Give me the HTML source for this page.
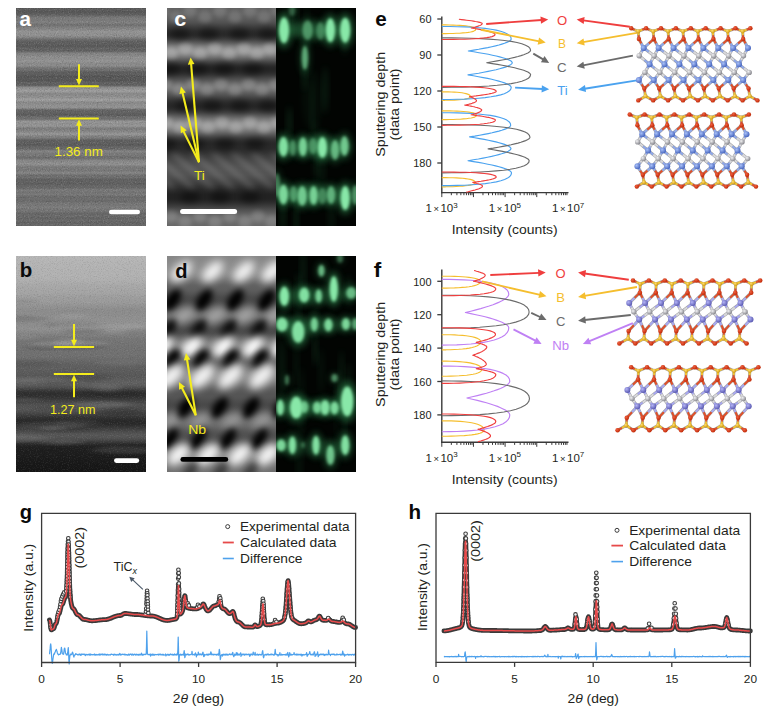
<!DOCTYPE html><html><head><meta charset="utf-8"><style>html,body{margin:0;padding:0;background:#fff;width:774px;height:714px;overflow:hidden}svg{display:block}text{font-family:"Liberation Sans",sans-serif}</style></head><body>
<svg width="774" height="714" viewBox="0 0 774 714">
<defs>
<filter id="noise" x="0" y="0" width="100%" height="100%"><feTurbulence type="fractalNoise" baseFrequency="0.85" numOctaves="2" seed="7" result="t"/><feColorMatrix in="t" type="matrix" values="0 0 0 0 0  0 0 0 0 0  0 0 0 0 0  0 0 0 -1.1 0.55"/></filter>
<filter id="noise2" x="0" y="0" width="100%" height="100%"><feTurbulence type="fractalNoise" baseFrequency="0.85" numOctaves="2" seed="11" result="t"/><feColorMatrix in="t" type="matrix" values="0 0 0 0 1  0 0 0 0 1  0 0 0 0 1  0 0 0 1.1 -0.55"/></filter>
<filter id="hblur" x="-10%" y="-10%" width="120%" height="120%"><feGaussianBlur stdDeviation="6 1.2"/></filter>
<filter id="blur2" x="-50%" y="-50%" width="200%" height="200%"><feGaussianBlur stdDeviation="2.2"/></filter>
<filter id="blur3" x="-50%" y="-50%" width="200%" height="200%"><feGaussianBlur stdDeviation="3.2"/></filter><filter id="blur4" x="-60%" y="-60%" width="220%" height="220%"><feGaussianBlur stdDeviation="4"/></filter><filter id="sblur" filterUnits="userSpaceOnUse" x="150" y="140" width="150" height="60"><feGaussianBlur stdDeviation="3"/></filter>
<filter id="gblur" x="-50%" y="-50%" width="200%" height="200%"><feGaussianBlur stdDeviation="1.6"/></filter>
<filter id="gglow" x="-50%" y="-50%" width="200%" height="200%"><feGaussianBlur stdDeviation="3"/></filter>
<clipPath id="ca"><rect x="16" y="8" width="130" height="218"/></clipPath>
<clipPath id="cb"><rect x="16" y="256" width="130" height="216"/></clipPath>
<clipPath id="cc"><rect x="167" y="8" width="109" height="218"/></clipPath>
<clipPath id="cd"><rect x="167" y="256" width="109" height="216"/></clipPath>
<clipPath id="cgc"><rect x="276" y="8" width="80" height="218"/></clipPath>
<clipPath id="cgd"><rect x="276" y="256" width="80" height="216"/></clipPath>
</defs>
<g clip-path="url(#ca)">
<linearGradient id="rg1" x1="0" y1="0" x2="0" y2="1"><stop offset="0.0000" stop-color="#555555"/><stop offset="0.0046" stop-color="#5a5a5a"/><stop offset="0.0092" stop-color="#5c5c5c"/><stop offset="0.0138" stop-color="#585858"/><stop offset="0.0183" stop-color="#565656"/><stop offset="0.0229" stop-color="#5a5a5a"/><stop offset="0.0275" stop-color="#5e5e5e"/><stop offset="0.0321" stop-color="#616161"/><stop offset="0.0367" stop-color="#6a6a6a"/><stop offset="0.0413" stop-color="#737373"/><stop offset="0.0459" stop-color="#797979"/><stop offset="0.0505" stop-color="#7b7b7b"/><stop offset="0.0550" stop-color="#797979"/><stop offset="0.0596" stop-color="#7b7b7b"/><stop offset="0.0642" stop-color="#808080"/><stop offset="0.0688" stop-color="#7e7e7e"/><stop offset="0.0734" stop-color="#757575"/><stop offset="0.0780" stop-color="#717171"/><stop offset="0.0826" stop-color="#757575"/><stop offset="0.0872" stop-color="#7d7d7d"/><stop offset="0.0917" stop-color="#838383"/><stop offset="0.0963" stop-color="#848484"/><stop offset="0.1009" stop-color="#898989"/><stop offset="0.1055" stop-color="#929292"/><stop offset="0.1101" stop-color="#949494"/><stop offset="0.1147" stop-color="#909090"/><stop offset="0.1193" stop-color="#909090"/><stop offset="0.1239" stop-color="#919191"/><stop offset="0.1284" stop-color="#8d8d8d"/><stop offset="0.1330" stop-color="#868686"/><stop offset="0.1376" stop-color="#7c7c7c"/><stop offset="0.1422" stop-color="#6f6f6f"/><stop offset="0.1468" stop-color="#686868"/><stop offset="0.1514" stop-color="#626262"/><stop offset="0.1560" stop-color="#5d5d5d"/><stop offset="0.1606" stop-color="#5d5d5d"/><stop offset="0.1651" stop-color="#5f5f5f"/><stop offset="0.1697" stop-color="#5b5b5b"/><stop offset="0.1743" stop-color="#575757"/><stop offset="0.1789" stop-color="#5b5b5b"/><stop offset="0.1835" stop-color="#626262"/><stop offset="0.1881" stop-color="#646464"/><stop offset="0.1927" stop-color="#606060"/><stop offset="0.1972" stop-color="#616161"/><stop offset="0.2018" stop-color="#6e6e6e"/><stop offset="0.2064" stop-color="#808080"/><stop offset="0.2110" stop-color="#848484"/><stop offset="0.2156" stop-color="#838383"/><stop offset="0.2202" stop-color="#8b8b8b"/><stop offset="0.2248" stop-color="#909090"/><stop offset="0.2294" stop-color="#8e8e8e"/><stop offset="0.2339" stop-color="#8d8d8d"/><stop offset="0.2385" stop-color="#919191"/><stop offset="0.2431" stop-color="#959595"/><stop offset="0.2477" stop-color="#919191"/><stop offset="0.2523" stop-color="#8a8a8a"/><stop offset="0.2569" stop-color="#888888"/><stop offset="0.2615" stop-color="#8d8d8d"/><stop offset="0.2661" stop-color="#8a8a8a"/><stop offset="0.2706" stop-color="#7e7e7e"/><stop offset="0.2752" stop-color="#737373"/><stop offset="0.2798" stop-color="#707070"/><stop offset="0.2844" stop-color="#707070"/><stop offset="0.2890" stop-color="#686868"/><stop offset="0.2936" stop-color="#5d5d5d"/><stop offset="0.2982" stop-color="#5c5c5c"/><stop offset="0.3028" stop-color="#606060"/><stop offset="0.3073" stop-color="#5c5c5c"/><stop offset="0.3119" stop-color="#555555"/><stop offset="0.3165" stop-color="#545454"/><stop offset="0.3211" stop-color="#595959"/><stop offset="0.3257" stop-color="#595959"/><stop offset="0.3303" stop-color="#555555"/><stop offset="0.3349" stop-color="#565656"/><stop offset="0.3394" stop-color="#5e5e5e"/><stop offset="0.3440" stop-color="#626262"/><stop offset="0.3486" stop-color="#5f5f5f"/><stop offset="0.3532" stop-color="#5c5c5c"/><stop offset="0.3578" stop-color="#6c6c6c"/><stop offset="0.3624" stop-color="#878787"/><stop offset="0.3670" stop-color="#909090"/><stop offset="0.3716" stop-color="#929292"/><stop offset="0.3761" stop-color="#9a9a9a"/><stop offset="0.3807" stop-color="#9e9e9e"/><stop offset="0.3853" stop-color="#989898"/><stop offset="0.3899" stop-color="#8c8c8c"/><stop offset="0.3945" stop-color="#878787"/><stop offset="0.3991" stop-color="#8a8a8a"/><stop offset="0.4037" stop-color="#8e8e8e"/><stop offset="0.4083" stop-color="#8f8f8f"/><stop offset="0.4128" stop-color="#939393"/><stop offset="0.4174" stop-color="#9c9c9c"/><stop offset="0.4220" stop-color="#9f9f9f"/><stop offset="0.4266" stop-color="#979797"/><stop offset="0.4312" stop-color="#8b8b8b"/><stop offset="0.4358" stop-color="#888888"/><stop offset="0.4404" stop-color="#8c8c8c"/><stop offset="0.4450" stop-color="#8f8f8f"/><stop offset="0.4495" stop-color="#909090"/><stop offset="0.4541" stop-color="#939393"/><stop offset="0.4587" stop-color="#8d8d8d"/><stop offset="0.4633" stop-color="#767676"/><stop offset="0.4679" stop-color="#656565"/><stop offset="0.4725" stop-color="#626262"/><stop offset="0.4771" stop-color="#636363"/><stop offset="0.4817" stop-color="#626262"/><stop offset="0.4862" stop-color="#5c5c5c"/><stop offset="0.4908" stop-color="#5a5a5a"/><stop offset="0.4954" stop-color="#636363"/><stop offset="0.5000" stop-color="#6e6e6e"/><stop offset="0.5046" stop-color="#6d6d6d"/><stop offset="0.5092" stop-color="#6e6e6e"/><stop offset="0.5138" stop-color="#7e7e7e"/><stop offset="0.5183" stop-color="#919191"/><stop offset="0.5229" stop-color="#979797"/><stop offset="0.5275" stop-color="#919191"/><stop offset="0.5321" stop-color="#909090"/><stop offset="0.5367" stop-color="#949494"/><stop offset="0.5413" stop-color="#969696"/><stop offset="0.5459" stop-color="#8b8b8b"/><stop offset="0.5505" stop-color="#7d7d7d"/><stop offset="0.5550" stop-color="#7b7b7b"/><stop offset="0.5596" stop-color="#818181"/><stop offset="0.5642" stop-color="#858585"/><stop offset="0.5688" stop-color="#888888"/><stop offset="0.5734" stop-color="#909090"/><stop offset="0.5780" stop-color="#979797"/><stop offset="0.5826" stop-color="#919191"/><stop offset="0.5872" stop-color="#828282"/><stop offset="0.5917" stop-color="#7d7d7d"/><stop offset="0.5963" stop-color="#7b7b7b"/><stop offset="0.6009" stop-color="#6d6d6d"/><stop offset="0.6055" stop-color="#616161"/><stop offset="0.6101" stop-color="#5d5d5d"/><stop offset="0.6147" stop-color="#606060"/><stop offset="0.6193" stop-color="#616161"/><stop offset="0.6239" stop-color="#5c5c5c"/><stop offset="0.6284" stop-color="#595959"/><stop offset="0.6330" stop-color="#5f5f5f"/><stop offset="0.6376" stop-color="#676767"/><stop offset="0.6422" stop-color="#666666"/><stop offset="0.6468" stop-color="#686868"/><stop offset="0.6514" stop-color="#767676"/><stop offset="0.6560" stop-color="#838383"/><stop offset="0.6606" stop-color="#828282"/><stop offset="0.6651" stop-color="#7a7a7a"/><stop offset="0.6697" stop-color="#777777"/><stop offset="0.6743" stop-color="#797979"/><stop offset="0.6789" stop-color="#757575"/><stop offset="0.6835" stop-color="#6e6e6e"/><stop offset="0.6881" stop-color="#6c6c6c"/><stop offset="0.6927" stop-color="#767676"/><stop offset="0.6972" stop-color="#828282"/><stop offset="0.7018" stop-color="#888888"/><stop offset="0.7064" stop-color="#898989"/><stop offset="0.7110" stop-color="#8d8d8d"/><stop offset="0.7156" stop-color="#909090"/><stop offset="0.7202" stop-color="#8c8c8c"/><stop offset="0.7248" stop-color="#808080"/><stop offset="0.7294" stop-color="#797979"/><stop offset="0.7339" stop-color="#797979"/><stop offset="0.7385" stop-color="#7a7a7a"/><stop offset="0.7431" stop-color="#777777"/><stop offset="0.7477" stop-color="#787878"/><stop offset="0.7523" stop-color="#808080"/><stop offset="0.7569" stop-color="#858585"/><stop offset="0.7615" stop-color="#7d7d7d"/><stop offset="0.7661" stop-color="#6f6f6f"/><stop offset="0.7706" stop-color="#6d6d6d"/><stop offset="0.7752" stop-color="#707070"/><stop offset="0.7798" stop-color="#6c6c6c"/><stop offset="0.7844" stop-color="#626262"/><stop offset="0.7890" stop-color="#5e5e5e"/><stop offset="0.7936" stop-color="#626262"/><stop offset="0.7982" stop-color="#636363"/><stop offset="0.8028" stop-color="#5f5f5f"/><stop offset="0.8073" stop-color="#5e5e5e"/><stop offset="0.8119" stop-color="#636363"/><stop offset="0.8165" stop-color="#666666"/><stop offset="0.8211" stop-color="#666666"/><stop offset="0.8257" stop-color="#686868"/><stop offset="0.8303" stop-color="#727272"/><stop offset="0.8349" stop-color="#7a7a7a"/><stop offset="0.8394" stop-color="#787878"/><stop offset="0.8440" stop-color="#737373"/><stop offset="0.8486" stop-color="#737373"/><stop offset="0.8532" stop-color="#797979"/><stop offset="0.8578" stop-color="#787878"/><stop offset="0.8624" stop-color="#6e6e6e"/><stop offset="0.8670" stop-color="#696969"/><stop offset="0.8716" stop-color="#6c6c6c"/><stop offset="0.8761" stop-color="#6f6f6f"/><stop offset="0.8807" stop-color="#6c6c6c"/><stop offset="0.8853" stop-color="#696969"/><stop offset="0.8899" stop-color="#6e6e6e"/><stop offset="0.8945" stop-color="#757575"/><stop offset="0.8991" stop-color="#777777"/><stop offset="0.9037" stop-color="#757575"/><stop offset="0.9083" stop-color="#787878"/><stop offset="0.9128" stop-color="#7d7d7d"/><stop offset="0.9174" stop-color="#7c7c7c"/><stop offset="0.9220" stop-color="#757575"/><stop offset="0.9266" stop-color="#747474"/><stop offset="0.9312" stop-color="#757575"/><stop offset="0.9358" stop-color="#707070"/><stop offset="0.9404" stop-color="#686868"/><stop offset="0.9450" stop-color="#646464"/><stop offset="0.9495" stop-color="#686868"/><stop offset="0.9541" stop-color="#6c6c6c"/><stop offset="0.9587" stop-color="#686868"/><stop offset="0.9633" stop-color="#636363"/><stop offset="0.9679" stop-color="#656565"/><stop offset="0.9725" stop-color="#6a6a6a"/><stop offset="0.9771" stop-color="#696969"/><stop offset="0.9817" stop-color="#636363"/><stop offset="0.9862" stop-color="#626262"/><stop offset="0.9908" stop-color="#676767"/><stop offset="0.9954" stop-color="#686868"/><stop offset="1.0000" stop-color="#636363"/></linearGradient>
<rect x="16" y="8" width="130" height="218" fill="url(#rg1)"/>
<rect x="16" y="8" width="130" height="218" filter="url(#noise)" opacity="0.38"/>
<rect x="16" y="8" width="130" height="218" filter="url(#noise2)" opacity="0.38"/>
</g>
<g clip-path="url(#cb)">
<linearGradient id="rg2" x1="0" y1="0" x2="0" y2="1"><stop offset="0.0000" stop-color="#b6b6b6"/><stop offset="0.0093" stop-color="#b6b6b6"/><stop offset="0.0185" stop-color="#b6b6b6"/><stop offset="0.0278" stop-color="#b5b5b5"/><stop offset="0.0370" stop-color="#b4b4b4"/><stop offset="0.0463" stop-color="#b4b4b4"/><stop offset="0.0556" stop-color="#b3b3b3"/><stop offset="0.0648" stop-color="#b3b3b3"/><stop offset="0.0741" stop-color="#b2b2b2"/><stop offset="0.0833" stop-color="#b2b2b2"/><stop offset="0.0926" stop-color="#b2b2b2"/><stop offset="0.1019" stop-color="#b1b1b1"/><stop offset="0.1111" stop-color="#afafaf"/><stop offset="0.1204" stop-color="#adadad"/><stop offset="0.1296" stop-color="#aaaaaa"/><stop offset="0.1389" stop-color="#a8a8a8"/><stop offset="0.1481" stop-color="#a7a7a7"/><stop offset="0.1574" stop-color="#a6a6a6"/><stop offset="0.1667" stop-color="#a5a5a5"/><stop offset="0.1759" stop-color="#a3a3a3"/><stop offset="0.1852" stop-color="#9f9f9f"/><stop offset="0.1944" stop-color="#9d9d9d"/><stop offset="0.2037" stop-color="#9c9c9c"/><stop offset="0.2130" stop-color="#9b9b9b"/><stop offset="0.2222" stop-color="#979797"/><stop offset="0.2315" stop-color="#939393"/><stop offset="0.2407" stop-color="#8f8f8f"/><stop offset="0.2500" stop-color="#8c8c8c"/><stop offset="0.2593" stop-color="#8c8c8c"/><stop offset="0.2685" stop-color="#8d8d8d"/><stop offset="0.2778" stop-color="#8e8e8e"/><stop offset="0.2870" stop-color="#8f8f8f"/><stop offset="0.2963" stop-color="#909090"/><stop offset="0.3056" stop-color="#919191"/><stop offset="0.3148" stop-color="#929292"/><stop offset="0.3241" stop-color="#929292"/><stop offset="0.3333" stop-color="#919191"/><stop offset="0.3426" stop-color="#8e8e8e"/><stop offset="0.3519" stop-color="#898989"/><stop offset="0.3611" stop-color="#838383"/><stop offset="0.3704" stop-color="#7d7d7d"/><stop offset="0.3796" stop-color="#787878"/><stop offset="0.3889" stop-color="#757575"/><stop offset="0.3981" stop-color="#747474"/><stop offset="0.4074" stop-color="#747474"/><stop offset="0.4167" stop-color="#737373"/><stop offset="0.4259" stop-color="#727272"/><stop offset="0.4352" stop-color="#717171"/><stop offset="0.4444" stop-color="#717171"/><stop offset="0.4537" stop-color="#707070"/><stop offset="0.4630" stop-color="#707070"/><stop offset="0.4722" stop-color="#6d6d6d"/><stop offset="0.4815" stop-color="#696969"/><stop offset="0.4907" stop-color="#656565"/><stop offset="0.5000" stop-color="#616161"/><stop offset="0.5093" stop-color="#606060"/><stop offset="0.5185" stop-color="#5f5f5f"/><stop offset="0.5278" stop-color="#5d5d5d"/><stop offset="0.5370" stop-color="#5b5b5b"/><stop offset="0.5463" stop-color="#595959"/><stop offset="0.5556" stop-color="#585858"/><stop offset="0.5648" stop-color="#5a5a5a"/><stop offset="0.5741" stop-color="#5d5d5d"/><stop offset="0.5833" stop-color="#606060"/><stop offset="0.5926" stop-color="#5f5f5f"/><stop offset="0.6019" stop-color="#575757"/><stop offset="0.6111" stop-color="#4b4b4b"/><stop offset="0.6204" stop-color="#3d3d3d"/><stop offset="0.6296" stop-color="#323232"/><stop offset="0.6389" stop-color="#2e2e2e"/><stop offset="0.6481" stop-color="#303030"/><stop offset="0.6574" stop-color="#353535"/><stop offset="0.6667" stop-color="#3d3d3d"/><stop offset="0.6759" stop-color="#454545"/><stop offset="0.6852" stop-color="#4d4d4d"/><stop offset="0.6944" stop-color="#525252"/><stop offset="0.7037" stop-color="#545454"/><stop offset="0.7130" stop-color="#525252"/><stop offset="0.7222" stop-color="#4c4c4c"/><stop offset="0.7315" stop-color="#434343"/><stop offset="0.7407" stop-color="#393939"/><stop offset="0.7500" stop-color="#303030"/><stop offset="0.7593" stop-color="#2a2a2a"/><stop offset="0.7685" stop-color="#282828"/><stop offset="0.7778" stop-color="#2a2a2a"/><stop offset="0.7870" stop-color="#313131"/><stop offset="0.7963" stop-color="#3a3a3a"/><stop offset="0.8056" stop-color="#444444"/><stop offset="0.8148" stop-color="#4d4d4d"/><stop offset="0.8241" stop-color="#545454"/><stop offset="0.8333" stop-color="#565656"/><stop offset="0.8426" stop-color="#525252"/><stop offset="0.8519" stop-color="#484848"/><stop offset="0.8611" stop-color="#3a3a3a"/><stop offset="0.8704" stop-color="#2c2c2c"/><stop offset="0.8796" stop-color="#222222"/><stop offset="0.8889" stop-color="#1e1e1e"/><stop offset="0.8981" stop-color="#1e1e1e"/><stop offset="0.9074" stop-color="#1d1d1d"/><stop offset="0.9167" stop-color="#1d1d1d"/><stop offset="0.9259" stop-color="#1c1c1c"/><stop offset="0.9352" stop-color="#1b1b1b"/><stop offset="0.9444" stop-color="#1a1a1a"/><stop offset="0.9537" stop-color="#191919"/><stop offset="0.9630" stop-color="#181818"/><stop offset="0.9722" stop-color="#171717"/><stop offset="0.9815" stop-color="#171717"/><stop offset="0.9907" stop-color="#161616"/><stop offset="1.0000" stop-color="#161616"/></linearGradient>
<rect x="16" y="256" width="130" height="216" fill="url(#rg2)"/>
<ellipse cx="112.4" cy="393.4" rx="29.9" ry="3.7" fill="#000000" opacity="0.10" filter="url(#hblur)"/>
<ellipse cx="22.7" cy="337.4" rx="13.9" ry="2.9" fill="#ffffff" opacity="0.07" filter="url(#hblur)"/>
<ellipse cx="90.6" cy="381.6" rx="10.3" ry="2.8" fill="#000000" opacity="0.06" filter="url(#hblur)"/>
<ellipse cx="66.6" cy="430.1" rx="29.0" ry="2.3" fill="#000000" opacity="0.09" filter="url(#hblur)"/>
<ellipse cx="16.2" cy="319.0" rx="31.8" ry="3.5" fill="#000000" opacity="0.12" filter="url(#hblur)"/>
<ellipse cx="37.6" cy="324.9" rx="17.8" ry="3.1" fill="#000000" opacity="0.10" filter="url(#hblur)"/>
<ellipse cx="138.3" cy="330.7" rx="27.3" ry="2.6" fill="#ffffff" opacity="0.08" filter="url(#hblur)"/>
<ellipse cx="34.9" cy="324.9" rx="11.6" ry="3.6" fill="#ffffff" opacity="0.09" filter="url(#hblur)"/>
<ellipse cx="108.0" cy="389.4" rx="11.7" ry="3.6" fill="#ffffff" opacity="0.08" filter="url(#hblur)"/>
<ellipse cx="78.6" cy="347.4" rx="27.6" ry="2.5" fill="#000000" opacity="0.12" filter="url(#hblur)"/>
<ellipse cx="62.5" cy="442.4" rx="20.1" ry="2.7" fill="#ffffff" opacity="0.09" filter="url(#hblur)"/>
<ellipse cx="22.1" cy="301.4" rx="14.5" ry="2.2" fill="#000000" opacity="0.07" filter="url(#hblur)"/>
<ellipse cx="76.1" cy="422.9" rx="22.8" ry="3.6" fill="#ffffff" opacity="0.06" filter="url(#hblur)"/>
<ellipse cx="119.6" cy="412.3" rx="31.5" ry="2.9" fill="#000000" opacity="0.12" filter="url(#hblur)"/>
<ellipse cx="82.7" cy="331.3" rx="19.1" ry="2.7" fill="#000000" opacity="0.11" filter="url(#hblur)"/>
<ellipse cx="56.6" cy="381.8" rx="17.9" ry="3.6" fill="#000000" opacity="0.09" filter="url(#hblur)"/>
<ellipse cx="56.2" cy="408.2" rx="22.1" ry="2.2" fill="#000000" opacity="0.09" filter="url(#hblur)"/>
<ellipse cx="20.1" cy="438.5" rx="28.5" ry="3.7" fill="#ffffff" opacity="0.08" filter="url(#hblur)"/>
<ellipse cx="23.2" cy="363.3" rx="32.9" ry="3.6" fill="#000000" opacity="0.07" filter="url(#hblur)"/>
<ellipse cx="143.6" cy="331.1" rx="24.1" ry="3.3" fill="#000000" opacity="0.11" filter="url(#hblur)"/>
<ellipse cx="72.5" cy="316.0" rx="13.7" ry="2.6" fill="#ffffff" opacity="0.08" filter="url(#hblur)"/>
<ellipse cx="126.8" cy="449.9" rx="34.4" ry="3.9" fill="#ffffff" opacity="0.10" filter="url(#hblur)"/>
<ellipse cx="51.6" cy="347.7" rx="21.8" ry="2.2" fill="#000000" opacity="0.11" filter="url(#hblur)"/>
<ellipse cx="39.3" cy="379.8" rx="33.4" ry="2.4" fill="#ffffff" opacity="0.08" filter="url(#hblur)"/>
<ellipse cx="87.3" cy="377.3" rx="22.6" ry="3.6" fill="#000000" opacity="0.10" filter="url(#hblur)"/>
<ellipse cx="102.3" cy="404.2" rx="29.0" ry="3.1" fill="#ffffff" opacity="0.10" filter="url(#hblur)"/>
<ellipse cx="50.4" cy="425.3" rx="34.5" ry="3.9" fill="#ffffff" opacity="0.07" filter="url(#hblur)"/>
<ellipse cx="126.7" cy="326.8" rx="21.9" ry="2.7" fill="#ffffff" opacity="0.07" filter="url(#hblur)"/>
<ellipse cx="81.0" cy="343.3" rx="26.8" ry="2.7" fill="#ffffff" opacity="0.10" filter="url(#hblur)"/>
<ellipse cx="123.7" cy="410.7" rx="18.8" ry="3.7" fill="#000000" opacity="0.10" filter="url(#hblur)"/>
<ellipse cx="140.3" cy="446.4" rx="23.0" ry="2.4" fill="#000000" opacity="0.08" filter="url(#hblur)"/>
<ellipse cx="52.8" cy="428.1" rx="12.0" ry="2.3" fill="#ffffff" opacity="0.10" filter="url(#hblur)"/>
<ellipse cx="102.5" cy="387.1" rx="20.5" ry="3.4" fill="#ffffff" opacity="0.05" filter="url(#hblur)"/>
<ellipse cx="73.3" cy="324.0" rx="26.3" ry="3.5" fill="#000000" opacity="0.06" filter="url(#hblur)"/>
<ellipse cx="144.2" cy="407.8" rx="34.5" ry="2.1" fill="#000000" opacity="0.06" filter="url(#hblur)"/>
<ellipse cx="39.6" cy="347.6" rx="14.8" ry="2.8" fill="#000000" opacity="0.07" filter="url(#hblur)"/>
<ellipse cx="25.4" cy="399.4" rx="15.1" ry="2.0" fill="#ffffff" opacity="0.08" filter="url(#hblur)"/>
<ellipse cx="69.3" cy="341.8" rx="12.9" ry="3.9" fill="#ffffff" opacity="0.09" filter="url(#hblur)"/>
<ellipse cx="54.4" cy="345.2" rx="22.8" ry="3.9" fill="#ffffff" opacity="0.11" filter="url(#hblur)"/>
<ellipse cx="121.7" cy="362.9" rx="26.1" ry="2.9" fill="#ffffff" opacity="0.06" filter="url(#hblur)"/>
<rect x="16" y="256" width="130" height="216" filter="url(#noise)" opacity="0.25"/>
<rect x="16" y="256" width="130" height="216" filter="url(#noise2)" opacity="0.25"/>
</g>
<g clip-path="url(#cc)">
<linearGradient id="rg3" x1="0" y1="0" x2="0" y2="1"><stop offset="0.0000" stop-color="#5f5f5f"/><stop offset="0.0092" stop-color="#5f5f5f"/><stop offset="0.0183" stop-color="#5d5d5d"/><stop offset="0.0275" stop-color="#5c5c5c"/><stop offset="0.0367" stop-color="#5a5a5a"/><stop offset="0.0459" stop-color="#5a5a5a"/><stop offset="0.0550" stop-color="#585858"/><stop offset="0.0642" stop-color="#535353"/><stop offset="0.0734" stop-color="#4b4b4b"/><stop offset="0.0826" stop-color="#424242"/><stop offset="0.0917" stop-color="#393939"/><stop offset="0.1009" stop-color="#313131"/><stop offset="0.1101" stop-color="#2c2c2c"/><stop offset="0.1193" stop-color="#2a2a2a"/><stop offset="0.1284" stop-color="#2d2d2d"/><stop offset="0.1376" stop-color="#373737"/><stop offset="0.1468" stop-color="#454545"/><stop offset="0.1560" stop-color="#565656"/><stop offset="0.1651" stop-color="#686868"/><stop offset="0.1743" stop-color="#797979"/><stop offset="0.1835" stop-color="#858585"/><stop offset="0.1927" stop-color="#8b8b8b"/><stop offset="0.2018" stop-color="#8b8b8b"/><stop offset="0.2110" stop-color="#858585"/><stop offset="0.2202" stop-color="#797979"/><stop offset="0.2294" stop-color="#6a6a6a"/><stop offset="0.2385" stop-color="#585858"/><stop offset="0.2477" stop-color="#464646"/><stop offset="0.2569" stop-color="#373737"/><stop offset="0.2661" stop-color="#2b2b2b"/><stop offset="0.2752" stop-color="#252525"/><stop offset="0.2844" stop-color="#252525"/><stop offset="0.2936" stop-color="#292929"/><stop offset="0.3028" stop-color="#313131"/><stop offset="0.3119" stop-color="#3c3c3c"/><stop offset="0.3211" stop-color="#484848"/><stop offset="0.3303" stop-color="#545454"/><stop offset="0.3394" stop-color="#5f5f5f"/><stop offset="0.3486" stop-color="#676767"/><stop offset="0.3578" stop-color="#6b6b6b"/><stop offset="0.3670" stop-color="#6c6c6c"/><stop offset="0.3761" stop-color="#686868"/><stop offset="0.3853" stop-color="#616161"/><stop offset="0.3945" stop-color="#585858"/><stop offset="0.4037" stop-color="#4d4d4d"/><stop offset="0.4128" stop-color="#424242"/><stop offset="0.4220" stop-color="#373737"/><stop offset="0.4312" stop-color="#2f2f2f"/><stop offset="0.4404" stop-color="#2a2a2a"/><stop offset="0.4495" stop-color="#282828"/><stop offset="0.4587" stop-color="#2b2b2b"/><stop offset="0.4679" stop-color="#323232"/><stop offset="0.4771" stop-color="#3e3e3e"/><stop offset="0.4862" stop-color="#4d4d4d"/><stop offset="0.4954" stop-color="#5d5d5d"/><stop offset="0.5046" stop-color="#6d6d6d"/><stop offset="0.5138" stop-color="#7a7a7a"/><stop offset="0.5229" stop-color="#848484"/><stop offset="0.5321" stop-color="#898989"/><stop offset="0.5413" stop-color="#898989"/><stop offset="0.5505" stop-color="#848484"/><stop offset="0.5596" stop-color="#7a7a7a"/><stop offset="0.5688" stop-color="#6d6d6d"/><stop offset="0.5780" stop-color="#5d5d5d"/><stop offset="0.5872" stop-color="#4d4d4d"/><stop offset="0.5963" stop-color="#3e3e3e"/><stop offset="0.6055" stop-color="#323232"/><stop offset="0.6147" stop-color="#2b2b2b"/><stop offset="0.6239" stop-color="#282828"/><stop offset="0.6330" stop-color="#292929"/><stop offset="0.6422" stop-color="#2a2a2a"/><stop offset="0.6514" stop-color="#2d2d2d"/><stop offset="0.6606" stop-color="#313131"/><stop offset="0.6697" stop-color="#353535"/><stop offset="0.6789" stop-color="#3a3a3a"/><stop offset="0.6881" stop-color="#3e3e3e"/><stop offset="0.6972" stop-color="#434343"/><stop offset="0.7064" stop-color="#474747"/><stop offset="0.7156" stop-color="#4b4b4b"/><stop offset="0.7248" stop-color="#4e4e4e"/><stop offset="0.7339" stop-color="#4f4f4f"/><stop offset="0.7431" stop-color="#505050"/><stop offset="0.7523" stop-color="#4f4f4f"/><stop offset="0.7615" stop-color="#4e4e4e"/><stop offset="0.7706" stop-color="#4b4b4b"/><stop offset="0.7798" stop-color="#474747"/><stop offset="0.7890" stop-color="#424242"/><stop offset="0.7982" stop-color="#3d3d3d"/><stop offset="0.8073" stop-color="#383838"/><stop offset="0.8165" stop-color="#323232"/><stop offset="0.8257" stop-color="#2e2e2e"/><stop offset="0.8349" stop-color="#292929"/><stop offset="0.8440" stop-color="#262626"/><stop offset="0.8532" stop-color="#232323"/><stop offset="0.8624" stop-color="#222222"/><stop offset="0.8716" stop-color="#222222"/><stop offset="0.8807" stop-color="#252525"/><stop offset="0.8899" stop-color="#2b2b2b"/><stop offset="0.8991" stop-color="#333333"/><stop offset="0.9083" stop-color="#3c3c3c"/><stop offset="0.9174" stop-color="#464646"/><stop offset="0.9266" stop-color="#505050"/><stop offset="0.9358" stop-color="#595959"/><stop offset="0.9450" stop-color="#616161"/><stop offset="0.9541" stop-color="#676767"/><stop offset="0.9633" stop-color="#6a6a6a"/><stop offset="0.9725" stop-color="#6a6a6a"/><stop offset="0.9817" stop-color="#696969"/><stop offset="0.9908" stop-color="#686868"/><stop offset="1.0000" stop-color="#686868"/></linearGradient>
<rect x="167" y="8" width="109" height="218" fill="url(#rg3)"/>
<ellipse cx="157.0" cy="48.5" rx="7" ry="6" fill="#fff" opacity="0.22" filter="url(#blur2)"/>
<ellipse cx="171.0" cy="53.5" rx="7" ry="6" fill="#fff" opacity="0.22" filter="url(#blur2)"/>
<ellipse cx="185.5" cy="48.5" rx="7" ry="6" fill="#fff" opacity="0.22" filter="url(#blur2)"/>
<ellipse cx="200.0" cy="53.5" rx="7" ry="6" fill="#fff" opacity="0.22" filter="url(#blur2)"/>
<ellipse cx="214.8" cy="48.5" rx="7" ry="6" fill="#fff" opacity="0.22" filter="url(#blur2)"/>
<ellipse cx="229.0" cy="53.5" rx="7" ry="6" fill="#fff" opacity="0.22" filter="url(#blur2)"/>
<ellipse cx="244.0" cy="48.5" rx="7" ry="6" fill="#fff" opacity="0.22" filter="url(#blur2)"/>
<ellipse cx="257.0" cy="53.5" rx="7" ry="6" fill="#fff" opacity="0.22" filter="url(#blur2)"/>
<ellipse cx="270.0" cy="48.5" rx="7" ry="6" fill="#fff" opacity="0.22" filter="url(#blur2)"/>
<ellipse cx="165.0" cy="84.5" rx="7" ry="6" fill="#fff" opacity="0.18" filter="url(#blur2)"/>
<ellipse cx="179.0" cy="89.5" rx="7" ry="6" fill="#fff" opacity="0.18" filter="url(#blur2)"/>
<ellipse cx="193.0" cy="84.5" rx="7" ry="6" fill="#fff" opacity="0.18" filter="url(#blur2)"/>
<ellipse cx="207.0" cy="89.5" rx="7" ry="6" fill="#fff" opacity="0.18" filter="url(#blur2)"/>
<ellipse cx="221.0" cy="84.5" rx="7" ry="6" fill="#fff" opacity="0.18" filter="url(#blur2)"/>
<ellipse cx="235.0" cy="89.5" rx="7" ry="6" fill="#fff" opacity="0.18" filter="url(#blur2)"/>
<ellipse cx="248.7" cy="84.5" rx="7" ry="6" fill="#fff" opacity="0.18" filter="url(#blur2)"/>
<ellipse cx="262.0" cy="89.5" rx="7" ry="6" fill="#fff" opacity="0.18" filter="url(#blur2)"/>
<ellipse cx="276.0" cy="84.5" rx="7" ry="6" fill="#fff" opacity="0.18" filter="url(#blur2)"/>
<ellipse cx="166.0" cy="122.5" rx="7" ry="6" fill="#fff" opacity="0.22" filter="url(#blur2)"/>
<ellipse cx="180.0" cy="127.5" rx="7" ry="6" fill="#fff" opacity="0.22" filter="url(#blur2)"/>
<ellipse cx="194.0" cy="122.5" rx="7" ry="6" fill="#fff" opacity="0.22" filter="url(#blur2)"/>
<ellipse cx="208.0" cy="127.5" rx="7" ry="6" fill="#fff" opacity="0.22" filter="url(#blur2)"/>
<ellipse cx="222.0" cy="122.5" rx="7" ry="6" fill="#fff" opacity="0.22" filter="url(#blur2)"/>
<ellipse cx="236.0" cy="127.5" rx="7" ry="6" fill="#fff" opacity="0.22" filter="url(#blur2)"/>
<ellipse cx="250.0" cy="122.5" rx="7" ry="6" fill="#fff" opacity="0.22" filter="url(#blur2)"/>
<ellipse cx="264.0" cy="127.5" rx="7" ry="6" fill="#fff" opacity="0.22" filter="url(#blur2)"/>
<ellipse cx="278.0" cy="122.5" rx="7" ry="6" fill="#fff" opacity="0.22" filter="url(#blur2)"/>
<ellipse cx="162.0" cy="11.5" rx="7" ry="6" fill="#fff" opacity="0.15" filter="url(#blur2)"/>
<ellipse cx="176.0" cy="16.5" rx="7" ry="6" fill="#fff" opacity="0.15" filter="url(#blur2)"/>
<ellipse cx="190.0" cy="11.5" rx="7" ry="6" fill="#fff" opacity="0.15" filter="url(#blur2)"/>
<ellipse cx="205.0" cy="16.5" rx="7" ry="6" fill="#fff" opacity="0.15" filter="url(#blur2)"/>
<ellipse cx="220.0" cy="11.5" rx="7" ry="6" fill="#fff" opacity="0.15" filter="url(#blur2)"/>
<ellipse cx="235.0" cy="16.5" rx="7" ry="6" fill="#fff" opacity="0.15" filter="url(#blur2)"/>
<ellipse cx="250.0" cy="11.5" rx="7" ry="6" fill="#fff" opacity="0.15" filter="url(#blur2)"/>
<ellipse cx="264.0" cy="16.5" rx="7" ry="6" fill="#fff" opacity="0.15" filter="url(#blur2)"/>
<ellipse cx="278.0" cy="11.5" rx="7" ry="6" fill="#fff" opacity="0.15" filter="url(#blur2)"/>
<ellipse cx="171.0" cy="216.5" rx="7" ry="6" fill="#fff" opacity="0.15" filter="url(#blur2)"/>
<ellipse cx="185.0" cy="221.5" rx="7" ry="6" fill="#fff" opacity="0.15" filter="url(#blur2)"/>
<ellipse cx="200.0" cy="216.5" rx="7" ry="6" fill="#fff" opacity="0.15" filter="url(#blur2)"/>
<ellipse cx="215.0" cy="221.5" rx="7" ry="6" fill="#fff" opacity="0.15" filter="url(#blur2)"/>
<ellipse cx="230.0" cy="216.5" rx="7" ry="6" fill="#fff" opacity="0.15" filter="url(#blur2)"/>
<ellipse cx="245.0" cy="221.5" rx="7" ry="6" fill="#fff" opacity="0.15" filter="url(#blur2)"/>
<ellipse cx="258.0" cy="216.5" rx="7" ry="6" fill="#fff" opacity="0.15" filter="url(#blur2)"/>
<ellipse cx="272.0" cy="221.5" rx="7" ry="6" fill="#fff" opacity="0.15" filter="url(#blur2)"/>
<ellipse cx="180.0" cy="34.0" rx="10" ry="6" fill="#000" opacity="0.4" filter="url(#blur3)"/>
<ellipse cx="208.6" cy="34.0" rx="10" ry="6" fill="#000" opacity="0.4" filter="url(#blur3)"/>
<ellipse cx="239.4" cy="34.0" rx="10" ry="6" fill="#000" opacity="0.4" filter="url(#blur3)"/>
<ellipse cx="268.0" cy="34.0" rx="10" ry="6" fill="#000" opacity="0.4" filter="url(#blur3)"/>
<ellipse cx="170.0" cy="69.0" rx="10" ry="6" fill="#000" opacity="0.4" filter="url(#blur3)"/>
<ellipse cx="197.8" cy="69.0" rx="10" ry="6" fill="#000" opacity="0.4" filter="url(#blur3)"/>
<ellipse cx="224.0" cy="69.0" rx="10" ry="6" fill="#000" opacity="0.4" filter="url(#blur3)"/>
<ellipse cx="253.0" cy="69.0" rx="10" ry="6" fill="#000" opacity="0.4" filter="url(#blur3)"/>
<ellipse cx="185.0" cy="106.0" rx="10" ry="6" fill="#000" opacity="0.4" filter="url(#blur3)"/>
<ellipse cx="212.0" cy="106.0" rx="10" ry="6" fill="#000" opacity="0.4" filter="url(#blur3)"/>
<ellipse cx="240.0" cy="106.0" rx="10" ry="6" fill="#000" opacity="0.4" filter="url(#blur3)"/>
<ellipse cx="268.0" cy="106.0" rx="10" ry="6" fill="#000" opacity="0.4" filter="url(#blur3)"/>
<ellipse cx="167.0" cy="144.0" rx="10" ry="6" fill="#000" opacity="0.4" filter="url(#blur3)"/>
<ellipse cx="195.0" cy="144.0" rx="10" ry="6" fill="#000" opacity="0.4" filter="url(#blur3)"/>
<ellipse cx="225.0" cy="144.0" rx="10" ry="6" fill="#000" opacity="0.4" filter="url(#blur3)"/>
<ellipse cx="255.0" cy="144.0" rx="10" ry="6" fill="#000" opacity="0.4" filter="url(#blur3)"/>
<ellipse cx="190.0" cy="197.0" rx="10" ry="6" fill="#000" opacity="0.4" filter="url(#blur3)"/>
<ellipse cx="220.0" cy="197.0" rx="10" ry="6" fill="#000" opacity="0.4" filter="url(#blur3)"/>
<ellipse cx="250.0" cy="197.0" rx="10" ry="6" fill="#000" opacity="0.4" filter="url(#blur3)"/>
<g filter="url(#sblur)" opacity="0.22">
<path d="M130.0,154 L136.0,154 L176.0,188 L170.0,188 Z" fill="#fff"/>
<path d="M150.0,154 L156.0,154 L196.0,188 L190.0,188 Z" fill="#fff"/>
<path d="M170.0,154 L176.0,154 L216.0,188 L210.0,188 Z" fill="#fff"/>
<path d="M190.0,154 L196.0,154 L236.0,188 L230.0,188 Z" fill="#fff"/>
<path d="M210.0,154 L216.0,154 L256.0,188 L250.0,188 Z" fill="#fff"/>
<path d="M230.0,154 L236.0,154 L276.0,188 L270.0,188 Z" fill="#fff"/>
<path d="M250.0,154 L256.0,154 L296.0,188 L290.0,188 Z" fill="#fff"/>
<path d="M270.0,154 L276.0,154 L316.0,188 L310.0,188 Z" fill="#fff"/>
</g>
</g>
<g clip-path="url(#cd)">
<linearGradient id="rg4" x1="0" y1="0" x2="0" y2="1"><stop offset="0.0000" stop-color="#878787"/><stop offset="0.0093" stop-color="#878787"/><stop offset="0.0185" stop-color="#888888"/><stop offset="0.0278" stop-color="#898989"/><stop offset="0.0370" stop-color="#8a8a8a"/><stop offset="0.0463" stop-color="#8a8a8a"/><stop offset="0.0556" stop-color="#8b8b8b"/><stop offset="0.0648" stop-color="#8c8c8c"/><stop offset="0.0741" stop-color="#8c8c8c"/><stop offset="0.0833" stop-color="#8a8a8a"/><stop offset="0.0926" stop-color="#858585"/><stop offset="0.1019" stop-color="#7e7e7e"/><stop offset="0.1111" stop-color="#767676"/><stop offset="0.1204" stop-color="#6d6d6d"/><stop offset="0.1296" stop-color="#666666"/><stop offset="0.1389" stop-color="#616161"/><stop offset="0.1481" stop-color="#5f5f5f"/><stop offset="0.1574" stop-color="#5d5d5d"/><stop offset="0.1667" stop-color="#595959"/><stop offset="0.1759" stop-color="#545454"/><stop offset="0.1852" stop-color="#4e4e4e"/><stop offset="0.1944" stop-color="#4a4a4a"/><stop offset="0.2037" stop-color="#484848"/><stop offset="0.2130" stop-color="#4a4a4a"/><stop offset="0.2222" stop-color="#505050"/><stop offset="0.2315" stop-color="#585858"/><stop offset="0.2407" stop-color="#616161"/><stop offset="0.2500" stop-color="#6a6a6a"/><stop offset="0.2593" stop-color="#727272"/><stop offset="0.2685" stop-color="#757575"/><stop offset="0.2778" stop-color="#757575"/><stop offset="0.2870" stop-color="#727272"/><stop offset="0.2963" stop-color="#6a6a6a"/><stop offset="0.3056" stop-color="#616161"/><stop offset="0.3148" stop-color="#585858"/><stop offset="0.3241" stop-color="#505050"/><stop offset="0.3333" stop-color="#4a4a4a"/><stop offset="0.3426" stop-color="#484848"/><stop offset="0.3519" stop-color="#4a4a4a"/><stop offset="0.3611" stop-color="#505050"/><stop offset="0.3704" stop-color="#5a5a5a"/><stop offset="0.3796" stop-color="#656565"/><stop offset="0.3889" stop-color="#707070"/><stop offset="0.3981" stop-color="#7a7a7a"/><stop offset="0.4074" stop-color="#808080"/><stop offset="0.4167" stop-color="#828282"/><stop offset="0.4259" stop-color="#7f7f7f"/><stop offset="0.4352" stop-color="#777777"/><stop offset="0.4444" stop-color="#6c6c6c"/><stop offset="0.4537" stop-color="#606060"/><stop offset="0.4630" stop-color="#585858"/><stop offset="0.4722" stop-color="#555555"/><stop offset="0.4815" stop-color="#575757"/><stop offset="0.4907" stop-color="#5b5b5b"/><stop offset="0.5000" stop-color="#626262"/><stop offset="0.5093" stop-color="#6a6a6a"/><stop offset="0.5185" stop-color="#727272"/><stop offset="0.5278" stop-color="#7a7a7a"/><stop offset="0.5370" stop-color="#818181"/><stop offset="0.5463" stop-color="#858585"/><stop offset="0.5556" stop-color="#878787"/><stop offset="0.5648" stop-color="#868686"/><stop offset="0.5741" stop-color="#828282"/><stop offset="0.5833" stop-color="#7c7c7c"/><stop offset="0.5926" stop-color="#747474"/><stop offset="0.6019" stop-color="#6c6c6c"/><stop offset="0.6111" stop-color="#646464"/><stop offset="0.6204" stop-color="#5d5d5d"/><stop offset="0.6296" stop-color="#585858"/><stop offset="0.6389" stop-color="#555555"/><stop offset="0.6481" stop-color="#555555"/><stop offset="0.6574" stop-color="#535353"/><stop offset="0.6667" stop-color="#4f4f4f"/><stop offset="0.6759" stop-color="#4c4c4c"/><stop offset="0.6852" stop-color="#494949"/><stop offset="0.6944" stop-color="#484848"/><stop offset="0.7037" stop-color="#4a4a4a"/><stop offset="0.7130" stop-color="#505050"/><stop offset="0.7222" stop-color="#595959"/><stop offset="0.7315" stop-color="#626262"/><stop offset="0.7407" stop-color="#6b6b6b"/><stop offset="0.7500" stop-color="#717171"/><stop offset="0.7593" stop-color="#737373"/><stop offset="0.7685" stop-color="#727272"/><stop offset="0.7778" stop-color="#6e6e6e"/><stop offset="0.7870" stop-color="#696969"/><stop offset="0.7963" stop-color="#626262"/><stop offset="0.8056" stop-color="#5b5b5b"/><stop offset="0.8148" stop-color="#555555"/><stop offset="0.8241" stop-color="#515151"/><stop offset="0.8333" stop-color="#4e4e4e"/><stop offset="0.8426" stop-color="#4f4f4f"/><stop offset="0.8519" stop-color="#535353"/><stop offset="0.8611" stop-color="#5a5a5a"/><stop offset="0.8704" stop-color="#656565"/><stop offset="0.8796" stop-color="#707070"/><stop offset="0.8889" stop-color="#7b7b7b"/><stop offset="0.8981" stop-color="#848484"/><stop offset="0.9074" stop-color="#8a8a8a"/><stop offset="0.9167" stop-color="#8c8c8c"/><stop offset="0.9259" stop-color="#8b8b8b"/><stop offset="0.9352" stop-color="#888888"/><stop offset="0.9444" stop-color="#848484"/><stop offset="0.9537" stop-color="#808080"/><stop offset="0.9630" stop-color="#7a7a7a"/><stop offset="0.9722" stop-color="#767676"/><stop offset="0.9815" stop-color="#727272"/><stop offset="0.9907" stop-color="#6f6f6f"/><stop offset="1.0000" stop-color="#6e6e6e"/></linearGradient>
<rect x="167" y="256" width="109" height="216" fill="url(#rg4)"/>
<ellipse cx="150.0" cy="271.6" rx="13.2" ry="6.9" fill="#fff" opacity="0.90" filter="url(#blur4)" transform="rotate(-45 150.0 271.6)"/>
<ellipse cx="181.2" cy="271.6" rx="13.2" ry="6.9" fill="#fff" opacity="0.90" filter="url(#blur4)" transform="rotate(-45 181.2 271.6)"/>
<ellipse cx="212.5" cy="271.6" rx="13.2" ry="6.9" fill="#fff" opacity="0.90" filter="url(#blur4)" transform="rotate(-45 212.5 271.6)"/>
<ellipse cx="243.7" cy="271.6" rx="13.2" ry="6.9" fill="#fff" opacity="0.90" filter="url(#blur4)" transform="rotate(-45 243.7 271.6)"/>
<ellipse cx="272.0" cy="271.6" rx="13.2" ry="6.9" fill="#fff" opacity="0.90" filter="url(#blur4)" transform="rotate(-45 272.0 271.6)"/>
<ellipse cx="172.7" cy="300.0" rx="12.1" ry="6.2" fill="#000" opacity="1.00" filter="url(#blur3)" transform="rotate(-56 172.7 300.0)"/>
<ellipse cx="204.0" cy="300.0" rx="12.1" ry="6.2" fill="#000" opacity="1.00" filter="url(#blur3)" transform="rotate(-56 204.0 300.0)"/>
<ellipse cx="235.2" cy="300.0" rx="12.1" ry="6.2" fill="#000" opacity="1.00" filter="url(#blur3)" transform="rotate(-56 235.2 300.0)"/>
<ellipse cx="266.5" cy="300.0" rx="12.1" ry="6.2" fill="#000" opacity="1.00" filter="url(#blur3)" transform="rotate(-56 266.5 300.0)"/>
<ellipse cx="297.0" cy="300.0" rx="12.1" ry="6.2" fill="#000" opacity="1.00" filter="url(#blur3)" transform="rotate(-56 297.0 300.0)"/>
<ellipse cx="184.0" cy="315.7" rx="12.0" ry="5.8" fill="#fff" opacity="0.35" filter="url(#blur4)" transform="rotate(-45 184.0 315.7)"/>
<ellipse cx="215.3" cy="315.7" rx="12.0" ry="5.8" fill="#fff" opacity="0.35" filter="url(#blur4)" transform="rotate(-45 215.3 315.7)"/>
<ellipse cx="245.0" cy="315.7" rx="12.0" ry="5.8" fill="#fff" opacity="0.35" filter="url(#blur4)" transform="rotate(-45 245.0 315.7)"/>
<ellipse cx="275.0" cy="315.7" rx="12.0" ry="5.8" fill="#fff" opacity="0.35" filter="url(#blur4)" transform="rotate(-45 275.0 315.7)"/>
<ellipse cx="168.0" cy="330.0" rx="12.1" ry="5.7" fill="#000" opacity="0.86" filter="url(#blur3)" transform="rotate(-56 168.0 330.0)"/>
<ellipse cx="198.0" cy="330.0" rx="12.1" ry="5.7" fill="#000" opacity="0.86" filter="url(#blur3)" transform="rotate(-56 198.0 330.0)"/>
<ellipse cx="228.0" cy="330.0" rx="12.1" ry="5.7" fill="#000" opacity="0.86" filter="url(#blur3)" transform="rotate(-56 228.0 330.0)"/>
<ellipse cx="258.0" cy="330.0" rx="12.1" ry="5.7" fill="#000" opacity="0.86" filter="url(#blur3)" transform="rotate(-56 258.0 330.0)"/>
<ellipse cx="288.0" cy="330.0" rx="12.1" ry="5.7" fill="#000" opacity="0.86" filter="url(#blur3)" transform="rotate(-56 288.0 330.0)"/>
<ellipse cx="162.0" cy="346.7" rx="13.2" ry="6.9" fill="#fff" opacity="1.00" filter="url(#blur4)" transform="rotate(-45 162.0 346.7)"/>
<ellipse cx="191.7" cy="346.7" rx="13.2" ry="6.9" fill="#fff" opacity="1.00" filter="url(#blur4)" transform="rotate(-45 191.7 346.7)"/>
<ellipse cx="223.0" cy="346.7" rx="13.2" ry="6.9" fill="#fff" opacity="1.00" filter="url(#blur4)" transform="rotate(-45 223.0 346.7)"/>
<ellipse cx="252.7" cy="346.7" rx="13.2" ry="6.9" fill="#fff" opacity="1.00" filter="url(#blur4)" transform="rotate(-45 252.7 346.7)"/>
<ellipse cx="282.0" cy="346.7" rx="13.2" ry="6.9" fill="#fff" opacity="1.00" filter="url(#blur4)" transform="rotate(-45 282.0 346.7)"/>
<ellipse cx="172.4" cy="358.6" rx="11.0" ry="5.2" fill="#000" opacity="1.00" filter="url(#blur3)" transform="rotate(-56 172.4 358.6)"/>
<ellipse cx="200.7" cy="358.6" rx="11.0" ry="5.2" fill="#000" opacity="1.00" filter="url(#blur3)" transform="rotate(-56 200.7 358.6)"/>
<ellipse cx="230.4" cy="358.6" rx="11.0" ry="5.2" fill="#000" opacity="1.00" filter="url(#blur3)" transform="rotate(-56 230.4 358.6)"/>
<ellipse cx="260.0" cy="358.6" rx="11.0" ry="5.2" fill="#000" opacity="1.00" filter="url(#blur3)" transform="rotate(-56 260.0 358.6)"/>
<ellipse cx="171.0" cy="376.5" rx="15.6" ry="7.5" fill="#fff" opacity="0.90" filter="url(#blur4)" transform="rotate(-45 171.0 376.5)"/>
<ellipse cx="202.0" cy="376.5" rx="15.6" ry="7.5" fill="#fff" opacity="0.90" filter="url(#blur4)" transform="rotate(-45 202.0 376.5)"/>
<ellipse cx="230.4" cy="376.5" rx="15.6" ry="7.5" fill="#fff" opacity="0.90" filter="url(#blur4)" transform="rotate(-45 230.4 376.5)"/>
<ellipse cx="261.6" cy="376.5" rx="15.6" ry="7.5" fill="#fff" opacity="0.90" filter="url(#blur4)" transform="rotate(-45 261.6 376.5)"/>
<ellipse cx="155.0" cy="407.8" rx="12.1" ry="6.2" fill="#000" opacity="1.00" filter="url(#blur3)" transform="rotate(-56 155.0 407.8)"/>
<ellipse cx="185.5" cy="407.8" rx="12.1" ry="6.2" fill="#000" opacity="1.00" filter="url(#blur3)" transform="rotate(-56 185.5 407.8)"/>
<ellipse cx="219.6" cy="407.8" rx="12.1" ry="6.2" fill="#000" opacity="1.00" filter="url(#blur3)" transform="rotate(-56 219.6 407.8)"/>
<ellipse cx="250.9" cy="407.8" rx="12.1" ry="6.2" fill="#000" opacity="1.00" filter="url(#blur3)" transform="rotate(-56 250.9 407.8)"/>
<ellipse cx="281.0" cy="407.8" rx="12.1" ry="6.2" fill="#000" opacity="1.00" filter="url(#blur3)" transform="rotate(-56 281.0 407.8)"/>
<ellipse cx="170.0" cy="420.6" rx="12.0" ry="5.8" fill="#fff" opacity="0.25" filter="url(#blur4)" transform="rotate(-45 170.0 420.6)"/>
<ellipse cx="200.0" cy="420.6" rx="12.0" ry="5.8" fill="#fff" opacity="0.25" filter="url(#blur4)" transform="rotate(-45 200.0 420.6)"/>
<ellipse cx="232.0" cy="420.6" rx="12.0" ry="5.8" fill="#fff" opacity="0.25" filter="url(#blur4)" transform="rotate(-45 232.0 420.6)"/>
<ellipse cx="262.0" cy="420.6" rx="12.0" ry="5.8" fill="#fff" opacity="0.25" filter="url(#blur4)" transform="rotate(-45 262.0 420.6)"/>
<ellipse cx="170.0" cy="439.0" rx="12.1" ry="5.7" fill="#000" opacity="0.98" filter="url(#blur3)" transform="rotate(-56 170.0 439.0)"/>
<ellipse cx="198.3" cy="439.0" rx="12.1" ry="5.7" fill="#000" opacity="0.98" filter="url(#blur3)" transform="rotate(-56 198.3 439.0)"/>
<ellipse cx="228.0" cy="439.0" rx="12.1" ry="5.7" fill="#000" opacity="0.98" filter="url(#blur3)" transform="rotate(-56 228.0 439.0)"/>
<ellipse cx="259.4" cy="439.0" rx="12.1" ry="5.7" fill="#000" opacity="0.98" filter="url(#blur3)" transform="rotate(-56 259.4 439.0)"/>
<ellipse cx="178.4" cy="454.7" rx="13.2" ry="6.9" fill="#fff" opacity="0.95" filter="url(#blur4)" transform="rotate(-45 178.4 454.7)"/>
<ellipse cx="208.2" cy="454.7" rx="13.2" ry="6.9" fill="#fff" opacity="0.95" filter="url(#blur4)" transform="rotate(-45 208.2 454.7)"/>
<ellipse cx="239.5" cy="454.7" rx="13.2" ry="6.9" fill="#fff" opacity="0.95" filter="url(#blur4)" transform="rotate(-45 239.5 454.7)"/>
<ellipse cx="268.0" cy="454.7" rx="13.2" ry="6.9" fill="#fff" opacity="0.95" filter="url(#blur4)" transform="rotate(-45 268.0 454.7)"/>
<ellipse cx="190.0" cy="472.0" rx="11.0" ry="4.8" fill="#000" opacity="0.46" filter="url(#blur3)" transform="rotate(-56 190.0 472.0)"/>
<ellipse cx="220.0" cy="472.0" rx="11.0" ry="4.8" fill="#000" opacity="0.46" filter="url(#blur3)" transform="rotate(-56 220.0 472.0)"/>
<ellipse cx="250.0" cy="472.0" rx="11.0" ry="4.8" fill="#000" opacity="0.46" filter="url(#blur3)" transform="rotate(-56 250.0 472.0)"/>
</g>
<g clip-path="url(#cgc)">
<rect x="276" y="8" width="80" height="218" fill="#020402"/>
<ellipse cx="295.2" cy="217.8" rx="1.7" ry="32.6" fill="#2a7a48" opacity="0.14" filter="url(#gglow)"/>
<ellipse cx="296.8" cy="225.8" rx="1.8" ry="31.0" fill="#2a7a48" opacity="0.20" filter="url(#gglow)"/>
<ellipse cx="312.4" cy="115.9" rx="1.8" ry="35.8" fill="#2a7a48" opacity="0.14" filter="url(#gglow)"/>
<ellipse cx="295.8" cy="12.4" rx="1.9" ry="25.2" fill="#2a7a48" opacity="0.28" filter="url(#gglow)"/>
<ellipse cx="306.8" cy="32.8" rx="1.9" ry="39.8" fill="#2a7a48" opacity="0.13" filter="url(#gglow)"/>
<ellipse cx="325.1" cy="90.2" rx="2.5" ry="23.5" fill="#2a7a48" opacity="0.24" filter="url(#gglow)"/>
<ellipse cx="315.8" cy="149.6" rx="2.9" ry="29.5" fill="#2a7a48" opacity="0.15" filter="url(#gglow)"/>
<ellipse cx="282.9" cy="214.2" rx="2.2" ry="19.8" fill="#2a7a48" opacity="0.29" filter="url(#gglow)"/>
<ellipse cx="322.0" cy="166.9" rx="2.8" ry="22.1" fill="#2a7a48" opacity="0.18" filter="url(#gglow)"/>
<ellipse cx="344.7" cy="37.4" rx="2.6" ry="17.4" fill="#2a7a48" opacity="0.24" filter="url(#gglow)"/>
<ellipse cx="331.4" cy="215.1" rx="2.8" ry="27.6" fill="#2a7a48" opacity="0.16" filter="url(#gglow)"/>
<ellipse cx="289.4" cy="123.3" rx="2.3" ry="16.8" fill="#2a7a48" opacity="0.28" filter="url(#gglow)"/>
<ellipse cx="316.6" cy="160.9" rx="1.8" ry="21.1" fill="#2a7a48" opacity="0.12" filter="url(#gglow)"/>
<ellipse cx="304.1" cy="66.2" rx="2.1" ry="24.4" fill="#2a7a48" opacity="0.27" filter="url(#gglow)"/>
<ellipse cx="312.0" cy="30.0" rx="30.0" ry="8.0" fill="#3a9a5c" opacity="0.35" filter="url(#gglow)"/>
<ellipse cx="315.0" cy="147.0" rx="36.0" ry="10.0" fill="#3a9a5c" opacity="0.30" filter="url(#gglow)"/>
<ellipse cx="315.0" cy="195.0" rx="36.0" ry="10.0" fill="#3a9a5c" opacity="0.30" filter="url(#gglow)"/>
<ellipse cx="312.0" cy="100.0" rx="10.0" ry="30.0" fill="#3a9a5c" opacity="0.06" filter="url(#gglow)"/>
<ellipse cx="284.0" cy="30.2" rx="9.0" ry="18.2" fill="#2f8a50" opacity="0.52" filter="url(#gglow)"/>
<ellipse cx="307.6" cy="30.2" rx="9.0" ry="14.0" fill="#2f8a50" opacity="0.25" filter="url(#gglow)"/>
<ellipse cx="320.4" cy="31.0" rx="7.2" ry="12.6" fill="#2f8a50" opacity="0.19" filter="url(#gglow)"/>
<ellipse cx="330.4" cy="30.2" rx="8.1" ry="16.8" fill="#2f8a50" opacity="0.52" filter="url(#gglow)"/>
<ellipse cx="345.2" cy="30.2" rx="9.0" ry="17.5" fill="#2f8a50" opacity="0.52" filter="url(#gglow)"/>
<ellipse cx="304.9" cy="57.7" rx="5.4" ry="16.8" fill="#2f8a50" opacity="0.33" filter="url(#gglow)"/>
<ellipse cx="292.0" cy="10.0" rx="5.4" ry="8.4" fill="#2f8a50" opacity="0.17" filter="url(#gglow)"/>
<ellipse cx="283.4" cy="146.8" rx="8.1" ry="14.0" fill="#2f8a50" opacity="0.50" filter="url(#gglow)"/>
<ellipse cx="292.8" cy="148.0" rx="5.4" ry="11.2" fill="#2f8a50" opacity="0.22" filter="url(#gglow)"/>
<ellipse cx="302.9" cy="146.8" rx="7.2" ry="13.3" fill="#2f8a50" opacity="0.44" filter="url(#gglow)"/>
<ellipse cx="313.0" cy="146.0" rx="7.2" ry="11.2" fill="#2f8a50" opacity="0.22" filter="url(#gglow)"/>
<ellipse cx="322.4" cy="147.5" rx="8.1" ry="14.7" fill="#2f8a50" opacity="0.52" filter="url(#gglow)"/>
<ellipse cx="335.0" cy="150.0" rx="7.2" ry="14.0" fill="#2f8a50" opacity="0.36" filter="url(#gglow)"/>
<ellipse cx="344.5" cy="146.0" rx="7.2" ry="14.0" fill="#2f8a50" opacity="0.41" filter="url(#gglow)"/>
<ellipse cx="283.4" cy="194.5" rx="8.1" ry="14.0" fill="#2f8a50" opacity="0.47" filter="url(#gglow)"/>
<ellipse cx="293.5" cy="194.0" rx="6.3" ry="11.2" fill="#2f8a50" opacity="0.25" filter="url(#gglow)"/>
<ellipse cx="302.2" cy="196.0" rx="8.1" ry="14.0" fill="#2f8a50" opacity="0.41" filter="url(#gglow)"/>
<ellipse cx="313.6" cy="195.5" rx="7.2" ry="13.3" fill="#2f8a50" opacity="0.44" filter="url(#gglow)"/>
<ellipse cx="322.4" cy="196.0" rx="7.2" ry="11.2" fill="#2f8a50" opacity="0.19" filter="url(#gglow)"/>
<ellipse cx="331.1" cy="195.0" rx="7.2" ry="12.6" fill="#2f8a50" opacity="0.33" filter="url(#gglow)"/>
<ellipse cx="345.2" cy="198.0" rx="8.1" ry="16.8" fill="#2f8a50" opacity="0.52" filter="url(#gglow)"/>
<ellipse cx="355.3" cy="195.0" rx="5.4" ry="14.0" fill="#2f8a50" opacity="0.28" filter="url(#gglow)"/>
<ellipse cx="277.0" cy="185.0" rx="5.4" ry="16.8" fill="#2f8a50" opacity="0.22" filter="url(#gglow)"/>
<ellipse cx="284.0" cy="30.2" rx="5.2" ry="13.0" fill="#88e8a8" opacity="1.00" filter="url(#gblur)"/>
<ellipse cx="307.6" cy="30.2" rx="5.2" ry="10.0" fill="#88e8a8" opacity="0.47" filter="url(#gblur)"/>
<ellipse cx="320.4" cy="31.0" rx="4.2" ry="9.0" fill="#88e8a8" opacity="0.37" filter="url(#gblur)"/>
<ellipse cx="330.4" cy="30.2" rx="4.7" ry="12.0" fill="#88e8a8" opacity="1.00" filter="url(#gblur)"/>
<ellipse cx="345.2" cy="30.2" rx="5.2" ry="12.5" fill="#88e8a8" opacity="1.00" filter="url(#gblur)"/>
<ellipse cx="304.9" cy="57.7" rx="3.2" ry="12.0" fill="#88e8a8" opacity="0.63" filter="url(#gblur)"/>
<ellipse cx="292.0" cy="10.0" rx="3.2" ry="6.0" fill="#88e8a8" opacity="0.32" filter="url(#gblur)"/>
<ellipse cx="283.4" cy="146.8" rx="4.7" ry="10.0" fill="#88e8a8" opacity="0.95" filter="url(#gblur)"/>
<ellipse cx="292.8" cy="148.0" rx="3.2" ry="8.0" fill="#88e8a8" opacity="0.42" filter="url(#gblur)"/>
<ellipse cx="302.9" cy="146.8" rx="4.2" ry="9.5" fill="#88e8a8" opacity="0.84" filter="url(#gblur)"/>
<ellipse cx="313.0" cy="146.0" rx="4.2" ry="8.0" fill="#88e8a8" opacity="0.42" filter="url(#gblur)"/>
<ellipse cx="322.4" cy="147.5" rx="4.7" ry="10.5" fill="#88e8a8" opacity="1.00" filter="url(#gblur)"/>
<ellipse cx="335.0" cy="150.0" rx="4.2" ry="10.0" fill="#88e8a8" opacity="0.68" filter="url(#gblur)"/>
<ellipse cx="344.5" cy="146.0" rx="4.2" ry="10.0" fill="#88e8a8" opacity="0.79" filter="url(#gblur)"/>
<ellipse cx="283.4" cy="194.5" rx="4.7" ry="10.0" fill="#88e8a8" opacity="0.89" filter="url(#gblur)"/>
<ellipse cx="293.5" cy="194.0" rx="3.7" ry="8.0" fill="#88e8a8" opacity="0.47" filter="url(#gblur)"/>
<ellipse cx="302.2" cy="196.0" rx="4.7" ry="10.0" fill="#88e8a8" opacity="0.79" filter="url(#gblur)"/>
<ellipse cx="313.6" cy="195.5" rx="4.2" ry="9.5" fill="#88e8a8" opacity="0.84" filter="url(#gblur)"/>
<ellipse cx="322.4" cy="196.0" rx="4.2" ry="8.0" fill="#88e8a8" opacity="0.37" filter="url(#gblur)"/>
<ellipse cx="331.1" cy="195.0" rx="4.2" ry="9.0" fill="#88e8a8" opacity="0.63" filter="url(#gblur)"/>
<ellipse cx="345.2" cy="198.0" rx="4.7" ry="12.0" fill="#88e8a8" opacity="1.00" filter="url(#gblur)"/>
<ellipse cx="355.3" cy="195.0" rx="3.2" ry="10.0" fill="#88e8a8" opacity="0.53" filter="url(#gblur)"/>
<ellipse cx="277.0" cy="185.0" rx="3.2" ry="12.0" fill="#88e8a8" opacity="0.42" filter="url(#gblur)"/>
</g>
<g clip-path="url(#cgd)">
<rect x="276" y="256" width="80" height="216" fill="#020402"/>
<ellipse cx="315.2" cy="349.4" rx="2.1" ry="16.0" fill="#2a7a48" opacity="0.26" filter="url(#gglow)"/>
<ellipse cx="296.4" cy="366.5" rx="1.9" ry="23.0" fill="#2a7a48" opacity="0.18" filter="url(#gglow)"/>
<ellipse cx="303.0" cy="273.5" rx="2.3" ry="28.9" fill="#2a7a48" opacity="0.25" filter="url(#gglow)"/>
<ellipse cx="281.8" cy="371.8" rx="3.0" ry="33.6" fill="#2a7a48" opacity="0.19" filter="url(#gglow)"/>
<ellipse cx="336.4" cy="408.8" rx="1.7" ry="34.8" fill="#2a7a48" opacity="0.12" filter="url(#gglow)"/>
<ellipse cx="297.9" cy="297.2" rx="2.1" ry="24.1" fill="#2a7a48" opacity="0.29" filter="url(#gglow)"/>
<ellipse cx="299.4" cy="461.4" rx="2.7" ry="36.9" fill="#2a7a48" opacity="0.15" filter="url(#gglow)"/>
<ellipse cx="301.7" cy="403.1" rx="2.3" ry="36.0" fill="#2a7a48" opacity="0.14" filter="url(#gglow)"/>
<ellipse cx="348.9" cy="378.9" rx="2.1" ry="15.4" fill="#2a7a48" opacity="0.18" filter="url(#gglow)"/>
<ellipse cx="348.6" cy="291.6" rx="2.5" ry="15.0" fill="#2a7a48" opacity="0.29" filter="url(#gglow)"/>
<ellipse cx="344.4" cy="425.8" rx="1.8" ry="21.2" fill="#2a7a48" opacity="0.20" filter="url(#gglow)"/>
<ellipse cx="321.1" cy="371.2" rx="2.5" ry="23.0" fill="#2a7a48" opacity="0.13" filter="url(#gglow)"/>
<ellipse cx="314.6" cy="319.8" rx="3.0" ry="15.6" fill="#2a7a48" opacity="0.20" filter="url(#gglow)"/>
<ellipse cx="341.5" cy="385.2" rx="2.2" ry="35.1" fill="#2a7a48" opacity="0.23" filter="url(#gglow)"/>
<ellipse cx="315.0" cy="296.0" rx="36.0" ry="8.0" fill="#3a9a5c" opacity="0.20" filter="url(#gglow)"/>
<ellipse cx="315.0" cy="325.0" rx="36.0" ry="8.0" fill="#3a9a5c" opacity="0.20" filter="url(#gglow)"/>
<ellipse cx="315.0" cy="408.0" rx="36.0" ry="8.0" fill="#3a9a5c" opacity="0.25" filter="url(#gglow)"/>
<ellipse cx="315.0" cy="447.0" rx="36.0" ry="8.0" fill="#3a9a5c" opacity="0.20" filter="url(#gglow)"/>
<ellipse cx="284.3" cy="296.3" rx="8.3" ry="13.6" fill="#2f8a50" opacity="0.52" filter="url(#gglow)"/>
<ellipse cx="304.2" cy="295.0" rx="9.0" ry="10.5" fill="#2f8a50" opacity="0.50" filter="url(#gglow)"/>
<ellipse cx="318.7" cy="296.0" rx="5.8" ry="9.4" fill="#2f8a50" opacity="0.44" filter="url(#gglow)"/>
<ellipse cx="333.8" cy="289.0" rx="7.2" ry="17.9" fill="#2f8a50" opacity="0.52" filter="url(#gglow)"/>
<ellipse cx="351.3" cy="293.0" rx="9.0" ry="8.4" fill="#2f8a50" opacity="0.39" filter="url(#gglow)"/>
<ellipse cx="321.4" cy="270.8" rx="5.4" ry="8.4" fill="#2f8a50" opacity="0.39" filter="url(#gglow)"/>
<ellipse cx="340.0" cy="258.0" rx="5.4" ry="7.0" fill="#2f8a50" opacity="0.19" filter="url(#gglow)"/>
<ellipse cx="282.0" cy="324.5" rx="9.9" ry="9.8" fill="#2f8a50" opacity="0.50" filter="url(#gglow)"/>
<ellipse cx="298.2" cy="332.0" rx="10.8" ry="15.4" fill="#2f8a50" opacity="0.50" filter="url(#gglow)"/>
<ellipse cx="314.3" cy="324.5" rx="6.3" ry="9.8" fill="#2f8a50" opacity="0.44" filter="url(#gglow)"/>
<ellipse cx="328.4" cy="325.0" rx="7.2" ry="9.1" fill="#2f8a50" opacity="0.47" filter="url(#gglow)"/>
<ellipse cx="345.9" cy="324.0" rx="7.2" ry="8.4" fill="#2f8a50" opacity="0.47" filter="url(#gglow)"/>
<ellipse cx="355.3" cy="324.0" rx="5.4" ry="8.4" fill="#2f8a50" opacity="0.33" filter="url(#gglow)"/>
<ellipse cx="280.3" cy="407.6" rx="6.3" ry="11.2" fill="#2f8a50" opacity="0.50" filter="url(#gglow)"/>
<ellipse cx="296.2" cy="407.6" rx="10.8" ry="15.4" fill="#2f8a50" opacity="0.52" filter="url(#gglow)"/>
<ellipse cx="304.2" cy="407.0" rx="7.2" ry="8.4" fill="#2f8a50" opacity="0.39" filter="url(#gglow)"/>
<ellipse cx="317.0" cy="407.6" rx="7.2" ry="8.4" fill="#2f8a50" opacity="0.44" filter="url(#gglow)"/>
<ellipse cx="325.0" cy="407.6" rx="8.1" ry="10.5" fill="#2f8a50" opacity="0.50" filter="url(#gglow)"/>
<ellipse cx="334.5" cy="408.0" rx="7.2" ry="9.1" fill="#2f8a50" opacity="0.47" filter="url(#gglow)"/>
<ellipse cx="347.2" cy="401.5" rx="10.8" ry="21.0" fill="#2f8a50" opacity="0.52" filter="url(#gglow)"/>
<ellipse cx="287.0" cy="380.0" rx="3.6" ry="7.0" fill="#2f8a50" opacity="0.22" filter="url(#gglow)"/>
<ellipse cx="334.5" cy="378.0" rx="5.4" ry="5.6" fill="#2f8a50" opacity="0.28" filter="url(#gglow)"/>
<ellipse cx="281.1" cy="445.2" rx="8.1" ry="8.4" fill="#2f8a50" opacity="0.47" filter="url(#gglow)"/>
<ellipse cx="292.4" cy="445.2" rx="6.3" ry="12.6" fill="#2f8a50" opacity="0.50" filter="url(#gglow)"/>
<ellipse cx="316.0" cy="445.2" rx="6.3" ry="13.3" fill="#2f8a50" opacity="0.50" filter="url(#gglow)"/>
<ellipse cx="330.4" cy="455.3" rx="7.2" ry="14.0" fill="#2f8a50" opacity="0.41" filter="url(#gglow)"/>
<ellipse cx="345.2" cy="445.2" rx="7.2" ry="14.0" fill="#2f8a50" opacity="0.50" filter="url(#gglow)"/>
<ellipse cx="303.0" cy="445.0" rx="3.6" ry="4.2" fill="#2f8a50" opacity="0.17" filter="url(#gglow)"/>
<ellipse cx="284.3" cy="296.3" rx="4.8" ry="9.7" fill="#88e8a8" opacity="1.00" filter="url(#gblur)"/>
<ellipse cx="304.2" cy="295.0" rx="5.2" ry="7.5" fill="#88e8a8" opacity="0.95" filter="url(#gblur)"/>
<ellipse cx="318.7" cy="296.0" rx="3.4" ry="6.7" fill="#88e8a8" opacity="0.84" filter="url(#gblur)"/>
<ellipse cx="333.8" cy="289.0" rx="4.2" ry="12.8" fill="#88e8a8" opacity="1.00" filter="url(#gblur)"/>
<ellipse cx="351.3" cy="293.0" rx="5.2" ry="6.0" fill="#88e8a8" opacity="0.73" filter="url(#gblur)"/>
<ellipse cx="321.4" cy="270.8" rx="3.2" ry="6.0" fill="#88e8a8" opacity="0.73" filter="url(#gblur)"/>
<ellipse cx="340.0" cy="258.0" rx="3.2" ry="5.0" fill="#88e8a8" opacity="0.37" filter="url(#gblur)"/>
<ellipse cx="282.0" cy="324.5" rx="5.8" ry="7.0" fill="#88e8a8" opacity="0.95" filter="url(#gblur)"/>
<ellipse cx="298.2" cy="332.0" rx="6.3" ry="11.0" fill="#88e8a8" opacity="0.95" filter="url(#gblur)"/>
<ellipse cx="314.3" cy="324.5" rx="3.7" ry="7.0" fill="#88e8a8" opacity="0.84" filter="url(#gblur)"/>
<ellipse cx="328.4" cy="325.0" rx="4.2" ry="6.5" fill="#88e8a8" opacity="0.89" filter="url(#gblur)"/>
<ellipse cx="345.9" cy="324.0" rx="4.2" ry="6.0" fill="#88e8a8" opacity="0.89" filter="url(#gblur)"/>
<ellipse cx="355.3" cy="324.0" rx="3.2" ry="6.0" fill="#88e8a8" opacity="0.63" filter="url(#gblur)"/>
<ellipse cx="280.3" cy="407.6" rx="3.7" ry="8.0" fill="#88e8a8" opacity="0.95" filter="url(#gblur)"/>
<ellipse cx="296.2" cy="407.6" rx="6.3" ry="11.0" fill="#88e8a8" opacity="1.00" filter="url(#gblur)"/>
<ellipse cx="304.2" cy="407.0" rx="4.2" ry="6.0" fill="#88e8a8" opacity="0.73" filter="url(#gblur)"/>
<ellipse cx="317.0" cy="407.6" rx="4.2" ry="6.0" fill="#88e8a8" opacity="0.84" filter="url(#gblur)"/>
<ellipse cx="325.0" cy="407.6" rx="4.7" ry="7.5" fill="#88e8a8" opacity="0.95" filter="url(#gblur)"/>
<ellipse cx="334.5" cy="408.0" rx="4.2" ry="6.5" fill="#88e8a8" opacity="0.89" filter="url(#gblur)"/>
<ellipse cx="347.2" cy="401.5" rx="6.3" ry="15.0" fill="#88e8a8" opacity="1.00" filter="url(#gblur)"/>
<ellipse cx="287.0" cy="380.0" rx="2.1" ry="5.0" fill="#88e8a8" opacity="0.42" filter="url(#gblur)"/>
<ellipse cx="334.5" cy="378.0" rx="3.2" ry="4.0" fill="#88e8a8" opacity="0.53" filter="url(#gblur)"/>
<ellipse cx="281.1" cy="445.2" rx="4.7" ry="6.0" fill="#88e8a8" opacity="0.89" filter="url(#gblur)"/>
<ellipse cx="292.4" cy="445.2" rx="3.7" ry="9.0" fill="#88e8a8" opacity="0.95" filter="url(#gblur)"/>
<ellipse cx="316.0" cy="445.2" rx="3.7" ry="9.5" fill="#88e8a8" opacity="0.95" filter="url(#gblur)"/>
<ellipse cx="330.4" cy="455.3" rx="4.2" ry="10.0" fill="#88e8a8" opacity="0.79" filter="url(#gblur)"/>
<ellipse cx="345.2" cy="445.2" rx="4.2" ry="10.0" fill="#88e8a8" opacity="0.95" filter="url(#gblur)"/>
<ellipse cx="303.0" cy="445.0" rx="2.1" ry="3.0" fill="#88e8a8" opacity="0.32" filter="url(#gblur)"/>
</g>
<text x="19.60" y="26.20" font-size="19.50" fill="#fff" text-anchor="start" font-weight="bold"  textLength="11.50" lengthAdjust="spacingAndGlyphs">a</text>
<text x="19.80" y="277.00" font-size="19.50" fill="#0a0a0a" text-anchor="start" font-weight="bold"  textLength="12.50" lengthAdjust="spacingAndGlyphs">b</text>
<text x="174.30" y="26.40" font-size="19.50" fill="#fff" text-anchor="start" font-weight="bold"  textLength="12.00" lengthAdjust="spacingAndGlyphs">c</text>
<text x="175.30" y="278.00" font-size="19.50" fill="#0a0a0a" text-anchor="start" font-weight="bold"  textLength="12.30" lengthAdjust="spacingAndGlyphs">d</text>
<text x="375.20" y="26.20" font-size="19.50" fill="#0a0a0a" text-anchor="start" font-weight="bold"  textLength="11.50" lengthAdjust="spacingAndGlyphs">e</text>
<text x="373.80" y="276.70" font-size="19.50" fill="#0a0a0a" text-anchor="start" font-weight="bold"  textLength="7.50" lengthAdjust="spacingAndGlyphs">f</text>
<text x="19.80" y="518.60" font-size="20.00" fill="#0a0a0a" text-anchor="start" font-weight="bold"  textLength="12.30" lengthAdjust="spacingAndGlyphs">g</text>
<text x="408.60" y="519.00" font-size="19.50" fill="#0a0a0a" text-anchor="start" font-weight="bold"  textLength="12.60" lengthAdjust="spacingAndGlyphs">h</text>
<line x1="58.8" y1="86.2" x2="98.8" y2="86.2" stroke="#f4ec1c" stroke-width="2"/>
<line x1="79.00" y1="64.30" x2="79.00" y2="80.00" stroke="#f4ec1c" stroke-width="2.00"/>
<polygon points="79.00,85.50 76.00,79.00 82.00,79.00" fill="#f4ec1c"/>
<line x1="58.8" y1="118.6" x2="98.8" y2="118.6" stroke="#f4ec1c" stroke-width="2"/>
<line x1="79.00" y1="140.40" x2="79.00" y2="124.80" stroke="#f4ec1c" stroke-width="2.00"/>
<polygon points="79.00,119.30 82.00,125.80 76.00,125.80" fill="#f4ec1c"/>
<text x="78.70" y="156.00" font-size="12.80" fill="#f4ec1c" text-anchor="middle" font-weight="normal"  textLength="48.50" lengthAdjust="spacingAndGlyphs">1.36 nm</text>
<line x1="53.8" y1="347.0" x2="94.1" y2="347.0" stroke="#f4ec1c" stroke-width="2"/>
<line x1="74.00" y1="324.00" x2="74.00" y2="340.80" stroke="#f4ec1c" stroke-width="2.00"/>
<polygon points="74.00,346.30 71.00,339.80 77.00,339.80" fill="#f4ec1c"/>
<line x1="53.8" y1="374.1" x2="94.1" y2="374.1" stroke="#f4ec1c" stroke-width="2"/>
<line x1="74.00" y1="397.30" x2="74.00" y2="380.30" stroke="#f4ec1c" stroke-width="2.00"/>
<polygon points="74.00,374.80 77.00,381.30 71.00,381.30" fill="#f4ec1c"/>
<text x="72.70" y="414.00" font-size="12.80" fill="#f4ec1c" text-anchor="middle" font-weight="normal"  textLength="45.50" lengthAdjust="spacingAndGlyphs">1.27 nm</text>
<rect x="109" y="209.7" width="31" height="4.6" rx="2.3" fill="#fff"/>
<rect x="114" y="458.2" width="25.2" height="4.8" rx="2.4" fill="#fff"/>
<rect x="180.1" y="208.9" width="57" height="5" rx="2.5" fill="#fff"/>
<rect x="180.4" y="457" width="47.8" height="4.8" rx="2.4" fill="#000"/>
<line x1="199.00" y1="162.20" x2="191.08" y2="63.38" stroke="#f4ec1c" stroke-width="2.10"/>
<polygon points="190.60,57.40 194.45,64.11 187.87,64.64" fill="#f4ec1c"/>
<line x1="199.00" y1="162.20" x2="182.39" y2="92.34" stroke="#f4ec1c" stroke-width="2.10"/>
<polygon points="181.00,86.50 185.83,92.55 179.41,94.07" fill="#f4ec1c"/>
<line x1="199.00" y1="162.20" x2="183.29" y2="130.86" stroke="#f4ec1c" stroke-width="2.10"/>
<polygon points="180.60,125.50 186.69,130.28 180.79,133.24" fill="#f4ec1c"/>
<text x="199.40" y="179.50" font-size="12.30" fill="#f4ec1c" text-anchor="middle" font-weight="normal"  textLength="10.80" lengthAdjust="spacingAndGlyphs">Ti</text>
<line x1="195.80" y1="415.30" x2="186.93" y2="358.93" stroke="#f4ec1c" stroke-width="2.10"/>
<polygon points="186.00,353.00 190.35,359.40 183.83,360.43" fill="#f4ec1c"/>
<line x1="195.80" y1="415.30" x2="181.62" y2="387.35" stroke="#f4ec1c" stroke-width="2.10"/>
<polygon points="178.90,382.00 185.01,386.75 179.13,389.74" fill="#f4ec1c"/>
<text x="197.20" y="433.70" font-size="12.30" fill="#f4ec1c" text-anchor="middle" font-weight="normal"  textLength="18.00" lengthAdjust="spacingAndGlyphs">Nb</text>
<defs>
<radialGradient id="gR" cx="35%" cy="35%" r="65%"><stop offset="0" stop-color="#f06040"/><stop offset="1" stop-color="#c02a08"/></radialGradient>
<radialGradient id="gY" cx="35%" cy="35%" r="65%"><stop offset="0" stop-color="#ffe070"/><stop offset="1" stop-color="#d09a10"/></radialGradient>
<radialGradient id="gB" cx="35%" cy="35%" r="65%"><stop offset="0" stop-color="#a8c0f8"/><stop offset="1" stop-color="#4a68c0"/></radialGradient>
<radialGradient id="gG" cx="35%" cy="35%" r="65%"><stop offset="0" stop-color="#f2f2f4"/><stop offset="1" stop-color="#8a8a90"/></radialGradient>
<radialGradient id="gP" cx="35%" cy="35%" r="65%"><stop offset="0" stop-color="#b4b4f6"/><stop offset="1" stop-color="#5c5cb4"/></radialGradient>
</defs>
<line x1="441.80" y1="16.50" x2="441.80" y2="193.30" stroke="#3a3a3a" stroke-width="1.4"/>
<line x1="437.30" y1="19.00" x2="441.80" y2="19.00" stroke="#3a3a3a" stroke-width="1.3"/>
<text x="431.50" y="23.20" font-size="11.60" fill="#231f20" text-anchor="end" font-weight="normal"  textLength="12.20" lengthAdjust="spacingAndGlyphs">60</text>
<line x1="437.30" y1="55.00" x2="441.80" y2="55.00" stroke="#3a3a3a" stroke-width="1.3"/>
<text x="431.50" y="59.20" font-size="11.60" fill="#231f20" text-anchor="end" font-weight="normal"  textLength="12.20" lengthAdjust="spacingAndGlyphs">90</text>
<line x1="437.30" y1="91.00" x2="441.80" y2="91.00" stroke="#3a3a3a" stroke-width="1.3"/>
<text x="431.50" y="95.20" font-size="11.60" fill="#231f20" text-anchor="end" font-weight="normal"  textLength="18.30" lengthAdjust="spacingAndGlyphs">120</text>
<line x1="437.30" y1="127.00" x2="441.80" y2="127.00" stroke="#3a3a3a" stroke-width="1.3"/>
<text x="431.50" y="131.20" font-size="11.60" fill="#231f20" text-anchor="end" font-weight="normal"  textLength="18.30" lengthAdjust="spacingAndGlyphs">150</text>
<line x1="437.30" y1="163.00" x2="441.80" y2="163.00" stroke="#3a3a3a" stroke-width="1.3"/>
<text x="431.50" y="167.20" font-size="11.60" fill="#231f20" text-anchor="end" font-weight="normal"  textLength="18.30" lengthAdjust="spacingAndGlyphs">180</text>
<line x1="441.10" y1="192.60" x2="568.50" y2="192.60" stroke="#3a3a3a" stroke-width="1.4"/>
<line x1="441.80" y1="192.60" x2="441.80" y2="197.10" stroke="#3a3a3a" stroke-width="1"/>
<line x1="451.33" y1="192.60" x2="451.33" y2="195.20" stroke="#3a3a3a" stroke-width="1"/>
<line x1="456.90" y1="192.60" x2="456.90" y2="195.20" stroke="#3a3a3a" stroke-width="1"/>
<line x1="460.86" y1="192.60" x2="460.86" y2="195.20" stroke="#3a3a3a" stroke-width="1"/>
<line x1="463.92" y1="192.60" x2="463.92" y2="195.20" stroke="#3a3a3a" stroke-width="1"/>
<line x1="466.43" y1="192.60" x2="466.43" y2="195.20" stroke="#3a3a3a" stroke-width="1"/>
<line x1="468.55" y1="192.60" x2="468.55" y2="195.20" stroke="#3a3a3a" stroke-width="1"/>
<line x1="470.38" y1="192.60" x2="470.38" y2="195.20" stroke="#3a3a3a" stroke-width="1"/>
<line x1="472.00" y1="192.60" x2="472.00" y2="195.20" stroke="#3a3a3a" stroke-width="1"/>
<line x1="473.45" y1="192.60" x2="473.45" y2="197.10" stroke="#3a3a3a" stroke-width="1"/>
<line x1="482.98" y1="192.60" x2="482.98" y2="195.20" stroke="#3a3a3a" stroke-width="1"/>
<line x1="488.55" y1="192.60" x2="488.55" y2="195.20" stroke="#3a3a3a" stroke-width="1"/>
<line x1="492.51" y1="192.60" x2="492.51" y2="195.20" stroke="#3a3a3a" stroke-width="1"/>
<line x1="495.57" y1="192.60" x2="495.57" y2="195.20" stroke="#3a3a3a" stroke-width="1"/>
<line x1="498.08" y1="192.60" x2="498.08" y2="195.20" stroke="#3a3a3a" stroke-width="1"/>
<line x1="500.20" y1="192.60" x2="500.20" y2="195.20" stroke="#3a3a3a" stroke-width="1"/>
<line x1="502.03" y1="192.60" x2="502.03" y2="195.20" stroke="#3a3a3a" stroke-width="1"/>
<line x1="503.65" y1="192.60" x2="503.65" y2="195.20" stroke="#3a3a3a" stroke-width="1"/>
<line x1="505.10" y1="192.60" x2="505.10" y2="197.10" stroke="#3a3a3a" stroke-width="1"/>
<line x1="514.63" y1="192.60" x2="514.63" y2="195.20" stroke="#3a3a3a" stroke-width="1"/>
<line x1="520.20" y1="192.60" x2="520.20" y2="195.20" stroke="#3a3a3a" stroke-width="1"/>
<line x1="524.16" y1="192.60" x2="524.16" y2="195.20" stroke="#3a3a3a" stroke-width="1"/>
<line x1="527.22" y1="192.60" x2="527.22" y2="195.20" stroke="#3a3a3a" stroke-width="1"/>
<line x1="529.73" y1="192.60" x2="529.73" y2="195.20" stroke="#3a3a3a" stroke-width="1"/>
<line x1="531.85" y1="192.60" x2="531.85" y2="195.20" stroke="#3a3a3a" stroke-width="1"/>
<line x1="533.68" y1="192.60" x2="533.68" y2="195.20" stroke="#3a3a3a" stroke-width="1"/>
<line x1="535.30" y1="192.60" x2="535.30" y2="195.20" stroke="#3a3a3a" stroke-width="1"/>
<line x1="536.75" y1="192.60" x2="536.75" y2="197.10" stroke="#3a3a3a" stroke-width="1"/>
<line x1="546.28" y1="192.60" x2="546.28" y2="195.20" stroke="#3a3a3a" stroke-width="1"/>
<line x1="551.85" y1="192.60" x2="551.85" y2="195.20" stroke="#3a3a3a" stroke-width="1"/>
<line x1="555.81" y1="192.60" x2="555.81" y2="195.20" stroke="#3a3a3a" stroke-width="1"/>
<line x1="558.87" y1="192.60" x2="558.87" y2="195.20" stroke="#3a3a3a" stroke-width="1"/>
<line x1="561.38" y1="192.60" x2="561.38" y2="195.20" stroke="#3a3a3a" stroke-width="1"/>
<line x1="563.50" y1="192.60" x2="563.50" y2="195.20" stroke="#3a3a3a" stroke-width="1"/>
<line x1="565.33" y1="192.60" x2="565.33" y2="195.20" stroke="#3a3a3a" stroke-width="1"/>
<line x1="566.95" y1="192.60" x2="566.95" y2="195.20" stroke="#3a3a3a" stroke-width="1"/>
<text x="441.60" y="212.10" font-size="11.5" fill="#231f20" text-anchor="middle">1<tspan font-size="9.5" dx="1.6">×</tspan><tspan dx="1.4">10</tspan><tspan dy="-4.5" font-size="8">3</tspan></text>
<text x="504.90" y="212.10" font-size="11.5" fill="#231f20" text-anchor="middle">1<tspan font-size="9.5" dx="1.6">×</tspan><tspan dx="1.4">10</tspan><tspan dy="-4.5" font-size="8">5</tspan></text>
<text x="568.20" y="212.10" font-size="11.5" fill="#231f20" text-anchor="middle">1<tspan font-size="9.5" dx="1.6">×</tspan><tspan dx="1.4">10</tspan><tspan dy="-4.5" font-size="8">7</tspan></text>
<path d="M441.8,24.9L445.6,24.9L449.3,25.0L453.0,25.1L456.5,25.2L459.8,25.4L462.9,25.6L465.8,25.9L468.3,26.2L470.5,26.6L472.3,27.0L473.8,27.5L474.9,28.1L475.5,28.7L475.7,29.4L475.5,30.0L474.9,30.6L473.8,31.1L472.3,31.6L470.5,32.0L468.3,32.4L465.8,32.7L462.9,32.9L459.8,33.2L456.5,33.3L453.0,33.5L449.3,33.5L445.6,33.6L441.8,33.6" fill="none" stroke="#f5be2e" stroke-width="1.15" stroke-linejoin="round"/>
<path d="M441.8,91.8L445.0,91.8L448.2,91.9L451.2,92.0L454.2,92.1L457.0,92.3L459.6,92.5L462.0,92.8L464.2,93.2L466.0,93.6L467.6,94.1L468.8,94.6L469.7,95.2L470.2,95.9L470.4,96.6L470.2,97.2L469.7,97.7L468.8,98.1L467.6,98.5L466.0,98.9L464.2,99.2L462.0,99.5L459.6,99.7L457.0,99.9L454.2,100.1L451.2,100.2L448.2,100.2L445.0,100.3L441.8,100.3" fill="none" stroke="#f5be2e" stroke-width="1.15" stroke-linejoin="round"/>
<path d="M441.8,110.8L445.7,110.8L449.5,110.9L453.3,111.0L456.9,111.1L460.3,111.3L463.4,111.5L466.3,111.8L468.9,112.1L471.2,112.5L473.1,112.9L474.6,113.4L475.6,114.0L476.3,114.6L476.5,115.3L476.3,115.9L475.6,116.5L474.6,117.1L473.1,117.5L471.2,118.0L468.9,118.3L466.3,118.7L463.4,118.9L460.3,119.2L456.9,119.3L453.3,119.5L449.5,119.5L445.7,119.6L441.8,119.6" fill="none" stroke="#f5be2e" stroke-width="1.15" stroke-linejoin="round"/>
<path d="M441.8,177.6L445.6,177.6L449.3,177.7L452.9,177.8L456.3,177.9L459.6,178.1L462.7,178.3L465.5,178.6L468.0,179.0L470.2,179.4L472.0,179.9L473.4,180.4L474.5,181.0L475.1,181.7L475.3,182.4L475.1,183.1L474.5,183.7L473.4,184.2L472.0,184.7L470.2,185.1L468.0,185.5L465.5,185.8L462.7,186.1L459.6,186.3L456.3,186.5L452.9,186.7L449.3,186.7L445.6,186.8L441.8,186.8" fill="none" stroke="#f5be2e" stroke-width="1.15" stroke-linejoin="round"/>
<path d="M441.8,26.5L449.6,26.5L457.2,26.7L464.7,26.9L471.9,27.3L478.7,27.8L485.1,28.4L490.9,29.2L496.1,30.1L500.6,31.2L504.3,32.5L507.3,33.9L509.5,35.4L510.8,37.1L511.2,39.0L510.8,39.9L509.9,40.7L508.5,41.6L506.7,42.4L504.5,43.3L501.9,44.1L498.9,45.0L495.5,45.9L491.8,46.7L487.8,47.6L483.4,48.4L478.7,49.3L473.7,50.1L468.3,51.0L473.8,51.8L479.0,52.7L483.8,53.5L488.3,54.3L492.4,55.2L496.2,56.0L499.7,56.9L502.7,57.7L505.4,58.5L507.7,59.4L509.6,60.2L511.0,61.0L511.9,61.9L512.3,62.7L511.9,63.6L511.0,64.4L509.5,65.3L507.7,66.2L505.4,67.1L502.7,67.9L499.6,68.8L496.1,69.7L492.3,70.5L488.1,71.4L483.6,72.3L478.7,73.2L473.5,74.0L468.0,74.9L473.4,75.8L478.5,76.7L483.2,77.6L487.6,78.4L491.7,79.3L495.4,80.2L498.8,81.1L501.8,82.0L504.4,82.9L506.7,83.8L508.5,84.6L509.9,85.5L510.8,86.4L511.2,87.3L510.8,89.1L509.5,90.8L507.3,92.3L504.3,93.7L500.6,94.9L496.1,95.9L490.9,96.8L485.1,97.6L478.7,98.2L471.9,98.7L464.7,99.1L457.2,99.3L449.6,99.5L441.8,99.5" fill="none" stroke="#4aa2ef" stroke-width="1.15" stroke-linejoin="round"/>
<path d="M441.8,112.7L449.5,112.7L457.1,112.9L464.6,113.1L471.7,113.5L478.5,114.0L484.8,114.7L490.5,115.4L495.7,116.4L500.1,117.5L503.9,118.7L506.8,120.1L509.0,121.7L510.3,123.4L510.7,125.3L510.3,126.1L509.5,127.0L508.1,127.8L506.4,128.6L504.3,129.4L501.8,130.3L498.9,131.1L495.7,131.9L492.1,132.8L488.3,133.6L484.1,134.4L479.6,135.2L474.7,136.1L469.6,136.9L474.8,137.7L479.6,138.6L484.2,139.4L488.4,140.2L492.3,141.1L495.9,141.9L499.1,142.8L502.0,143.6L504.5,144.4L506.7,145.3L508.4,146.1L509.8,146.9L510.6,147.8L511.0,148.6L510.6,149.5L509.7,150.3L508.3,151.2L506.5,152.1L504.3,152.9L501.6,153.8L498.7,154.6L495.3,155.5L491.6,156.4L487.5,157.2L483.1,158.1L478.4,159.0L473.4,159.8L468.0,160.7L473.4,161.6L478.5,162.4L483.3,163.3L487.8,164.2L491.9,165.0L495.6,165.9L499.0,166.8L502.0,167.6L504.7,168.5L506.9,169.3L508.8,170.2L510.2,171.1L511.1,171.9L511.5,172.8L511.1,174.7L509.8,176.5L507.6,178.1L504.6,179.5L500.8,180.8L496.3,181.9L491.1,182.8L485.3,183.6L478.9,184.3L472.0,184.8L464.8,185.2L457.3,185.4L449.6,185.6L441.8,185.6" fill="none" stroke="#4aa2ef" stroke-width="1.15" stroke-linejoin="round"/>
<path d="M441.8,37.8L451.7,37.8L461.6,38.0L471.1,38.2L480.3,38.6L489.0,39.1L497.2,39.7L504.6,40.5L511.2,41.4L517.0,42.5L521.8,43.8L525.6,45.2L528.4,46.7L530.0,48.4L530.6,50.3L530.2,51.2L529.3,52.1L527.9,53.0L526.0,53.8L523.7,54.7L521.0,55.6L518.0,56.5L514.6,57.4L510.8,58.3L506.6,59.2L502.2,60.0L497.3,60.9L492.2,61.8L486.7,62.7L492.2,63.6L497.3,64.4L502.2,65.2L506.6,66.1L510.8,67.0L514.6,67.8L518.0,68.7L521.0,69.5L523.7,70.3L526.0,71.2L527.9,72.0L529.3,72.9L530.2,73.8L530.6,74.6L530.0,76.5L528.4,78.3L525.6,79.8L521.8,81.2L517.0,82.5L511.2,83.6L504.6,84.5L497.2,85.3L489.0,86.0L480.3,86.5L471.1,86.9L461.6,87.1L451.7,87.3L441.8,87.3" fill="none" stroke="#6b6b6b" stroke-width="1.15" stroke-linejoin="round"/>
<path d="M441.8,124.5L451.7,124.5L461.4,124.7L470.9,124.9L480.1,125.3L488.7,125.8L496.8,126.5L504.2,127.3L510.8,128.2L516.5,129.3L521.3,130.6L525.1,132.0L527.8,133.6L529.4,135.4L530.0,137.3L529.6,138.1L528.7,139.0L527.4,139.8L525.6,140.6L523.4,141.4L520.9,142.3L518.0,143.1L514.7,143.9L511.1,144.8L507.1,145.6L502.9,146.4L498.3,147.2L493.3,148.1L488.1,148.9L493.2,149.7L498.1,150.6L502.6,151.4L506.8,152.3L510.6,153.1L514.2,154.0L517.4,154.8L520.3,155.6L522.8,156.5L524.9,157.3L526.6,158.2L528.0,159.0L528.8,159.9L529.2,160.7L528.7,162.5L527.0,164.2L524.3,165.7L520.5,167.0L515.8,168.2L510.1,169.3L503.6,170.2L496.3,170.9L488.3,171.5L479.7,172.0L470.7,172.4L461.2,172.6L451.6,172.8L441.8,172.8" fill="none" stroke="#6b6b6b" stroke-width="1.15" stroke-linejoin="round"/>
<path d="M458.9,19.3L461.5,19.6L464.1,19.9L466.6,20.2L469.0,20.5L471.3,20.8L473.4,21.1L475.4,21.5L477.1,21.8L478.6,22.1L479.9,22.4L480.9,22.7L481.6,23.0L482.1,23.3L482.2,23.6L482.1,23.9L481.9,24.2L481.5,24.5L481.0,24.9L480.5,25.2L479.8,25.5L479.0,25.8L478.2,26.1L477.2,26.4L476.2,26.7L475.1,27.1L473.9,27.4L472.6,27.7L471.2,28.0L474.2,28.5L477.0,28.9L479.6,29.4L482.0,29.9L484.3,30.3L486.3,30.8L488.2,31.2L489.8,31.7L491.3,32.2L492.5,32.6L493.5,33.1L494.3,33.6L494.8,34.0L495.0,34.5L494.7,35.3L493.7,35.9L492.0,36.6L489.7,37.1L486.8,37.6L483.4,38.0L479.4,38.4L475.0,38.7L470.1,39.0L464.9,39.2L459.4,39.3L453.6,39.4L447.8,39.5L441.8,39.5" fill="none" stroke="#ef3e3e" stroke-width="1.15" stroke-linejoin="round"/>
<path d="M441.8,86.3L447.9,86.3L453.9,86.4L459.8,86.5L465.4,86.6L470.7,86.8L475.7,87.1L480.3,87.4L484.3,87.8L487.9,88.2L490.8,88.7L493.1,89.3L494.8,89.9L495.9,90.6L496.2,91.4L496.0,91.8L495.4,92.1L494.5,92.5L493.4,92.9L492.0,93.3L490.4,93.6L488.6,94.0L486.5,94.4L484.2,94.7L481.7,95.1L479.0,95.5L476.0,95.9L472.9,96.2L469.6,96.6L470.5,96.9L471.3,97.2L472.0,97.5L472.7,97.8L473.4,98.1L474.0,98.4L474.5,98.7L475.0,99.0L475.4,99.3L475.8,99.6L476.1,99.9L476.3,100.2L476.4,100.5L476.5,100.8L476.4,101.1L476.1,101.4L475.8,101.7L475.3,102.0L474.7,102.3L474.0,102.6L473.1,102.9L472.2,103.3L471.2,103.6L470.1,103.9L468.9,104.2L467.6,104.5L466.3,104.8L464.8,105.1L466.9,105.4L468.9,105.8L470.8,106.1L472.5,106.5L474.1,106.8L475.5,107.2L476.8,107.5L478.0,107.9L479.1,108.2L479.9,108.6L480.6,109.0L481.2,109.3L481.6,109.7L481.7,110.0L481.6,110.3L481.4,110.7L481.0,111.0L480.6,111.4L480.1,111.7L479.4,112.1L478.7,112.4L477.9,112.7L477.0,113.1L476.0,113.4L474.9,113.8L473.7,114.1L472.5,114.5L471.2,114.8L474.2,115.2L477.1,115.6L479.7,115.9L482.2,116.3L484.5,116.7L486.6,117.1L488.5,117.4L490.1,117.8L491.6,118.2L492.9,118.6L493.9,119.0L494.7,119.3L495.2,119.7L495.4,120.1L495.1,120.9L494.1,121.6L492.4,122.2L490.1,122.8L487.2,123.3L483.7,123.8L479.7,124.2L475.2,124.5L470.3,124.8L465.1,125.0L459.5,125.1L453.7,125.2L447.8,125.3L441.8,125.3" fill="none" stroke="#ef3e3e" stroke-width="1.15" stroke-linejoin="round"/>
<path d="M441.8,172.0L447.9,172.0L453.9,172.1L459.8,172.2L465.4,172.3L470.7,172.5L475.7,172.8L480.3,173.1L484.3,173.5L487.9,173.9L490.8,174.4L493.1,175.0L494.8,175.6L495.9,176.3L496.2,177.1L496.0,177.5L495.5,177.9L494.7,178.2L493.7,178.6L492.5,179.0L491.1,179.4L489.5,179.8L487.7,180.1L485.6,180.5L483.4,180.9L481.0,181.3L478.5,181.6L475.7,182.0L472.8,182.4L474.0,182.7L475.2,182.9L476.2,183.2L477.2,183.5L478.1,183.7L479.0,184.0L479.7,184.2L480.4,184.5L481.0,184.8L481.5,185.0L481.9,185.3L482.2,185.6L482.4,185.8L482.5,186.1L482.4,186.5L482.1,187.0L481.6,187.4L480.9,187.8L480.0,188.2L479.0,188.7L477.8,189.1L476.4,189.5L475.0,190.0L473.4,190.4L471.7,190.8L470.0,191.2L468.2,191.7L466.4,192.1" fill="none" stroke="#ef3e3e" stroke-width="1.15" stroke-linejoin="round"/>
<text transform="translate(385.3,104.3) rotate(-90)" font-size="12.8" fill="#231f20" text-anchor="middle" textLength="105" lengthAdjust="spacingAndGlyphs">Sputtering depth</text>
<text transform="translate(399.4,104.5) rotate(-90)" font-size="12.8" fill="#231f20" text-anchor="middle" textLength="72" lengthAdjust="spacingAndGlyphs">(data point)</text>
<text x="504.70" y="234.30" font-size="12.80" fill="#231f20" text-anchor="middle" font-weight="normal"  textLength="106.00" lengthAdjust="spacingAndGlyphs">Intensity (counts)</text>
<text x="562.20" y="24.80" font-size="12.40" fill="#ef3e3e" text-anchor="middle" font-weight="normal"  textLength="10.20" lengthAdjust="spacingAndGlyphs">O</text>
<text x="561.90" y="48.40" font-size="12.40" fill="#f5be2e" text-anchor="middle" font-weight="normal"  textLength="8.00" lengthAdjust="spacingAndGlyphs">B</text>
<text x="561.70" y="71.70" font-size="12.40" fill="#6b6b6b" text-anchor="middle" font-weight="normal"  textLength="9.60" lengthAdjust="spacingAndGlyphs">C</text>
<text x="562.40" y="95.30" font-size="12.40" fill="#4aa2ef" text-anchor="middle" font-weight="normal"  textLength="10.50" lengthAdjust="spacingAndGlyphs">Ti</text>
<line x1="486.20" y1="24.00" x2="541.72" y2="19.97" stroke="#ef3e3e" stroke-width="1.90"/>
<polygon points="548.20,19.50 540.98,23.63 540.46,16.45" fill="#ef3e3e"/>
<line x1="629.80" y1="26.70" x2="583.14" y2="20.37" stroke="#ef3e3e" stroke-width="1.90"/>
<polygon points="576.70,19.50 584.62,16.94 583.65,24.08" fill="#ef3e3e"/>
<line x1="481.00" y1="29.80" x2="539.32" y2="41.34" stroke="#f5be2e" stroke-width="1.90"/>
<polygon points="545.70,42.60 537.64,44.68 539.04,37.61" fill="#f5be2e"/>
<line x1="637.00" y1="32.90" x2="583.11" y2="42.11" stroke="#f5be2e" stroke-width="1.90"/>
<polygon points="576.70,43.20 583.49,38.39 584.70,45.49" fill="#f5be2e"/>
<line x1="533.30" y1="53.60" x2="543.59" y2="59.62" stroke="#6b6b6b" stroke-width="1.90"/>
<polygon points="549.20,62.90 540.91,62.22 544.54,56.01" fill="#6b6b6b"/>
<line x1="632.90" y1="55.60" x2="583.08" y2="65.35" stroke="#6b6b6b" stroke-width="1.90"/>
<polygon points="576.70,66.60 583.37,61.63 584.75,68.69" fill="#6b6b6b"/>
<line x1="515.10" y1="87.60" x2="542.71" y2="88.98" stroke="#4aa2ef" stroke-width="1.90"/>
<polygon points="549.20,89.30 541.53,92.52 541.89,85.33" fill="#4aa2ef"/>
<line x1="637.00" y1="80.40" x2="584.52" y2="88.69" stroke="#4aa2ef" stroke-width="1.90"/>
<polygon points="578.10,89.70 584.95,84.97 586.07,92.09" fill="#4aa2ef"/>
<path d="M631.2,28.3L638.3,31.3M646.1,28.3L638.3,31.3M646.1,28.3L653.2,31.3M661.0,28.3L653.2,31.3M661.0,28.3L668.1,31.3M675.9,28.3L668.1,31.3M675.9,28.3L683.0,31.3M690.8,28.3L683.0,31.3M690.8,28.3L697.9,31.3M705.7,28.3L697.9,31.3M705.7,28.3L712.8,31.3M720.6,28.3L712.8,31.3M720.6,28.3L727.7,31.3M735.5,28.3L727.7,31.3M735.5,28.3L742.6,31.3M750.4,28.3L742.6,31.3M638.3,31.3L638.9,39.0M653.2,31.3L653.8,39.0M668.1,31.3L668.7,39.0M683.0,31.3L683.6,39.0M697.9,31.3L698.5,39.0M712.8,31.3L713.4,39.0M727.7,31.3L728.3,39.0M742.6,31.3L743.2,39.0M638.9,39.0L643.7,48.0M653.8,39.0L643.7,48.0M653.8,39.0L658.6,48.0M668.7,39.0L658.6,48.0M668.7,39.0L673.5,48.0M683.6,39.0L673.5,48.0M683.6,39.0L688.4,48.0M698.5,39.0L688.4,48.0M698.5,39.0L703.3,48.0M713.4,39.0L703.3,48.0M713.4,39.0L718.2,48.0M728.3,39.0L718.2,48.0M728.3,39.0L733.1,48.0M743.2,39.0L733.1,48.0M743.2,39.0L748.0,48.0M643.7,48.0L639.2,55.7M643.7,48.0L654.1,55.7M658.6,48.0L654.1,55.7M658.6,48.0L669.0,55.7M673.5,48.0L669.0,55.7M673.5,48.0L683.9,55.7M688.4,48.0L683.9,55.7M688.4,48.0L698.8,55.7M703.3,48.0L698.8,55.7M703.3,48.0L713.7,55.7M718.2,48.0L713.7,55.7M718.2,48.0L728.6,55.7M733.1,48.0L728.6,55.7M733.1,48.0L743.5,55.7M748.0,48.0L743.5,55.7M639.2,55.7L649.6,64.3M654.1,55.7L649.6,64.3M654.1,55.7L664.5,64.3M669.0,55.7L664.5,64.3M669.0,55.7L679.4,64.3M683.9,55.7L679.4,64.3M683.9,55.7L694.3,64.3M698.8,55.7L694.3,64.3M698.8,55.7L709.2,64.3M713.7,55.7L709.2,64.3M713.7,55.7L724.1,64.3M728.6,55.7L724.1,64.3M728.6,55.7L739.0,64.3M743.5,55.7L739.0,64.3M649.6,64.3L644.9,72.4M649.6,64.3L659.8,72.4M664.5,64.3L659.8,72.4M664.5,64.3L674.7,72.4M679.4,64.3L674.7,72.4M679.4,64.3L689.6,72.4M694.3,64.3L689.6,72.4M694.3,64.3L704.5,72.4M709.2,64.3L704.5,72.4M709.2,64.3L719.4,72.4M724.1,64.3L719.4,72.4M724.1,64.3L734.3,72.4M739.0,64.3L734.3,72.4M739.0,64.3L749.2,72.4M644.9,72.4L638.9,80.1M644.9,72.4L653.8,80.1M659.8,72.4L653.8,80.1M659.8,72.4L668.7,80.1M674.7,72.4L668.7,80.1M674.7,72.4L683.6,80.1M689.6,72.4L683.6,80.1M689.6,72.4L698.5,80.1M704.5,72.4L698.5,80.1M704.5,72.4L713.4,80.1M719.4,72.4L713.4,80.1M719.4,72.4L728.3,80.1M734.3,72.4L728.3,80.1M734.3,72.4L743.2,80.1M749.2,72.4L743.2,80.1M638.9,80.1L644.3,88.5M653.8,80.1L644.3,88.5M653.8,80.1L659.2,88.5M668.7,80.1L659.2,88.5M668.7,80.1L674.1,88.5M683.6,80.1L674.1,88.5M683.6,80.1L689.0,88.5M698.5,80.1L689.0,88.5M698.5,80.1L703.9,88.5M713.4,80.1L703.9,88.5M713.4,80.1L718.8,88.5M728.3,80.1L718.8,88.5M728.3,80.1L733.7,88.5M743.2,80.1L733.7,88.5M743.2,80.1L748.6,88.5M644.3,88.5L645.5,96.2M659.2,88.5L660.4,96.2M674.1,88.5L675.3,96.2M689.0,88.5L690.2,96.2M703.9,88.5L705.1,96.2M718.8,88.5L720.0,96.2M733.7,88.5L734.9,96.2M748.6,88.5L749.8,96.2M645.5,96.2L638.3,100.4M645.5,96.2L653.2,100.4M660.4,96.2L653.2,100.4M660.4,96.2L668.1,100.4M675.3,96.2L668.1,100.4M675.3,96.2L683.0,100.4M690.2,96.2L683.0,100.4M690.2,96.2L697.9,100.4M705.1,96.2L697.9,100.4M705.1,96.2L712.8,100.4M720.0,96.2L712.8,100.4M720.0,96.2L727.7,100.4M734.9,96.2L727.7,100.4M734.9,96.2L742.6,100.4M749.8,96.2L742.6,100.4M749.8,96.2L757.5,100.4" stroke="#555" stroke-width="3" stroke-linecap="round" opacity="0.55" fill="none"/>
<path d="M631.2,28.3L634.8,29.8M646.1,28.3L642.2,29.8M646.1,28.3L649.6,29.8M661.0,28.3L657.1,29.8M661.0,28.3L664.5,29.8M675.9,28.3L672.0,29.8M675.9,28.3L679.5,29.8M690.8,28.3L686.9,29.8M690.8,28.3L694.4,29.8M705.7,28.3L701.8,29.8M705.7,28.3L709.2,29.8M720.6,28.3L716.7,29.8M720.6,28.3L724.1,29.8M735.5,28.3L731.6,29.8M735.5,28.3L739.0,29.8M750.4,28.3L746.5,29.8M638.6,35.1L638.9,39.0M653.5,35.1L653.8,39.0M668.4,35.1L668.7,39.0M683.3,35.1L683.6,39.0M698.2,35.1L698.5,39.0M713.1,35.1L713.4,39.0M728.0,35.1L728.3,39.0M742.9,35.1L743.2,39.0M638.9,39.0L641.3,43.5M653.8,39.0L648.8,43.5M653.8,39.0L656.2,43.5M668.7,39.0L663.6,43.5M668.7,39.0L671.1,43.5M683.6,39.0L678.5,43.5M683.6,39.0L686.0,43.5M698.5,39.0L693.5,43.5M698.5,39.0L700.9,43.5M713.4,39.0L708.4,43.5M713.4,39.0L715.8,43.5M728.3,39.0L723.2,43.5M728.3,39.0L730.7,43.5M743.2,39.0L738.1,43.5M743.2,39.0L745.6,43.5M641.6,84.3L644.3,88.5M649.0,84.3L644.3,88.5M656.5,84.3L659.2,88.5M663.9,84.3L659.2,88.5M671.4,84.3L674.1,88.5M678.8,84.3L674.1,88.5M686.3,84.3L689.0,88.5M693.8,84.3L689.0,88.5M701.2,84.3L703.9,88.5M708.6,84.3L703.9,88.5M716.1,84.3L718.8,88.5M723.5,84.3L718.8,88.5M731.0,84.3L733.7,88.5M738.4,84.3L733.7,88.5M745.9,84.3L748.6,88.5M644.3,88.5L644.9,92.3M659.2,88.5L659.8,92.3M674.1,88.5L674.7,92.3M689.0,88.5L689.6,92.3M703.9,88.5L704.5,92.3M718.8,88.5L719.4,92.3M733.7,88.5L734.3,92.3M748.6,88.5L749.2,92.3M641.9,98.3L638.3,100.4M649.3,98.3L653.2,100.4M656.8,98.3L653.2,100.4M664.2,98.3L668.1,100.4M671.7,98.3L668.1,100.4M679.1,98.3L683.0,100.4M686.6,98.3L683.0,100.4M694.0,98.3L697.9,100.4M701.5,98.3L697.9,100.4M709.0,98.3L712.8,100.4M716.4,98.3L712.8,100.4M723.8,98.3L727.7,100.4M731.3,98.3L727.7,100.4M738.8,98.3L742.6,100.4M746.2,98.3L742.6,100.4M753.6,98.3L757.5,100.4" stroke="#e0502a" stroke-width="2" fill="none"/>
<path d="M634.8,29.8L638.3,31.3M642.2,29.8L638.3,31.3M649.6,29.8L653.2,31.3M657.1,29.8L653.2,31.3M664.5,29.8L668.1,31.3M672.0,29.8L668.1,31.3M679.5,29.8L683.0,31.3M686.9,29.8L683.0,31.3M694.4,29.8L697.9,31.3M701.8,29.8L697.9,31.3M709.2,29.8L712.8,31.3M716.7,29.8L712.8,31.3M724.1,29.8L727.7,31.3M731.6,29.8L727.7,31.3M739.0,29.8L742.6,31.3M746.5,29.8L742.6,31.3M638.3,31.3L638.6,35.1M653.2,31.3L653.5,35.1M668.1,31.3L668.4,35.1M683.0,31.3L683.3,35.1M697.9,31.3L698.2,35.1M712.8,31.3L713.1,35.1M727.7,31.3L728.0,35.1M742.6,31.3L742.9,35.1M644.9,92.3L645.5,96.2M659.8,92.3L660.4,96.2M674.7,92.3L675.3,96.2M689.6,92.3L690.2,96.2M704.5,92.3L705.1,96.2M719.4,92.3L720.0,96.2M734.3,92.3L734.9,96.2M749.2,92.3L749.8,96.2M645.5,96.2L641.9,98.3M645.5,96.2L649.3,98.3M660.4,96.2L656.8,98.3M660.4,96.2L664.2,98.3M675.3,96.2L671.7,98.3M675.3,96.2L679.1,98.3M690.2,96.2L686.6,98.3M690.2,96.2L694.0,98.3M705.1,96.2L701.5,98.3M705.1,96.2L709.0,98.3M720.0,96.2L716.4,98.3M720.0,96.2L723.8,98.3M734.9,96.2L731.3,98.3M734.9,96.2L738.8,98.3M749.8,96.2L746.2,98.3M749.8,96.2L753.6,98.3" stroke="#f2c230" stroke-width="2" fill="none"/>
<path d="M641.3,43.5L643.7,48.0M648.8,43.5L643.7,48.0M656.2,43.5L658.6,48.0M663.6,43.5L658.6,48.0M671.1,43.5L673.5,48.0M678.5,43.5L673.5,48.0M686.0,43.5L688.4,48.0M693.5,43.5L688.4,48.0M700.9,43.5L703.3,48.0M708.4,43.5L703.3,48.0M715.8,43.5L718.2,48.0M723.2,43.5L718.2,48.0M730.7,43.5L733.1,48.0M738.1,43.5L733.1,48.0M745.6,43.5L748.0,48.0M643.7,48.0L641.5,51.9M643.7,48.0L648.9,51.9M658.6,48.0L656.4,51.9M658.6,48.0L663.8,51.9M673.5,48.0L671.2,51.9M673.5,48.0L678.7,51.9M688.4,48.0L686.2,51.9M688.4,48.0L693.6,51.9M703.3,48.0L701.1,51.9M703.3,48.0L708.5,51.9M718.2,48.0L716.0,51.9M718.2,48.0L723.4,51.9M733.1,48.0L730.9,51.9M733.1,48.0L738.3,51.9M748.0,48.0L745.8,51.9M644.4,60.0L649.6,64.3M651.9,60.0L649.6,64.3M659.3,60.0L664.5,64.3M666.8,60.0L664.5,64.3M674.2,60.0L679.4,64.3M681.7,60.0L679.4,64.3M689.1,60.0L694.3,64.3M696.6,60.0L694.3,64.3M704.0,60.0L709.2,64.3M711.5,60.0L709.2,64.3M718.9,60.0L724.1,64.3M726.4,60.0L724.1,64.3M733.8,60.0L739.0,64.3M741.2,60.0L739.0,64.3M649.6,64.3L647.2,68.3M649.6,64.3L654.7,68.3M664.5,64.3L662.1,68.3M664.5,64.3L669.6,68.3M679.4,64.3L677.0,68.3M679.4,64.3L684.5,68.3M694.3,64.3L692.0,68.3M694.3,64.3L699.4,68.3M709.2,64.3L706.9,68.3M709.2,64.3L714.3,68.3M724.1,64.3L721.8,68.3M724.1,64.3L729.2,68.3M739.0,64.3L736.6,68.3M739.0,64.3L744.1,68.3M641.9,76.2L638.9,80.1M649.3,76.2L653.8,80.1M656.8,76.2L653.8,80.1M664.2,76.2L668.7,80.1M671.7,76.2L668.7,80.1M679.1,76.2L683.6,80.1M686.6,76.2L683.6,80.1M694.0,76.2L698.5,80.1M701.5,76.2L698.5,80.1M709.0,76.2L713.4,80.1M716.4,76.2L713.4,80.1M723.8,76.2L728.3,80.1M731.3,76.2L728.3,80.1M738.8,76.2L743.2,80.1M746.2,76.2L743.2,80.1M638.9,80.1L641.6,84.3M653.8,80.1L649.0,84.3M653.8,80.1L656.5,84.3M668.7,80.1L663.9,84.3M668.7,80.1L671.4,84.3M683.6,80.1L678.8,84.3M683.6,80.1L686.3,84.3M698.5,80.1L693.8,84.3M698.5,80.1L701.2,84.3M713.4,80.1L708.6,84.3M713.4,80.1L716.1,84.3M728.3,80.1L723.5,84.3M728.3,80.1L731.0,84.3M743.2,80.1L738.4,84.3M743.2,80.1L745.9,84.3" stroke="#8fa8ea" stroke-width="2" fill="none"/>
<path d="M641.5,51.9L639.2,55.7M648.9,51.9L654.1,55.7M656.4,51.9L654.1,55.7M663.8,51.9L669.0,55.7M671.2,51.9L669.0,55.7M678.7,51.9L683.9,55.7M686.2,51.9L683.9,55.7M693.6,51.9L698.8,55.7M701.1,51.9L698.8,55.7M708.5,51.9L713.7,55.7M716.0,51.9L713.7,55.7M723.4,51.9L728.6,55.7M730.9,51.9L728.6,55.7M738.3,51.9L743.5,55.7M745.8,51.9L743.5,55.7M639.2,55.7L644.4,60.0M654.1,55.7L651.9,60.0M654.1,55.7L659.3,60.0M669.0,55.7L666.8,60.0M669.0,55.7L674.2,60.0M683.9,55.7L681.7,60.0M683.9,55.7L689.1,60.0M698.8,55.7L696.6,60.0M698.8,55.7L704.0,60.0M713.7,55.7L711.5,60.0M713.7,55.7L718.9,60.0M728.6,55.7L726.4,60.0M728.6,55.7L733.8,60.0M743.5,55.7L741.2,60.0M647.2,68.3L644.9,72.4M654.7,68.3L659.8,72.4M662.1,68.3L659.8,72.4M669.6,68.3L674.7,72.4M677.0,68.3L674.7,72.4M684.5,68.3L689.6,72.4M692.0,68.3L689.6,72.4M699.4,68.3L704.5,72.4M706.9,68.3L704.5,72.4M714.3,68.3L719.4,72.4M721.8,68.3L719.4,72.4M729.2,68.3L734.3,72.4M736.6,68.3L734.3,72.4M744.1,68.3L749.2,72.4M644.9,72.4L641.9,76.2M644.9,72.4L649.3,76.2M659.8,72.4L656.8,76.2M659.8,72.4L664.2,76.2M674.7,72.4L671.7,76.2M674.7,72.4L679.1,76.2M689.6,72.4L686.6,76.2M689.6,72.4L694.0,76.2M704.5,72.4L701.5,76.2M704.5,72.4L709.0,76.2M719.4,72.4L716.4,76.2M719.4,72.4L723.8,76.2M734.3,72.4L731.3,76.2M734.3,72.4L738.8,76.2M749.2,72.4L746.2,76.2" stroke="#d8d8dc" stroke-width="2" fill="none"/>
<circle cx="631.2" cy="28.3" r="2.2" fill="url(#gR)"/>
<circle cx="646.1" cy="28.3" r="2.2" fill="url(#gR)"/>
<circle cx="661.0" cy="28.3" r="2.2" fill="url(#gR)"/>
<circle cx="675.9" cy="28.3" r="2.2" fill="url(#gR)"/>
<circle cx="690.8" cy="28.3" r="2.2" fill="url(#gR)"/>
<circle cx="705.7" cy="28.3" r="2.2" fill="url(#gR)"/>
<circle cx="720.6" cy="28.3" r="2.2" fill="url(#gR)"/>
<circle cx="735.5" cy="28.3" r="2.2" fill="url(#gR)"/>
<circle cx="750.4" cy="28.3" r="2.2" fill="url(#gR)"/>
<circle cx="638.3" cy="31.3" r="2.1" fill="url(#gY)"/>
<circle cx="653.2" cy="31.3" r="2.1" fill="url(#gY)"/>
<circle cx="668.1" cy="31.3" r="2.1" fill="url(#gY)"/>
<circle cx="683.0" cy="31.3" r="2.1" fill="url(#gY)"/>
<circle cx="697.9" cy="31.3" r="2.1" fill="url(#gY)"/>
<circle cx="712.8" cy="31.3" r="2.1" fill="url(#gY)"/>
<circle cx="727.7" cy="31.3" r="2.1" fill="url(#gY)"/>
<circle cx="742.6" cy="31.3" r="2.1" fill="url(#gY)"/>
<circle cx="638.9" cy="39.0" r="2.2" fill="url(#gR)"/>
<circle cx="653.8" cy="39.0" r="2.2" fill="url(#gR)"/>
<circle cx="668.7" cy="39.0" r="2.2" fill="url(#gR)"/>
<circle cx="683.6" cy="39.0" r="2.2" fill="url(#gR)"/>
<circle cx="698.5" cy="39.0" r="2.2" fill="url(#gR)"/>
<circle cx="713.4" cy="39.0" r="2.2" fill="url(#gR)"/>
<circle cx="728.3" cy="39.0" r="2.2" fill="url(#gR)"/>
<circle cx="743.2" cy="39.0" r="2.2" fill="url(#gR)"/>
<circle cx="643.7" cy="48.0" r="3.0" fill="url(#gB)"/>
<circle cx="658.6" cy="48.0" r="3.0" fill="url(#gB)"/>
<circle cx="673.5" cy="48.0" r="3.0" fill="url(#gB)"/>
<circle cx="688.4" cy="48.0" r="3.0" fill="url(#gB)"/>
<circle cx="703.3" cy="48.0" r="3.0" fill="url(#gB)"/>
<circle cx="718.2" cy="48.0" r="3.0" fill="url(#gB)"/>
<circle cx="733.1" cy="48.0" r="3.0" fill="url(#gB)"/>
<circle cx="748.0" cy="48.0" r="3.0" fill="url(#gB)"/>
<circle cx="639.2" cy="55.7" r="2.7" fill="url(#gG)"/>
<circle cx="654.1" cy="55.7" r="2.7" fill="url(#gG)"/>
<circle cx="669.0" cy="55.7" r="2.7" fill="url(#gG)"/>
<circle cx="683.9" cy="55.7" r="2.7" fill="url(#gG)"/>
<circle cx="698.8" cy="55.7" r="2.7" fill="url(#gG)"/>
<circle cx="713.7" cy="55.7" r="2.7" fill="url(#gG)"/>
<circle cx="728.6" cy="55.7" r="2.7" fill="url(#gG)"/>
<circle cx="743.5" cy="55.7" r="2.7" fill="url(#gG)"/>
<circle cx="649.6" cy="64.3" r="3.0" fill="url(#gB)"/>
<circle cx="664.5" cy="64.3" r="3.0" fill="url(#gB)"/>
<circle cx="679.4" cy="64.3" r="3.0" fill="url(#gB)"/>
<circle cx="694.3" cy="64.3" r="3.0" fill="url(#gB)"/>
<circle cx="709.2" cy="64.3" r="3.0" fill="url(#gB)"/>
<circle cx="724.1" cy="64.3" r="3.0" fill="url(#gB)"/>
<circle cx="739.0" cy="64.3" r="3.0" fill="url(#gB)"/>
<circle cx="644.9" cy="72.4" r="2.7" fill="url(#gG)"/>
<circle cx="659.8" cy="72.4" r="2.7" fill="url(#gG)"/>
<circle cx="674.7" cy="72.4" r="2.7" fill="url(#gG)"/>
<circle cx="689.6" cy="72.4" r="2.7" fill="url(#gG)"/>
<circle cx="704.5" cy="72.4" r="2.7" fill="url(#gG)"/>
<circle cx="719.4" cy="72.4" r="2.7" fill="url(#gG)"/>
<circle cx="734.3" cy="72.4" r="2.7" fill="url(#gG)"/>
<circle cx="749.2" cy="72.4" r="2.7" fill="url(#gG)"/>
<circle cx="638.9" cy="80.1" r="3.0" fill="url(#gB)"/>
<circle cx="653.8" cy="80.1" r="3.0" fill="url(#gB)"/>
<circle cx="668.7" cy="80.1" r="3.0" fill="url(#gB)"/>
<circle cx="683.6" cy="80.1" r="3.0" fill="url(#gB)"/>
<circle cx="698.5" cy="80.1" r="3.0" fill="url(#gB)"/>
<circle cx="713.4" cy="80.1" r="3.0" fill="url(#gB)"/>
<circle cx="728.3" cy="80.1" r="3.0" fill="url(#gB)"/>
<circle cx="743.2" cy="80.1" r="3.0" fill="url(#gB)"/>
<circle cx="644.3" cy="88.5" r="2.2" fill="url(#gR)"/>
<circle cx="659.2" cy="88.5" r="2.2" fill="url(#gR)"/>
<circle cx="674.1" cy="88.5" r="2.2" fill="url(#gR)"/>
<circle cx="689.0" cy="88.5" r="2.2" fill="url(#gR)"/>
<circle cx="703.9" cy="88.5" r="2.2" fill="url(#gR)"/>
<circle cx="718.8" cy="88.5" r="2.2" fill="url(#gR)"/>
<circle cx="733.7" cy="88.5" r="2.2" fill="url(#gR)"/>
<circle cx="748.6" cy="88.5" r="2.2" fill="url(#gR)"/>
<circle cx="645.5" cy="96.2" r="2.1" fill="url(#gY)"/>
<circle cx="660.4" cy="96.2" r="2.1" fill="url(#gY)"/>
<circle cx="675.3" cy="96.2" r="2.1" fill="url(#gY)"/>
<circle cx="690.2" cy="96.2" r="2.1" fill="url(#gY)"/>
<circle cx="705.1" cy="96.2" r="2.1" fill="url(#gY)"/>
<circle cx="720.0" cy="96.2" r="2.1" fill="url(#gY)"/>
<circle cx="734.9" cy="96.2" r="2.1" fill="url(#gY)"/>
<circle cx="749.8" cy="96.2" r="2.1" fill="url(#gY)"/>
<circle cx="638.3" cy="100.4" r="2.2" fill="url(#gR)"/>
<circle cx="653.2" cy="100.4" r="2.2" fill="url(#gR)"/>
<circle cx="668.1" cy="100.4" r="2.2" fill="url(#gR)"/>
<circle cx="683.0" cy="100.4" r="2.2" fill="url(#gR)"/>
<circle cx="697.9" cy="100.4" r="2.2" fill="url(#gR)"/>
<circle cx="712.8" cy="100.4" r="2.2" fill="url(#gR)"/>
<circle cx="727.7" cy="100.4" r="2.2" fill="url(#gR)"/>
<circle cx="742.6" cy="100.4" r="2.2" fill="url(#gR)"/>
<circle cx="757.5" cy="100.4" r="2.2" fill="url(#gR)"/>
<path d="M629.7,114.5L636.8,117.5M644.6,114.5L636.8,117.5M644.6,114.5L651.7,117.5M659.5,114.5L651.7,117.5M659.5,114.5L666.6,117.5M674.4,114.5L666.6,117.5M674.4,114.5L681.5,117.5M689.3,114.5L681.5,117.5M689.3,114.5L696.4,117.5M704.2,114.5L696.4,117.5M704.2,114.5L711.3,117.5M719.1,114.5L711.3,117.5M719.1,114.5L726.2,117.5M734.0,114.5L726.2,117.5M734.0,114.5L741.1,117.5M748.9,114.5L741.1,117.5M636.8,117.5L637.4,125.2M651.7,117.5L652.3,125.2M666.6,117.5L667.2,125.2M681.5,117.5L682.1,125.2M696.4,117.5L697.0,125.2M711.3,117.5L711.9,125.2M726.2,117.5L726.8,125.2M741.1,117.5L741.7,125.2M637.4,125.2L642.2,134.2M652.3,125.2L642.2,134.2M652.3,125.2L657.1,134.2M667.2,125.2L657.1,134.2M667.2,125.2L672.0,134.2M682.1,125.2L672.0,134.2M682.1,125.2L686.9,134.2M697.0,125.2L686.9,134.2M697.0,125.2L701.8,134.2M711.9,125.2L701.8,134.2M711.9,125.2L716.7,134.2M726.8,125.2L716.7,134.2M726.8,125.2L731.6,134.2M741.7,125.2L731.6,134.2M741.7,125.2L746.5,134.2M642.2,134.2L637.7,141.9M642.2,134.2L652.6,141.9M657.1,134.2L652.6,141.9M657.1,134.2L667.5,141.9M672.0,134.2L667.5,141.9M672.0,134.2L682.4,141.9M686.9,134.2L682.4,141.9M686.9,134.2L697.3,141.9M701.8,134.2L697.3,141.9M701.8,134.2L712.2,141.9M716.7,134.2L712.2,141.9M716.7,134.2L727.1,141.9M731.6,134.2L727.1,141.9M731.6,134.2L742.0,141.9M746.5,134.2L742.0,141.9M637.7,141.9L648.1,150.5M652.6,141.9L648.1,150.5M652.6,141.9L663.0,150.5M667.5,141.9L663.0,150.5M667.5,141.9L677.9,150.5M682.4,141.9L677.9,150.5M682.4,141.9L692.8,150.5M697.3,141.9L692.8,150.5M697.3,141.9L707.7,150.5M712.2,141.9L707.7,150.5M712.2,141.9L722.6,150.5M727.1,141.9L722.6,150.5M727.1,141.9L737.5,150.5M742.0,141.9L737.5,150.5M648.1,150.5L643.4,158.6M648.1,150.5L658.3,158.6M663.0,150.5L658.3,158.6M663.0,150.5L673.2,158.6M677.9,150.5L673.2,158.6M677.9,150.5L688.1,158.6M692.8,150.5L688.1,158.6M692.8,150.5L703.0,158.6M707.7,150.5L703.0,158.6M707.7,150.5L717.9,158.6M722.6,150.5L717.9,158.6M722.6,150.5L732.8,158.6M737.5,150.5L732.8,158.6M737.5,150.5L747.7,158.6M643.4,158.6L637.4,166.3M643.4,158.6L652.3,166.3M658.3,158.6L652.3,166.3M658.3,158.6L667.2,166.3M673.2,158.6L667.2,166.3M673.2,158.6L682.1,166.3M688.1,158.6L682.1,166.3M688.1,158.6L697.0,166.3M703.0,158.6L697.0,166.3M703.0,158.6L711.9,166.3M717.9,158.6L711.9,166.3M717.9,158.6L726.8,166.3M732.8,158.6L726.8,166.3M732.8,158.6L741.7,166.3M747.7,158.6L741.7,166.3M637.4,166.3L642.8,174.7M652.3,166.3L642.8,174.7M652.3,166.3L657.7,174.7M667.2,166.3L657.7,174.7M667.2,166.3L672.6,174.7M682.1,166.3L672.6,174.7M682.1,166.3L687.5,174.7M697.0,166.3L687.5,174.7M697.0,166.3L702.4,174.7M711.9,166.3L702.4,174.7M711.9,166.3L717.3,174.7M726.8,166.3L717.3,174.7M726.8,166.3L732.2,174.7M741.7,166.3L732.2,174.7M741.7,166.3L747.1,174.7M642.8,174.7L644.0,182.4M657.7,174.7L658.9,182.4M672.6,174.7L673.8,182.4M687.5,174.7L688.7,182.4M702.4,174.7L703.6,182.4M717.3,174.7L718.5,182.4M732.2,174.7L733.4,182.4M747.1,174.7L748.3,182.4M644.0,182.4L636.8,186.6M644.0,182.4L651.7,186.6M658.9,182.4L651.7,186.6M658.9,182.4L666.6,186.6M673.8,182.4L666.6,186.6M673.8,182.4L681.5,186.6M688.7,182.4L681.5,186.6M688.7,182.4L696.4,186.6M703.6,182.4L696.4,186.6M703.6,182.4L711.3,186.6M718.5,182.4L711.3,186.6M718.5,182.4L726.2,186.6M733.4,182.4L726.2,186.6M733.4,182.4L741.1,186.6M748.3,182.4L741.1,186.6M748.3,182.4L756.0,186.6" stroke="#555" stroke-width="3" stroke-linecap="round" opacity="0.55" fill="none"/>
<path d="M629.7,114.5L633.2,116.0M644.6,114.5L640.7,116.0M644.6,114.5L648.1,116.0M659.5,114.5L655.6,116.0M659.5,114.5L663.0,116.0M674.4,114.5L670.5,116.0M674.4,114.5L678.0,116.0M689.3,114.5L685.4,116.0M689.3,114.5L692.9,116.0M704.2,114.5L700.3,116.0M704.2,114.5L707.8,116.0M719.1,114.5L715.2,116.0M719.1,114.5L722.6,116.0M734.0,114.5L730.1,116.0M734.0,114.5L737.5,116.0M748.9,114.5L745.0,116.0M637.1,121.3L637.4,125.2M652.0,121.3L652.3,125.2M666.9,121.3L667.2,125.2M681.8,121.3L682.1,125.2M696.7,121.3L697.0,125.2M711.6,121.3L711.9,125.2M726.5,121.3L726.8,125.2M741.4,121.3L741.7,125.2M637.4,125.2L639.8,129.7M652.3,125.2L647.2,129.7M652.3,125.2L654.7,129.7M667.2,125.2L662.1,129.7M667.2,125.2L669.6,129.7M682.1,125.2L677.0,129.7M682.1,125.2L684.5,129.7M697.0,125.2L692.0,129.7M697.0,125.2L699.4,129.7M711.9,125.2L706.9,129.7M711.9,125.2L714.3,129.7M726.8,125.2L721.8,129.7M726.8,125.2L729.2,129.7M741.7,125.2L736.6,129.7M741.7,125.2L744.1,129.7M640.1,170.5L642.8,174.7M647.5,170.5L642.8,174.7M655.0,170.5L657.7,174.7M662.4,170.5L657.7,174.7M669.9,170.5L672.6,174.7M677.3,170.5L672.6,174.7M684.8,170.5L687.5,174.7M692.2,170.5L687.5,174.7M699.7,170.5L702.4,174.7M707.1,170.5L702.4,174.7M714.6,170.5L717.3,174.7M722.0,170.5L717.3,174.7M729.5,170.5L732.2,174.7M736.9,170.5L732.2,174.7M744.4,170.5L747.1,174.7M642.8,174.7L643.4,178.6M657.7,174.7L658.3,178.6M672.6,174.7L673.2,178.6M687.5,174.7L688.1,178.6M702.4,174.7L703.0,178.6M717.3,174.7L717.9,178.6M732.2,174.7L732.8,178.6M747.1,174.7L747.7,178.6M640.4,184.5L636.8,186.6M647.8,184.5L651.7,186.6M655.3,184.5L651.7,186.6M662.8,184.5L666.6,186.6M670.2,184.5L666.6,186.6M677.6,184.5L681.5,186.6M685.1,184.5L681.5,186.6M692.5,184.5L696.4,186.6M700.0,184.5L696.4,186.6M707.5,184.5L711.3,186.6M714.9,184.5L711.3,186.6M722.3,184.5L726.2,186.6M729.8,184.5L726.2,186.6M737.2,184.5L741.1,186.6M744.7,184.5L741.1,186.6M752.1,184.5L756.0,186.6" stroke="#e0502a" stroke-width="2" fill="none"/>
<path d="M633.2,116.0L636.8,117.5M640.7,116.0L636.8,117.5M648.1,116.0L651.7,117.5M655.6,116.0L651.7,117.5M663.0,116.0L666.6,117.5M670.5,116.0L666.6,117.5M678.0,116.0L681.5,117.5M685.4,116.0L681.5,117.5M692.9,116.0L696.4,117.5M700.3,116.0L696.4,117.5M707.8,116.0L711.3,117.5M715.2,116.0L711.3,117.5M722.6,116.0L726.2,117.5M730.1,116.0L726.2,117.5M737.5,116.0L741.1,117.5M745.0,116.0L741.1,117.5M636.8,117.5L637.1,121.3M651.7,117.5L652.0,121.3M666.6,117.5L666.9,121.3M681.5,117.5L681.8,121.3M696.4,117.5L696.7,121.3M711.3,117.5L711.6,121.3M726.2,117.5L726.5,121.3M741.1,117.5L741.4,121.3M643.4,178.6L644.0,182.4M658.3,178.6L658.9,182.4M673.2,178.6L673.8,182.4M688.1,178.6L688.7,182.4M703.0,178.6L703.6,182.4M717.9,178.6L718.5,182.4M732.8,178.6L733.4,182.4M747.7,178.6L748.3,182.4M644.0,182.4L640.4,184.5M644.0,182.4L647.8,184.5M658.9,182.4L655.3,184.5M658.9,182.4L662.8,184.5M673.8,182.4L670.2,184.5M673.8,182.4L677.6,184.5M688.7,182.4L685.1,184.5M688.7,182.4L692.5,184.5M703.6,182.4L700.0,184.5M703.6,182.4L707.5,184.5M718.5,182.4L714.9,184.5M718.5,182.4L722.3,184.5M733.4,182.4L729.8,184.5M733.4,182.4L737.2,184.5M748.3,182.4L744.7,184.5M748.3,182.4L752.1,184.5" stroke="#f2c230" stroke-width="2" fill="none"/>
<path d="M639.8,129.7L642.2,134.2M647.2,129.7L642.2,134.2M654.7,129.7L657.1,134.2M662.1,129.7L657.1,134.2M669.6,129.7L672.0,134.2M677.0,129.7L672.0,134.2M684.5,129.7L686.9,134.2M692.0,129.7L686.9,134.2M699.4,129.7L701.8,134.2M706.9,129.7L701.8,134.2M714.3,129.7L716.7,134.2M721.8,129.7L716.7,134.2M729.2,129.7L731.6,134.2M736.6,129.7L731.6,134.2M744.1,129.7L746.5,134.2M642.2,134.2L640.0,138.1M642.2,134.2L647.4,138.1M657.1,134.2L654.9,138.1M657.1,134.2L662.3,138.1M672.0,134.2L669.8,138.1M672.0,134.2L677.2,138.1M686.9,134.2L684.7,138.1M686.9,134.2L692.1,138.1M701.8,134.2L699.6,138.1M701.8,134.2L707.0,138.1M716.7,134.2L714.5,138.1M716.7,134.2L721.9,138.1M731.6,134.2L729.4,138.1M731.6,134.2L736.8,138.1M746.5,134.2L744.2,138.1M642.9,146.2L648.1,150.5M650.4,146.2L648.1,150.5M657.8,146.2L663.0,150.5M665.2,146.2L663.0,150.5M672.7,146.2L677.9,150.5M680.2,146.2L677.9,150.5M687.6,146.2L692.8,150.5M695.1,146.2L692.8,150.5M702.5,146.2L707.7,150.5M710.0,146.2L707.7,150.5M717.4,146.2L722.6,150.5M724.9,146.2L722.6,150.5M732.3,146.2L737.5,150.5M739.8,146.2L737.5,150.5M648.1,150.5L645.8,154.6M648.1,150.5L653.2,154.6M663.0,150.5L660.6,154.6M663.0,150.5L668.1,154.6M677.9,150.5L675.5,154.6M677.9,150.5L683.0,154.6M692.8,150.5L690.5,154.6M692.8,150.5L697.9,154.6M707.7,150.5L705.4,154.6M707.7,150.5L712.8,154.6M722.6,150.5L720.2,154.6M722.6,150.5L727.7,154.6M737.5,150.5L735.1,154.6M737.5,150.5L742.6,154.6M640.4,162.5L637.4,166.3M647.8,162.5L652.3,166.3M655.3,162.5L652.3,166.3M662.8,162.5L667.2,166.3M670.2,162.5L667.2,166.3M677.6,162.5L682.1,166.3M685.1,162.5L682.1,166.3M692.5,162.5L697.0,166.3M700.0,162.5L697.0,166.3M707.5,162.5L711.9,166.3M714.9,162.5L711.9,166.3M722.3,162.5L726.8,166.3M729.8,162.5L726.8,166.3M737.2,162.5L741.7,166.3M744.7,162.5L741.7,166.3M637.4,166.3L640.1,170.5M652.3,166.3L647.5,170.5M652.3,166.3L655.0,170.5M667.2,166.3L662.4,170.5M667.2,166.3L669.9,170.5M682.1,166.3L677.3,170.5M682.1,166.3L684.8,170.5M697.0,166.3L692.2,170.5M697.0,166.3L699.7,170.5M711.9,166.3L707.1,170.5M711.9,166.3L714.6,170.5M726.8,166.3L722.0,170.5M726.8,166.3L729.5,170.5M741.7,166.3L736.9,170.5M741.7,166.3L744.4,170.5" stroke="#8fa8ea" stroke-width="2" fill="none"/>
<path d="M640.0,138.1L637.7,141.9M647.4,138.1L652.6,141.9M654.9,138.1L652.6,141.9M662.3,138.1L667.5,141.9M669.8,138.1L667.5,141.9M677.2,138.1L682.4,141.9M684.7,138.1L682.4,141.9M692.1,138.1L697.3,141.9M699.6,138.1L697.3,141.9M707.0,138.1L712.2,141.9M714.5,138.1L712.2,141.9M721.9,138.1L727.1,141.9M729.4,138.1L727.1,141.9M736.8,138.1L742.0,141.9M744.2,138.1L742.0,141.9M637.7,141.9L642.9,146.2M652.6,141.9L650.4,146.2M652.6,141.9L657.8,146.2M667.5,141.9L665.2,146.2M667.5,141.9L672.7,146.2M682.4,141.9L680.2,146.2M682.4,141.9L687.6,146.2M697.3,141.9L695.1,146.2M697.3,141.9L702.5,146.2M712.2,141.9L710.0,146.2M712.2,141.9L717.4,146.2M727.1,141.9L724.9,146.2M727.1,141.9L732.3,146.2M742.0,141.9L739.8,146.2M645.8,154.6L643.4,158.6M653.2,154.6L658.3,158.6M660.6,154.6L658.3,158.6M668.1,154.6L673.2,158.6M675.5,154.6L673.2,158.6M683.0,154.6L688.1,158.6M690.5,154.6L688.1,158.6M697.9,154.6L703.0,158.6M705.4,154.6L703.0,158.6M712.8,154.6L717.9,158.6M720.2,154.6L717.9,158.6M727.7,154.6L732.8,158.6M735.1,154.6L732.8,158.6M742.6,154.6L747.7,158.6M643.4,158.6L640.4,162.5M643.4,158.6L647.8,162.5M658.3,158.6L655.3,162.5M658.3,158.6L662.8,162.5M673.2,158.6L670.2,162.5M673.2,158.6L677.6,162.5M688.1,158.6L685.1,162.5M688.1,158.6L692.5,162.5M703.0,158.6L700.0,162.5M703.0,158.6L707.5,162.5M717.9,158.6L714.9,162.5M717.9,158.6L722.3,162.5M732.8,158.6L729.8,162.5M732.8,158.6L737.2,162.5M747.7,158.6L744.7,162.5" stroke="#d8d8dc" stroke-width="2" fill="none"/>
<circle cx="629.7" cy="114.5" r="2.2" fill="url(#gR)"/>
<circle cx="644.6" cy="114.5" r="2.2" fill="url(#gR)"/>
<circle cx="659.5" cy="114.5" r="2.2" fill="url(#gR)"/>
<circle cx="674.4" cy="114.5" r="2.2" fill="url(#gR)"/>
<circle cx="689.3" cy="114.5" r="2.2" fill="url(#gR)"/>
<circle cx="704.2" cy="114.5" r="2.2" fill="url(#gR)"/>
<circle cx="719.1" cy="114.5" r="2.2" fill="url(#gR)"/>
<circle cx="734.0" cy="114.5" r="2.2" fill="url(#gR)"/>
<circle cx="748.9" cy="114.5" r="2.2" fill="url(#gR)"/>
<circle cx="636.8" cy="117.5" r="2.1" fill="url(#gY)"/>
<circle cx="651.7" cy="117.5" r="2.1" fill="url(#gY)"/>
<circle cx="666.6" cy="117.5" r="2.1" fill="url(#gY)"/>
<circle cx="681.5" cy="117.5" r="2.1" fill="url(#gY)"/>
<circle cx="696.4" cy="117.5" r="2.1" fill="url(#gY)"/>
<circle cx="711.3" cy="117.5" r="2.1" fill="url(#gY)"/>
<circle cx="726.2" cy="117.5" r="2.1" fill="url(#gY)"/>
<circle cx="741.1" cy="117.5" r="2.1" fill="url(#gY)"/>
<circle cx="637.4" cy="125.2" r="2.2" fill="url(#gR)"/>
<circle cx="652.3" cy="125.2" r="2.2" fill="url(#gR)"/>
<circle cx="667.2" cy="125.2" r="2.2" fill="url(#gR)"/>
<circle cx="682.1" cy="125.2" r="2.2" fill="url(#gR)"/>
<circle cx="697.0" cy="125.2" r="2.2" fill="url(#gR)"/>
<circle cx="711.9" cy="125.2" r="2.2" fill="url(#gR)"/>
<circle cx="726.8" cy="125.2" r="2.2" fill="url(#gR)"/>
<circle cx="741.7" cy="125.2" r="2.2" fill="url(#gR)"/>
<circle cx="642.2" cy="134.2" r="3.0" fill="url(#gB)"/>
<circle cx="657.1" cy="134.2" r="3.0" fill="url(#gB)"/>
<circle cx="672.0" cy="134.2" r="3.0" fill="url(#gB)"/>
<circle cx="686.9" cy="134.2" r="3.0" fill="url(#gB)"/>
<circle cx="701.8" cy="134.2" r="3.0" fill="url(#gB)"/>
<circle cx="716.7" cy="134.2" r="3.0" fill="url(#gB)"/>
<circle cx="731.6" cy="134.2" r="3.0" fill="url(#gB)"/>
<circle cx="746.5" cy="134.2" r="3.0" fill="url(#gB)"/>
<circle cx="637.7" cy="141.9" r="2.7" fill="url(#gG)"/>
<circle cx="652.6" cy="141.9" r="2.7" fill="url(#gG)"/>
<circle cx="667.5" cy="141.9" r="2.7" fill="url(#gG)"/>
<circle cx="682.4" cy="141.9" r="2.7" fill="url(#gG)"/>
<circle cx="697.3" cy="141.9" r="2.7" fill="url(#gG)"/>
<circle cx="712.2" cy="141.9" r="2.7" fill="url(#gG)"/>
<circle cx="727.1" cy="141.9" r="2.7" fill="url(#gG)"/>
<circle cx="742.0" cy="141.9" r="2.7" fill="url(#gG)"/>
<circle cx="648.1" cy="150.5" r="3.0" fill="url(#gB)"/>
<circle cx="663.0" cy="150.5" r="3.0" fill="url(#gB)"/>
<circle cx="677.9" cy="150.5" r="3.0" fill="url(#gB)"/>
<circle cx="692.8" cy="150.5" r="3.0" fill="url(#gB)"/>
<circle cx="707.7" cy="150.5" r="3.0" fill="url(#gB)"/>
<circle cx="722.6" cy="150.5" r="3.0" fill="url(#gB)"/>
<circle cx="737.5" cy="150.5" r="3.0" fill="url(#gB)"/>
<circle cx="643.4" cy="158.6" r="2.7" fill="url(#gG)"/>
<circle cx="658.3" cy="158.6" r="2.7" fill="url(#gG)"/>
<circle cx="673.2" cy="158.6" r="2.7" fill="url(#gG)"/>
<circle cx="688.1" cy="158.6" r="2.7" fill="url(#gG)"/>
<circle cx="703.0" cy="158.6" r="2.7" fill="url(#gG)"/>
<circle cx="717.9" cy="158.6" r="2.7" fill="url(#gG)"/>
<circle cx="732.8" cy="158.6" r="2.7" fill="url(#gG)"/>
<circle cx="747.7" cy="158.6" r="2.7" fill="url(#gG)"/>
<circle cx="637.4" cy="166.3" r="3.0" fill="url(#gB)"/>
<circle cx="652.3" cy="166.3" r="3.0" fill="url(#gB)"/>
<circle cx="667.2" cy="166.3" r="3.0" fill="url(#gB)"/>
<circle cx="682.1" cy="166.3" r="3.0" fill="url(#gB)"/>
<circle cx="697.0" cy="166.3" r="3.0" fill="url(#gB)"/>
<circle cx="711.9" cy="166.3" r="3.0" fill="url(#gB)"/>
<circle cx="726.8" cy="166.3" r="3.0" fill="url(#gB)"/>
<circle cx="741.7" cy="166.3" r="3.0" fill="url(#gB)"/>
<circle cx="642.8" cy="174.7" r="2.2" fill="url(#gR)"/>
<circle cx="657.7" cy="174.7" r="2.2" fill="url(#gR)"/>
<circle cx="672.6" cy="174.7" r="2.2" fill="url(#gR)"/>
<circle cx="687.5" cy="174.7" r="2.2" fill="url(#gR)"/>
<circle cx="702.4" cy="174.7" r="2.2" fill="url(#gR)"/>
<circle cx="717.3" cy="174.7" r="2.2" fill="url(#gR)"/>
<circle cx="732.2" cy="174.7" r="2.2" fill="url(#gR)"/>
<circle cx="747.1" cy="174.7" r="2.2" fill="url(#gR)"/>
<circle cx="644.0" cy="182.4" r="2.1" fill="url(#gY)"/>
<circle cx="658.9" cy="182.4" r="2.1" fill="url(#gY)"/>
<circle cx="673.8" cy="182.4" r="2.1" fill="url(#gY)"/>
<circle cx="688.7" cy="182.4" r="2.1" fill="url(#gY)"/>
<circle cx="703.6" cy="182.4" r="2.1" fill="url(#gY)"/>
<circle cx="718.5" cy="182.4" r="2.1" fill="url(#gY)"/>
<circle cx="733.4" cy="182.4" r="2.1" fill="url(#gY)"/>
<circle cx="748.3" cy="182.4" r="2.1" fill="url(#gY)"/>
<circle cx="636.8" cy="186.6" r="2.2" fill="url(#gR)"/>
<circle cx="651.7" cy="186.6" r="2.2" fill="url(#gR)"/>
<circle cx="666.6" cy="186.6" r="2.2" fill="url(#gR)"/>
<circle cx="681.5" cy="186.6" r="2.2" fill="url(#gR)"/>
<circle cx="696.4" cy="186.6" r="2.2" fill="url(#gR)"/>
<circle cx="711.3" cy="186.6" r="2.2" fill="url(#gR)"/>
<circle cx="726.2" cy="186.6" r="2.2" fill="url(#gR)"/>
<circle cx="741.1" cy="186.6" r="2.2" fill="url(#gR)"/>
<circle cx="756.0" cy="186.6" r="2.2" fill="url(#gR)"/>
<line x1="441.80" y1="269.50" x2="441.80" y2="443.00" stroke="#3a3a3a" stroke-width="1.4"/>
<line x1="437.30" y1="281.30" x2="441.80" y2="281.30" stroke="#3a3a3a" stroke-width="1.3"/>
<text x="431.50" y="285.50" font-size="11.60" fill="#231f20" text-anchor="end" font-weight="normal"  textLength="18.30" lengthAdjust="spacingAndGlyphs">100</text>
<line x1="437.30" y1="314.70" x2="441.80" y2="314.70" stroke="#3a3a3a" stroke-width="1.3"/>
<text x="431.50" y="318.90" font-size="11.60" fill="#231f20" text-anchor="end" font-weight="normal"  textLength="18.30" lengthAdjust="spacingAndGlyphs">120</text>
<line x1="437.30" y1="348.10" x2="441.80" y2="348.10" stroke="#3a3a3a" stroke-width="1.3"/>
<text x="431.50" y="352.30" font-size="11.60" fill="#231f20" text-anchor="end" font-weight="normal"  textLength="18.30" lengthAdjust="spacingAndGlyphs">140</text>
<line x1="437.30" y1="381.50" x2="441.80" y2="381.50" stroke="#3a3a3a" stroke-width="1.3"/>
<text x="431.50" y="385.70" font-size="11.60" fill="#231f20" text-anchor="end" font-weight="normal"  textLength="18.30" lengthAdjust="spacingAndGlyphs">160</text>
<line x1="437.30" y1="414.90" x2="441.80" y2="414.90" stroke="#3a3a3a" stroke-width="1.3"/>
<text x="431.50" y="419.10" font-size="11.60" fill="#231f20" text-anchor="end" font-weight="normal"  textLength="18.30" lengthAdjust="spacingAndGlyphs">180</text>
<line x1="441.10" y1="442.30" x2="568.50" y2="442.30" stroke="#3a3a3a" stroke-width="1.4"/>
<line x1="441.80" y1="442.30" x2="441.80" y2="446.80" stroke="#3a3a3a" stroke-width="1"/>
<line x1="451.33" y1="442.30" x2="451.33" y2="444.90" stroke="#3a3a3a" stroke-width="1"/>
<line x1="456.90" y1="442.30" x2="456.90" y2="444.90" stroke="#3a3a3a" stroke-width="1"/>
<line x1="460.86" y1="442.30" x2="460.86" y2="444.90" stroke="#3a3a3a" stroke-width="1"/>
<line x1="463.92" y1="442.30" x2="463.92" y2="444.90" stroke="#3a3a3a" stroke-width="1"/>
<line x1="466.43" y1="442.30" x2="466.43" y2="444.90" stroke="#3a3a3a" stroke-width="1"/>
<line x1="468.55" y1="442.30" x2="468.55" y2="444.90" stroke="#3a3a3a" stroke-width="1"/>
<line x1="470.38" y1="442.30" x2="470.38" y2="444.90" stroke="#3a3a3a" stroke-width="1"/>
<line x1="472.00" y1="442.30" x2="472.00" y2="444.90" stroke="#3a3a3a" stroke-width="1"/>
<line x1="473.45" y1="442.30" x2="473.45" y2="446.80" stroke="#3a3a3a" stroke-width="1"/>
<line x1="482.98" y1="442.30" x2="482.98" y2="444.90" stroke="#3a3a3a" stroke-width="1"/>
<line x1="488.55" y1="442.30" x2="488.55" y2="444.90" stroke="#3a3a3a" stroke-width="1"/>
<line x1="492.51" y1="442.30" x2="492.51" y2="444.90" stroke="#3a3a3a" stroke-width="1"/>
<line x1="495.57" y1="442.30" x2="495.57" y2="444.90" stroke="#3a3a3a" stroke-width="1"/>
<line x1="498.08" y1="442.30" x2="498.08" y2="444.90" stroke="#3a3a3a" stroke-width="1"/>
<line x1="500.20" y1="442.30" x2="500.20" y2="444.90" stroke="#3a3a3a" stroke-width="1"/>
<line x1="502.03" y1="442.30" x2="502.03" y2="444.90" stroke="#3a3a3a" stroke-width="1"/>
<line x1="503.65" y1="442.30" x2="503.65" y2="444.90" stroke="#3a3a3a" stroke-width="1"/>
<line x1="505.10" y1="442.30" x2="505.10" y2="446.80" stroke="#3a3a3a" stroke-width="1"/>
<line x1="514.63" y1="442.30" x2="514.63" y2="444.90" stroke="#3a3a3a" stroke-width="1"/>
<line x1="520.20" y1="442.30" x2="520.20" y2="444.90" stroke="#3a3a3a" stroke-width="1"/>
<line x1="524.16" y1="442.30" x2="524.16" y2="444.90" stroke="#3a3a3a" stroke-width="1"/>
<line x1="527.22" y1="442.30" x2="527.22" y2="444.90" stroke="#3a3a3a" stroke-width="1"/>
<line x1="529.73" y1="442.30" x2="529.73" y2="444.90" stroke="#3a3a3a" stroke-width="1"/>
<line x1="531.85" y1="442.30" x2="531.85" y2="444.90" stroke="#3a3a3a" stroke-width="1"/>
<line x1="533.68" y1="442.30" x2="533.68" y2="444.90" stroke="#3a3a3a" stroke-width="1"/>
<line x1="535.30" y1="442.30" x2="535.30" y2="444.90" stroke="#3a3a3a" stroke-width="1"/>
<line x1="536.75" y1="442.30" x2="536.75" y2="446.80" stroke="#3a3a3a" stroke-width="1"/>
<line x1="546.28" y1="442.30" x2="546.28" y2="444.90" stroke="#3a3a3a" stroke-width="1"/>
<line x1="551.85" y1="442.30" x2="551.85" y2="444.90" stroke="#3a3a3a" stroke-width="1"/>
<line x1="555.81" y1="442.30" x2="555.81" y2="444.90" stroke="#3a3a3a" stroke-width="1"/>
<line x1="558.87" y1="442.30" x2="558.87" y2="444.90" stroke="#3a3a3a" stroke-width="1"/>
<line x1="561.38" y1="442.30" x2="561.38" y2="444.90" stroke="#3a3a3a" stroke-width="1"/>
<line x1="563.50" y1="442.30" x2="563.50" y2="444.90" stroke="#3a3a3a" stroke-width="1"/>
<line x1="565.33" y1="442.30" x2="565.33" y2="444.90" stroke="#3a3a3a" stroke-width="1"/>
<line x1="566.95" y1="442.30" x2="566.95" y2="444.90" stroke="#3a3a3a" stroke-width="1"/>
<text x="441.60" y="461.80" font-size="11.5" fill="#231f20" text-anchor="middle">1<tspan font-size="9.5" dx="1.6">×</tspan><tspan dx="1.4">10</tspan><tspan dy="-4.5" font-size="8">3</tspan></text>
<text x="504.90" y="461.80" font-size="11.5" fill="#231f20" text-anchor="middle">1<tspan font-size="9.5" dx="1.6">×</tspan><tspan dx="1.4">10</tspan><tspan dy="-4.5" font-size="8">5</tspan></text>
<text x="568.20" y="461.80" font-size="11.5" fill="#231f20" text-anchor="middle">1<tspan font-size="9.5" dx="1.6">×</tspan><tspan dx="1.4">10</tspan><tspan dy="-4.5" font-size="8">7</tspan></text>
<path d="M441.8,276.2L446.1,276.2L450.4,276.3L454.5,276.4L458.5,276.5L462.3,276.8L465.8,277.0L469.0,277.4L471.9,277.8L474.4,278.2L476.5,278.8L478.1,279.4L479.3,280.0L480.1,280.8L480.3,281.6L480.1,282.6L479.3,283.5L478.1,284.3L476.5,285.0L474.4,285.6L471.9,286.2L469.0,286.7L465.8,287.1L462.3,287.4L458.5,287.7L454.5,287.9L450.4,288.0L446.1,288.1L441.8,288.1" fill="none" stroke="#f5be2e" stroke-width="1.15" stroke-linejoin="round"/>
<path d="M441.8,334.7L446.2,334.7L450.5,334.8L454.6,334.9L458.7,335.2L462.5,335.4L466.1,335.8L469.3,336.2L472.2,336.8L474.7,337.4L476.8,338.1L478.5,338.9L479.7,339.8L480.5,340.7L480.7,341.8L480.5,343.0L479.7,344.1L478.5,345.1L476.8,346.0L474.7,346.8L472.2,347.5L469.3,348.1L466.1,348.6L462.5,349.0L458.7,349.3L454.6,349.5L450.5,349.7L446.2,349.8L441.8,349.8" fill="none" stroke="#f5be2e" stroke-width="1.15" stroke-linejoin="round"/>
<path d="M441.8,361.1L446.3,361.1L450.7,361.2L455.0,361.4L459.1,361.6L463.0,362.0L466.7,362.4L470.0,362.9L473.0,363.6L475.6,364.3L477.7,365.1L479.5,366.0L480.7,367.1L481.4,368.2L481.7,369.5L481.4,370.5L480.7,371.4L479.5,372.3L477.7,373.0L475.6,373.7L473.0,374.2L470.0,374.7L466.7,375.2L463.0,375.5L459.1,375.8L455.0,376.0L450.7,376.1L446.3,376.2L441.8,376.2" fill="none" stroke="#f5be2e" stroke-width="1.15" stroke-linejoin="round"/>
<path d="M441.8,420.8L446.5,420.8L451.2,420.9L455.8,421.1L460.2,421.4L464.3,421.8L468.2,422.2L471.7,422.8L474.9,423.5L477.6,424.3L479.9,425.2L481.7,426.2L483.0,427.4L483.8,428.6L484.1,430.0L483.8,430.9L483.0,431.8L481.7,432.6L479.9,433.2L477.6,433.9L474.9,434.4L471.7,434.9L468.2,435.2L464.3,435.6L460.2,435.8L455.8,436.0L451.2,436.1L446.5,436.2L441.8,436.2" fill="none" stroke="#f5be2e" stroke-width="1.15" stroke-linejoin="round"/>
<path d="M441.8,279.4L449.3,279.4L456.7,279.6L463.9,279.9L470.9,280.3L477.4,280.9L483.6,281.7L489.2,282.6L494.2,283.8L498.5,285.0L502.2,286.5L505.0,288.2L507.1,290.0L508.4,292.1L508.8,294.3L508.4,295.6L507.5,296.9L506.1,298.2L504.2,299.5L502.0,300.8L499.4,302.1L496.3,303.4L493.0,304.7L489.2,306.0L485.1,307.3L480.7,308.6L475.9,309.9L470.8,311.2L465.4,312.5L470.8,313.6L475.9,314.7L480.7,315.8L485.1,316.8L489.2,317.9L493.0,319.0L496.3,320.1L499.4,321.2L502.0,322.3L504.2,323.4L506.1,324.4L507.5,325.5L508.4,326.6L508.8,327.7L508.4,330.3L507.1,332.7L505.0,334.9L502.2,336.8L498.5,338.5L494.2,340.0L489.2,341.3L483.6,342.4L477.4,343.3L470.9,344.0L463.9,344.5L456.7,344.9L449.3,345.0L441.8,345.1" fill="none" stroke="#bf80f4" stroke-width="1.15" stroke-linejoin="round"/>
<path d="M441.8,366.1L449.4,366.1L456.9,366.3L464.3,366.6L471.3,367.1L478.0,367.7L484.2,368.5L489.9,369.4L495.0,370.5L499.4,371.9L503.1,373.4L506.0,375.0L508.1,376.9L509.4,379.0L509.8,381.3L509.4,382.5L508.5,383.7L507.1,384.9L505.3,386.1L503.1,387.3L500.5,388.5L497.5,389.6L494.1,390.8L490.4,392.0L486.4,393.2L482.0,394.4L477.3,395.6L472.3,396.8L466.9,398.0L472.3,399.2L477.3,400.4L482.0,401.6L486.4,402.8L490.4,404.0L494.1,405.2L497.5,406.4L500.5,407.7L503.1,408.9L505.3,410.1L507.1,411.3L508.5,412.5L509.4,413.7L509.8,414.9L509.4,417.4L508.1,419.7L506.0,421.8L503.1,423.7L499.4,425.3L495.0,426.8L489.9,428.0L484.2,429.1L478.0,430.0L471.3,430.6L464.3,431.1L456.9,431.5L449.4,431.6L441.8,431.7" fill="none" stroke="#bf80f4" stroke-width="1.15" stroke-linejoin="round"/>
<path d="M441.8,295.2L451.6,295.3L461.2,295.4L470.6,295.8L479.7,296.3L488.2,296.9L496.2,297.8L503.5,298.9L510.1,300.1L515.7,301.6L520.5,303.2L524.2,305.1L526.9,307.2L528.6,309.5L529.1,312.0L528.6,314.4L526.9,316.7L524.2,318.7L520.5,320.5L515.7,322.1L510.1,323.5L503.5,324.7L496.2,325.7L488.2,326.5L479.7,327.2L470.6,327.7L461.2,328.0L451.6,328.2L441.8,328.2" fill="none" stroke="#6b6b6b" stroke-width="1.15" stroke-linejoin="round"/>
<path d="M441.8,380.9L451.6,381.0L461.3,381.1L470.8,381.5L479.9,382.0L488.5,382.7L496.5,383.6L503.8,384.8L510.4,386.1L516.1,387.6L520.8,389.3L524.6,391.3L527.3,393.5L528.9,395.9L529.5,398.6L528.9,401.2L527.3,403.5L524.6,405.6L520.8,407.5L516.1,409.2L510.4,410.7L503.8,412.0L496.5,413.0L488.5,413.9L479.9,414.6L470.8,415.1L461.3,415.5L451.6,415.6L441.8,415.7" fill="none" stroke="#6b6b6b" stroke-width="1.15" stroke-linejoin="round"/>
<path d="M474.0,270.5L475.3,270.8L476.5,271.2L477.7,271.5L478.9,271.9L480.0,272.2L481.0,272.6L481.9,272.9L482.8,273.2L483.5,273.6L484.1,273.9L484.6,274.3L484.9,274.6L485.1,275.0L485.2,275.3L485.1,275.7L484.8,276.2L484.5,276.6L484.0,277.0L483.4,277.4L482.7,277.9L481.8,278.3L480.9,278.7L479.9,279.2L478.8,279.6L477.6,280.0L476.3,280.4L475.0,280.9L473.5,281.3L476.3,281.8L478.9,282.4L481.4,282.9L483.6,283.5L485.7,284.0L487.7,284.6L489.4,285.1L490.9,285.6L492.3,286.2L493.5,286.7L494.4,287.3L495.1,287.8L495.6,288.4L495.8,288.9L495.5,289.9L494.4,290.9L492.8,291.7L490.5,292.5L487.5,293.1L484.0,293.7L480.0,294.2L475.5,294.6L470.5,295.0L465.2,295.3L459.6,295.5L453.8,295.6L447.8,295.7L441.8,295.7" fill="none" stroke="#ef3e3e" stroke-width="1.15" stroke-linejoin="round"/>
<path d="M441.8,327.7L447.8,327.7L453.7,327.8L459.5,327.9L465.1,328.1L470.4,328.4L475.3,328.8L479.8,329.2L483.8,329.7L487.3,330.3L490.2,330.9L492.5,331.7L494.2,332.5L495.2,333.5L495.5,334.5L495.3,335.1L494.9,335.6L494.3,336.2L493.5,336.8L492.5,337.3L491.3,337.9L490.0,338.4L488.5,339.0L486.8,339.6L485.0,340.1L483.0,340.7L480.9,341.3L478.6,341.8L476.2,342.4L477.5,342.7L478.8,343.1L479.9,343.4L481.0,343.7L482.0,344.0L482.9,344.4L483.8,344.7L484.5,345.0L485.1,345.4L485.7,345.7L486.1,346.0L486.5,346.3L486.7,346.7L486.8,347.0L486.7,347.6L486.4,348.2L485.9,348.8L485.3,349.3L484.6,349.9L483.8,350.5L482.8,351.1L481.7,351.7L480.5,352.3L479.2,352.9L477.7,353.4L476.2,354.0L474.5,354.6L472.8,355.2L474.5,355.8L476.1,356.5L477.6,357.1L478.9,357.8L480.2,358.4L481.4,359.1L482.4,359.8L483.4,360.4L484.2,361.1L484.9,361.7L485.5,362.4L485.9,363.0L486.2,363.7L486.3,364.3L486.2,364.6L486.0,364.9L485.7,365.2L485.2,365.6L484.7,365.9L484.1,366.2L483.4,366.5L482.6,366.8L481.7,367.1L480.8,367.4L479.8,367.8L478.6,368.1L477.5,368.4L476.2,368.7L478.6,369.1L480.9,369.5L483.1,369.9L485.1,370.4L487.0,370.8L488.6,371.2L490.2,371.6L491.5,372.0L492.7,372.4L493.7,372.8L494.6,373.3L495.2,373.7L495.6,374.1L495.8,374.5L495.5,375.8L494.4,377.1L492.8,378.2L490.5,379.2L487.5,380.0L484.0,380.8L480.0,381.5L475.5,382.0L470.5,382.5L465.2,382.8L459.6,383.1L453.8,383.3L447.8,383.4L441.8,383.4" fill="none" stroke="#ef3e3e" stroke-width="1.15" stroke-linejoin="round"/>
<path d="M441.8,414.0L447.8,414.0L453.8,414.1L459.6,414.3L465.2,414.5L470.5,414.8L475.5,415.2L480.0,415.7L484.0,416.2L487.5,416.9L490.5,417.6L492.8,418.5L494.4,419.4L495.5,420.5L495.8,421.6L495.6,422.1L495.3,422.7L494.7,423.2L493.9,423.8L493.0,424.3L491.9,424.9L490.7,425.4L489.3,425.9L487.7,426.5L486.0,427.0L484.2,427.6L482.2,428.1L480.1,428.7L477.9,429.2L479.5,429.7L481.0,430.2L482.3,430.6L483.6,431.1L484.8,431.6L485.9,432.1L486.9,432.5L487.8,433.0L488.5,433.5L489.2,434.0L489.7,434.5L490.1,434.9L490.4,435.4L490.5,435.9L490.4,436.3L490.2,436.7L489.8,437.2L489.3,437.6L488.6,438.0L487.8,438.4L486.8,438.9L485.8,439.3L484.6,439.7L483.4,440.1L482.1,440.5L480.7,441.0L479.3,441.4L477.9,441.8" fill="none" stroke="#ef3e3e" stroke-width="1.15" stroke-linejoin="round"/>
<text transform="translate(385.3,354.4) rotate(-90)" font-size="12.8" fill="#231f20" text-anchor="middle" textLength="105" lengthAdjust="spacingAndGlyphs">Sputtering depth</text>
<text transform="translate(399.4,354.4) rotate(-90)" font-size="12.8" fill="#231f20" text-anchor="middle" textLength="72" lengthAdjust="spacingAndGlyphs">(data point)</text>
<text x="504.70" y="484.30" font-size="12.80" fill="#231f20" text-anchor="middle" font-weight="normal"  textLength="106.00" lengthAdjust="spacingAndGlyphs">Intensity (counts)</text>
<text x="560.60" y="278.30" font-size="13.00" fill="#ef3e3e" text-anchor="middle" font-weight="normal" >O</text>
<text x="560.60" y="302.10" font-size="13.00" fill="#f5be2e" text-anchor="middle" font-weight="normal" >B</text>
<text x="560.60" y="325.80" font-size="13.00" fill="#6b6b6b" text-anchor="middle" font-weight="normal" >C</text>
<text x="560.60" y="350.20" font-size="13.00" fill="#bf80f4" text-anchor="middle" font-weight="normal"  textLength="16.80" lengthAdjust="spacingAndGlyphs">Nb</text>
<line x1="490.30" y1="275.00" x2="539.21" y2="272.88" stroke="#ef3e3e" stroke-width="1.90"/>
<polygon points="545.70,272.60 538.36,276.52 538.05,269.33" fill="#ef3e3e"/>
<line x1="628.80" y1="279.80" x2="584.54" y2="273.51" stroke="#ef3e3e" stroke-width="1.90"/>
<polygon points="578.10,272.60 586.03,270.09 585.02,277.22" fill="#ef3e3e"/>
<line x1="482.00" y1="281.40" x2="540.17" y2="294.84" stroke="#f5be2e" stroke-width="1.90"/>
<polygon points="546.50,296.30 538.38,298.12 540.00,291.10" fill="#f5be2e"/>
<line x1="637.00" y1="287.00" x2="584.51" y2="295.91" stroke="#f5be2e" stroke-width="1.90"/>
<polygon points="578.10,297.00 584.89,292.20 586.10,299.29" fill="#f5be2e"/>
<line x1="531.20" y1="312.90" x2="540.60" y2="317.26" stroke="#6b6b6b" stroke-width="1.90"/>
<polygon points="546.50,320.00 538.18,320.11 541.21,313.58" fill="#6b6b6b"/>
<line x1="630.80" y1="315.00" x2="584.56" y2="320.00" stroke="#6b6b6b" stroke-width="1.90"/>
<polygon points="578.10,320.70 585.17,316.31 585.94,323.47" fill="#6b6b6b"/>
<line x1="513.50" y1="329.40" x2="535.82" y2="340.92" stroke="#bf80f4" stroke-width="1.90"/>
<polygon points="541.60,343.90 533.28,343.66 536.59,337.26" fill="#bf80f4"/>
<line x1="632.90" y1="323.20" x2="588.91" y2="341.41" stroke="#bf80f4" stroke-width="1.90"/>
<polygon points="582.90,343.90 588.45,337.70 591.21,344.36" fill="#bf80f4"/>
<path d="M633.0,280.5L640.3,284.0M648.9,280.5L640.3,284.0M648.9,280.5L656.2,284.0M664.8,280.5L656.2,284.0M664.8,280.5L672.1,284.0M680.7,280.5L672.1,284.0M680.7,280.5L688.0,284.0M696.6,280.5L688.0,284.0M696.6,280.5L703.9,284.0M712.5,280.5L703.9,284.0M712.5,280.5L719.8,284.0M728.4,280.5L719.8,284.0M728.4,280.5L735.7,284.0M744.3,280.5L735.7,284.0M744.3,280.5L751.6,284.0M760.2,280.5L751.6,284.0M640.3,284.0L639.9,292.7M656.2,284.0L655.8,292.7M672.1,284.0L671.7,292.7M688.0,284.0L687.6,292.7M703.9,284.0L703.5,292.7M719.8,284.0L719.4,292.7M735.7,284.0L735.3,292.7M751.6,284.0L751.2,292.7M639.9,292.7L629.2,303.1M639.9,292.7L645.1,303.1M655.8,292.7L645.1,303.1M655.8,292.7L661.0,303.1M671.7,292.7L661.0,303.1M671.7,292.7L676.9,303.1M687.6,292.7L676.9,303.1M687.6,292.7L692.8,303.1M703.5,292.7L692.8,303.1M703.5,292.7L708.7,303.1M719.4,292.7L708.7,303.1M719.4,292.7L724.6,303.1M735.3,292.7L724.6,303.1M735.3,292.7L740.5,303.1M751.2,292.7L740.5,303.1M629.2,303.1L633.8,311.8M645.1,303.1L633.8,311.8M645.1,303.1L649.7,311.8M661.0,303.1L649.7,311.8M661.0,303.1L665.6,311.8M676.9,303.1L665.6,311.8M676.9,303.1L681.5,311.8M692.8,303.1L681.5,311.8M692.8,303.1L697.4,311.8M708.7,303.1L697.4,311.8M708.7,303.1L713.3,311.8M724.6,303.1L713.3,311.8M724.6,303.1L729.2,311.8M740.5,303.1L729.2,311.8M740.5,303.1L745.1,311.8M633.8,311.8L639.2,319.5M649.7,311.8L639.2,319.5M649.7,311.8L655.1,319.5M665.6,311.8L655.1,319.5M665.6,311.8L671.0,319.5M681.5,311.8L671.0,319.5M681.5,311.8L686.9,319.5M697.4,311.8L686.9,319.5M697.4,311.8L702.8,319.5M713.3,311.8L702.8,319.5M713.3,311.8L718.7,319.5M729.2,311.8L718.7,319.5M729.2,311.8L734.6,319.5M745.1,311.8L734.6,319.5M745.1,311.8L750.5,319.5M639.2,319.5L628.6,331.0M639.2,319.5L644.5,331.0M655.1,319.5L644.5,331.0M655.1,319.5L660.4,331.0M671.0,319.5L660.4,331.0M671.0,319.5L676.3,331.0M686.9,319.5L676.3,331.0M686.9,319.5L692.2,331.0M702.8,319.5L692.2,331.0M702.8,319.5L708.1,331.0M718.7,319.5L708.1,331.0M718.7,319.5L724.0,331.0M734.6,319.5L724.0,331.0M734.6,319.5L739.9,331.0M750.5,319.5L739.9,331.0M628.6,331.0L628.1,338.6M644.5,331.0L644.0,338.6M660.4,331.0L659.9,338.6M676.3,331.0L675.8,338.6M692.2,331.0L691.7,338.6M708.1,331.0L707.6,338.6M724.0,331.0L723.5,338.6M739.9,331.0L739.4,338.6M628.1,338.6L619.4,343.5M628.1,338.6L635.3,343.5M644.0,338.6L635.3,343.5M644.0,338.6L651.2,343.5M659.9,338.6L651.2,343.5M659.9,338.6L667.1,343.5M675.8,338.6L667.1,343.5M675.8,338.6L683.0,343.5M691.7,338.6L683.0,343.5M691.7,338.6L698.9,343.5M707.6,338.6L698.9,343.5M707.6,338.6L714.8,343.5M723.5,338.6L714.8,343.5M723.5,338.6L730.7,343.5M739.4,338.6L730.7,343.5M739.4,338.6L746.6,343.5" stroke="#555" stroke-width="3" stroke-linecap="round" opacity="0.55" fill="none"/>
<path d="M633.0,280.5L636.6,282.2M648.9,280.5L644.6,282.2M648.9,280.5L652.5,282.2M664.8,280.5L660.5,282.2M664.8,280.5L668.4,282.2M680.7,280.5L676.4,282.2M680.7,280.5L684.4,282.2M696.6,280.5L692.3,282.2M696.6,280.5L700.2,282.2M712.5,280.5L708.2,282.2M712.5,280.5L716.1,282.2M728.4,280.5L724.1,282.2M728.4,280.5L732.0,282.2M744.3,280.5L740.0,282.2M744.3,280.5L747.9,282.2M760.2,280.5L755.9,282.2M640.1,288.4L639.9,292.7M656.0,288.4L655.8,292.7M671.9,288.4L671.7,292.7M687.8,288.4L687.6,292.7M703.7,288.4L703.5,292.7M719.6,288.4L719.4,292.7M735.5,288.4L735.3,292.7M751.4,288.4L751.2,292.7M639.9,292.7L634.5,297.9M639.9,292.7L642.5,297.9M655.8,292.7L650.5,297.9M655.8,292.7L658.4,297.9M671.7,292.7L666.3,297.9M671.7,292.7L674.3,297.9M687.6,292.7L682.2,297.9M687.6,292.7L690.2,297.9M703.5,292.7L698.2,297.9M703.5,292.7L706.1,297.9M719.4,292.7L714.0,297.9M719.4,292.7L722.0,297.9M735.3,292.7L730.0,297.9M735.3,292.7L737.9,297.9M751.2,292.7L745.8,297.9M633.9,325.2L628.6,331.0M641.9,325.2L644.5,331.0M649.8,325.2L644.5,331.0M657.8,325.2L660.4,331.0M665.7,325.2L660.4,331.0M673.7,325.2L676.3,331.0M681.6,325.2L676.3,331.0M689.6,325.2L692.2,331.0M697.5,325.2L692.2,331.0M705.5,325.2L708.1,331.0M713.4,325.2L708.1,331.0M721.4,325.2L724.0,331.0M729.3,325.2L724.0,331.0M737.2,325.2L739.9,331.0M745.2,325.2L739.9,331.0M628.6,331.0L628.4,334.8M644.5,331.0L644.2,334.8M660.4,331.0L660.1,334.8M676.3,331.0L676.1,334.8M692.2,331.0L692.0,334.8M708.1,331.0L707.9,334.8M724.0,331.0L723.8,334.8M739.9,331.0L739.6,334.8M623.8,341.1L619.4,343.5M631.7,341.1L635.3,343.5M639.6,341.1L635.3,343.5M647.6,341.1L651.2,343.5M655.5,341.1L651.2,343.5M663.5,341.1L667.1,343.5M671.5,341.1L667.1,343.5M679.4,341.1L683.0,343.5M687.4,341.1L683.0,343.5M695.3,341.1L698.9,343.5M703.2,341.1L698.9,343.5M711.2,341.1L714.8,343.5M719.1,341.1L714.8,343.5M727.1,341.1L730.7,343.5M735.0,341.1L730.7,343.5M743.0,341.1L746.6,343.5" stroke="#e0502a" stroke-width="2" fill="none"/>
<path d="M636.6,282.2L640.3,284.0M644.6,282.2L640.3,284.0M652.5,282.2L656.2,284.0M660.5,282.2L656.2,284.0M668.4,282.2L672.1,284.0M676.4,282.2L672.1,284.0M684.4,282.2L688.0,284.0M692.3,282.2L688.0,284.0M700.2,282.2L703.9,284.0M708.2,282.2L703.9,284.0M716.1,282.2L719.8,284.0M724.1,282.2L719.8,284.0M732.0,282.2L735.7,284.0M740.0,282.2L735.7,284.0M747.9,282.2L751.6,284.0M755.9,282.2L751.6,284.0M640.3,284.0L640.1,288.4M656.2,284.0L656.0,288.4M672.1,284.0L671.9,288.4M688.0,284.0L687.8,288.4M703.9,284.0L703.7,288.4M719.8,284.0L719.6,288.4M735.7,284.0L735.5,288.4M751.6,284.0L751.4,288.4M628.4,334.8L628.1,338.6M644.2,334.8L644.0,338.6M660.1,334.8L659.9,338.6M676.1,334.8L675.8,338.6M692.0,334.8L691.7,338.6M707.9,334.8L707.6,338.6M723.8,334.8L723.5,338.6M739.6,334.8L739.4,338.6M628.1,338.6L623.8,341.1M628.1,338.6L631.7,341.1M644.0,338.6L639.6,341.1M644.0,338.6L647.6,341.1M659.9,338.6L655.5,341.1M659.9,338.6L663.5,341.1M675.8,338.6L671.5,341.1M675.8,338.6L679.4,341.1M691.7,338.6L687.4,341.1M691.7,338.6L695.3,341.1M707.6,338.6L703.2,341.1M707.6,338.6L711.2,341.1M723.5,338.6L719.1,341.1M723.5,338.6L727.1,341.1M739.4,338.6L735.0,341.1M739.4,338.6L743.0,341.1" stroke="#f2c230" stroke-width="2" fill="none"/>
<path d="M634.5,297.9L629.2,303.1M642.5,297.9L645.1,303.1M650.5,297.9L645.1,303.1M658.4,297.9L661.0,303.1M666.3,297.9L661.0,303.1M674.3,297.9L676.9,303.1M682.2,297.9L676.9,303.1M690.2,297.9L692.8,303.1M698.2,297.9L692.8,303.1M706.1,297.9L708.7,303.1M714.0,297.9L708.7,303.1M722.0,297.9L724.6,303.1M730.0,297.9L724.6,303.1M737.9,297.9L740.5,303.1M745.8,297.9L740.5,303.1M629.2,303.1L631.5,307.5M645.1,303.1L639.5,307.5M645.1,303.1L647.4,307.5M661.0,303.1L655.3,307.5M661.0,303.1L663.3,307.5M676.9,303.1L671.2,307.5M676.9,303.1L679.2,307.5M692.8,303.1L687.2,307.5M692.8,303.1L695.1,307.5M708.7,303.1L703.0,307.5M708.7,303.1L711.0,307.5M724.6,303.1L719.0,307.5M724.6,303.1L726.9,307.5M740.5,303.1L734.8,307.5M740.5,303.1L742.8,307.5M636.5,315.6L639.2,319.5M644.5,315.6L639.2,319.5M652.4,315.6L655.1,319.5M660.3,315.6L655.1,319.5M668.3,315.6L671.0,319.5M676.2,315.6L671.0,319.5M684.2,315.6L686.9,319.5M692.2,315.6L686.9,319.5M700.1,315.6L702.8,319.5M708.0,315.6L702.8,319.5M716.0,315.6L718.7,319.5M724.0,315.6L718.7,319.5M731.9,315.6L734.6,319.5M739.8,315.6L734.6,319.5M747.8,315.6L750.5,319.5M639.2,319.5L633.9,325.2M639.2,319.5L641.9,325.2M655.1,319.5L649.8,325.2M655.1,319.5L657.8,325.2M671.0,319.5L665.7,325.2M671.0,319.5L673.7,325.2M686.9,319.5L681.6,325.2M686.9,319.5L689.6,325.2M702.8,319.5L697.5,325.2M702.8,319.5L705.5,325.2M718.7,319.5L713.4,325.2M718.7,319.5L721.4,325.2M734.6,319.5L729.3,325.2M734.6,319.5L737.2,325.2M750.5,319.5L745.2,325.2" stroke="#a8a8f0" stroke-width="2" fill="none"/>
<path d="M631.5,307.5L633.8,311.8M639.5,307.5L633.8,311.8M647.4,307.5L649.7,311.8M655.3,307.5L649.7,311.8M663.3,307.5L665.6,311.8M671.2,307.5L665.6,311.8M679.2,307.5L681.5,311.8M687.2,307.5L681.5,311.8M695.1,307.5L697.4,311.8M703.0,307.5L697.4,311.8M711.0,307.5L713.3,311.8M719.0,307.5L713.3,311.8M726.9,307.5L729.2,311.8M734.8,307.5L729.2,311.8M742.8,307.5L745.1,311.8M633.8,311.8L636.5,315.6M649.7,311.8L644.5,315.6M649.7,311.8L652.4,315.6M665.6,311.8L660.3,315.6M665.6,311.8L668.3,315.6M681.5,311.8L676.2,315.6M681.5,311.8L684.2,315.6M697.4,311.8L692.2,315.6M697.4,311.8L700.1,315.6M713.3,311.8L708.0,315.6M713.3,311.8L716.0,315.6M729.2,311.8L724.0,315.6M729.2,311.8L731.9,315.6M745.1,311.8L739.8,315.6M745.1,311.8L747.8,315.6" stroke="#d8d8dc" stroke-width="2" fill="none"/>
<circle cx="633.0" cy="280.5" r="2.3" fill="url(#gR)"/>
<circle cx="648.9" cy="280.5" r="2.3" fill="url(#gR)"/>
<circle cx="664.8" cy="280.5" r="2.3" fill="url(#gR)"/>
<circle cx="680.7" cy="280.5" r="2.3" fill="url(#gR)"/>
<circle cx="696.6" cy="280.5" r="2.3" fill="url(#gR)"/>
<circle cx="712.5" cy="280.5" r="2.3" fill="url(#gR)"/>
<circle cx="728.4" cy="280.5" r="2.3" fill="url(#gR)"/>
<circle cx="744.3" cy="280.5" r="2.3" fill="url(#gR)"/>
<circle cx="760.2" cy="280.5" r="2.3" fill="url(#gR)"/>
<circle cx="640.3" cy="284.0" r="2.1" fill="url(#gY)"/>
<circle cx="656.2" cy="284.0" r="2.1" fill="url(#gY)"/>
<circle cx="672.1" cy="284.0" r="2.1" fill="url(#gY)"/>
<circle cx="688.0" cy="284.0" r="2.1" fill="url(#gY)"/>
<circle cx="703.9" cy="284.0" r="2.1" fill="url(#gY)"/>
<circle cx="719.8" cy="284.0" r="2.1" fill="url(#gY)"/>
<circle cx="735.7" cy="284.0" r="2.1" fill="url(#gY)"/>
<circle cx="751.6" cy="284.0" r="2.1" fill="url(#gY)"/>
<circle cx="639.9" cy="292.7" r="2.3" fill="url(#gR)"/>
<circle cx="655.8" cy="292.7" r="2.3" fill="url(#gR)"/>
<circle cx="671.7" cy="292.7" r="2.3" fill="url(#gR)"/>
<circle cx="687.6" cy="292.7" r="2.3" fill="url(#gR)"/>
<circle cx="703.5" cy="292.7" r="2.3" fill="url(#gR)"/>
<circle cx="719.4" cy="292.7" r="2.3" fill="url(#gR)"/>
<circle cx="735.3" cy="292.7" r="2.3" fill="url(#gR)"/>
<circle cx="751.2" cy="292.7" r="2.3" fill="url(#gR)"/>
<circle cx="629.2" cy="303.1" r="3.0" fill="url(#gP)"/>
<circle cx="645.1" cy="303.1" r="3.0" fill="url(#gP)"/>
<circle cx="661.0" cy="303.1" r="3.0" fill="url(#gP)"/>
<circle cx="676.9" cy="303.1" r="3.0" fill="url(#gP)"/>
<circle cx="692.8" cy="303.1" r="3.0" fill="url(#gP)"/>
<circle cx="708.7" cy="303.1" r="3.0" fill="url(#gP)"/>
<circle cx="724.6" cy="303.1" r="3.0" fill="url(#gP)"/>
<circle cx="740.5" cy="303.1" r="3.0" fill="url(#gP)"/>
<circle cx="633.8" cy="311.8" r="2.7" fill="url(#gG)"/>
<circle cx="649.7" cy="311.8" r="2.7" fill="url(#gG)"/>
<circle cx="665.6" cy="311.8" r="2.7" fill="url(#gG)"/>
<circle cx="681.5" cy="311.8" r="2.7" fill="url(#gG)"/>
<circle cx="697.4" cy="311.8" r="2.7" fill="url(#gG)"/>
<circle cx="713.3" cy="311.8" r="2.7" fill="url(#gG)"/>
<circle cx="729.2" cy="311.8" r="2.7" fill="url(#gG)"/>
<circle cx="745.1" cy="311.8" r="2.7" fill="url(#gG)"/>
<circle cx="639.2" cy="319.5" r="3.0" fill="url(#gP)"/>
<circle cx="655.1" cy="319.5" r="3.0" fill="url(#gP)"/>
<circle cx="671.0" cy="319.5" r="3.0" fill="url(#gP)"/>
<circle cx="686.9" cy="319.5" r="3.0" fill="url(#gP)"/>
<circle cx="702.8" cy="319.5" r="3.0" fill="url(#gP)"/>
<circle cx="718.7" cy="319.5" r="3.0" fill="url(#gP)"/>
<circle cx="734.6" cy="319.5" r="3.0" fill="url(#gP)"/>
<circle cx="750.5" cy="319.5" r="3.0" fill="url(#gP)"/>
<circle cx="628.6" cy="331.0" r="2.3" fill="url(#gR)"/>
<circle cx="644.5" cy="331.0" r="2.3" fill="url(#gR)"/>
<circle cx="660.4" cy="331.0" r="2.3" fill="url(#gR)"/>
<circle cx="676.3" cy="331.0" r="2.3" fill="url(#gR)"/>
<circle cx="692.2" cy="331.0" r="2.3" fill="url(#gR)"/>
<circle cx="708.1" cy="331.0" r="2.3" fill="url(#gR)"/>
<circle cx="724.0" cy="331.0" r="2.3" fill="url(#gR)"/>
<circle cx="739.9" cy="331.0" r="2.3" fill="url(#gR)"/>
<circle cx="628.1" cy="338.6" r="2.1" fill="url(#gY)"/>
<circle cx="644.0" cy="338.6" r="2.1" fill="url(#gY)"/>
<circle cx="659.9" cy="338.6" r="2.1" fill="url(#gY)"/>
<circle cx="675.8" cy="338.6" r="2.1" fill="url(#gY)"/>
<circle cx="691.7" cy="338.6" r="2.1" fill="url(#gY)"/>
<circle cx="707.6" cy="338.6" r="2.1" fill="url(#gY)"/>
<circle cx="723.5" cy="338.6" r="2.1" fill="url(#gY)"/>
<circle cx="739.4" cy="338.6" r="2.1" fill="url(#gY)"/>
<circle cx="619.4" cy="343.5" r="2.3" fill="url(#gR)"/>
<circle cx="635.3" cy="343.5" r="2.3" fill="url(#gR)"/>
<circle cx="651.2" cy="343.5" r="2.3" fill="url(#gR)"/>
<circle cx="667.1" cy="343.5" r="2.3" fill="url(#gR)"/>
<circle cx="683.0" cy="343.5" r="2.3" fill="url(#gR)"/>
<circle cx="698.9" cy="343.5" r="2.3" fill="url(#gR)"/>
<circle cx="714.8" cy="343.5" r="2.3" fill="url(#gR)"/>
<circle cx="730.7" cy="343.5" r="2.3" fill="url(#gR)"/>
<circle cx="746.6" cy="343.5" r="2.3" fill="url(#gR)"/>
<path d="M631.2,367.3L638.5,370.8M647.1,367.3L638.5,370.8M647.1,367.3L654.4,370.8M663.0,367.3L654.4,370.8M663.0,367.3L670.3,370.8M678.9,367.3L670.3,370.8M678.9,367.3L686.2,370.8M694.8,367.3L686.2,370.8M694.8,367.3L702.1,370.8M710.7,367.3L702.1,370.8M710.7,367.3L718.0,370.8M726.6,367.3L718.0,370.8M726.6,367.3L733.9,370.8M742.5,367.3L733.9,370.8M742.5,367.3L749.8,370.8M758.4,367.3L749.8,370.8M638.5,370.8L638.1,379.5M654.4,370.8L654.0,379.5M670.3,370.8L669.9,379.5M686.2,370.8L685.8,379.5M702.1,370.8L701.7,379.5M718.0,370.8L717.6,379.5M733.9,370.8L733.5,379.5M749.8,370.8L749.4,379.5M638.1,379.5L627.4,389.9M638.1,379.5L643.3,389.9M654.0,379.5L643.3,389.9M654.0,379.5L659.2,389.9M669.9,379.5L659.2,389.9M669.9,379.5L675.1,389.9M685.8,379.5L675.1,389.9M685.8,379.5L691.0,389.9M701.7,379.5L691.0,389.9M701.7,379.5L706.9,389.9M717.6,379.5L706.9,389.9M717.6,379.5L722.8,389.9M733.5,379.5L722.8,389.9M733.5,379.5L738.7,389.9M749.4,379.5L738.7,389.9M627.4,389.9L632.0,398.6M643.3,389.9L632.0,398.6M643.3,389.9L647.9,398.6M659.2,389.9L647.9,398.6M659.2,389.9L663.8,398.6M675.1,389.9L663.8,398.6M675.1,389.9L679.7,398.6M691.0,389.9L679.7,398.6M691.0,389.9L695.6,398.6M706.9,389.9L695.6,398.6M706.9,389.9L711.5,398.6M722.8,389.9L711.5,398.6M722.8,389.9L727.4,398.6M738.7,389.9L727.4,398.6M738.7,389.9L743.3,398.6M632.0,398.6L637.4,406.3M647.9,398.6L637.4,406.3M647.9,398.6L653.3,406.3M663.8,398.6L653.3,406.3M663.8,398.6L669.2,406.3M679.7,398.6L669.2,406.3M679.7,398.6L685.1,406.3M695.6,398.6L685.1,406.3M695.6,398.6L701.0,406.3M711.5,398.6L701.0,406.3M711.5,398.6L716.9,406.3M727.4,398.6L716.9,406.3M727.4,398.6L732.8,406.3M743.3,398.6L732.8,406.3M743.3,398.6L748.7,406.3M637.4,406.3L626.8,417.8M637.4,406.3L642.7,417.8M653.3,406.3L642.7,417.8M653.3,406.3L658.6,417.8M669.2,406.3L658.6,417.8M669.2,406.3L674.5,417.8M685.1,406.3L674.5,417.8M685.1,406.3L690.4,417.8M701.0,406.3L690.4,417.8M701.0,406.3L706.3,417.8M716.9,406.3L706.3,417.8M716.9,406.3L722.2,417.8M732.8,406.3L722.2,417.8M732.8,406.3L738.1,417.8M748.7,406.3L738.1,417.8M626.8,417.8L626.3,425.4M642.7,417.8L642.2,425.4M658.6,417.8L658.1,425.4M674.5,417.8L674.0,425.4M690.4,417.8L689.9,425.4M706.3,417.8L705.8,425.4M722.2,417.8L721.7,425.4M738.1,417.8L737.6,425.4M626.3,425.4L617.6,430.3M626.3,425.4L633.5,430.3M642.2,425.4L633.5,430.3M642.2,425.4L649.4,430.3M658.1,425.4L649.4,430.3M658.1,425.4L665.3,430.3M674.0,425.4L665.3,430.3M674.0,425.4L681.2,430.3M689.9,425.4L681.2,430.3M689.9,425.4L697.1,430.3M705.8,425.4L697.1,430.3M705.8,425.4L713.0,430.3M721.7,425.4L713.0,430.3M721.7,425.4L728.9,430.3M737.6,425.4L728.9,430.3M737.6,425.4L744.8,430.3" stroke="#555" stroke-width="3" stroke-linecap="round" opacity="0.55" fill="none"/>
<path d="M631.2,367.3L634.9,369.1M647.1,367.3L642.8,369.1M647.1,367.3L650.8,369.1M663.0,367.3L658.7,369.1M663.0,367.3L666.6,369.1M678.9,367.3L674.6,369.1M678.9,367.3L682.6,369.1M694.8,367.3L690.5,369.1M694.8,367.3L698.5,369.1M710.7,367.3L706.4,369.1M710.7,367.3L714.4,369.1M726.6,367.3L722.3,369.1M726.6,367.3L730.2,369.1M742.5,367.3L738.2,369.1M742.5,367.3L746.1,369.1M758.4,367.3L754.1,369.1M638.3,375.1L638.1,379.5M654.2,375.1L654.0,379.5M670.1,375.1L669.9,379.5M686.0,375.1L685.8,379.5M701.9,375.1L701.7,379.5M717.8,375.1L717.6,379.5M733.7,375.1L733.5,379.5M749.6,375.1L749.4,379.5M638.1,379.5L632.8,384.7M638.1,379.5L640.7,384.7M654.0,379.5L648.7,384.7M654.0,379.5L656.6,384.7M669.9,379.5L664.5,384.7M669.9,379.5L672.5,384.7M685.8,379.5L680.5,384.7M685.8,379.5L688.4,384.7M701.7,379.5L696.4,384.7M701.7,379.5L704.3,384.7M717.6,379.5L712.2,384.7M717.6,379.5L720.2,384.7M733.5,379.5L728.2,384.7M733.5,379.5L736.1,384.7M749.4,379.5L744.0,384.7M632.1,412.1L626.8,417.8M640.1,412.1L642.7,417.8M648.0,412.1L642.7,417.8M656.0,412.1L658.6,417.8M663.9,412.1L658.6,417.8M671.9,412.1L674.5,417.8M679.8,412.1L674.5,417.8M687.8,412.1L690.4,417.8M695.7,412.1L690.4,417.8M703.7,412.1L706.3,417.8M711.6,412.1L706.3,417.8M719.6,412.1L722.2,417.8M727.5,412.1L722.2,417.8M735.5,412.1L738.1,417.8M743.4,412.1L738.1,417.8M626.8,417.8L626.6,421.6M642.7,417.8L642.5,421.6M658.6,417.8L658.4,421.6M674.5,417.8L674.3,421.6M690.4,417.8L690.2,421.6M706.3,417.8L706.1,421.6M722.2,417.8L722.0,421.6M738.1,417.8L737.9,421.6M622.0,427.9L617.6,430.3M629.9,427.9L633.5,430.3M637.9,427.9L633.5,430.3M645.8,427.9L649.4,430.3M653.8,427.9L649.4,430.3M661.7,427.9L665.3,430.3M669.7,427.9L665.3,430.3M677.6,427.9L681.2,430.3M685.6,427.9L681.2,430.3M693.5,427.9L697.1,430.3M701.5,427.9L697.1,430.3M709.4,427.9L713.0,430.3M717.4,427.9L713.0,430.3M725.3,427.9L728.9,430.3M733.2,427.9L728.9,430.3M741.2,427.9L744.8,430.3" stroke="#e0502a" stroke-width="2" fill="none"/>
<path d="M634.9,369.1L638.5,370.8M642.8,369.1L638.5,370.8M650.8,369.1L654.4,370.8M658.7,369.1L654.4,370.8M666.6,369.1L670.3,370.8M674.6,369.1L670.3,370.8M682.6,369.1L686.2,370.8M690.5,369.1L686.2,370.8M698.5,369.1L702.1,370.8M706.4,369.1L702.1,370.8M714.4,369.1L718.0,370.8M722.3,369.1L718.0,370.8M730.2,369.1L733.9,370.8M738.2,369.1L733.9,370.8M746.1,369.1L749.8,370.8M754.1,369.1L749.8,370.8M638.5,370.8L638.3,375.1M654.4,370.8L654.2,375.1M670.3,370.8L670.1,375.1M686.2,370.8L686.0,375.1M702.1,370.8L701.9,375.1M718.0,370.8L717.8,375.1M733.9,370.8L733.7,375.1M749.8,370.8L749.6,375.1M626.6,421.6L626.3,425.4M642.5,421.6L642.2,425.4M658.4,421.6L658.1,425.4M674.3,421.6L674.0,425.4M690.2,421.6L689.9,425.4M706.1,421.6L705.8,425.4M722.0,421.6L721.7,425.4M737.9,421.6L737.6,425.4M626.3,425.4L622.0,427.9M626.3,425.4L629.9,427.9M642.2,425.4L637.9,427.9M642.2,425.4L645.8,427.9M658.1,425.4L653.8,427.9M658.1,425.4L661.7,427.9M674.0,425.4L669.7,427.9M674.0,425.4L677.6,427.9M689.9,425.4L685.6,427.9M689.9,425.4L693.5,427.9M705.8,425.4L701.5,427.9M705.8,425.4L709.4,427.9M721.7,425.4L717.4,427.9M721.7,425.4L725.3,427.9M737.6,425.4L733.2,427.9M737.6,425.4L741.2,427.9" stroke="#f2c230" stroke-width="2" fill="none"/>
<path d="M632.8,384.7L627.4,389.9M640.7,384.7L643.3,389.9M648.7,384.7L643.3,389.9M656.6,384.7L659.2,389.9M664.5,384.7L659.2,389.9M672.5,384.7L675.1,389.9M680.5,384.7L675.1,389.9M688.4,384.7L691.0,389.9M696.4,384.7L691.0,389.9M704.3,384.7L706.9,389.9M712.2,384.7L706.9,389.9M720.2,384.7L722.8,389.9M728.2,384.7L722.8,389.9M736.1,384.7L738.7,389.9M744.0,384.7L738.7,389.9M627.4,389.9L629.7,394.2M643.3,389.9L637.7,394.2M643.3,389.9L645.6,394.2M659.2,389.9L653.5,394.2M659.2,389.9L661.5,394.2M675.1,389.9L669.5,394.2M675.1,389.9L677.4,394.2M691.0,389.9L685.4,394.2M691.0,389.9L693.3,394.2M706.9,389.9L701.2,394.2M706.9,389.9L709.2,394.2M722.8,389.9L717.2,394.2M722.8,389.9L725.1,394.2M738.7,389.9L733.0,394.2M738.7,389.9L741.0,394.2M634.7,402.5L637.4,406.3M642.7,402.5L637.4,406.3M650.6,402.5L653.3,406.3M658.5,402.5L653.3,406.3M666.5,402.5L669.2,406.3M674.5,402.5L669.2,406.3M682.4,402.5L685.1,406.3M690.4,402.5L685.1,406.3M698.3,402.5L701.0,406.3M706.2,402.5L701.0,406.3M714.2,402.5L716.9,406.3M722.2,402.5L716.9,406.3M730.1,402.5L732.8,406.3M738.0,402.5L732.8,406.3M746.0,402.5L748.7,406.3M637.4,406.3L632.1,412.1M637.4,406.3L640.1,412.1M653.3,406.3L648.0,412.1M653.3,406.3L656.0,412.1M669.2,406.3L663.9,412.1M669.2,406.3L671.9,412.1M685.1,406.3L679.8,412.1M685.1,406.3L687.8,412.1M701.0,406.3L695.7,412.1M701.0,406.3L703.7,412.1M716.9,406.3L711.6,412.1M716.9,406.3L719.6,412.1M732.8,406.3L727.5,412.1M732.8,406.3L735.5,412.1M748.7,406.3L743.4,412.1" stroke="#a8a8f0" stroke-width="2" fill="none"/>
<path d="M629.7,394.2L632.0,398.6M637.7,394.2L632.0,398.6M645.6,394.2L647.9,398.6M653.5,394.2L647.9,398.6M661.5,394.2L663.8,398.6M669.5,394.2L663.8,398.6M677.4,394.2L679.7,398.6M685.4,394.2L679.7,398.6M693.3,394.2L695.6,398.6M701.2,394.2L695.6,398.6M709.2,394.2L711.5,398.6M717.2,394.2L711.5,398.6M725.1,394.2L727.4,398.6M733.0,394.2L727.4,398.6M741.0,394.2L743.3,398.6M632.0,398.6L634.7,402.5M647.9,398.6L642.7,402.5M647.9,398.6L650.6,402.5M663.8,398.6L658.5,402.5M663.8,398.6L666.5,402.5M679.7,398.6L674.5,402.5M679.7,398.6L682.4,402.5M695.6,398.6L690.4,402.5M695.6,398.6L698.3,402.5M711.5,398.6L706.2,402.5M711.5,398.6L714.2,402.5M727.4,398.6L722.2,402.5M727.4,398.6L730.1,402.5M743.3,398.6L738.0,402.5M743.3,398.6L746.0,402.5" stroke="#d8d8dc" stroke-width="2" fill="none"/>
<circle cx="631.2" cy="367.3" r="2.3" fill="url(#gR)"/>
<circle cx="647.1" cy="367.3" r="2.3" fill="url(#gR)"/>
<circle cx="663.0" cy="367.3" r="2.3" fill="url(#gR)"/>
<circle cx="678.9" cy="367.3" r="2.3" fill="url(#gR)"/>
<circle cx="694.8" cy="367.3" r="2.3" fill="url(#gR)"/>
<circle cx="710.7" cy="367.3" r="2.3" fill="url(#gR)"/>
<circle cx="726.6" cy="367.3" r="2.3" fill="url(#gR)"/>
<circle cx="742.5" cy="367.3" r="2.3" fill="url(#gR)"/>
<circle cx="758.4" cy="367.3" r="2.3" fill="url(#gR)"/>
<circle cx="638.5" cy="370.8" r="2.1" fill="url(#gY)"/>
<circle cx="654.4" cy="370.8" r="2.1" fill="url(#gY)"/>
<circle cx="670.3" cy="370.8" r="2.1" fill="url(#gY)"/>
<circle cx="686.2" cy="370.8" r="2.1" fill="url(#gY)"/>
<circle cx="702.1" cy="370.8" r="2.1" fill="url(#gY)"/>
<circle cx="718.0" cy="370.8" r="2.1" fill="url(#gY)"/>
<circle cx="733.9" cy="370.8" r="2.1" fill="url(#gY)"/>
<circle cx="749.8" cy="370.8" r="2.1" fill="url(#gY)"/>
<circle cx="638.1" cy="379.5" r="2.3" fill="url(#gR)"/>
<circle cx="654.0" cy="379.5" r="2.3" fill="url(#gR)"/>
<circle cx="669.9" cy="379.5" r="2.3" fill="url(#gR)"/>
<circle cx="685.8" cy="379.5" r="2.3" fill="url(#gR)"/>
<circle cx="701.7" cy="379.5" r="2.3" fill="url(#gR)"/>
<circle cx="717.6" cy="379.5" r="2.3" fill="url(#gR)"/>
<circle cx="733.5" cy="379.5" r="2.3" fill="url(#gR)"/>
<circle cx="749.4" cy="379.5" r="2.3" fill="url(#gR)"/>
<circle cx="627.4" cy="389.9" r="3.0" fill="url(#gP)"/>
<circle cx="643.3" cy="389.9" r="3.0" fill="url(#gP)"/>
<circle cx="659.2" cy="389.9" r="3.0" fill="url(#gP)"/>
<circle cx="675.1" cy="389.9" r="3.0" fill="url(#gP)"/>
<circle cx="691.0" cy="389.9" r="3.0" fill="url(#gP)"/>
<circle cx="706.9" cy="389.9" r="3.0" fill="url(#gP)"/>
<circle cx="722.8" cy="389.9" r="3.0" fill="url(#gP)"/>
<circle cx="738.7" cy="389.9" r="3.0" fill="url(#gP)"/>
<circle cx="632.0" cy="398.6" r="2.7" fill="url(#gG)"/>
<circle cx="647.9" cy="398.6" r="2.7" fill="url(#gG)"/>
<circle cx="663.8" cy="398.6" r="2.7" fill="url(#gG)"/>
<circle cx="679.7" cy="398.6" r="2.7" fill="url(#gG)"/>
<circle cx="695.6" cy="398.6" r="2.7" fill="url(#gG)"/>
<circle cx="711.5" cy="398.6" r="2.7" fill="url(#gG)"/>
<circle cx="727.4" cy="398.6" r="2.7" fill="url(#gG)"/>
<circle cx="743.3" cy="398.6" r="2.7" fill="url(#gG)"/>
<circle cx="637.4" cy="406.3" r="3.0" fill="url(#gP)"/>
<circle cx="653.3" cy="406.3" r="3.0" fill="url(#gP)"/>
<circle cx="669.2" cy="406.3" r="3.0" fill="url(#gP)"/>
<circle cx="685.1" cy="406.3" r="3.0" fill="url(#gP)"/>
<circle cx="701.0" cy="406.3" r="3.0" fill="url(#gP)"/>
<circle cx="716.9" cy="406.3" r="3.0" fill="url(#gP)"/>
<circle cx="732.8" cy="406.3" r="3.0" fill="url(#gP)"/>
<circle cx="748.7" cy="406.3" r="3.0" fill="url(#gP)"/>
<circle cx="626.8" cy="417.8" r="2.3" fill="url(#gR)"/>
<circle cx="642.7" cy="417.8" r="2.3" fill="url(#gR)"/>
<circle cx="658.6" cy="417.8" r="2.3" fill="url(#gR)"/>
<circle cx="674.5" cy="417.8" r="2.3" fill="url(#gR)"/>
<circle cx="690.4" cy="417.8" r="2.3" fill="url(#gR)"/>
<circle cx="706.3" cy="417.8" r="2.3" fill="url(#gR)"/>
<circle cx="722.2" cy="417.8" r="2.3" fill="url(#gR)"/>
<circle cx="738.1" cy="417.8" r="2.3" fill="url(#gR)"/>
<circle cx="626.3" cy="425.4" r="2.1" fill="url(#gY)"/>
<circle cx="642.2" cy="425.4" r="2.1" fill="url(#gY)"/>
<circle cx="658.1" cy="425.4" r="2.1" fill="url(#gY)"/>
<circle cx="674.0" cy="425.4" r="2.1" fill="url(#gY)"/>
<circle cx="689.9" cy="425.4" r="2.1" fill="url(#gY)"/>
<circle cx="705.8" cy="425.4" r="2.1" fill="url(#gY)"/>
<circle cx="721.7" cy="425.4" r="2.1" fill="url(#gY)"/>
<circle cx="737.6" cy="425.4" r="2.1" fill="url(#gY)"/>
<circle cx="617.6" cy="430.3" r="2.3" fill="url(#gR)"/>
<circle cx="633.5" cy="430.3" r="2.3" fill="url(#gR)"/>
<circle cx="649.4" cy="430.3" r="2.3" fill="url(#gR)"/>
<circle cx="665.3" cy="430.3" r="2.3" fill="url(#gR)"/>
<circle cx="681.2" cy="430.3" r="2.3" fill="url(#gR)"/>
<circle cx="697.1" cy="430.3" r="2.3" fill="url(#gR)"/>
<circle cx="713.0" cy="430.3" r="2.3" fill="url(#gR)"/>
<circle cx="728.9" cy="430.3" r="2.3" fill="url(#gR)"/>
<circle cx="744.8" cy="430.3" r="2.3" fill="url(#gR)"/>
<path d="M49.5,620.0L49.8,620.6L50.0,621.6L50.1,622.5L50.4,625.0L50.5,625.5L50.7,627.5L51.0,629.0L51.0,629.3L51.3,629.9L51.5,629.9L51.6,629.9L52.0,629.7L52.3,629.5L52.5,629.4L52.6,629.3L52.7,629.2L52.9,629.1L53.0,629.0L53.0,629.0L53.2,628.9L53.4,628.9L53.5,628.9L53.5,628.9L53.8,628.6L53.8,628.5L54.0,628.2L54.2,627.7L54.5,626.7L54.5,626.5L54.8,625.6L54.9,625.3L55.0,625.1L55.1,624.7L55.3,624.3L55.4,624.1L55.5,624.0L55.7,623.9L55.7,623.9L56.0,623.7L56.0,623.7L56.4,622.9L56.4,622.7L56.5,622.5L56.7,621.8L56.8,621.3L57.0,620.4L57.2,619.5L57.3,618.9L57.5,617.9L57.6,617.6L57.6,617.3L57.9,615.9L58.0,615.7L58.2,614.8L58.3,614.6L58.5,614.2L58.6,614.1L58.7,613.9L58.9,613.8L59.0,613.8L59.1,613.7L59.2,613.6L59.4,613.1L59.5,613.0L59.8,611.9L60.0,611.2L60.1,610.7L60.2,610.4L60.4,609.3L60.5,609.0L60.6,608.7L60.8,607.9L60.9,607.1L61.0,606.8L61.1,606.6L61.3,605.7L61.4,605.6L61.5,605.2L61.7,604.9L62.0,604.6L62.1,604.6L62.3,604.4L62.4,604.3L62.5,604.2L62.6,604.0L62.8,603.6L63.0,603.3L63.0,603.1L63.1,602.8L63.2,602.6L63.3,602.4L63.3,602.3L63.5,601.8L63.5,601.6L63.6,601.4L63.6,601.2L63.7,600.8L63.8,600.6L63.9,600.3L64.0,600.1L64.0,600.1L64.0,600.0L64.1,599.9L64.1,599.6L64.2,599.4L64.3,599.1L64.3,599.1L64.4,599.0L64.5,598.7L64.5,598.6L64.7,598.3L64.7,598.3L64.7,598.2L64.8,598.0L65.0,597.8L65.0,597.7L65.0,597.7L65.1,597.6L65.2,597.6L65.2,597.5L65.3,597.4L65.4,597.3L65.5,597.2L65.5,597.1L65.6,596.9L65.7,596.7L65.8,596.5L65.8,596.3L65.9,596.1L65.9,595.9L66.0,595.4L66.0,595.4L66.1,595.1L66.2,594.2L66.2,594.0L66.4,592.6L66.4,592.5L66.5,590.9L66.6,590.4L66.6,590.0L66.7,587.8L66.7,587.5L66.9,584.5L66.9,583.8L67.0,582.2L67.0,580.5L67.1,579.2L67.2,575.9L67.3,573.8L67.3,570.6L67.4,567.7L67.5,564.8L67.5,563.7L67.6,561.3L67.7,559.0L67.7,556.6L67.8,554.9L67.8,553.3L67.9,549.3L68.0,548.4L68.0,546.9L68.1,545.6L68.1,545.3L68.1,545.1L68.3,543.9L68.4,545.2L68.5,545.4L68.5,545.7L68.5,547.0L68.6,548.6L68.6,549.5L68.8,553.5L68.8,555.2L68.9,556.9L68.9,559.2L69.0,561.6L69.0,564.0L69.1,565.2L69.2,568.1L69.2,571.0L69.3,574.3L69.4,576.5L69.5,580.0L69.5,581.4L69.6,583.2L69.7,584.9L69.7,585.7L69.8,589.0L69.9,589.3L70.0,591.8L70.0,592.4L70.0,592.9L70.2,594.9L70.2,595.1L70.3,596.9L70.4,597.2L70.5,598.5L70.5,599.0L70.6,599.1L70.6,599.9L70.7,600.4L70.7,600.6L70.8,601.1L70.9,601.6L71.0,602.1L71.1,602.6L71.1,602.9L71.2,603.5L71.3,603.7L71.4,604.3L71.4,604.5L71.5,604.7L71.6,605.0L71.6,605.1L71.6,605.1L71.7,605.7L71.9,606.2L71.9,606.3L71.9,606.4L72.1,606.8L72.1,606.9L72.2,607.2L72.2,607.3L72.3,607.4L72.4,607.6L72.4,607.7L72.5,607.9L72.6,608.0L72.6,608.0L72.6,608.0L72.7,608.1L72.8,608.2L72.8,608.3L73.0,608.3L73.0,608.4L73.1,608.4L73.1,608.4L73.3,608.5L73.3,608.5L73.4,608.5L73.5,608.6L73.6,608.7L73.6,608.8L73.8,608.9L73.9,609.1L74.1,609.3L74.1,609.4L74.3,609.6L74.5,610.0L74.6,610.1L74.9,610.7L75.1,611.1L75.2,611.4L75.5,612.0L75.6,612.2L75.8,612.7L76.1,613.1L76.1,613.3L76.5,613.8L76.6,614.0L76.8,614.2L77.1,614.6L77.4,614.8L77.7,614.8L78.0,614.9L78.3,615.0L78.7,615.1L79.0,615.3L79.3,615.5L79.6,615.8L79.9,616.1L80.2,616.5L80.5,616.8L80.8,617.2L81.2,617.5L81.5,617.9L81.8,618.2L82.1,618.5L82.4,618.8L82.7,619.0L83.0,619.2L83.4,619.3L83.7,619.4L84.0,619.4L84.3,619.4L84.6,619.5L84.9,619.5L85.2,619.5L85.6,619.6L85.9,619.6L86.2,619.7L86.5,619.8L86.8,619.8L87.1,619.9L87.4,620.0L87.8,620.1L88.1,620.2L88.4,620.2L88.7,620.3L89.0,620.4L89.3,620.5L89.6,620.5L90.0,620.6L90.3,620.6L90.6,620.7L90.9,620.7L91.2,620.7L91.5,620.8L91.8,620.8L92.2,620.8L92.5,620.8L92.8,620.8L93.1,620.7L93.4,620.7L93.7,620.7L94.0,620.7L94.4,620.7L94.7,620.6L95.0,620.6L95.3,620.6L95.6,620.6L95.9,620.5L96.2,620.5L96.5,620.4L96.9,620.4L97.2,620.4L97.5,620.3L97.8,620.3L98.1,620.2L98.4,620.2L98.7,620.1L99.1,620.1L99.4,620.1L99.7,620.0L100.0,620.0L100.3,619.9L100.6,619.9L100.9,619.9L101.3,619.8L101.6,619.8L101.9,619.8L102.2,619.8L102.5,619.7L102.8,619.7L103.1,619.7L103.5,619.7L103.8,619.7L104.1,619.7L104.4,619.7L104.7,619.7L105.0,619.7L105.3,619.6L105.7,619.6L106.0,619.6L106.3,619.5L106.6,619.5L106.9,619.4L107.2,619.4L107.5,619.3L107.9,619.2L108.2,619.1L108.5,619.0L108.8,618.9L109.1,618.8L109.4,618.7L109.7,618.6L110.1,618.5L110.4,618.4L110.7,618.2L111.0,618.1L111.3,618.0L111.6,617.9L111.9,617.7L112.2,617.6L112.6,617.5L112.9,617.3L113.2,617.2L113.5,617.1L113.8,616.9L114.1,616.8L114.4,616.7L114.8,616.6L115.1,616.5L115.4,616.4L115.7,616.3L116.0,616.2L116.3,616.1L116.6,616.0L117.0,615.9L117.3,615.8L117.6,615.7L117.9,615.7L118.2,615.6L118.5,615.6L118.8,615.6L119.2,615.5L119.5,615.5L119.8,615.5L120.1,615.5L120.4,615.5L120.7,615.4L121.0,615.3L121.4,615.2L121.7,615.0L122.0,614.8L122.3,614.6L122.6,614.4L122.9,614.2L123.2,614.0L123.6,613.8L123.9,613.7L124.2,613.6L124.5,613.5L124.8,613.5L125.1,613.5L125.4,613.5L125.8,613.5L126.1,613.5L126.4,613.5L126.7,613.6L127.0,613.6L127.3,613.6L127.6,613.6L127.9,613.7L128.3,613.7L128.6,613.8L128.9,613.8L129.2,613.8L129.5,613.9L129.8,613.9L130.1,614.0L130.5,614.0L130.8,614.1L131.1,614.1L131.4,614.1L131.7,614.2L132.0,614.2L132.3,614.3L132.7,614.3L133.0,614.3L133.3,614.4L133.6,614.4L133.9,614.4L134.2,614.4L134.5,614.5L134.9,614.5L135.2,614.5L135.5,614.5L135.8,614.5L136.1,614.5L136.4,614.5L136.7,614.5L137.1,614.5L137.4,614.5L137.7,614.5L138.0,614.6L138.3,614.6L138.6,614.6L138.9,614.6L139.3,614.7L139.6,614.7L139.9,614.7L140.2,614.8L140.5,614.8L140.8,614.8L141.1,614.9L141.5,614.9L141.8,615.0L142.1,615.0L142.4,615.1L142.7,615.1L143.0,615.1L143.3,615.2L143.7,615.2L143.8,615.3L143.9,615.3L144.0,615.3L144.0,615.3L144.1,615.3L144.2,615.3L144.3,615.3L144.4,615.3L144.5,615.4L144.6,615.4L144.6,615.4L144.7,615.4L144.8,615.4L144.9,615.4L145.0,615.4L145.1,615.5L145.2,615.5L145.2,615.5L145.3,615.5L145.5,615.5L145.5,615.5L145.6,615.5L145.7,615.5L145.8,615.5L145.8,615.6L145.9,615.6L146.0,615.6L146.1,615.6L146.2,615.6L146.2,615.6L146.3,615.6L146.4,615.6L146.5,615.6L146.6,615.6L146.7,615.7L146.8,615.7L146.8,615.7L146.9,615.7L147.0,615.7L147.1,615.7L147.2,615.7L147.3,615.7L147.4,615.8L147.4,615.8L147.5,615.8L147.7,615.8L147.7,615.8L147.8,615.8L147.9,615.8L148.0,615.8L148.0,615.8L148.1,615.8L148.2,615.8L148.3,615.8L148.4,615.8L148.4,615.8L148.5,615.9L148.6,615.9L148.7,615.9L148.8,615.9L148.9,615.9L149.0,615.9L149.0,615.9L149.1,615.9L149.2,615.9L149.3,615.9L149.4,615.9L149.5,615.9L149.6,615.9L149.6,615.9L149.7,615.9L149.9,615.9L149.9,615.9L150.0,616.0L150.1,616.0L150.2,616.0L150.2,616.0L150.3,616.0L150.4,616.0L150.6,616.0L150.9,616.0L151.2,616.0L151.5,616.0L151.8,616.0L152.1,616.0L152.4,616.0L152.8,616.1L153.1,616.1L153.4,616.1L153.7,616.2L154.0,616.3L154.3,616.3L154.6,616.4L155.0,616.5L155.3,616.6L155.6,616.7L155.9,616.8L156.2,616.9L156.5,617.0L156.8,617.1L157.2,617.3L157.5,617.4L157.8,617.5L158.1,617.7L158.4,617.8L158.7,617.9L159.0,618.1L159.3,618.2L159.7,618.4L160.0,618.5L160.3,618.6L160.6,618.8L160.9,618.9L161.2,619.1L161.5,619.2L161.9,619.3L162.2,619.4L162.5,619.5L162.8,619.7L163.1,619.8L163.4,619.9L163.7,620.0L164.1,620.0L164.4,620.1L164.7,620.2L165.0,620.2L165.3,620.3L165.6,620.4L165.9,620.4L166.3,620.4L166.6,620.4L166.9,620.4L167.2,620.5L167.5,620.4L167.8,620.4L168.1,620.4L168.5,620.4L168.8,620.3L169.1,620.3L169.4,620.3L169.7,620.2L170.0,620.1L170.3,620.1L170.7,620.0L171.0,619.9L171.3,619.9L171.6,619.8L171.9,619.7L172.2,619.7L172.5,619.6L172.9,619.5L173.2,619.5L173.5,619.4L173.8,619.4L174.1,619.3L174.4,619.3L174.7,619.2L175.0,619.2L175.2,619.1L175.3,619.1L175.4,619.1L175.4,619.1L175.5,619.0L175.6,619.0L175.7,619.0L175.8,618.9L175.9,618.9L176.0,618.8L176.0,618.8L176.1,618.7L176.2,618.6L176.3,618.5L176.4,618.4L176.5,618.2L176.6,618.1L176.6,618.0L176.7,617.8L176.9,617.5L176.9,617.2L177.0,617.1L177.1,616.6L177.2,615.8L177.2,615.3L177.3,614.8L177.4,613.4L177.5,611.6L177.6,610.7L177.6,609.4L177.7,606.6L177.8,603.4L177.9,602.4L178.0,599.8L178.1,596.0L178.2,592.2L178.2,591.7L178.3,588.8L178.4,586.4L178.5,585.5L178.6,586.2L178.7,588.4L178.8,591.0L178.8,591.5L178.9,595.0L179.1,598.6L179.1,601.0L179.2,602.0L179.3,605.0L179.3,606.1L179.4,607.5L179.4,608.7L179.5,609.5L179.5,609.8L179.6,611.1L179.7,612.1L179.7,612.2L179.8,612.6L179.8,613.0L179.9,613.3L179.9,613.5L180.0,613.9L180.1,613.9L180.2,614.0L180.3,614.1L180.4,614.1L180.4,614.1L180.5,614.1L180.5,614.1L180.6,614.0L180.6,614.0L180.7,613.9L180.8,613.8L180.8,613.8L180.9,613.7L181.0,613.6L181.0,613.6L181.1,613.5L181.2,613.4L181.3,613.3L181.3,613.2L181.4,613.2L181.4,613.1L181.5,613.0L181.6,612.9L181.6,612.8L181.7,612.7L181.8,612.6L181.8,612.5L182.0,612.3L182.1,611.9L182.3,611.6L182.3,611.5L182.5,610.9L182.6,610.7L182.7,610.3L182.9,609.5L183.1,608.5L183.2,607.8L183.3,607.4L183.4,606.7L183.5,606.0L183.5,605.5L183.7,604.4L183.7,604.1L183.8,602.7L184.0,601.1L184.0,600.8L184.2,599.6L184.2,599.0L184.3,598.2L184.4,597.4L184.5,597.0L184.6,596.3L184.6,596.1L184.8,595.7L184.9,595.8L185.0,595.9L185.1,596.4L185.2,596.8L185.3,597.4L185.3,598.1L185.4,598.5L185.5,599.5L185.6,599.8L185.7,601.1L185.9,602.2L185.9,602.5L186.0,603.3L186.1,603.7L186.2,604.3L186.3,604.8L186.4,605.1L186.5,605.7L186.5,605.8L186.7,606.4L186.8,606.8L186.9,606.9L187.0,607.1L187.0,607.3L187.1,607.4L187.2,607.5L187.3,607.6L187.4,607.7L187.5,607.7L187.6,607.9L187.8,607.9L187.8,608.0L187.9,608.0L188.0,608.0L188.1,608.1L188.2,608.1L188.2,608.1L188.4,608.1L188.4,608.1L188.6,608.2L188.7,608.2L188.7,608.2L188.9,608.2L188.9,608.2L189.0,608.3L189.1,608.3L189.2,608.3L189.3,608.3L189.3,608.3L189.5,608.3L189.7,608.4L189.7,608.4L189.8,608.4L189.9,608.4L190.0,608.4L190.1,608.4L190.1,608.4L190.2,608.4L190.3,608.4L190.4,608.5L190.6,608.5L190.8,608.5L190.9,608.5L191.1,608.6L191.2,608.6L191.4,608.6L191.5,608.6L191.7,608.6L191.8,608.7L192.0,608.7L192.2,608.7L192.3,608.7L192.5,608.7L192.6,608.7L192.8,608.8L192.9,608.8L193.3,608.8L193.6,608.8L193.7,608.8L193.9,608.9L194.0,608.9L194.2,608.9L194.4,608.9L194.5,608.9L194.7,608.9L194.8,608.9L195.0,608.9L195.1,608.9L195.3,608.9L195.5,608.9L195.6,608.9L195.8,608.9L195.9,608.9L196.0,608.9L196.1,608.9L196.2,608.9L196.3,608.9L196.4,608.8L196.5,608.8L196.6,608.8L196.7,608.8L196.8,608.8L196.9,608.8L197.0,608.7L197.2,608.7L197.3,608.7L197.3,608.6L197.5,608.6L197.5,608.6L197.7,608.5L197.8,608.5L197.8,608.5L198.0,608.4L198.0,608.4L198.1,608.4L198.3,608.3L198.4,608.3L198.5,608.2L198.6,608.2L198.8,608.1L198.8,608.1L198.9,608.1L199.0,608.0L199.1,608.0L199.2,607.9L199.3,607.9L199.4,607.8L199.5,607.8L199.7,607.7L199.8,607.6L199.9,607.6L200.0,607.5L200.0,607.5L200.2,607.4L200.3,607.3L200.3,607.3L200.5,607.2L200.5,607.2L200.6,607.1L200.8,607.0L201.0,606.8L201.0,606.7L201.1,606.6L201.3,606.5L201.3,606.4L201.4,606.3L201.6,606.1L201.6,606.1L201.7,605.9L201.8,605.8L201.9,605.6L202.1,605.4L202.2,605.1L202.3,605.0L202.4,604.9L202.5,604.7L202.6,604.6L202.7,604.4L202.8,604.3L202.8,604.2L203.0,604.1L203.1,604.0L203.3,604.0L203.6,604.1L203.6,604.1L203.8,604.4L203.9,604.6L204.1,604.8L204.3,605.2L204.3,605.3L204.6,605.9L204.8,606.5L204.9,606.7L205.1,607.1L205.2,607.4L205.3,607.7L205.5,608.1L205.6,608.2L205.8,608.7L206.1,609.2L206.1,609.3L206.3,609.6L206.4,609.7L206.6,609.9L206.8,610.1L206.8,610.2L207.1,610.5L207.3,610.7L207.4,610.7L207.6,610.8L207.7,610.8L207.8,610.9L208.0,610.9L208.1,610.9L208.3,610.9L208.6,610.8L208.6,610.8L208.8,610.7L209.0,610.6L209.1,610.6L209.3,610.4L209.3,610.4L209.6,610.2L209.8,610.0L209.9,609.9L210.1,609.7L210.2,609.6L210.3,609.4L210.5,609.2L210.6,609.1L210.8,608.8L211.2,608.4L211.5,608.0L211.8,607.7L212.1,607.3L212.4,607.0L212.7,606.7L213.0,606.4L213.4,606.2L213.7,606.0L214.0,606.0L214.3,605.9L214.6,605.9L214.9,605.8L215.1,605.8L215.2,605.7L215.4,605.6L215.6,605.5L215.7,605.5L215.9,605.4L216.0,605.3L216.2,605.2L216.2,605.2L216.3,605.2L216.3,605.1L216.4,605.1L216.5,605.1L216.5,605.0L216.7,605.0L216.8,604.9L216.8,604.9L216.9,604.9L217.0,604.9L217.0,604.8L217.1,604.8L217.2,604.8L217.3,604.8L217.4,604.7L217.4,604.7L217.5,604.7L217.6,604.7L217.7,604.6L217.8,604.6L217.8,604.6L217.9,604.5L218.0,604.4L218.1,604.4L218.2,604.2L218.2,604.2L218.3,604.1L218.4,603.9L218.4,603.9L218.5,603.6L218.7,603.3L218.7,603.2L218.8,602.9L218.9,602.7L218.9,602.5L219.0,602.1L219.0,602.0L219.2,601.6L219.3,601.1L219.3,601.0L219.4,600.7L219.5,600.5L219.5,600.4L219.6,600.2L219.7,600.2L219.8,600.2L219.9,600.4L220.0,600.5L220.0,600.8L220.1,601.1L220.2,601.4L220.3,601.8L220.3,602.0L220.4,602.7L220.5,603.4L220.6,603.5L220.7,604.0L220.7,604.4L220.8,604.7L220.9,605.1L220.9,605.2L221.1,605.8L221.2,606.2L221.2,606.3L221.3,606.6L221.4,606.8L221.4,606.9L221.5,607.2L221.6,607.2L221.7,607.5L221.8,607.7L221.8,607.7L221.9,607.9L222.0,607.9L222.1,608.0L222.1,608.1L222.2,608.1L222.3,608.3L222.4,608.4L222.5,608.4L222.6,608.5L222.6,608.5L222.7,608.5L222.8,608.6L222.8,608.6L222.9,608.7L223.1,608.7L223.1,608.7L223.2,608.8L223.2,608.8L223.3,608.8L223.4,608.8L223.4,608.8L223.6,608.9L223.7,608.9L223.9,608.9L224.0,608.9L224.2,608.9L224.3,609.0L224.5,609.1L224.7,609.2L225.0,609.4L225.3,609.6L225.6,609.9L225.9,610.2L225.9,610.3L226.1,610.5L226.2,610.6L226.4,610.8L226.5,611.0L226.6,611.1L226.9,611.4L227.1,611.7L227.2,611.8L227.4,612.0L227.5,612.1L227.6,612.3L227.8,612.5L227.9,612.6L228.1,612.8L228.4,613.1L228.4,613.1L228.6,613.3L228.7,613.3L228.9,613.4L229.1,613.5L229.1,613.5L229.4,613.6L229.6,613.7L229.7,613.7L229.9,613.6L230.0,613.6L230.1,613.5L230.3,613.4L230.4,613.4L230.6,613.3L230.9,613.2L230.9,613.1L231.1,613.0L231.3,612.9L231.4,612.8L231.6,612.6L231.6,612.5L231.9,612.2L232.1,611.9L232.2,611.8L232.4,611.7L232.5,611.6L232.6,611.5L232.8,611.5L232.9,611.5L233.1,611.7L233.4,612.3L233.5,612.4L233.6,613.0L233.8,613.4L233.9,613.9L234.1,614.6L234.1,614.9L234.4,615.9L234.6,616.8L234.7,617.0L234.9,617.7L235.0,618.1L235.1,618.5L235.3,619.0L235.4,619.1L235.7,619.7L235.9,620.2L236.0,620.3L236.2,620.6L236.3,620.8L236.4,621.0L236.6,621.2L236.7,621.3L236.9,621.5L237.2,621.6L237.2,621.7L237.4,621.8L237.5,621.8L237.7,621.8L237.8,621.8L237.9,621.9L238.2,621.9L238.4,621.9L238.5,622.0L238.7,622.0L238.8,622.1L238.9,622.1L239.1,622.2L239.2,622.2L239.4,622.4L239.7,622.5L239.7,622.6L239.9,622.7L240.0,622.8L240.2,622.9L240.4,623.1L240.4,623.1L240.7,623.3L241.0,623.6L241.3,624.0L241.6,624.3L241.9,624.6L242.2,624.9L242.6,625.2L242.9,625.5L243.2,625.8L243.5,626.0L243.8,626.3L244.1,626.5L244.4,626.6L244.8,626.8L245.1,626.9L245.4,626.9L245.7,626.9L246.0,626.9L246.3,626.9L246.6,626.9L247.0,626.9L247.3,627.0L247.6,627.0L247.9,627.0L248.2,627.0L248.5,627.0L248.8,627.0L249.2,627.1L249.5,627.1L249.7,627.1L249.8,627.1L249.8,627.1L250.0,627.1L250.1,627.1L250.2,627.1L250.4,627.1L250.6,627.2L250.7,627.2L250.8,627.2L251.0,627.2L251.0,627.2L251.2,627.2L251.4,627.2L251.5,627.2L251.7,627.2L251.7,627.2L251.9,627.2L252.0,627.2L252.1,627.2L252.3,627.2L252.5,627.2L252.6,627.2L252.7,627.2L252.9,627.1L252.9,627.1L253.0,627.0L253.2,627.0L253.4,626.8L253.5,626.7L253.6,626.7L253.8,626.5L253.9,626.4L254.0,626.2L254.2,625.9L254.4,625.7L254.5,625.5L254.6,625.4L254.7,625.1L254.8,625.0L254.9,624.9L255.1,624.9L255.3,624.9L255.4,625.0L255.5,625.1L255.7,625.3L255.7,625.4L255.9,625.6L256.1,625.8L256.3,626.1L256.4,626.2L256.4,626.3L256.6,626.4L256.7,626.5L256.8,626.5L257.0,626.6L257.2,626.6L257.3,626.6L257.4,626.6L257.6,626.6L257.6,626.6L257.8,626.6L257.8,626.5L257.9,626.5L258.0,626.5L258.1,626.4L258.3,626.4L258.3,626.4L258.3,626.3L258.5,626.3L258.5,626.3L258.6,626.2L258.7,626.2L258.7,626.2L258.8,626.1L258.9,626.1L259.0,626.0L259.1,626.0L259.2,625.9L259.2,625.9L259.3,625.9L259.3,625.9L259.3,625.9L259.5,625.8L259.5,625.8L259.6,625.7L259.6,625.7L259.7,625.7L259.7,625.7L259.8,625.6L259.9,625.6L260.0,625.5L260.0,625.4L260.0,625.4L260.1,625.4L260.1,625.3L260.2,625.3L260.3,625.1L260.4,625.1L260.4,625.1L260.5,625.0L260.6,624.8L260.6,624.8L260.7,624.5L260.7,624.5L260.8,624.4L260.8,624.2L260.9,624.0L261.0,623.8L261.1,623.3L261.1,623.3L261.2,622.6L261.2,622.4L261.3,621.8L261.4,621.4L261.4,621.3L261.5,620.9L261.6,619.8L261.7,618.5L261.8,618.0L261.8,617.0L261.9,615.8L262.0,615.4L262.0,614.5L262.1,613.6L262.1,613.4L262.2,611.8L262.3,610.8L262.3,609.9L262.5,608.3L262.5,608.1L262.6,606.4L262.6,606.0L262.7,605.7L262.7,605.0L262.8,604.4L262.8,604.2L263.0,603.8L263.1,604.1L263.1,604.4L263.2,605.0L263.3,605.6L263.3,605.9L263.3,606.3L263.5,607.9L263.5,608.2L263.6,609.7L263.7,610.7L263.7,611.6L263.8,613.2L263.8,613.4L263.9,614.3L264.0,615.1L264.0,615.6L264.1,616.7L264.2,617.7L264.2,618.2L264.4,619.5L264.5,620.6L264.5,620.9L264.5,621.0L264.6,621.5L264.7,622.1L264.7,622.2L264.9,622.9L264.9,622.9L265.0,623.3L265.0,623.5L265.1,623.7L265.2,623.9L265.2,624.0L265.2,624.0L265.4,624.2L265.4,624.3L265.5,624.4L265.6,624.4L265.6,624.5L265.7,624.6L265.8,624.6L265.9,624.6L265.9,624.6L266.0,624.7L266.1,624.7L266.1,624.7L266.2,624.7L266.3,624.7L266.4,624.7L266.4,624.7L266.5,624.7L266.6,624.8L266.6,624.8L266.7,624.8L266.8,624.8L266.9,624.8L267.1,624.8L267.1,624.8L267.3,624.8L267.4,624.8L267.5,624.8L267.6,624.8L267.7,624.7L267.8,624.7L268.0,624.7L268.0,624.7L268.2,624.7L268.3,624.7L268.6,624.7L268.9,624.7L269.2,624.7L269.6,624.8L269.9,624.7L270.2,624.7L270.5,624.7L270.8,624.6L271.1,624.6L271.4,624.5L271.8,624.4L272.1,624.4L272.2,624.3L272.3,624.3L272.4,624.3L272.5,624.2L272.6,624.2L272.7,624.2L272.7,624.2L272.8,624.1L272.9,624.1L273.0,624.1L273.0,624.1L273.1,624.0L273.2,624.0L273.3,624.0L273.4,623.9L273.6,623.9L273.6,623.9L273.7,623.9L273.8,623.8L273.9,623.8L274.0,623.8L274.0,623.8L274.1,623.7L274.2,623.7L274.3,623.7L274.3,623.7L274.4,623.6L274.5,623.6L274.6,623.6L274.7,623.6L274.8,623.6L274.9,623.5L274.9,623.5L275.0,623.5L275.1,623.5L275.2,623.5L275.2,623.4L275.3,623.4L275.4,623.4L275.5,623.4L275.6,623.4L275.7,623.3L275.8,623.3L275.9,623.3L276.0,623.3L276.1,623.3L276.2,623.3L276.2,623.3L276.3,623.2L276.4,623.2L276.5,623.2L276.5,623.2L276.6,623.2L276.7,623.2L276.8,623.2L276.8,623.2L277.0,623.2L277.1,623.2L277.1,623.2L277.2,623.2L277.3,623.2L277.4,623.2L277.4,623.2L277.5,623.1L277.6,623.1L277.7,623.1L277.8,623.1L277.9,623.1L278.0,623.1L278.1,623.1L278.2,623.0L278.3,623.0L278.4,623.0L278.4,623.0L278.5,623.0L278.6,623.0L278.7,622.9L278.7,622.9L278.8,622.9L279.0,622.9L279.3,622.8L279.6,622.6L279.9,622.5L280.2,622.4L280.6,622.3L280.9,622.1L281.2,622.0L281.5,621.8L281.8,621.6L282.1,621.5L282.4,621.3L282.8,621.0L283.1,620.7L283.4,620.4L283.7,619.9L284.0,619.3L284.3,618.4L284.6,617.2L284.9,615.5L285.3,613.3L285.6,610.5L285.9,607.1L286.2,603.1L286.5,598.5L286.8,593.7L287.1,589.0L287.5,584.8L287.8,581.8L288.1,580.6L288.4,581.7L288.7,584.5L289.0,588.6L289.3,593.3L289.7,598.0L290.0,602.4L290.3,606.4L290.6,609.7L290.9,612.5L291.2,614.6L291.5,616.2L291.9,617.4L292.2,618.2L292.5,618.8L292.8,619.3L293.1,619.6L293.4,619.8L293.7,620.0L294.1,620.2L294.4,620.4L294.7,620.6L295.0,620.8L295.3,621.0L295.6,621.2L295.9,621.5L296.3,621.7L296.6,621.9L296.9,622.1L297.2,622.3L297.5,622.6L297.8,622.8L298.1,622.9L298.5,623.1L298.8,623.3L299.1,623.4L299.4,623.5L299.7,623.6L300.0,623.7L300.3,623.7L300.7,623.7L301.0,623.8L301.2,623.7L301.3,623.7L301.5,623.7L301.6,623.7L301.7,623.7L301.9,623.7L302.0,623.7L302.2,623.7L302.5,623.7L302.5,623.7L302.7,623.6L302.8,623.6L303.0,623.6L303.2,623.6L303.2,623.6L303.5,623.5L303.7,623.5L303.8,623.4L304.0,623.4L304.1,623.4L304.2,623.4L304.4,623.3L304.5,623.3L304.7,623.2L305.0,623.2L305.0,623.2L305.2,623.1L305.4,623.1L305.5,623.0L305.7,622.9L305.7,622.9L306.0,622.8L306.2,622.6L306.3,622.6L306.5,622.5L306.6,622.4L306.7,622.3L306.9,622.1L307.0,622.0L307.2,621.8L307.5,621.6L307.6,621.5L307.7,621.3L307.9,621.2L308.0,621.1L308.2,621.0L308.2,620.9L308.5,620.9L308.8,620.9L308.8,621.0L309.0,621.1L309.1,621.1L309.3,621.2L309.4,621.4L309.5,621.4L309.8,621.6L310.0,621.7L310.1,621.7L310.3,621.8L310.4,621.9L310.5,621.9L310.7,621.9L310.8,621.9L311.0,621.9L311.3,621.8L311.3,621.8L311.5,621.8L311.6,621.7L311.8,621.6L312.0,621.6L312.0,621.5L312.2,621.4L312.3,621.4L312.5,621.3L312.5,621.3L312.6,621.2L312.7,621.2L312.8,621.1L312.9,621.0L313.0,621.0L313.0,621.0L313.2,620.9L313.3,620.8L313.5,620.7L313.5,620.7L313.7,620.6L313.8,620.6L313.8,620.5L314.0,620.5L314.0,620.4L314.2,620.4L314.2,620.3L314.3,620.3L314.5,620.2L314.5,620.2L314.7,620.1L314.8,620.1L315.0,620.0L315.0,620.0L315.1,620.0L315.2,619.9L315.3,619.9L315.4,619.9L315.5,619.9L315.5,619.9L315.7,619.8L315.8,619.8L316.0,619.7L316.0,619.7L316.2,619.7L316.4,619.6L316.5,619.6L316.7,619.5L316.7,619.5L317.0,619.3L317.2,619.1L317.3,619.0L317.5,618.8L317.6,618.7L317.7,618.5L317.9,618.2L318.0,618.1L318.2,617.7L318.5,617.3L318.5,617.2L318.7,616.8L318.9,616.6L319.0,616.5L319.2,616.2L319.2,616.2L319.5,616.1L319.7,616.2L319.8,616.3L320.0,616.6L320.1,616.8L320.2,617.0L320.4,617.3L320.5,617.5L320.7,618.0L321.0,618.4L321.1,618.5L321.2,618.8L321.4,619.0L321.5,619.2L321.6,619.3L321.7,619.4L321.8,619.5L321.9,619.6L322.0,619.7L322.1,619.8L322.3,619.9L322.3,619.9L322.4,620.0L322.5,620.0L322.6,620.1L322.8,620.1L322.9,620.2L322.9,620.2L323.0,620.2L323.1,620.2L323.3,620.2L323.4,620.3L323.5,620.3L323.6,620.3L323.6,620.3L323.8,620.3L323.9,620.3L324.0,620.3L324.1,620.3L324.2,620.3L324.3,620.3L324.4,620.3L324.5,620.3L324.6,620.3L324.8,620.3L324.8,620.3L324.9,620.3L325.0,620.3L325.1,620.3L325.3,620.4L325.4,620.4L325.5,620.4L325.5,620.4L325.6,620.4L325.8,620.4L325.9,620.3L326.0,620.3L326.1,620.3L326.1,620.3L326.3,620.3L326.4,620.3L326.5,620.3L326.6,620.2L326.7,620.2L326.8,620.2L326.9,620.1L327.0,620.1L327.2,620.0L327.3,619.9L327.3,619.9L327.4,619.9L327.5,619.8L327.7,619.7L327.8,619.6L327.9,619.5L328.0,619.5L328.0,619.4L328.2,619.3L328.3,619.3L328.4,619.2L328.5,619.1L328.6,619.1L328.7,619.1L328.8,619.1L328.9,619.1L329.0,619.1L329.2,619.2L329.2,619.2L329.3,619.3L329.4,619.4L329.5,619.5L329.7,619.6L329.8,619.8L329.9,619.8L329.9,619.9L330.0,620.0L330.2,620.2L330.3,620.3L330.4,620.4L330.5,620.5L330.5,620.5L330.7,620.7L330.8,620.8L330.9,620.8L331.0,620.9L331.1,621.0L331.2,621.0L331.3,621.1L331.4,621.1L331.5,621.2L331.7,621.2L331.7,621.2L331.8,621.2L331.9,621.3L332.1,621.3L332.2,621.3L332.3,621.3L332.4,621.3L332.4,621.4L332.6,621.4L332.7,621.4L332.9,621.4L333.0,621.4L333.2,621.4L333.3,621.5L333.4,621.5L333.6,621.5L333.7,621.5L333.9,621.5L334.2,621.6L334.2,621.6L334.4,621.6L334.6,621.7L334.7,621.7L334.9,621.7L334.9,621.7L335.2,621.8L335.4,621.8L335.5,621.8L335.7,621.9L335.8,621.9L335.8,621.9L335.9,621.9L336.0,621.9L336.1,622.0L336.2,622.0L336.3,622.0L336.4,622.0L336.5,622.0L336.8,622.1L337.0,622.1L337.1,622.1L337.3,622.2L337.4,622.2L337.5,622.2L337.7,622.2L337.8,622.3L338.0,622.3L338.3,622.3L338.3,622.3L338.5,622.3L338.6,622.3L338.8,622.4L339.0,622.4L339.0,622.4L339.3,622.4L339.4,622.4L339.5,622.4L339.6,622.4L339.6,622.3L339.8,622.3L339.9,622.3L340.0,622.3L340.2,622.3L340.2,622.3L340.3,622.2L340.4,622.2L340.5,622.2L340.7,622.1L340.8,622.1L340.8,622.1L340.9,622.0L341.0,622.0L341.2,621.9L341.3,621.9L341.4,621.8L341.5,621.7L341.5,621.7L341.7,621.6L341.8,621.5L341.9,621.4L342.0,621.4L342.1,621.3L342.2,621.3L342.3,621.2L342.4,621.1L342.5,621.1L342.7,621.0L342.7,621.0L342.8,621.0L342.9,621.0L343.0,621.0L343.2,621.0L343.3,621.1L343.4,621.2L343.4,621.2L343.5,621.3L343.7,621.5L343.8,621.6L343.9,621.8L344.0,621.8L344.0,621.9L344.2,622.1L344.3,622.2L344.4,622.4L344.5,622.5L344.6,622.6L344.7,622.7L344.8,622.8L344.9,622.9L345.0,623.0L345.2,623.1L345.2,623.2L345.3,623.2L345.4,623.3L345.6,623.4L345.7,623.5L345.8,623.5L345.9,623.6L345.9,623.6L346.1,623.6L346.2,623.7L346.3,623.7L346.4,623.8L346.5,623.8L346.6,623.8L346.7,623.8L346.8,623.8L347.1,623.9L347.1,623.9L347.3,623.9L347.4,623.9L347.6,623.9L347.8,623.9L347.8,623.9L348.1,624.0L348.3,624.0L348.4,624.0L348.6,624.0L348.7,624.1L348.8,624.1L349.0,624.2L349.1,624.2L349.3,624.3L349.6,624.4L349.6,624.4L349.8,624.5L349.9,624.6L350.1,624.7L350.3,624.8L350.3,624.8L350.6,625.0L350.9,625.2L351.2,625.4L351.5,625.6L351.8,625.8L352.1,626.0L352.5,626.3L352.8,626.5L353.1,626.7L353.4,626.8L353.7,627.0L354.0,627.1L354.3,627.3L354.7,627.4L355.0,627.4L355.3,627.5L355.6,627.5" fill="none" stroke="#3a3a3a" stroke-width="4.8" stroke-linejoin="round" stroke-linecap="round"/>
<circle cx="50.4" cy="625.0" r="1.75" fill="#e8e8e8" stroke="#3a3a3a" stroke-width="1.2"/>
<circle cx="50.7" cy="627.5" r="1.75" fill="#e8e8e8" stroke="#3a3a3a" stroke-width="1.2"/>
<circle cx="57.5" cy="616.7" r="1.8" fill="#f4f4f4" stroke="#3a3a3a" stroke-width="1.05"/>
<circle cx="57.9" cy="614.4" r="1.8" fill="#f4f4f4" stroke="#3a3a3a" stroke-width="1.05"/>
<circle cx="58.5" cy="612.1" r="1.8" fill="#f4f4f4" stroke="#3a3a3a" stroke-width="1.05"/>
<circle cx="59.4" cy="609.9" r="1.8" fill="#f4f4f4" stroke="#3a3a3a" stroke-width="1.05"/>
<circle cx="60.0" cy="607.0" r="1.8" fill="#f4f4f4" stroke="#3a3a3a" stroke-width="1.05"/>
<circle cx="60.4" cy="604.3" r="1.8" fill="#f4f4f4" stroke="#3a3a3a" stroke-width="1.05"/>
<circle cx="60.9" cy="601.1" r="1.8" fill="#f4f4f4" stroke="#3a3a3a" stroke-width="1.05"/>
<circle cx="61.4" cy="598.8" r="1.8" fill="#f4f4f4" stroke="#3a3a3a" stroke-width="1.05"/>
<circle cx="62.3" cy="596.4" r="1.8" fill="#f4f4f4" stroke="#3a3a3a" stroke-width="1.05"/>
<circle cx="63.2" cy="594.3" r="1.8" fill="#f4f4f4" stroke="#3a3a3a" stroke-width="1.05"/>
<circle cx="64.2" cy="592.4" r="1.8" fill="#f4f4f4" stroke="#3a3a3a" stroke-width="1.05"/>
<circle cx="66.2" cy="591.2" r="1.8" fill="#f4f4f4" stroke="#3a3a3a" stroke-width="1.05"/>
<circle cx="66.5" cy="588.1" r="1.8" fill="#f4f4f4" stroke="#3a3a3a" stroke-width="1.05"/>
<circle cx="66.7" cy="585.1" r="1.8" fill="#f4f4f4" stroke="#3a3a3a" stroke-width="1.05"/>
<circle cx="66.9" cy="581.7" r="1.8" fill="#f4f4f4" stroke="#3a3a3a" stroke-width="1.05"/>
<circle cx="67.0" cy="579.3" r="1.8" fill="#f4f4f4" stroke="#3a3a3a" stroke-width="1.05"/>
<circle cx="67.1" cy="576.1" r="1.8" fill="#f4f4f4" stroke="#3a3a3a" stroke-width="1.05"/>
<circle cx="67.2" cy="572.6" r="1.8" fill="#f4f4f4" stroke="#3a3a3a" stroke-width="1.05"/>
<circle cx="67.3" cy="570.4" r="1.8" fill="#f4f4f4" stroke="#3a3a3a" stroke-width="1.05"/>
<circle cx="67.3" cy="567.0" r="1.8" fill="#f4f4f4" stroke="#3a3a3a" stroke-width="1.05"/>
<circle cx="67.4" cy="564.0" r="1.8" fill="#f4f4f4" stroke="#3a3a3a" stroke-width="1.05"/>
<circle cx="67.5" cy="560.8" r="1.8" fill="#f4f4f4" stroke="#3a3a3a" stroke-width="1.05"/>
<circle cx="67.6" cy="557.0" r="1.8" fill="#f4f4f4" stroke="#3a3a3a" stroke-width="1.05"/>
<circle cx="67.7" cy="554.5" r="1.8" fill="#f4f4f4" stroke="#3a3a3a" stroke-width="1.05"/>
<circle cx="67.7" cy="552.0" r="1.8" fill="#f4f4f4" stroke="#3a3a3a" stroke-width="1.05"/>
<circle cx="67.8" cy="548.4" r="1.8" fill="#f4f4f4" stroke="#3a3a3a" stroke-width="1.05"/>
<circle cx="67.9" cy="544.0" r="1.8" fill="#f4f4f4" stroke="#3a3a3a" stroke-width="1.05"/>
<circle cx="68.0" cy="541.4" r="1.8" fill="#f4f4f4" stroke="#3a3a3a" stroke-width="1.05"/>
<circle cx="68.3" cy="538.2" r="1.8" fill="#f4f4f4" stroke="#3a3a3a" stroke-width="1.05"/>
<circle cx="68.5" cy="541.7" r="1.8" fill="#f4f4f4" stroke="#3a3a3a" stroke-width="1.05"/>
<circle cx="68.6" cy="544.5" r="1.8" fill="#f4f4f4" stroke="#3a3a3a" stroke-width="1.05"/>
<circle cx="68.8" cy="549.0" r="1.8" fill="#f4f4f4" stroke="#3a3a3a" stroke-width="1.05"/>
<circle cx="68.9" cy="552.7" r="1.8" fill="#f4f4f4" stroke="#3a3a3a" stroke-width="1.05"/>
<circle cx="68.9" cy="555.3" r="1.8" fill="#f4f4f4" stroke="#3a3a3a" stroke-width="1.05"/>
<circle cx="69.0" cy="558.0" r="1.8" fill="#f4f4f4" stroke="#3a3a3a" stroke-width="1.05"/>
<circle cx="69.0" cy="560.6" r="1.8" fill="#f4f4f4" stroke="#3a3a3a" stroke-width="1.05"/>
<circle cx="69.2" cy="565.1" r="1.8" fill="#f4f4f4" stroke="#3a3a3a" stroke-width="1.05"/>
<circle cx="69.2" cy="568.3" r="1.8" fill="#f4f4f4" stroke="#3a3a3a" stroke-width="1.05"/>
<circle cx="69.3" cy="571.9" r="1.8" fill="#f4f4f4" stroke="#3a3a3a" stroke-width="1.05"/>
<circle cx="69.4" cy="574.3" r="1.8" fill="#f4f4f4" stroke="#3a3a3a" stroke-width="1.05"/>
<circle cx="69.5" cy="578.1" r="1.8" fill="#f4f4f4" stroke="#3a3a3a" stroke-width="1.05"/>
<circle cx="69.6" cy="581.6" r="1.8" fill="#f4f4f4" stroke="#3a3a3a" stroke-width="1.05"/>
<circle cx="69.7" cy="584.3" r="1.8" fill="#f4f4f4" stroke="#3a3a3a" stroke-width="1.05"/>
<circle cx="69.8" cy="589.0" r="1.75" fill="#e8e8e8" stroke="#3a3a3a" stroke-width="1.2"/>
<circle cx="70.0" cy="591.8" r="1.75" fill="#e8e8e8" stroke="#3a3a3a" stroke-width="1.2"/>
<circle cx="70.2" cy="594.9" r="1.75" fill="#e8e8e8" stroke="#3a3a3a" stroke-width="1.2"/>
<circle cx="70.3" cy="596.9" r="1.75" fill="#e8e8e8" stroke="#3a3a3a" stroke-width="1.2"/>
<circle cx="145.5" cy="614.3" r="1.8" fill="#f4f4f4" stroke="#3a3a3a" stroke-width="1.05"/>
<circle cx="146.0" cy="611.6" r="1.8" fill="#f4f4f4" stroke="#3a3a3a" stroke-width="1.05"/>
<circle cx="146.2" cy="608.6" r="1.8" fill="#f4f4f4" stroke="#3a3a3a" stroke-width="1.05"/>
<circle cx="146.4" cy="604.1" r="1.8" fill="#f4f4f4" stroke="#3a3a3a" stroke-width="1.05"/>
<circle cx="146.6" cy="601.4" r="1.8" fill="#f4f4f4" stroke="#3a3a3a" stroke-width="1.05"/>
<circle cx="146.7" cy="598.5" r="1.8" fill="#f4f4f4" stroke="#3a3a3a" stroke-width="1.05"/>
<circle cx="146.8" cy="595.7" r="1.8" fill="#f4f4f4" stroke="#3a3a3a" stroke-width="1.05"/>
<circle cx="146.9" cy="593.1" r="1.8" fill="#f4f4f4" stroke="#3a3a3a" stroke-width="1.05"/>
<circle cx="147.1" cy="590.7" r="1.8" fill="#f4f4f4" stroke="#3a3a3a" stroke-width="1.05"/>
<circle cx="147.3" cy="593.2" r="1.8" fill="#f4f4f4" stroke="#3a3a3a" stroke-width="1.05"/>
<circle cx="147.4" cy="595.3" r="1.8" fill="#f4f4f4" stroke="#3a3a3a" stroke-width="1.05"/>
<circle cx="147.5" cy="598.6" r="1.8" fill="#f4f4f4" stroke="#3a3a3a" stroke-width="1.05"/>
<circle cx="147.7" cy="601.5" r="1.8" fill="#f4f4f4" stroke="#3a3a3a" stroke-width="1.05"/>
<circle cx="147.8" cy="604.3" r="1.8" fill="#f4f4f4" stroke="#3a3a3a" stroke-width="1.05"/>
<circle cx="147.9" cy="606.7" r="1.8" fill="#f4f4f4" stroke="#3a3a3a" stroke-width="1.05"/>
<circle cx="148.0" cy="609.8" r="1.8" fill="#f4f4f4" stroke="#3a3a3a" stroke-width="1.05"/>
<circle cx="148.3" cy="612.9" r="1.8" fill="#f4f4f4" stroke="#3a3a3a" stroke-width="1.05"/>
<circle cx="177.2" cy="614.3" r="1.8" fill="#f4f4f4" stroke="#3a3a3a" stroke-width="1.05"/>
<circle cx="177.4" cy="610.7" r="1.8" fill="#f4f4f4" stroke="#3a3a3a" stroke-width="1.05"/>
<circle cx="177.5" cy="608.0" r="1.8" fill="#f4f4f4" stroke="#3a3a3a" stroke-width="1.05"/>
<circle cx="177.6" cy="604.6" r="1.8" fill="#f4f4f4" stroke="#3a3a3a" stroke-width="1.05"/>
<circle cx="177.7" cy="600.4" r="1.8" fill="#f4f4f4" stroke="#3a3a3a" stroke-width="1.05"/>
<circle cx="177.8" cy="595.6" r="1.8" fill="#f4f4f4" stroke="#3a3a3a" stroke-width="1.05"/>
<circle cx="178.0" cy="590.1" r="1.8" fill="#f4f4f4" stroke="#3a3a3a" stroke-width="1.05"/>
<circle cx="178.1" cy="584.3" r="1.8" fill="#f4f4f4" stroke="#3a3a3a" stroke-width="1.05"/>
<circle cx="178.2" cy="578.6" r="1.8" fill="#f4f4f4" stroke="#3a3a3a" stroke-width="1.05"/>
<circle cx="178.3" cy="573.5" r="1.8" fill="#f4f4f4" stroke="#3a3a3a" stroke-width="1.05"/>
<circle cx="178.4" cy="569.8" r="1.8" fill="#f4f4f4" stroke="#3a3a3a" stroke-width="1.05"/>
<circle cx="178.7" cy="573.0" r="1.8" fill="#f4f4f4" stroke="#3a3a3a" stroke-width="1.05"/>
<circle cx="178.8" cy="577.1" r="1.8" fill="#f4f4f4" stroke="#3a3a3a" stroke-width="1.05"/>
<circle cx="178.9" cy="583.4" r="1.8" fill="#f4f4f4" stroke="#3a3a3a" stroke-width="1.05"/>
<circle cx="179.1" cy="588.9" r="1.8" fill="#f4f4f4" stroke="#3a3a3a" stroke-width="1.05"/>
<circle cx="179.1" cy="592.7" r="1.8" fill="#f4f4f4" stroke="#3a3a3a" stroke-width="1.05"/>
<circle cx="179.3" cy="598.8" r="1.8" fill="#f4f4f4" stroke="#3a3a3a" stroke-width="1.05"/>
<circle cx="179.4" cy="602.7" r="1.8" fill="#f4f4f4" stroke="#3a3a3a" stroke-width="1.05"/>
<circle cx="179.5" cy="605.9" r="1.8" fill="#f4f4f4" stroke="#3a3a3a" stroke-width="1.05"/>
<circle cx="179.6" cy="608.4" r="1.8" fill="#f4f4f4" stroke="#3a3a3a" stroke-width="1.05"/>
<circle cx="179.8" cy="610.8" r="1.8" fill="#f4f4f4" stroke="#3a3a3a" stroke-width="1.05"/>
<circle cx="183.7" cy="604.4" r="1.75" fill="#e8e8e8" stroke="#3a3a3a" stroke-width="1.2"/>
<circle cx="183.8" cy="602.7" r="1.75" fill="#e8e8e8" stroke="#3a3a3a" stroke-width="1.2"/>
<circle cx="184.2" cy="599.6" r="1.75" fill="#e8e8e8" stroke="#3a3a3a" stroke-width="1.2"/>
<circle cx="185.7" cy="601.1" r="1.75" fill="#e8e8e8" stroke="#3a3a3a" stroke-width="1.2"/>
<circle cx="186.8" cy="605.4" r="1.8" fill="#f4f4f4" stroke="#3a3a3a" stroke-width="1.05"/>
<circle cx="187.8" cy="603.4" r="1.8" fill="#f4f4f4" stroke="#3a3a3a" stroke-width="1.05"/>
<circle cx="188.9" cy="605.4" r="1.8" fill="#f4f4f4" stroke="#3a3a3a" stroke-width="1.05"/>
<circle cx="197.2" cy="607.2" r="1.8" fill="#f4f4f4" stroke="#3a3a3a" stroke-width="1.05"/>
<circle cx="198.0" cy="604.8" r="1.8" fill="#f4f4f4" stroke="#3a3a3a" stroke-width="1.05"/>
<circle cx="199.4" cy="606.4" r="1.8" fill="#f4f4f4" stroke="#3a3a3a" stroke-width="1.05"/>
<circle cx="218.8" cy="601.5" r="1.8" fill="#f4f4f4" stroke="#3a3a3a" stroke-width="1.05"/>
<circle cx="219.2" cy="598.7" r="1.8" fill="#f4f4f4" stroke="#3a3a3a" stroke-width="1.05"/>
<circle cx="219.5" cy="596.2" r="1.8" fill="#f4f4f4" stroke="#3a3a3a" stroke-width="1.05"/>
<circle cx="220.3" cy="598.3" r="1.8" fill="#f4f4f4" stroke="#3a3a3a" stroke-width="1.05"/>
<circle cx="220.5" cy="601.1" r="1.8" fill="#f4f4f4" stroke="#3a3a3a" stroke-width="1.05"/>
<circle cx="220.8" cy="603.3" r="1.8" fill="#f4f4f4" stroke="#3a3a3a" stroke-width="1.05"/>
<circle cx="261.6" cy="619.8" r="1.75" fill="#e8e8e8" stroke="#3a3a3a" stroke-width="1.2"/>
<circle cx="261.8" cy="615.7" r="1.8" fill="#f4f4f4" stroke="#3a3a3a" stroke-width="1.05"/>
<circle cx="262.0" cy="612.6" r="1.8" fill="#f4f4f4" stroke="#3a3a3a" stroke-width="1.05"/>
<circle cx="262.2" cy="609.0" r="1.8" fill="#f4f4f4" stroke="#3a3a3a" stroke-width="1.05"/>
<circle cx="262.3" cy="606.5" r="1.8" fill="#f4f4f4" stroke="#3a3a3a" stroke-width="1.05"/>
<circle cx="262.5" cy="604.2" r="1.8" fill="#f4f4f4" stroke="#3a3a3a" stroke-width="1.05"/>
<circle cx="262.6" cy="601.6" r="1.8" fill="#f4f4f4" stroke="#3a3a3a" stroke-width="1.05"/>
<circle cx="262.8" cy="598.7" r="1.8" fill="#f4f4f4" stroke="#3a3a3a" stroke-width="1.05"/>
<circle cx="263.3" cy="601.0" r="1.8" fill="#f4f4f4" stroke="#3a3a3a" stroke-width="1.05"/>
<circle cx="263.5" cy="603.8" r="1.8" fill="#f4f4f4" stroke="#3a3a3a" stroke-width="1.05"/>
<circle cx="263.6" cy="606.3" r="1.8" fill="#f4f4f4" stroke="#3a3a3a" stroke-width="1.05"/>
<circle cx="263.7" cy="608.8" r="1.8" fill="#f4f4f4" stroke="#3a3a3a" stroke-width="1.05"/>
<circle cx="263.8" cy="610.9" r="1.8" fill="#f4f4f4" stroke="#3a3a3a" stroke-width="1.05"/>
<circle cx="264.0" cy="613.5" r="1.8" fill="#f4f4f4" stroke="#3a3a3a" stroke-width="1.05"/>
<circle cx="264.4" cy="619.5" r="1.75" fill="#e8e8e8" stroke="#3a3a3a" stroke-width="1.2"/>
<circle cx="274.7" cy="622.2" r="1.8" fill="#f4f4f4" stroke="#3a3a3a" stroke-width="1.05"/>
<circle cx="275.1" cy="620.0" r="1.8" fill="#f4f4f4" stroke="#3a3a3a" stroke-width="1.05"/>
<circle cx="276.4" cy="621.8" r="1.8" fill="#f4f4f4" stroke="#3a3a3a" stroke-width="1.05"/>
<circle cx="284.6" cy="617.2" r="1.75" fill="#e8e8e8" stroke="#3a3a3a" stroke-width="1.2"/>
<circle cx="285.3" cy="613.3" r="1.75" fill="#e8e8e8" stroke="#3a3a3a" stroke-width="1.2"/>
<circle cx="285.6" cy="610.5" r="1.75" fill="#e8e8e8" stroke="#3a3a3a" stroke-width="1.2"/>
<circle cx="285.9" cy="607.1" r="1.75" fill="#e8e8e8" stroke="#3a3a3a" stroke-width="1.2"/>
<circle cx="286.2" cy="603.1" r="1.75" fill="#e8e8e8" stroke="#3a3a3a" stroke-width="1.2"/>
<circle cx="286.5" cy="598.5" r="1.75" fill="#e8e8e8" stroke="#3a3a3a" stroke-width="1.2"/>
<circle cx="286.8" cy="593.7" r="1.75" fill="#e8e8e8" stroke="#3a3a3a" stroke-width="1.2"/>
<circle cx="287.1" cy="589.0" r="1.75" fill="#e8e8e8" stroke="#3a3a3a" stroke-width="1.2"/>
<circle cx="287.5" cy="584.8" r="1.75" fill="#e8e8e8" stroke="#3a3a3a" stroke-width="1.2"/>
<circle cx="287.8" cy="581.8" r="1.75" fill="#e8e8e8" stroke="#3a3a3a" stroke-width="1.2"/>
<circle cx="288.7" cy="584.5" r="1.75" fill="#e8e8e8" stroke="#3a3a3a" stroke-width="1.2"/>
<circle cx="289.0" cy="588.6" r="1.75" fill="#e8e8e8" stroke="#3a3a3a" stroke-width="1.2"/>
<circle cx="289.3" cy="593.3" r="1.75" fill="#e8e8e8" stroke="#3a3a3a" stroke-width="1.2"/>
<circle cx="289.7" cy="598.0" r="1.75" fill="#e8e8e8" stroke="#3a3a3a" stroke-width="1.2"/>
<circle cx="290.0" cy="602.4" r="1.75" fill="#e8e8e8" stroke="#3a3a3a" stroke-width="1.2"/>
<circle cx="290.3" cy="606.4" r="1.75" fill="#e8e8e8" stroke="#3a3a3a" stroke-width="1.2"/>
<circle cx="290.6" cy="609.7" r="1.75" fill="#e8e8e8" stroke="#3a3a3a" stroke-width="1.2"/>
<circle cx="290.9" cy="612.5" r="1.75" fill="#e8e8e8" stroke="#3a3a3a" stroke-width="1.2"/>
<circle cx="291.2" cy="614.6" r="1.75" fill="#e8e8e8" stroke="#3a3a3a" stroke-width="1.2"/>
<circle cx="291.9" cy="617.4" r="1.75" fill="#e8e8e8" stroke="#3a3a3a" stroke-width="1.2"/>
<circle cx="328.2" cy="618.0" r="1.8" fill="#f4f4f4" stroke="#3a3a3a" stroke-width="1.05"/>
<circle cx="342.1" cy="620.0" r="1.8" fill="#f4f4f4" stroke="#3a3a3a" stroke-width="1.05"/>
<circle cx="342.7" cy="617.8" r="1.8" fill="#f4f4f4" stroke="#3a3a3a" stroke-width="1.05"/>
<circle cx="343.8" cy="619.8" r="1.8" fill="#f4f4f4" stroke="#3a3a3a" stroke-width="1.05"/>
<path d="M49.5,620.0L49.8,620.6L50.0,621.6L50.1,622.5L50.4,625.0L50.5,625.5L50.7,627.5L51.0,629.0L51.0,629.3L51.3,629.9L51.5,629.9L51.6,629.9L52.0,629.7L52.3,629.5L52.5,629.4L52.6,629.3L52.7,629.2L52.9,629.1L53.0,629.0L53.0,629.0L53.2,628.9L53.4,628.9L53.5,628.9L53.5,628.9L53.8,628.6L53.8,628.5L54.0,628.2L54.2,627.7L54.5,626.7L54.5,626.5L54.8,625.6L54.9,625.3L55.0,625.1L55.1,624.7L55.3,624.3L55.4,624.1L55.5,624.0L55.7,623.9L55.7,623.9L56.0,623.7L56.0,623.7L56.4,622.9L56.4,622.7L56.5,622.5L56.7,621.8L56.8,621.3L57.0,620.4L57.2,619.5L57.3,618.9L57.5,617.9L57.6,617.6L57.6,617.3L57.9,615.9L58.0,615.7L58.2,614.8L58.3,614.6L58.5,614.2L58.6,614.1L58.7,613.9L58.9,613.8L59.0,613.8L59.1,613.7L59.2,613.6L59.4,613.1L59.5,613.0L59.8,611.9L60.0,611.2L60.1,610.7L60.2,610.4L60.4,609.3L60.5,609.0L60.6,608.7L60.8,607.9L60.9,607.1L61.0,606.8L61.1,606.6L61.3,605.7L61.4,605.6L61.5,605.2L61.7,604.9L62.0,604.6L62.1,604.6L62.3,604.4L62.4,604.3L62.5,604.2L62.6,604.0L62.8,603.6L63.0,603.3L63.0,603.1L63.1,602.8L63.2,602.6L63.3,602.4L63.3,602.3L63.5,601.8L63.5,601.6L63.6,601.4L63.6,601.2L63.7,600.8L63.8,600.6L63.9,600.3L64.0,600.1L64.0,600.1L64.0,600.0L64.1,599.9L64.1,599.6L64.2,599.4L64.3,599.1L64.3,599.1L64.4,599.0L64.5,598.7L64.5,598.6L64.7,598.3L64.7,598.3L64.7,598.2L64.8,598.0L65.0,597.8L65.0,597.7L65.0,597.7L65.1,597.6L65.2,597.6L65.2,597.5L65.3,597.4L65.4,597.3L65.5,597.2L65.5,597.1L65.6,596.9L65.7,596.7L65.8,596.5L65.8,596.3L65.9,596.1L65.9,595.9L66.0,595.4L66.0,595.4L66.1,595.1L66.2,594.2L66.2,594.0L66.4,592.6L66.4,592.5L66.5,590.9L66.6,590.4L66.6,590.0L66.7,587.8L66.7,587.5L66.9,584.5L66.9,583.8L67.0,582.2L67.0,580.5L67.1,579.2L67.2,575.9L67.3,573.8L67.3,570.6L67.4,567.7L67.5,564.8L67.5,563.7L67.6,561.3L67.7,559.0L67.7,556.6L67.8,554.9L67.8,553.3L67.9,549.3L68.0,548.4L68.0,546.9L68.1,545.6L68.1,545.3L68.1,545.1L68.3,543.9L68.4,545.2L68.5,545.4L68.5,545.7L68.5,547.0L68.6,548.6L68.6,549.5L68.8,553.5L68.8,555.2L68.9,556.9L68.9,559.2L69.0,561.6L69.0,564.0L69.1,565.2L69.2,568.1L69.2,571.0L69.3,574.3L69.4,576.5L69.5,580.0L69.5,581.4L69.6,583.2L69.7,584.9L69.7,585.7L69.8,589.0L69.9,589.3L70.0,591.8L70.0,592.4L70.0,592.9L70.2,594.9L70.2,595.1L70.3,596.9L70.4,597.2L70.5,598.5L70.5,599.0L70.6,599.1L70.6,599.9L70.7,600.4L70.7,600.6L70.8,601.1L70.9,601.6L71.0,602.1L71.1,602.6L71.1,602.9L71.2,603.5L71.3,603.7L71.4,604.3L71.4,604.5L71.5,604.7L71.6,605.0L71.6,605.1L71.6,605.1L71.7,605.7L71.9,606.2L71.9,606.3L71.9,606.4L72.1,606.8L72.1,606.9L72.2,607.2L72.2,607.3L72.3,607.4L72.4,607.6L72.4,607.7L72.5,607.9L72.6,608.0L72.6,608.0L72.6,608.0L72.7,608.1L72.8,608.2L72.8,608.3L73.0,608.3L73.0,608.4L73.1,608.4L73.1,608.4L73.3,608.5L73.3,608.5L73.4,608.5L73.5,608.6L73.6,608.7L73.6,608.8L73.8,608.9L73.9,609.1L74.1,609.3L74.1,609.4L74.3,609.6L74.5,610.0L74.6,610.1L74.9,610.7L75.1,611.1L75.2,611.4L75.5,612.0L75.6,612.2L75.8,612.7L76.1,613.1L76.1,613.3L76.5,613.8L76.6,614.0L76.8,614.2L77.1,614.6L77.4,614.8L77.7,614.8L78.0,614.9L78.3,615.0L78.7,615.1L79.0,615.3L79.3,615.5L79.6,615.8L79.9,616.1L80.2,616.5L80.5,616.8L80.8,617.2L81.2,617.5L81.5,617.9L81.8,618.2L82.1,618.5L82.4,618.8L82.7,619.0L83.0,619.2L83.4,619.3L83.7,619.4L84.0,619.4L84.3,619.4L84.6,619.5L84.9,619.5L85.2,619.5L85.6,619.6L85.9,619.6L86.2,619.7L86.5,619.8L86.8,619.8L87.1,619.9L87.4,620.0L87.8,620.1L88.1,620.2L88.4,620.2L88.7,620.3L89.0,620.4L89.3,620.5L89.6,620.5L90.0,620.6L90.3,620.6L90.6,620.7L90.9,620.7L91.2,620.7L91.5,620.8L91.8,620.8L92.2,620.8L92.5,620.8L92.8,620.8L93.1,620.7L93.4,620.7L93.7,620.7L94.0,620.7L94.4,620.7L94.7,620.6L95.0,620.6L95.3,620.6L95.6,620.6L95.9,620.5L96.2,620.5L96.5,620.4L96.9,620.4L97.2,620.4L97.5,620.3L97.8,620.3L98.1,620.2L98.4,620.2L98.7,620.1L99.1,620.1L99.4,620.1L99.7,620.0L100.0,620.0L100.3,619.9L100.6,619.9L100.9,619.9L101.3,619.8L101.6,619.8L101.9,619.8L102.2,619.8L102.5,619.7L102.8,619.7L103.1,619.7L103.5,619.7L103.8,619.7L104.1,619.7L104.4,619.7L104.7,619.7L105.0,619.7L105.3,619.6L105.7,619.6L106.0,619.6L106.3,619.5L106.6,619.5L106.9,619.4L107.2,619.4L107.5,619.3L107.9,619.2L108.2,619.1L108.5,619.0L108.8,618.9L109.1,618.8L109.4,618.7L109.7,618.6L110.1,618.5L110.4,618.4L110.7,618.2L111.0,618.1L111.3,618.0L111.6,617.9L111.9,617.7L112.2,617.6L112.6,617.5L112.9,617.3L113.2,617.2L113.5,617.1L113.8,616.9L114.1,616.8L114.4,616.7L114.8,616.6L115.1,616.5L115.4,616.4L115.7,616.3L116.0,616.2L116.3,616.1L116.6,616.0L117.0,615.9L117.3,615.8L117.6,615.7L117.9,615.7L118.2,615.6L118.5,615.6L118.8,615.6L119.2,615.5L119.5,615.5L119.8,615.5L120.1,615.5L120.4,615.5L120.7,615.4L121.0,615.3L121.4,615.2L121.7,615.0L122.0,614.8L122.3,614.6L122.6,614.4L122.9,614.2L123.2,614.0L123.6,613.8L123.9,613.7L124.2,613.6L124.5,613.5L124.8,613.5L125.1,613.5L125.4,613.5L125.8,613.5L126.1,613.5L126.4,613.5L126.7,613.6L127.0,613.6L127.3,613.6L127.6,613.6L127.9,613.7L128.3,613.7L128.6,613.8L128.9,613.8L129.2,613.8L129.5,613.9L129.8,613.9L130.1,614.0L130.5,614.0L130.8,614.1L131.1,614.1L131.4,614.1L131.7,614.2L132.0,614.2L132.3,614.3L132.7,614.3L133.0,614.3L133.3,614.4L133.6,614.4L133.9,614.4L134.2,614.4L134.5,614.5L134.9,614.5L135.2,614.5L135.5,614.5L135.8,614.5L136.1,614.5L136.4,614.5L136.7,614.5L137.1,614.5L137.4,614.5L137.7,614.5L138.0,614.6L138.3,614.6L138.6,614.6L138.9,614.6L139.3,614.7L139.6,614.7L139.9,614.7L140.2,614.8L140.5,614.8L140.8,614.8L141.1,614.9L141.5,614.9L141.8,615.0L142.1,615.0L142.4,615.1L142.7,615.1L143.0,615.1L143.3,615.2L143.7,615.2L143.8,615.3L143.9,615.3L144.0,615.3L144.0,615.3L144.1,615.3L144.2,615.3L144.3,615.3L144.4,615.3L144.5,615.4L144.6,615.4L144.6,615.4L144.7,615.4L144.8,615.4L144.9,615.4L145.0,615.4L145.1,615.5L145.2,615.5L145.2,615.5L145.3,615.5L145.5,615.5L145.5,615.5L145.6,615.5L145.7,615.5L145.8,615.5L145.8,615.6L145.9,615.6L146.0,615.6L146.1,615.6L146.2,615.6L146.2,615.6L146.3,615.6L146.4,615.6L146.5,615.6L146.6,615.6L146.7,615.7L146.8,615.7L146.8,615.7L146.9,615.7L147.0,615.7L147.1,615.7L147.2,615.7L147.3,615.7L147.4,615.8L147.4,615.8L147.5,615.8L147.7,615.8L147.7,615.8L147.8,615.8L147.9,615.8L148.0,615.8L148.0,615.8L148.1,615.8L148.2,615.8L148.3,615.8L148.4,615.8L148.4,615.8L148.5,615.9L148.6,615.9L148.7,615.9L148.8,615.9L148.9,615.9L149.0,615.9L149.0,615.9L149.1,615.9L149.2,615.9L149.3,615.9L149.4,615.9L149.5,615.9L149.6,615.9L149.6,615.9L149.7,615.9L149.9,615.9L149.9,615.9L150.0,616.0L150.1,616.0L150.2,616.0L150.2,616.0L150.3,616.0L150.4,616.0L150.6,616.0L150.9,616.0L151.2,616.0L151.5,616.0L151.8,616.0L152.1,616.0L152.4,616.0L152.8,616.1L153.1,616.1L153.4,616.1L153.7,616.2L154.0,616.3L154.3,616.3L154.6,616.4L155.0,616.5L155.3,616.6L155.6,616.7L155.9,616.8L156.2,616.9L156.5,617.0L156.8,617.1L157.2,617.3L157.5,617.4L157.8,617.5L158.1,617.7L158.4,617.8L158.7,617.9L159.0,618.1L159.3,618.2L159.7,618.4L160.0,618.5L160.3,618.6L160.6,618.8L160.9,618.9L161.2,619.1L161.5,619.2L161.9,619.3L162.2,619.4L162.5,619.5L162.8,619.7L163.1,619.8L163.4,619.9L163.7,620.0L164.1,620.0L164.4,620.1L164.7,620.2L165.0,620.2L165.3,620.3L165.6,620.4L165.9,620.4L166.3,620.4L166.6,620.4L166.9,620.4L167.2,620.5L167.5,620.4L167.8,620.4L168.1,620.4L168.5,620.4L168.8,620.3L169.1,620.3L169.4,620.3L169.7,620.2L170.0,620.1L170.3,620.1L170.7,620.0L171.0,619.9L171.3,619.9L171.6,619.8L171.9,619.7L172.2,619.7L172.5,619.6L172.9,619.5L173.2,619.5L173.5,619.4L173.8,619.4L174.1,619.3L174.4,619.3L174.7,619.2L175.0,619.2L175.2,619.1L175.3,619.1L175.4,619.1L175.4,619.1L175.5,619.0L175.6,619.0L175.7,619.0L175.8,618.9L175.9,618.9L176.0,618.8L176.0,618.8L176.1,618.7L176.2,618.6L176.3,618.5L176.4,618.4L176.5,618.2L176.6,618.1L176.6,618.0L176.7,617.8L176.9,617.5L176.9,617.2L177.0,617.1L177.1,616.6L177.2,615.8L177.2,615.3L177.3,614.8L177.4,613.4L177.5,611.6L177.6,610.7L177.6,609.4L177.7,606.6L177.8,603.4L177.9,602.4L178.0,599.8L178.1,596.0L178.2,592.2L178.2,591.7L178.3,588.8L178.4,586.4L178.5,585.5L178.6,586.2L178.7,588.4L178.8,591.0L178.8,591.5L178.9,595.0L179.1,598.6L179.1,601.0L179.2,602.0L179.3,605.0L179.3,606.1L179.4,607.5L179.4,608.7L179.5,609.5L179.5,609.8L179.6,611.1L179.7,612.1L179.7,612.2L179.8,612.6L179.8,613.0L179.9,613.3L179.9,613.5L180.0,613.9L180.1,613.9L180.2,614.0L180.3,614.1L180.4,614.1L180.4,614.1L180.5,614.1L180.5,614.1L180.6,614.0L180.6,614.0L180.7,613.9L180.8,613.8L180.8,613.8L180.9,613.7L181.0,613.6L181.0,613.6L181.1,613.5L181.2,613.4L181.3,613.3L181.3,613.2L181.4,613.2L181.4,613.1L181.5,613.0L181.6,612.9L181.6,612.8L181.7,612.7L181.8,612.6L181.8,612.5L182.0,612.3L182.1,611.9L182.3,611.6L182.3,611.5L182.5,610.9L182.6,610.7L182.7,610.3L182.9,609.5L183.1,608.5L183.2,607.8L183.3,607.4L183.4,606.7L183.5,606.0L183.5,605.5L183.7,604.4L183.7,604.1L183.8,602.7L184.0,601.1L184.0,600.8L184.2,599.6L184.2,599.0L184.3,598.2L184.4,597.4L184.5,597.0L184.6,596.3L184.6,596.1L184.8,595.7L184.9,595.8L185.0,595.9L185.1,596.4L185.2,596.8L185.3,597.4L185.3,598.1L185.4,598.5L185.5,599.5L185.6,599.8L185.7,601.1L185.9,602.2L185.9,602.5L186.0,603.3L186.1,603.7L186.2,604.3L186.3,604.8L186.4,605.1L186.5,605.7L186.5,605.8L186.7,606.4L186.8,606.8L186.9,606.9L187.0,607.1L187.0,607.3L187.1,607.4L187.2,607.5L187.3,607.6L187.4,607.7L187.5,607.7L187.6,607.9L187.8,607.9L187.8,608.0L187.9,608.0L188.0,608.0L188.1,608.1L188.2,608.1L188.2,608.1L188.4,608.1L188.4,608.1L188.6,608.2L188.7,608.2L188.7,608.2L188.9,608.2L188.9,608.2L189.0,608.3L189.1,608.3L189.2,608.3L189.3,608.3L189.3,608.3L189.5,608.3L189.7,608.4L189.7,608.4L189.8,608.4L189.9,608.4L190.0,608.4L190.1,608.4L190.1,608.4L190.2,608.4L190.3,608.4L190.4,608.5L190.6,608.5L190.8,608.5L190.9,608.5L191.1,608.6L191.2,608.6L191.4,608.6L191.5,608.6L191.7,608.6L191.8,608.7L192.0,608.7L192.2,608.7L192.3,608.7L192.5,608.7L192.6,608.7L192.8,608.8L192.9,608.8L193.3,608.8L193.6,608.8L193.7,608.8L193.9,608.9L194.0,608.9L194.2,608.9L194.4,608.9L194.5,608.9L194.7,608.9L194.8,608.9L195.0,608.9L195.1,608.9L195.3,608.9L195.5,608.9L195.6,608.9L195.8,608.9L195.9,608.9L196.0,608.9L196.1,608.9L196.2,608.9L196.3,608.9L196.4,608.8L196.5,608.8L196.6,608.8L196.7,608.8L196.8,608.8L196.9,608.8L197.0,608.7L197.2,608.7L197.3,608.7L197.3,608.6L197.5,608.6L197.5,608.6L197.7,608.5L197.8,608.5L197.8,608.5L198.0,608.4L198.0,608.4L198.1,608.4L198.3,608.3L198.4,608.3L198.5,608.2L198.6,608.2L198.8,608.1L198.8,608.1L198.9,608.1L199.0,608.0L199.1,608.0L199.2,607.9L199.3,607.9L199.4,607.8L199.5,607.8L199.7,607.7L199.8,607.6L199.9,607.6L200.0,607.5L200.0,607.5L200.2,607.4L200.3,607.3L200.3,607.3L200.5,607.2L200.5,607.2L200.6,607.1L200.8,607.0L201.0,606.8L201.0,606.7L201.1,606.6L201.3,606.5L201.3,606.4L201.4,606.3L201.6,606.1L201.6,606.1L201.7,605.9L201.8,605.8L201.9,605.6L202.1,605.4L202.2,605.1L202.3,605.0L202.4,604.9L202.5,604.7L202.6,604.6L202.7,604.4L202.8,604.3L202.8,604.2L203.0,604.1L203.1,604.0L203.3,604.0L203.6,604.1L203.6,604.1L203.8,604.4L203.9,604.6L204.1,604.8L204.3,605.2L204.3,605.3L204.6,605.9L204.8,606.5L204.9,606.7L205.1,607.1L205.2,607.4L205.3,607.7L205.5,608.1L205.6,608.2L205.8,608.7L206.1,609.2L206.1,609.3L206.3,609.6L206.4,609.7L206.6,609.9L206.8,610.1L206.8,610.2L207.1,610.5L207.3,610.7L207.4,610.7L207.6,610.8L207.7,610.8L207.8,610.9L208.0,610.9L208.1,610.9L208.3,610.9L208.6,610.8L208.6,610.8L208.8,610.7L209.0,610.6L209.1,610.6L209.3,610.4L209.3,610.4L209.6,610.2L209.8,610.0L209.9,609.9L210.1,609.7L210.2,609.6L210.3,609.4L210.5,609.2L210.6,609.1L210.8,608.8L211.2,608.4L211.5,608.0L211.8,607.7L212.1,607.3L212.4,607.0L212.7,606.7L213.0,606.4L213.4,606.2L213.7,606.0L214.0,606.0L214.3,605.9L214.6,605.9L214.9,605.8L215.1,605.8L215.2,605.7L215.4,605.6L215.6,605.5L215.7,605.5L215.9,605.4L216.0,605.3L216.2,605.2L216.2,605.2L216.3,605.2L216.3,605.1L216.4,605.1L216.5,605.1L216.5,605.0L216.7,605.0L216.8,604.9L216.8,604.9L216.9,604.9L217.0,604.9L217.0,604.8L217.1,604.8L217.2,604.8L217.3,604.8L217.4,604.7L217.4,604.7L217.5,604.7L217.6,604.7L217.7,604.6L217.8,604.6L217.8,604.6L217.9,604.5L218.0,604.4L218.1,604.4L218.2,604.2L218.2,604.2L218.3,604.1L218.4,603.9L218.4,603.9L218.5,603.6L218.7,603.3L218.7,603.2L218.8,602.9L218.9,602.7L218.9,602.5L219.0,602.1L219.0,602.0L219.2,601.6L219.3,601.1L219.3,601.0L219.4,600.7L219.5,600.5L219.5,600.4L219.6,600.2L219.7,600.2L219.8,600.2L219.9,600.4L220.0,600.5L220.0,600.8L220.1,601.1L220.2,601.4L220.3,601.8L220.3,602.0L220.4,602.7L220.5,603.4L220.6,603.5L220.7,604.0L220.7,604.4L220.8,604.7L220.9,605.1L220.9,605.2L221.1,605.8L221.2,606.2L221.2,606.3L221.3,606.6L221.4,606.8L221.4,606.9L221.5,607.2L221.6,607.2L221.7,607.5L221.8,607.7L221.8,607.7L221.9,607.9L222.0,607.9L222.1,608.0L222.1,608.1L222.2,608.1L222.3,608.3L222.4,608.4L222.5,608.4L222.6,608.5L222.6,608.5L222.7,608.5L222.8,608.6L222.8,608.6L222.9,608.7L223.1,608.7L223.1,608.7L223.2,608.8L223.2,608.8L223.3,608.8L223.4,608.8L223.4,608.8L223.6,608.9L223.7,608.9L223.9,608.9L224.0,608.9L224.2,608.9L224.3,609.0L224.5,609.1L224.7,609.2L225.0,609.4L225.3,609.6L225.6,609.9L225.9,610.2L225.9,610.3L226.1,610.5L226.2,610.6L226.4,610.8L226.5,611.0L226.6,611.1L226.9,611.4L227.1,611.7L227.2,611.8L227.4,612.0L227.5,612.1L227.6,612.3L227.8,612.5L227.9,612.6L228.1,612.8L228.4,613.1L228.4,613.1L228.6,613.3L228.7,613.3L228.9,613.4L229.1,613.5L229.1,613.5L229.4,613.6L229.6,613.7L229.7,613.7L229.9,613.6L230.0,613.6L230.1,613.5L230.3,613.4L230.4,613.4L230.6,613.3L230.9,613.2L230.9,613.1L231.1,613.0L231.3,612.9L231.4,612.8L231.6,612.6L231.6,612.5L231.9,612.2L232.1,611.9L232.2,611.8L232.4,611.7L232.5,611.6L232.6,611.5L232.8,611.5L232.9,611.5L233.1,611.7L233.4,612.3L233.5,612.4L233.6,613.0L233.8,613.4L233.9,613.9L234.1,614.6L234.1,614.9L234.4,615.9L234.6,616.8L234.7,617.0L234.9,617.7L235.0,618.1L235.1,618.5L235.3,619.0L235.4,619.1L235.7,619.7L235.9,620.2L236.0,620.3L236.2,620.6L236.3,620.8L236.4,621.0L236.6,621.2L236.7,621.3L236.9,621.5L237.2,621.6L237.2,621.7L237.4,621.8L237.5,621.8L237.7,621.8L237.8,621.8L237.9,621.9L238.2,621.9L238.4,621.9L238.5,622.0L238.7,622.0L238.8,622.1L238.9,622.1L239.1,622.2L239.2,622.2L239.4,622.4L239.7,622.5L239.7,622.6L239.9,622.7L240.0,622.8L240.2,622.9L240.4,623.1L240.4,623.1L240.7,623.3L241.0,623.6L241.3,624.0L241.6,624.3L241.9,624.6L242.2,624.9L242.6,625.2L242.9,625.5L243.2,625.8L243.5,626.0L243.8,626.3L244.1,626.5L244.4,626.6L244.8,626.8L245.1,626.9L245.4,626.9L245.7,626.9L246.0,626.9L246.3,626.9L246.6,626.9L247.0,626.9L247.3,627.0L247.6,627.0L247.9,627.0L248.2,627.0L248.5,627.0L248.8,627.0L249.2,627.1L249.5,627.1L249.7,627.1L249.8,627.1L249.8,627.1L250.0,627.1L250.1,627.1L250.2,627.1L250.4,627.1L250.6,627.2L250.7,627.2L250.8,627.2L251.0,627.2L251.0,627.2L251.2,627.2L251.4,627.2L251.5,627.2L251.7,627.2L251.7,627.2L251.9,627.2L252.0,627.2L252.1,627.2L252.3,627.2L252.5,627.2L252.6,627.2L252.7,627.2L252.9,627.1L252.9,627.1L253.0,627.0L253.2,627.0L253.4,626.8L253.5,626.7L253.6,626.7L253.8,626.5L253.9,626.4L254.0,626.2L254.2,625.9L254.4,625.7L254.5,625.5L254.6,625.4L254.7,625.1L254.8,625.0L254.9,624.9L255.1,624.9L255.3,624.9L255.4,625.0L255.5,625.1L255.7,625.3L255.7,625.4L255.9,625.6L256.1,625.8L256.3,626.1L256.4,626.2L256.4,626.3L256.6,626.4L256.7,626.5L256.8,626.5L257.0,626.6L257.2,626.6L257.3,626.6L257.4,626.6L257.6,626.6L257.6,626.6L257.8,626.6L257.8,626.5L257.9,626.5L258.0,626.5L258.1,626.4L258.3,626.4L258.3,626.4L258.3,626.3L258.5,626.3L258.5,626.3L258.6,626.2L258.7,626.2L258.7,626.2L258.8,626.1L258.9,626.1L259.0,626.0L259.1,626.0L259.2,625.9L259.2,625.9L259.3,625.9L259.3,625.9L259.3,625.9L259.5,625.8L259.5,625.8L259.6,625.7L259.6,625.7L259.7,625.7L259.7,625.7L259.8,625.6L259.9,625.6L260.0,625.5L260.0,625.4L260.0,625.4L260.1,625.4L260.1,625.3L260.2,625.3L260.3,625.1L260.4,625.1L260.4,625.1L260.5,625.0L260.6,624.8L260.6,624.8L260.7,624.5L260.7,624.5L260.8,624.4L260.8,624.2L260.9,624.0L261.0,623.8L261.1,623.3L261.1,623.3L261.2,622.6L261.2,622.4L261.3,621.8L261.4,621.4L261.4,621.3L261.5,620.9L261.6,619.8L261.7,618.5L261.8,618.0L261.8,617.0L261.9,615.8L262.0,615.4L262.0,614.5L262.1,613.6L262.1,613.4L262.2,611.8L262.3,610.8L262.3,609.9L262.5,608.3L262.5,608.1L262.6,606.4L262.6,606.0L262.7,605.7L262.7,605.0L262.8,604.4L262.8,604.2L263.0,603.8L263.1,604.1L263.1,604.4L263.2,605.0L263.3,605.6L263.3,605.9L263.3,606.3L263.5,607.9L263.5,608.2L263.6,609.7L263.7,610.7L263.7,611.6L263.8,613.2L263.8,613.4L263.9,614.3L264.0,615.1L264.0,615.6L264.1,616.7L264.2,617.7L264.2,618.2L264.4,619.5L264.5,620.6L264.5,620.9L264.5,621.0L264.6,621.5L264.7,622.1L264.7,622.2L264.9,622.9L264.9,622.9L265.0,623.3L265.0,623.5L265.1,623.7L265.2,623.9L265.2,624.0L265.2,624.0L265.4,624.2L265.4,624.3L265.5,624.4L265.6,624.4L265.6,624.5L265.7,624.6L265.8,624.6L265.9,624.6L265.9,624.6L266.0,624.7L266.1,624.7L266.1,624.7L266.2,624.7L266.3,624.7L266.4,624.7L266.4,624.7L266.5,624.7L266.6,624.8L266.6,624.8L266.7,624.8L266.8,624.8L266.9,624.8L267.1,624.8L267.1,624.8L267.3,624.8L267.4,624.8L267.5,624.8L267.6,624.8L267.7,624.7L267.8,624.7L268.0,624.7L268.0,624.7L268.2,624.7L268.3,624.7L268.6,624.7L268.9,624.7L269.2,624.7L269.6,624.8L269.9,624.7L270.2,624.7L270.5,624.7L270.8,624.6L271.1,624.6L271.4,624.5L271.8,624.4L272.1,624.4L272.2,624.3L272.3,624.3L272.4,624.3L272.5,624.2L272.6,624.2L272.7,624.2L272.7,624.2L272.8,624.1L272.9,624.1L273.0,624.1L273.0,624.1L273.1,624.0L273.2,624.0L273.3,624.0L273.4,623.9L273.6,623.9L273.6,623.9L273.7,623.9L273.8,623.8L273.9,623.8L274.0,623.8L274.0,623.8L274.1,623.7L274.2,623.7L274.3,623.7L274.3,623.7L274.4,623.6L274.5,623.6L274.6,623.6L274.7,623.6L274.8,623.6L274.9,623.5L274.9,623.5L275.0,623.5L275.1,623.5L275.2,623.5L275.2,623.4L275.3,623.4L275.4,623.4L275.5,623.4L275.6,623.4L275.7,623.3L275.8,623.3L275.9,623.3L276.0,623.3L276.1,623.3L276.2,623.3L276.2,623.3L276.3,623.2L276.4,623.2L276.5,623.2L276.5,623.2L276.6,623.2L276.7,623.2L276.8,623.2L276.8,623.2L277.0,623.2L277.1,623.2L277.1,623.2L277.2,623.2L277.3,623.2L277.4,623.2L277.4,623.2L277.5,623.1L277.6,623.1L277.7,623.1L277.8,623.1L277.9,623.1L278.0,623.1L278.1,623.1L278.2,623.0L278.3,623.0L278.4,623.0L278.4,623.0L278.5,623.0L278.6,623.0L278.7,622.9L278.7,622.9L278.8,622.9L279.0,622.9L279.3,622.8L279.6,622.6L279.9,622.5L280.2,622.4L280.6,622.3L280.9,622.1L281.2,622.0L281.5,621.8L281.8,621.6L282.1,621.5L282.4,621.3L282.8,621.0L283.1,620.7L283.4,620.4L283.7,619.9L284.0,619.3L284.3,618.4L284.6,617.2L284.9,615.5L285.3,613.3L285.6,610.5L285.9,607.1L286.2,603.1L286.5,598.5L286.8,593.7L287.1,589.0L287.5,584.8L287.8,581.8L288.1,580.6L288.4,581.7L288.7,584.5L289.0,588.6L289.3,593.3L289.7,598.0L290.0,602.4L290.3,606.4L290.6,609.7L290.9,612.5L291.2,614.6L291.5,616.2L291.9,617.4L292.2,618.2L292.5,618.8L292.8,619.3L293.1,619.6L293.4,619.8L293.7,620.0L294.1,620.2L294.4,620.4L294.7,620.6L295.0,620.8L295.3,621.0L295.6,621.2L295.9,621.5L296.3,621.7L296.6,621.9L296.9,622.1L297.2,622.3L297.5,622.6L297.8,622.8L298.1,622.9L298.5,623.1L298.8,623.3L299.1,623.4L299.4,623.5L299.7,623.6L300.0,623.7L300.3,623.7L300.7,623.7L301.0,623.8L301.2,623.7L301.3,623.7L301.5,623.7L301.6,623.7L301.7,623.7L301.9,623.7L302.0,623.7L302.2,623.7L302.5,623.7L302.5,623.7L302.7,623.6L302.8,623.6L303.0,623.6L303.2,623.6L303.2,623.6L303.5,623.5L303.7,623.5L303.8,623.4L304.0,623.4L304.1,623.4L304.2,623.4L304.4,623.3L304.5,623.3L304.7,623.2L305.0,623.2L305.0,623.2L305.2,623.1L305.4,623.1L305.5,623.0L305.7,622.9L305.7,622.9L306.0,622.8L306.2,622.6L306.3,622.6L306.5,622.5L306.6,622.4L306.7,622.3L306.9,622.1L307.0,622.0L307.2,621.8L307.5,621.6L307.6,621.5L307.7,621.3L307.9,621.2L308.0,621.1L308.2,621.0L308.2,620.9L308.5,620.9L308.8,620.9L308.8,621.0L309.0,621.1L309.1,621.1L309.3,621.2L309.4,621.4L309.5,621.4L309.8,621.6L310.0,621.7L310.1,621.7L310.3,621.8L310.4,621.9L310.5,621.9L310.7,621.9L310.8,621.9L311.0,621.9L311.3,621.8L311.3,621.8L311.5,621.8L311.6,621.7L311.8,621.6L312.0,621.6L312.0,621.5L312.2,621.4L312.3,621.4L312.5,621.3L312.5,621.3L312.6,621.2L312.7,621.2L312.8,621.1L312.9,621.0L313.0,621.0L313.0,621.0L313.2,620.9L313.3,620.8L313.5,620.7L313.5,620.7L313.7,620.6L313.8,620.6L313.8,620.5L314.0,620.5L314.0,620.4L314.2,620.4L314.2,620.3L314.3,620.3L314.5,620.2L314.5,620.2L314.7,620.1L314.8,620.1L315.0,620.0L315.0,620.0L315.1,620.0L315.2,619.9L315.3,619.9L315.4,619.9L315.5,619.9L315.5,619.9L315.7,619.8L315.8,619.8L316.0,619.7L316.0,619.7L316.2,619.7L316.4,619.6L316.5,619.6L316.7,619.5L316.7,619.5L317.0,619.3L317.2,619.1L317.3,619.0L317.5,618.8L317.6,618.7L317.7,618.5L317.9,618.2L318.0,618.1L318.2,617.7L318.5,617.3L318.5,617.2L318.7,616.8L318.9,616.6L319.0,616.5L319.2,616.2L319.2,616.2L319.5,616.1L319.7,616.2L319.8,616.3L320.0,616.6L320.1,616.8L320.2,617.0L320.4,617.3L320.5,617.5L320.7,618.0L321.0,618.4L321.1,618.5L321.2,618.8L321.4,619.0L321.5,619.2L321.6,619.3L321.7,619.4L321.8,619.5L321.9,619.6L322.0,619.7L322.1,619.8L322.3,619.9L322.3,619.9L322.4,620.0L322.5,620.0L322.6,620.1L322.8,620.1L322.9,620.2L322.9,620.2L323.0,620.2L323.1,620.2L323.3,620.2L323.4,620.3L323.5,620.3L323.6,620.3L323.6,620.3L323.8,620.3L323.9,620.3L324.0,620.3L324.1,620.3L324.2,620.3L324.3,620.3L324.4,620.3L324.5,620.3L324.6,620.3L324.8,620.3L324.8,620.3L324.9,620.3L325.0,620.3L325.1,620.3L325.3,620.4L325.4,620.4L325.5,620.4L325.5,620.4L325.6,620.4L325.8,620.4L325.9,620.3L326.0,620.3L326.1,620.3L326.1,620.3L326.3,620.3L326.4,620.3L326.5,620.3L326.6,620.2L326.7,620.2L326.8,620.2L326.9,620.1L327.0,620.1L327.2,620.0L327.3,619.9L327.3,619.9L327.4,619.9L327.5,619.8L327.7,619.7L327.8,619.6L327.9,619.5L328.0,619.5L328.0,619.4L328.2,619.3L328.3,619.3L328.4,619.2L328.5,619.1L328.6,619.1L328.7,619.1L328.8,619.1L328.9,619.1L329.0,619.1L329.2,619.2L329.2,619.2L329.3,619.3L329.4,619.4L329.5,619.5L329.7,619.6L329.8,619.8L329.9,619.8L329.9,619.9L330.0,620.0L330.2,620.2L330.3,620.3L330.4,620.4L330.5,620.5L330.5,620.5L330.7,620.7L330.8,620.8L330.9,620.8L331.0,620.9L331.1,621.0L331.2,621.0L331.3,621.1L331.4,621.1L331.5,621.2L331.7,621.2L331.7,621.2L331.8,621.2L331.9,621.3L332.1,621.3L332.2,621.3L332.3,621.3L332.4,621.3L332.4,621.4L332.6,621.4L332.7,621.4L332.9,621.4L333.0,621.4L333.2,621.4L333.3,621.5L333.4,621.5L333.6,621.5L333.7,621.5L333.9,621.5L334.2,621.6L334.2,621.6L334.4,621.6L334.6,621.7L334.7,621.7L334.9,621.7L334.9,621.7L335.2,621.8L335.4,621.8L335.5,621.8L335.7,621.9L335.8,621.9L335.8,621.9L335.9,621.9L336.0,621.9L336.1,622.0L336.2,622.0L336.3,622.0L336.4,622.0L336.5,622.0L336.8,622.1L337.0,622.1L337.1,622.1L337.3,622.2L337.4,622.2L337.5,622.2L337.7,622.2L337.8,622.3L338.0,622.3L338.3,622.3L338.3,622.3L338.5,622.3L338.6,622.3L338.8,622.4L339.0,622.4L339.0,622.4L339.3,622.4L339.4,622.4L339.5,622.4L339.6,622.4L339.6,622.3L339.8,622.3L339.9,622.3L340.0,622.3L340.2,622.3L340.2,622.3L340.3,622.2L340.4,622.2L340.5,622.2L340.7,622.1L340.8,622.1L340.8,622.1L340.9,622.0L341.0,622.0L341.2,621.9L341.3,621.9L341.4,621.8L341.5,621.7L341.5,621.7L341.7,621.6L341.8,621.5L341.9,621.4L342.0,621.4L342.1,621.3L342.2,621.3L342.3,621.2L342.4,621.1L342.5,621.1L342.7,621.0L342.7,621.0L342.8,621.0L342.9,621.0L343.0,621.0L343.2,621.0L343.3,621.1L343.4,621.2L343.4,621.2L343.5,621.3L343.7,621.5L343.8,621.6L343.9,621.8L344.0,621.8L344.0,621.9L344.2,622.1L344.3,622.2L344.4,622.4L344.5,622.5L344.6,622.6L344.7,622.7L344.8,622.8L344.9,622.9L345.0,623.0L345.2,623.1L345.2,623.2L345.3,623.2L345.4,623.3L345.6,623.4L345.7,623.5L345.8,623.5L345.9,623.6L345.9,623.6L346.1,623.6L346.2,623.7L346.3,623.7L346.4,623.8L346.5,623.8L346.6,623.8L346.7,623.8L346.8,623.8L347.1,623.9L347.1,623.9L347.3,623.9L347.4,623.9L347.6,623.9L347.8,623.9L347.8,623.9L348.1,624.0L348.3,624.0L348.4,624.0L348.6,624.0L348.7,624.1L348.8,624.1L349.0,624.2L349.1,624.2L349.3,624.3L349.6,624.4L349.6,624.4L349.8,624.5L349.9,624.6L350.1,624.7L350.3,624.8L350.3,624.8L350.6,625.0L350.9,625.2L351.2,625.4L351.5,625.6L351.8,625.8L352.1,626.0L352.5,626.3L352.8,626.5L353.1,626.7L353.4,626.8L353.7,627.0L354.0,627.1L354.3,627.3L354.7,627.4L355.0,627.4L355.3,627.5L355.6,627.5" fill="none" stroke="#e94b4c" stroke-width="1.5" stroke-linejoin="round"/>
<path d="M49.5,654.2L49.8,651.3L50.1,648.9L50.4,645.2L50.7,643.9L51.0,646.2L51.3,650.9L51.6,656.8L52.0,661.7L52.3,663.3L52.6,661.8L52.9,659.5L53.2,657.4L53.5,655.4L53.8,654.0L54.2,653.7L54.5,654.2L54.8,652.5L55.1,652.3L55.4,651.5L55.7,650.5L56.0,650.2L56.4,649.3L56.7,650.5L57.0,651.2L57.3,652.7L57.6,653.5L57.9,654.2L58.2,654.1L58.6,654.9L58.9,654.5L59.2,654.4L59.5,654.2L59.8,654.3L60.1,654.2L60.4,654.1L60.8,652.2L61.1,649.6L61.4,647.3L61.7,649.0L62.0,650.7L62.3,653.6L62.6,653.9L63.0,654.0L63.3,654.2L63.6,654.3L63.9,652.2L64.2,649.2L64.5,648.1L64.8,648.1L65.2,650.8L65.5,652.9L65.8,653.7L66.1,654.0L66.4,655.0L66.7,654.2L67.0,654.5L67.3,655.0L67.7,652.7L68.0,649.7L68.3,647.5L68.6,652.4L68.9,660.8L69.2,663.9L69.5,659.4L69.9,655.4L70.2,654.8L70.5,654.1L70.8,655.0L71.1,654.7L71.4,654.4L71.7,654.5L72.1,653.3L72.4,652.1L72.7,652.5L73.0,653.5L73.3,654.8L73.6,656.3L73.9,657.1L74.3,655.7L74.6,654.9L74.9,654.9L75.2,654.9L75.5,654.5L75.8,653.5L76.1,654.1L76.5,654.3L76.8,654.2L77.1,654.3L77.4,654.6L77.7,654.8L78.0,655.1L78.3,654.9L78.7,654.6L79.0,654.1L79.3,654.6L79.6,654.1L79.9,654.4L80.2,655.1L80.5,654.3L80.8,655.4L81.2,654.1L81.5,655.0L81.8,654.0L82.1,654.5L82.4,654.2L82.7,654.1L83.0,654.4L83.4,654.1L83.7,654.2L84.0,654.5L84.3,654.9L84.6,654.1L84.9,654.1L85.2,654.8L85.6,655.6L85.9,654.9L86.2,654.6L86.5,654.5L86.8,654.3L87.1,654.6L87.4,655.0L87.8,655.0L88.1,654.3L88.4,654.3L88.7,654.8L89.0,654.7L89.3,654.1L89.6,655.2L90.0,654.5L90.3,654.1L90.6,655.2L90.9,654.2L91.2,654.3L91.5,654.8L91.8,654.6L92.2,654.6L92.5,654.9L92.8,654.6L93.1,654.3L93.4,654.6L93.7,654.5L94.0,654.9L94.4,654.2L94.7,654.0L95.0,655.1L95.3,654.6L95.6,654.5L95.9,655.1L96.2,654.6L96.5,654.4L96.9,654.8L97.2,655.0L97.5,654.7L97.8,654.8L98.1,654.6L98.4,654.9L98.7,654.8L99.1,654.0L99.4,654.9L99.7,655.1L100.0,654.1L100.3,654.9L100.6,654.9L100.9,654.2L101.3,654.2L101.6,654.5L101.9,654.7L102.2,654.2L102.5,654.0L102.8,655.0L103.1,654.9L103.5,654.8L103.8,654.3L104.1,654.0L104.4,654.9L104.7,654.9L105.0,654.5L105.3,654.9L105.7,654.2L106.0,654.5L106.3,654.6L106.6,655.2L106.9,654.6L107.2,654.5L107.5,654.4L107.9,654.6L108.2,655.1L108.5,655.0L108.8,654.8L109.1,654.8L109.4,655.0L109.7,654.8L110.1,654.6L110.4,655.0L110.7,654.4L111.0,654.5L111.3,654.3L111.6,654.1L111.9,654.5L112.2,654.4L112.6,654.5L112.9,654.5L113.2,655.1L113.5,654.5L113.8,655.1L114.1,654.1L114.4,654.2L114.8,654.4L115.1,655.0L115.4,655.0L115.7,654.5L116.0,654.4L116.3,655.1L116.6,654.8L117.0,654.9L117.3,655.0L117.6,654.9L117.9,654.3L118.2,654.8L118.5,654.5L118.8,655.1L119.2,654.6L119.5,654.2L119.8,653.4L120.1,654.4L120.4,655.1L120.7,654.5L121.0,654.3L121.4,654.5L121.7,654.8L122.0,654.4L122.3,654.1L122.6,654.2L122.9,654.5L123.2,654.4L123.6,654.3L123.9,654.4L124.2,654.9L124.5,654.2L124.8,654.5L125.1,654.2L125.4,655.0L125.8,654.9L126.1,654.5L126.4,654.5L126.7,654.7L127.0,655.0L127.3,654.7L127.6,655.2L127.9,655.0L128.3,654.5L128.6,654.1L128.9,655.2L129.2,655.1L129.5,655.1L129.8,654.4L130.1,654.0L130.5,654.4L130.8,654.2L131.1,654.1L131.4,654.8L131.7,655.1L132.0,654.6L132.3,654.2L132.7,654.1L133.0,655.1L133.3,654.6L133.6,655.1L133.9,654.6L134.2,654.1L134.5,654.3L134.9,654.3L135.2,654.7L135.5,655.1L135.8,654.6L136.1,654.2L136.4,655.0L136.7,654.3L137.1,654.4L137.4,654.5L137.7,655.0L138.0,654.7L138.3,654.3L138.6,655.2L138.9,654.8L139.3,655.0L139.6,654.2L139.9,654.7L140.2,654.8L140.5,654.8L140.8,654.1L141.1,655.0L141.5,653.2L141.8,654.1L142.1,654.7L142.4,655.1L142.7,655.1L143.0,654.4L143.3,655.0L143.7,654.3L144.0,654.7L144.3,654.5L144.6,654.5L144.9,654.1L145.2,654.3L145.5,654.3L145.8,654.6L146.2,654.2L146.5,646.1L146.8,631.0L147.1,642.9L147.4,653.4L147.7,654.3L148.0,654.6L148.4,654.6L148.7,654.4L149.0,654.7L149.3,654.3L149.6,654.8L149.9,654.8L150.2,654.2L150.6,656.2L150.9,654.2L151.2,654.4L151.5,654.9L151.8,654.5L152.1,655.4L152.4,654.2L152.8,654.7L153.1,654.1L153.4,655.1L153.7,654.6L154.0,655.1L154.3,654.4L154.6,655.1L155.0,654.8L155.3,654.7L155.6,654.6L155.9,654.3L156.2,654.8L156.5,654.7L156.8,654.5L157.2,654.5L157.5,654.5L157.8,654.3L158.1,655.0L158.4,655.1L158.7,654.1L159.0,654.5L159.3,654.1L159.7,654.6L160.0,654.7L160.3,654.9L160.6,654.0L160.9,654.2L161.2,654.4L161.5,654.7L161.9,655.1L162.2,654.7L162.5,654.8L162.8,654.2L163.1,654.8L163.4,655.1L163.7,654.4L164.1,654.7L164.4,654.9L164.7,655.1L165.0,655.0L165.3,654.6L165.6,654.0L165.9,655.9L166.3,655.2L166.6,655.0L166.9,654.6L167.2,654.5L167.5,654.9L167.8,654.1L168.1,655.2L168.5,654.8L168.8,655.1L169.1,654.3L169.4,655.1L169.7,655.1L170.0,654.7L170.3,654.3L170.7,654.0L171.0,654.6L171.3,654.8L171.6,654.6L171.9,654.5L172.2,654.2L172.5,654.6L172.9,655.2L173.2,654.6L173.5,654.5L173.8,655.0L174.1,654.2L174.4,654.2L174.7,654.0L175.0,655.2L175.4,654.7L175.7,654.5L176.0,654.5L176.3,654.3L176.6,655.1L176.9,653.8L177.2,655.0L177.6,654.3L177.9,648.7L178.2,637.1L178.5,647.8L178.8,661.2L179.1,660.1L179.4,655.9L179.8,654.5L180.1,655.1L180.4,654.8L180.7,654.1L181.0,654.7L181.3,655.2L181.6,654.5L182.0,654.9L182.3,654.4L182.6,654.4L182.9,654.8L183.2,654.5L183.5,655.1L183.8,653.1L184.2,650.7L184.5,653.4L184.8,657.6L185.1,656.9L185.4,654.3L185.7,654.1L186.0,654.4L186.4,654.9L186.7,655.0L187.0,654.1L187.3,654.5L187.6,654.5L187.9,654.0L188.2,654.9L188.6,654.4L188.9,655.1L189.2,655.1L189.5,654.7L189.8,654.7L190.1,654.4L190.4,654.7L190.8,654.6L191.1,654.6L191.4,654.2L191.7,654.2L192.0,651.3L192.3,653.4L192.6,654.6L192.9,655.0L193.3,654.6L193.6,654.5L193.9,654.4L194.2,654.2L194.5,655.1L194.8,654.7L195.1,654.2L195.5,652.8L195.8,654.9L196.1,654.2L196.4,656.9L196.7,654.4L197.0,654.6L197.3,655.1L197.7,654.9L198.0,653.9L198.3,652.1L198.6,653.6L198.9,654.9L199.2,655.0L199.5,654.0L199.9,654.3L200.2,654.2L200.5,654.6L200.8,654.0L201.1,654.9L201.4,654.3L201.7,654.8L202.1,654.7L202.4,653.8L202.7,652.6L203.0,652.2L203.3,654.0L203.6,656.4L203.9,656.7L204.3,656.1L204.6,654.4L204.9,654.7L205.2,654.9L205.5,654.9L205.8,654.9L206.1,654.8L206.4,654.4L206.8,654.8L207.1,654.1L207.4,655.1L207.7,655.0L208.0,654.4L208.3,655.1L208.6,654.1L209.0,654.7L209.3,654.3L209.6,654.1L209.9,654.5L210.2,654.7L210.5,653.4L210.8,651.8L211.2,652.8L211.5,654.7L211.8,654.8L212.1,654.5L212.4,654.3L212.7,654.6L213.0,654.1L213.4,654.9L213.7,654.8L214.0,654.9L214.3,654.4L214.6,654.3L214.9,654.5L215.2,654.3L215.6,654.5L215.9,654.9L216.2,654.7L216.5,654.3L216.8,655.2L217.1,655.0L217.4,654.2L217.8,654.4L218.1,654.0L218.4,654.8L218.7,655.3L219.0,652.3L219.3,649.4L219.6,650.8L220.0,655.2L220.3,659.6L220.6,658.4L220.9,656.2L221.2,655.3L221.5,655.0L221.8,654.7L222.1,654.7L222.5,656.2L222.8,655.1L223.1,654.1L223.4,654.6L223.7,654.8L224.0,654.3L224.3,654.9L224.7,654.5L225.0,655.1L225.3,655.1L225.6,654.1L225.9,654.2L226.2,654.9L226.5,654.3L226.9,654.1L227.2,655.1L227.5,654.4L227.8,654.9L228.1,655.1L228.4,654.7L228.7,654.6L229.1,654.3L229.4,654.0L229.7,654.5L230.0,654.1L230.3,654.2L230.6,654.4L230.9,654.8L231.3,654.2L231.6,654.4L231.9,654.5L232.2,654.7L232.5,652.9L232.8,652.4L233.1,654.2L233.5,656.1L233.8,656.7L234.1,655.9L234.4,655.2L234.7,654.0L235.0,655.2L235.3,654.9L235.7,655.1L236.0,654.7L236.3,652.7L236.6,654.9L236.9,654.9L237.2,652.8L237.5,654.0L237.8,655.1L238.2,654.1L238.5,654.8L238.8,654.5L239.1,655.1L239.4,654.9L239.7,654.0L240.0,654.2L240.4,653.6L240.7,652.8L241.0,656.4L241.3,654.6L241.6,654.3L241.9,655.1L242.2,654.2L242.6,654.3L242.9,654.6L243.2,654.3L243.5,654.1L243.8,654.7L244.1,654.4L244.4,655.2L244.8,654.1L245.1,654.1L245.4,654.8L245.7,654.4L246.0,654.7L246.3,654.5L246.6,654.1L247.0,654.8L247.3,654.7L247.6,654.6L247.9,654.6L248.2,654.2L248.5,654.8L248.8,654.2L249.2,654.4L249.5,654.7L249.8,656.5L250.1,654.1L250.4,654.4L250.7,655.1L251.0,654.2L251.4,654.0L251.7,654.1L252.0,654.7L252.3,655.1L252.6,654.8L252.9,654.1L253.2,652.0L253.5,653.4L253.9,654.5L254.2,654.9L254.5,654.9L254.8,654.9L255.1,652.3L255.4,654.1L255.7,655.2L256.1,654.8L256.4,655.0L256.7,655.0L257.0,654.1L257.3,654.3L257.6,655.0L257.9,654.2L258.3,655.0L258.6,655.2L258.9,654.7L259.2,654.5L259.5,654.3L259.8,654.5L260.1,654.8L260.5,655.0L260.8,654.5L261.1,654.8L261.4,655.0L261.7,654.4L262.0,654.2L262.3,651.9L262.7,650.6L263.0,653.0L263.3,656.9L263.6,657.8L263.9,656.5L264.2,655.1L264.5,654.9L264.9,654.8L265.2,654.5L265.5,654.8L265.8,654.8L266.1,654.2L266.4,655.1L266.7,654.9L267.1,654.6L267.4,654.1L267.7,654.7L268.0,654.1L268.3,654.0L268.6,654.3L268.9,655.1L269.2,654.6L269.6,654.6L269.9,654.7L270.2,654.6L270.5,654.6L270.8,654.1L271.1,655.0L271.4,654.2L271.8,654.2L272.1,654.1L272.4,654.4L272.7,654.7L273.0,654.8L273.3,655.2L273.6,654.8L274.0,654.3L274.3,655.1L274.6,654.0L274.9,652.5L275.2,649.3L275.5,652.5L275.8,654.5L276.2,654.7L276.5,654.4L276.8,654.3L277.1,655.0L277.4,654.9L277.7,654.6L278.0,656.1L278.4,654.9L278.7,655.1L279.0,654.5L279.3,655.0L279.6,654.9L279.9,652.6L280.2,654.8L280.6,655.1L280.9,655.1L281.2,655.1L281.5,654.1L281.8,654.4L282.1,655.0L282.4,654.6L282.8,654.9L283.1,654.7L283.4,654.7L283.7,654.5L284.0,654.5L284.3,654.6L284.6,654.5L284.9,654.8L285.3,654.5L285.6,655.0L285.9,655.1L286.2,654.0L286.5,654.6L286.8,654.7L287.1,655.2L287.5,653.1L287.8,652.5L288.1,653.9L288.4,655.1L288.7,656.9L289.0,656.1L289.3,655.1L289.7,652.6L290.0,655.0L290.3,654.9L290.6,655.1L290.9,654.0L291.2,654.5L291.5,654.4L291.9,655.2L292.2,654.8L292.5,654.5L292.8,654.5L293.1,654.6L293.4,654.4L293.7,654.3L294.1,652.5L294.4,654.1L294.7,654.2L295.0,655.0L295.3,654.5L295.6,654.3L295.9,654.3L296.3,654.8L296.6,654.1L296.9,655.2L297.2,655.0L297.5,654.2L297.8,654.1L298.1,654.6L298.5,654.9L298.8,654.3L299.1,654.6L299.4,654.8L299.7,654.4L300.0,654.2L300.3,654.6L300.7,655.1L301.0,654.6L301.3,654.2L301.6,654.8L301.9,656.2L302.2,654.8L302.5,654.6L302.8,655.2L303.2,654.5L303.5,655.0L303.8,654.9L304.1,654.7L304.4,654.9L304.7,654.9L305.0,654.6L305.4,654.5L305.7,654.4L306.0,654.7L306.3,654.4L306.6,652.7L306.9,654.2L307.2,656.3L307.6,655.4L307.9,654.4L308.2,654.8L308.5,654.4L308.8,654.1L309.1,654.1L309.4,653.2L309.8,651.5L310.1,653.5L310.4,654.1L310.7,654.7L311.0,654.9L311.3,654.8L311.6,654.3L312.0,654.9L312.3,654.7L312.6,654.0L312.9,654.4L313.2,655.0L313.5,654.4L313.8,653.6L314.2,651.8L314.5,651.9L314.8,654.1L315.1,656.3L315.4,656.1L315.7,655.8L316.0,654.2L316.4,654.6L316.7,654.9L317.0,654.0L317.3,653.8L317.6,651.8L317.9,653.8L318.2,656.7L318.5,656.1L318.9,655.1L319.2,654.6L319.5,654.5L319.8,655.1L320.1,654.2L320.4,654.3L320.7,654.1L321.1,654.5L321.4,654.2L321.7,654.5L322.0,654.2L322.3,654.4L322.6,654.1L322.9,654.8L323.3,654.0L323.6,654.1L323.9,654.9L324.2,655.5L324.5,654.3L324.8,655.2L325.1,654.8L325.5,654.6L325.8,654.8L326.1,654.0L326.4,654.3L326.7,654.6L327.0,654.9L327.3,654.5L327.7,654.6L328.0,654.9L328.3,653.4L328.6,650.2L328.9,653.0L329.2,654.4L329.5,654.4L329.9,654.4L330.2,655.0L330.5,655.6L330.8,654.5L331.1,654.1L331.4,654.2L331.7,654.4L332.1,654.4L332.4,654.2L332.7,654.1L333.0,654.7L333.3,654.0L333.6,654.3L333.9,654.0L334.2,654.1L334.6,654.6L334.9,655.1L335.2,654.9L335.5,654.9L335.8,654.9L336.1,655.1L336.4,654.1L336.8,654.4L337.1,654.2L337.4,654.6L337.7,654.8L338.0,654.4L338.3,654.6L338.6,654.7L339.0,654.7L339.3,654.3L339.6,654.4L339.9,654.5L340.2,654.1L340.5,655.0L340.8,655.1L341.2,654.6L341.5,654.3L341.8,654.9L342.1,654.9L342.4,652.9L342.7,651.2L343.0,652.4L343.4,654.9L343.7,654.8L344.0,654.0L344.3,654.0L344.6,656.2L344.9,654.7L345.2,655.2L345.6,654.9L345.9,654.6L346.2,654.9L346.5,655.0L346.8,654.6L347.1,654.3L347.4,654.6L347.8,654.2L348.1,654.3L348.4,655.1L348.7,654.6L349.0,654.6L349.3,655.0L349.6,654.8L349.9,654.3L350.3,654.5L350.6,654.6L350.9,654.9L351.2,654.8L351.5,655.1L351.8,654.5L352.1,654.4L352.5,654.4L352.8,654.7L353.1,654.4L353.4,655.2L353.7,654.9L354.0,654.7L354.3,654.2L354.7,654.8L355.0,654.5L355.3,654.1L355.6,655.2" fill="none" stroke="#4ea1ec" stroke-width="1.2" stroke-linejoin="round"/>
<path d="M41.60,513.40 L355.60,513.40 L355.60,662.50 L41.60,662.50 Z" fill="none" stroke="#3a3a3a" stroke-width="1.3"/>
<line x1="41.60" y1="662.50" x2="41.60" y2="667.00" stroke="#3a3a3a" stroke-width="1.3"/>
<text x="41.60" y="682.80" font-size="11.80" fill="#231f20" text-anchor="middle" font-weight="normal"  textLength="6.60" lengthAdjust="spacingAndGlyphs">0</text>
<line x1="120.10" y1="662.50" x2="120.10" y2="667.00" stroke="#3a3a3a" stroke-width="1.3"/>
<text x="120.10" y="682.80" font-size="11.80" fill="#231f20" text-anchor="middle" font-weight="normal"  textLength="6.60" lengthAdjust="spacingAndGlyphs">5</text>
<line x1="198.60" y1="662.50" x2="198.60" y2="667.00" stroke="#3a3a3a" stroke-width="1.3"/>
<text x="198.60" y="682.80" font-size="11.80" fill="#231f20" text-anchor="middle" font-weight="normal"  textLength="13.20" lengthAdjust="spacingAndGlyphs">10</text>
<line x1="277.10" y1="662.50" x2="277.10" y2="667.00" stroke="#3a3a3a" stroke-width="1.3"/>
<text x="277.10" y="682.80" font-size="11.80" fill="#231f20" text-anchor="middle" font-weight="normal"  textLength="13.20" lengthAdjust="spacingAndGlyphs">15</text>
<line x1="355.60" y1="662.50" x2="355.60" y2="667.00" stroke="#3a3a3a" stroke-width="1.3"/>
<text x="355.60" y="682.80" font-size="11.80" fill="#231f20" text-anchor="middle" font-weight="normal"  textLength="13.20" lengthAdjust="spacingAndGlyphs">20</text>
<text transform="translate(32.6,587.8) rotate(-90)" font-size="12.8" fill="#231f20" text-anchor="middle" textLength="88" lengthAdjust="spacingAndGlyphs">Intensity (a.u.)</text>
<text transform="translate(84.4,547.8) rotate(-90)" font-size="12.5" fill="#231f20" text-anchor="middle" textLength="41.5" lengthAdjust="spacingAndGlyphs">(0002)</text>
<text x="198.5" y="702.8" font-size="12.8" fill="#231f20" text-anchor="middle" textLength="51.5" lengthAdjust="spacingAndGlyphs">2<tspan font-style="italic">θ</tspan> (deg)</text>
<text x="113.5" y="571" font-size="12.5" fill="#231f20">TiC<tspan font-size="9" font-style="italic" dy="3">x</tspan></text>
<line x1="142.90" y1="589.30" x2="132.23" y2="579.42" stroke="#4a5868" stroke-width="1.10"/>
<polygon points="129.30,576.70 134.73,578.19 131.20,582.01" fill="#4a5868"/>
<circle cx="227.7" cy="526.6" r="2" fill="#fff" stroke="#3b3b3b" stroke-width="1"/>
<text x="240.00" y="531.20" font-size="12.80" fill="#231f20" text-anchor="start" font-weight="normal"  textLength="109.50" lengthAdjust="spacingAndGlyphs">Experimental data</text>
<line x1="222.8" y1="542.5" x2="233.8" y2="542.5" stroke="#e64a4a" stroke-width="1.8"/>
<text x="240.00" y="547.10" font-size="12.80" fill="#231f20" text-anchor="start" font-weight="normal"  textLength="96.50" lengthAdjust="spacingAndGlyphs">Calculated data</text>
<line x1="222.8" y1="558.5" x2="233.8" y2="558.5" stroke="#4ea1ec" stroke-width="1.6"/>
<text x="240.00" y="563.10" font-size="12.80" fill="#231f20" text-anchor="start" font-weight="normal"  textLength="62.50" lengthAdjust="spacingAndGlyphs">Difference</text>
<path d="M443.9,630.9L444.2,630.9L444.5,630.9L444.8,630.9L445.1,630.9L445.4,630.8L445.7,630.8L446.1,630.8L446.4,630.7L446.7,630.7L447.0,630.7L447.3,630.6L447.6,630.6L447.9,630.5L448.3,630.4L448.6,630.4L448.9,630.3L449.2,630.2L449.5,630.2L449.8,630.1L450.1,630.0L450.5,629.9L450.8,629.9L451.1,629.8L451.4,629.7L451.7,629.6L452.0,629.5L452.3,629.5L452.7,629.4L453.0,629.3L453.3,629.2L453.6,629.1L453.9,629.0L454.2,629.0L454.5,628.9L454.9,628.8L455.2,628.7L455.5,628.6L455.8,628.6L456.1,628.5L456.4,628.4L456.8,628.3L457.1,628.3L457.4,628.2L457.7,628.1L458.0,628.0L458.3,627.9L458.5,627.9L458.6,627.8L458.7,627.8L459.0,627.8L459.2,627.7L459.3,627.7L459.4,627.6L459.6,627.5L459.7,627.5L459.9,627.4L460.1,627.3L460.2,627.3L460.4,627.2L460.5,627.1L460.6,627.1L460.8,626.9L461.0,626.8L461.1,626.7L461.2,626.6L461.3,626.5L461.5,626.2L461.5,626.1L461.6,626.0L461.8,625.7L461.9,625.3L462.0,625.1L462.1,624.8L462.3,624.2L462.4,623.4L462.5,622.9L462.6,622.4L462.7,621.1L462.9,619.5L463.0,618.5L463.0,617.5L463.2,615.0L463.4,612.0L463.4,610.3L463.5,608.5L463.7,604.4L463.8,599.7L463.9,597.1L464.0,594.4L464.1,588.5L464.3,582.2L464.4,578.9L464.5,575.6L464.6,568.7L464.8,561.9L464.8,558.6L464.9,555.5L465.1,549.7L465.2,545.2L465.3,543.4L465.4,542.2L465.6,541.2L465.7,542.2L465.8,543.5L465.9,545.2L466.0,549.9L466.2,555.6L466.3,558.8L466.3,562.1L466.5,568.9L466.7,575.8L466.7,579.2L466.8,582.5L467.0,588.8L467.1,594.7L467.2,597.5L467.3,600.0L467.4,604.8L467.6,608.9L467.7,610.8L467.8,612.5L467.9,615.5L468.1,618.0L468.1,619.0L468.2,620.0L468.4,621.7L468.5,623.0L468.6,623.5L468.7,624.0L468.9,624.8L469.0,625.5L469.1,625.7L469.2,626.0L469.3,626.4L469.5,626.7L469.6,626.9L469.6,627.0L469.8,627.2L470.0,627.4L470.0,627.5L470.1,627.5L470.3,627.7L470.5,627.8L470.6,627.9L470.7,628.0L470.9,628.1L471.0,628.1L471.2,628.2L471.4,628.3L471.5,628.4L471.7,628.4L471.8,628.5L471.9,628.5L472.2,628.6L472.4,628.7L472.5,628.7L472.6,628.7L472.8,628.8L473.1,628.9L473.4,628.9L473.7,629.0L474.0,629.1L474.4,629.2L474.7,629.2L475.0,629.3L475.3,629.4L475.6,629.4L475.9,629.5L476.2,629.5L476.6,629.6L476.9,629.7L477.2,629.7L477.5,629.8L477.8,629.8L478.1,629.9L478.4,629.9L478.8,630.0L479.1,630.0L479.4,630.1L479.7,630.1L480.0,630.1L480.3,630.2L480.6,630.2L481.0,630.2L481.3,630.3L481.6,630.3L481.9,630.3L482.2,630.3L482.5,630.3L482.8,630.4L483.2,630.4L483.5,630.4L483.8,630.4L484.1,630.4L484.4,630.4L484.7,630.4L485.0,630.4L485.4,630.4L485.7,630.4L486.0,630.4L486.3,630.4L486.6,630.4L486.9,630.4L487.2,630.4L487.6,630.4L487.9,630.4L488.2,630.4L488.5,630.4L488.8,630.4L489.1,630.4L489.4,630.4L489.8,630.4L490.1,630.5L490.4,630.5L490.7,630.5L491.0,630.5L491.3,630.5L491.6,630.5L492.0,630.5L492.3,630.5L492.6,630.5L492.9,630.5L493.2,630.5L493.5,630.5L493.8,630.5L494.2,630.5L494.5,630.5L494.8,630.5L495.1,630.5L495.4,630.5L495.7,630.5L496.1,630.5L496.4,630.5L496.7,630.5L497.0,630.6L497.3,630.6L497.6,630.6L497.9,630.6L498.3,630.6L498.6,630.6L498.9,630.6L499.2,630.6L499.5,630.6L499.8,630.6L500.1,630.6L500.5,630.6L500.8,630.6L501.1,630.6L501.4,630.6L501.7,630.6L502.0,630.6L502.3,630.6L502.7,630.6L503.0,630.7L503.3,630.7L503.6,630.7L503.9,630.7L504.2,630.7L504.5,630.7L504.9,630.7L505.2,630.7L505.5,630.7L505.8,630.7L506.1,630.7L506.4,630.7L506.7,630.7L507.1,630.7L507.4,630.7L507.7,630.7L508.0,630.7L508.3,630.7L508.6,630.8L508.9,630.8L509.3,630.8L509.6,630.8L509.9,630.8L510.2,630.8L510.5,630.8L510.8,630.8L511.1,630.8L511.5,630.8L511.8,630.8L512.1,630.8L512.4,630.8L512.7,630.8L513.0,630.8L513.3,630.8L513.7,630.8L514.0,630.8L514.3,630.8L514.6,630.9L514.9,630.9L515.2,630.9L515.5,630.9L515.9,630.9L516.2,630.9L516.5,630.9L516.8,630.9L517.1,630.9L517.4,630.9L517.7,630.9L518.1,630.9L518.4,630.9L518.7,630.9L519.0,630.9L519.3,630.9L519.6,630.9L519.9,630.9L520.3,630.9L520.6,630.9L520.9,630.9L521.2,630.9L521.5,630.9L521.8,630.9L522.1,630.9L522.5,630.9L522.8,630.9L523.1,630.9L523.4,630.9L523.7,631.0L524.0,631.0L524.3,631.0L524.7,631.0L525.0,631.0L525.3,631.0L525.6,631.0L525.9,631.0L526.2,631.0L526.5,631.0L526.9,631.0L527.2,631.0L527.5,631.0L527.8,631.0L528.1,631.0L528.4,631.0L528.7,631.0L529.1,631.0L529.4,631.0L529.7,631.0L530.0,631.0L530.3,631.0L530.6,631.0L530.9,631.0L531.3,631.0L531.6,631.0L531.9,631.0L532.2,630.9L532.5,630.9L532.8,630.9L533.1,630.9L533.5,630.9L533.8,630.9L534.1,630.9L534.4,630.9L534.7,630.9L535.0,630.8L535.4,630.8L535.7,630.8L535.8,630.8L536.0,630.8L536.1,630.8L536.3,630.8L536.5,630.8L536.6,630.8L536.8,630.8L536.9,630.7L537.1,630.7L537.2,630.7L537.4,630.7L537.6,630.7L537.7,630.7L537.9,630.7L538.0,630.7L538.2,630.7L538.3,630.7L538.5,630.6L538.7,630.6L538.8,630.6L539.0,630.6L539.1,630.6L539.3,630.6L539.4,630.6L539.6,630.6L539.8,630.5L539.9,630.5L540.1,630.5L540.2,630.5L540.4,630.5L540.5,630.5L540.7,630.4L540.9,630.4L541.0,630.4L541.2,630.3L541.3,630.3L541.5,630.2L541.6,630.2L541.8,630.1L542.0,630.0L542.1,629.9L542.3,629.8L542.4,629.7L542.6,629.6L542.7,629.4L542.9,629.3L543.1,629.1L543.2,628.9L543.4,628.7L543.5,628.5L543.7,628.2L543.8,628.0L544.0,627.8L544.2,627.5L544.3,627.3L544.5,627.1L544.6,626.9L544.8,626.7L544.9,626.6L545.1,626.5L545.3,626.5L545.4,626.5L545.6,626.6L545.7,626.7L545.9,626.9L546.0,627.1L546.2,627.3L546.4,627.5L546.5,627.7L546.7,628.0L546.8,628.2L547.0,628.4L547.1,628.6L547.3,628.8L547.5,629.0L547.6,629.2L547.8,629.3L547.9,629.5L548.1,629.6L548.2,629.7L548.4,629.8L548.6,629.9L548.7,630.0L548.9,630.0L549.0,630.1L549.2,630.1L549.3,630.2L549.5,630.2L549.7,630.2L549.8,630.2L550.0,630.2L550.1,630.2L550.3,630.3L550.4,630.3L550.6,630.3L550.8,630.3L550.9,630.3L551.1,630.3L551.2,630.3L551.4,630.3L551.5,630.2L551.7,630.2L551.9,630.2L552.0,630.2L552.2,630.2L552.3,630.2L552.5,630.2L552.6,630.2L552.8,630.2L553.0,630.2L553.1,630.2L553.3,630.2L553.4,630.2L553.6,630.2L553.7,630.2L553.9,630.1L554.1,630.1L554.2,630.1L554.4,630.1L554.5,630.1L554.7,630.1L554.8,630.1L555.2,630.1L555.5,630.1L555.8,630.0L556.1,630.0L556.4,630.0L556.7,630.0L557.0,629.9L557.4,629.9L557.7,629.9L558.0,629.9L558.3,629.9L558.6,629.8L558.9,629.8L559.2,629.8L559.6,629.8L559.9,629.7L560.2,629.7L560.5,629.7L560.8,629.7L560.8,629.7L561.0,629.7L561.1,629.7L561.3,629.7L561.4,629.6L561.5,629.6L561.8,629.6L562.0,629.6L562.1,629.6L562.3,629.6L562.4,629.6L562.5,629.6L562.7,629.6L562.8,629.6L563.0,629.5L563.3,629.5L563.3,629.5L563.5,629.5L563.6,629.5L563.8,629.5L564.0,629.5L564.0,629.5L564.3,629.5L564.5,629.4L564.6,629.4L564.8,629.4L564.9,629.4L565.0,629.4L565.2,629.3L565.3,629.3L565.5,629.2L565.8,629.2L565.8,629.1L566.0,629.0L566.2,629.0L566.3,628.9L566.5,628.8L566.5,628.8L566.8,628.6L567.0,628.4L567.1,628.4L567.3,628.2L567.4,628.2L567.5,628.1L567.7,628.0L567.8,628.0L568.0,627.9L568.3,628.0L568.4,628.0L568.6,628.1L568.7,628.1L568.8,628.2L569.0,628.3L569.1,628.4L569.3,628.6L569.6,628.7L569.6,628.8L569.8,628.9L569.9,628.9L570.1,629.0L570.2,629.1L570.3,629.1L570.6,629.2L570.8,629.2L570.9,629.3L571.1,629.3L571.2,629.3L571.3,629.3L571.3,629.3L571.5,629.3L571.6,629.3L571.7,629.3L571.8,629.3L572.0,629.3L572.1,629.3L572.1,629.3L572.3,629.3L572.3,629.3L572.3,629.3L572.4,629.3L572.4,629.3L572.5,629.3L572.6,629.3L572.6,629.3L572.6,629.3L572.8,629.3L572.8,629.3L572.9,629.3L572.9,629.3L573.0,629.3L573.1,629.3L573.1,629.2L573.2,629.2L573.3,629.2L573.3,629.2L573.4,629.2L573.5,629.1L573.5,629.1L573.6,629.0L573.6,629.0L573.7,628.9L573.8,628.9L573.8,628.8L573.9,628.8L573.9,628.7L574.0,628.5L574.1,628.4L574.1,628.2L574.2,628.1L574.3,627.8L574.3,627.6L574.4,627.4L574.5,626.9L574.5,626.8L574.6,626.4L574.6,626.2L574.7,626.0L574.7,625.4L574.8,625.2L574.8,625.0L574.8,624.7L574.9,624.5L574.9,624.2L575.0,623.7L575.0,623.4L575.0,623.2L575.1,622.6L575.1,622.3L575.2,622.0L575.2,621.1L575.3,620.8L575.3,620.2L575.4,619.9L575.4,619.6L575.4,619.3L575.5,618.7L575.5,618.5L575.6,618.0L575.6,617.8L575.7,617.5L575.8,617.0L575.8,616.9L575.9,616.7L575.9,616.7L576.0,616.8L576.0,616.9L576.1,617.1L576.1,617.4L576.2,617.6L576.2,618.0L576.3,618.2L576.3,618.5L576.4,619.3L576.4,619.6L576.5,620.5L576.5,620.8L576.6,621.7L576.7,622.0L576.7,622.3L576.8,622.9L576.8,623.2L576.9,623.7L576.9,624.0L576.9,624.3L577.0,625.0L577.0,625.2L577.1,625.9L577.2,626.1L577.3,626.6L577.3,626.8L577.3,627.0L577.4,627.3L577.4,627.4L577.5,627.7L577.5,627.8L577.5,627.9L577.6,628.2L577.7,628.3L577.8,628.5L577.8,628.6L577.9,628.7L577.9,628.8L578.0,628.8L578.0,628.9L578.0,629.0L578.1,629.0L578.1,629.1L578.2,629.1L578.3,629.2L578.3,629.2L578.4,629.2L578.4,629.3L578.5,629.3L578.5,629.3L578.6,629.3L578.6,629.3L578.7,629.4L578.7,629.4L578.8,629.4L578.8,629.4L578.9,629.4L578.9,629.4L579.0,629.4L579.1,629.4L579.1,629.4L579.2,629.5L579.2,629.5L579.3,629.5L579.3,629.5L579.4,629.5L579.4,629.5L579.4,629.5L579.5,629.5L579.6,629.5L579.6,629.5L579.7,629.5L579.8,629.5L579.8,629.5L579.9,629.5L580.0,629.5L580.0,629.5L580.2,629.5L580.3,629.5L580.3,629.5L580.4,629.5L580.5,629.6L580.5,629.6L580.6,629.6L580.7,629.6L580.8,629.6L580.9,629.6L580.9,629.6L581.0,629.6L581.2,629.6L581.3,629.6L581.3,629.6L581.4,629.6L581.5,629.6L581.6,629.6L581.7,629.6L581.8,629.6L581.9,629.6L581.9,629.6L582.0,629.6L582.1,629.6L582.2,629.6L582.3,629.6L582.5,629.6L582.5,629.6L582.8,629.5L582.8,629.5L583.0,629.5L583.1,629.5L583.2,629.5L583.4,629.5L583.5,629.5L583.6,629.5L583.8,629.5L583.9,629.5L584.1,629.5L584.3,629.4L584.4,629.4L584.5,629.4L584.7,629.3L584.7,629.3L585.0,629.3L585.0,629.2L585.2,629.2L585.3,629.1L585.4,629.0L585.6,628.9L585.7,628.8L585.8,628.6L586.0,628.4L586.1,628.2L586.3,627.7L586.5,627.0L586.6,626.6L586.7,626.1L586.9,625.2L586.9,625.0L587.2,623.7L587.2,623.4L587.4,622.3L587.5,621.2L587.6,620.8L587.8,619.3L587.9,619.1L588.0,618.0L588.2,617.4L588.3,617.1L588.5,616.7L588.7,617.1L588.8,617.4L588.9,618.0L589.1,619.1L589.1,619.3L589.4,620.8L589.4,621.2L589.6,622.3L589.7,623.3L589.8,623.7L590.0,625.0L590.1,625.1L590.2,626.0L590.4,626.6L590.5,626.9L590.7,627.6L590.9,628.1L591.0,628.3L591.1,628.5L591.3,628.7L591.3,628.7L591.6,628.9L591.6,629.0L591.8,629.0L591.9,629.1L592.0,629.1L592.1,629.1L592.2,629.1L592.2,629.1L592.3,629.1L592.4,629.2L592.4,629.2L592.5,629.2L592.6,629.2L592.7,629.2L592.7,629.2L592.8,629.2L592.8,629.2L592.9,629.1L592.9,629.1L593.1,629.1L593.1,629.1L593.1,629.1L593.2,629.1L593.2,629.1L593.3,629.1L593.4,629.1L593.5,629.0L593.5,629.0L593.5,629.0L593.6,629.0L593.7,629.0L593.7,628.9L593.8,628.9L593.8,628.9L593.8,628.9L593.9,628.8L594.0,628.8L594.0,628.7L594.1,628.6L594.1,628.6L594.2,628.5L594.2,628.4L594.3,628.2L594.4,628.2L594.4,628.0L594.5,627.9L594.5,627.7L594.6,627.4L594.6,627.1L594.7,626.8L594.8,626.4L594.8,626.3L594.8,625.9L594.9,625.7L594.9,625.1L595.0,624.8L595.1,623.6L595.1,623.4L595.2,621.6L595.3,619.5L595.4,619.2L595.4,618.3L595.5,617.1L595.5,616.4L595.6,614.3L595.6,613.2L595.7,611.4L595.8,609.9L595.8,608.4L595.9,606.5L596.0,605.5L596.0,604.2L596.1,603.6L596.1,603.0L596.2,601.5L596.2,601.4L596.3,600.8L596.5,601.4L596.5,601.5L596.6,603.1L596.6,603.6L596.7,604.2L596.7,605.5L596.8,606.6L596.8,608.4L596.9,609.9L597.0,611.4L597.1,613.3L597.1,614.4L597.2,616.4L597.2,617.1L597.3,618.4L597.3,619.3L597.4,619.6L597.5,621.7L597.6,623.5L597.6,623.7L597.7,624.9L597.8,625.2L597.9,626.0L597.9,626.4L597.9,626.5L598.0,626.9L598.0,627.2L598.1,627.5L598.2,627.8L598.2,628.0L598.3,628.3L598.4,628.4L598.5,628.6L598.5,628.6L598.5,628.7L598.6,628.8L598.7,628.9L598.7,628.9L598.9,629.0L598.9,629.1L599.0,629.1L599.0,629.1L599.1,629.2L599.2,629.2L599.2,629.2L599.3,629.3L599.4,629.3L599.5,629.3L599.5,629.3L599.6,629.4L599.6,629.4L599.7,629.4L599.8,629.4L599.9,629.4L599.9,629.4L600.0,629.5L600.0,629.5L600.1,629.5L600.2,629.5L600.3,629.5L600.4,629.5L600.4,629.5L600.7,629.6L601.1,629.6L601.4,629.6L601.7,629.7L602.0,629.7L602.3,629.7L602.6,629.7L602.9,629.7L603.3,629.7L603.6,629.7L603.9,629.8L604.2,629.8L604.5,629.8L604.8,629.8L605.1,629.8L605.5,629.8L605.7,629.8L605.8,629.8L605.9,629.8L606.1,629.8L606.1,629.8L606.3,629.8L606.4,629.8L606.6,629.8L606.7,629.8L606.8,629.8L607.0,629.8L607.0,629.8L607.2,629.8L607.3,629.8L607.4,629.8L607.7,629.8L607.9,629.7L608.0,629.7L608.1,629.7L608.3,629.7L608.3,629.7L608.5,629.7L608.6,629.7L608.8,629.6L608.9,629.6L609.0,629.6L609.2,629.5L609.2,629.5L609.4,629.4L609.5,629.3L609.6,629.2L609.9,629.0L610.1,628.6L610.2,628.5L610.3,628.2L610.5,627.8L610.5,627.7L610.7,627.2L610.8,627.0L611.0,626.5L611.1,626.0L611.2,625.8L611.4,625.1L611.4,625.0L611.6,624.5L611.7,624.2L611.8,624.1L612.1,623.9L612.3,624.1L612.4,624.2L612.5,624.5L612.7,625.0L612.7,625.1L612.9,625.8L613.0,626.0L613.2,626.5L613.3,627.0L613.4,627.2L613.6,627.8L613.6,627.8L613.8,628.3L614.0,628.5L614.0,628.7L614.3,629.0L614.5,629.2L614.6,629.3L614.7,629.4L614.9,629.5L614.9,629.5L615.1,629.6L615.2,629.6L615.4,629.7L615.5,629.7L615.6,629.7L615.8,629.8L615.8,629.8L616.0,629.8L616.2,629.8L616.2,629.8L616.5,629.8L616.7,629.8L616.8,629.8L616.9,629.8L617.1,629.8L617.1,629.8L617.3,629.9L617.4,629.9L617.6,629.9L617.6,629.9L617.7,629.9L617.8,629.9L617.8,629.9L618.0,629.9L618.0,629.9L618.1,629.9L618.2,629.9L618.4,629.9L618.4,629.9L618.6,629.9L618.7,629.9L618.9,629.9L619.0,629.9L619.1,629.9L619.3,629.9L619.4,629.9L619.6,629.9L619.9,629.9L619.9,629.9L620.1,629.9L620.2,629.9L620.4,629.9L620.6,629.9L620.6,629.9L620.9,629.9L621.1,629.8L621.2,629.8L621.4,629.8L621.5,629.8L621.6,629.8L621.8,629.7L621.9,629.7L622.1,629.6L622.4,629.5L622.4,629.5L622.6,629.4L622.8,629.3L622.9,629.2L623.1,629.1L623.1,629.0L623.4,628.8L623.6,628.6L623.7,628.5L623.9,628.4L624.0,628.3L624.1,628.2L624.3,628.0L624.4,628.0L624.6,628.0L624.9,628.0L625.0,628.0L625.1,628.2L625.3,628.3L625.4,628.4L625.6,628.5L625.6,628.6L625.9,628.8L626.1,629.1L626.2,629.1L626.4,629.2L626.5,629.3L626.7,629.4L626.8,629.5L626.9,629.5L627.2,629.7L627.4,629.7L627.5,629.8L627.7,629.8L627.8,629.8L627.9,629.8L628.1,629.9L628.2,629.9L628.4,629.9L628.7,629.9L628.7,629.9L628.9,629.9L629.0,629.9L629.2,629.9L629.4,629.9L629.4,629.9L629.7,629.9L629.9,629.9L630.0,629.9L630.2,629.9L630.3,629.9L630.4,629.9L630.6,629.9L630.7,629.9L630.9,630.0L631.2,630.0L631.2,630.0L631.4,630.0L631.6,630.0L631.7,630.0L631.9,630.0L631.9,630.0L632.2,630.0L632.5,630.0L632.8,630.0L633.1,630.0L633.4,630.0L633.8,630.0L634.1,630.0L634.4,630.0L634.7,630.0L635.0,630.0L635.3,630.0L635.6,630.0L636.0,630.0L636.3,630.0L636.6,630.0L636.9,630.0L637.2,630.0L637.5,630.0L637.8,630.0L638.2,630.0L638.5,630.0L638.8,630.0L639.1,630.0L639.4,630.0L639.7,630.0L640.0,630.0L640.4,630.0L640.7,630.0L641.0,630.0L641.3,630.0L641.6,630.0L641.9,630.0L642.2,630.0L642.6,630.0L642.9,630.0L643.2,630.0L643.4,630.0L643.5,630.0L643.6,630.0L643.8,630.0L643.8,630.0L644.1,630.0L644.1,630.0L644.3,630.0L644.3,630.0L644.4,630.0L644.5,630.0L644.7,630.0L644.7,630.0L644.8,630.0L644.9,630.0L645.0,630.0L645.1,630.0L645.2,630.0L645.3,630.0L645.4,630.0L645.5,629.9L645.6,629.9L645.6,629.9L645.7,629.9L645.8,629.9L646.0,629.9L646.1,629.9L646.2,629.9L646.3,629.9L646.3,629.9L646.4,629.9L646.5,629.9L646.6,629.9L646.6,629.9L646.7,629.9L646.8,629.9L646.9,629.9L647.0,629.9L647.2,629.9L647.3,629.9L647.3,629.8L647.4,629.8L647.5,629.8L647.6,629.8L647.7,629.7L647.8,629.7L647.9,629.7L648.0,629.6L648.1,629.6L648.2,629.5L648.3,629.4L648.3,629.4L648.5,629.3L648.5,629.2L648.7,629.1L648.7,629.0L648.8,628.8L648.9,628.8L649.0,628.6L649.1,628.5L649.2,628.5L649.2,628.4L649.4,628.2L649.4,628.2L649.5,628.1L649.6,628.1L649.6,628.0L649.8,628.0L650.0,628.0L650.0,628.1L650.1,628.1L650.2,628.2L650.2,628.2L650.4,628.4L650.4,628.5L650.5,628.5L650.5,628.6L650.7,628.8L650.7,628.8L650.9,629.0L650.9,629.1L651.0,629.2L651.1,629.3L651.3,629.4L651.3,629.4L651.4,629.5L651.5,629.6L651.6,629.6L651.7,629.7L651.8,629.7L651.9,629.7L652.0,629.8L652.1,629.8L652.2,629.8L652.2,629.8L652.3,629.9L652.4,629.9L652.6,629.9L652.7,629.9L652.8,629.9L652.9,629.9L652.9,629.9L653.0,629.9L653.1,629.9L653.2,629.9L653.3,629.9L653.3,629.9L653.4,629.9L653.5,629.9L653.6,629.9L653.8,629.9L653.9,629.9L653.9,629.9L654.0,629.9L654.1,629.9L654.2,629.9L654.3,629.9L654.4,629.9L654.5,630.0L654.6,630.0L654.7,630.0L654.8,630.0L654.9,630.0L654.9,630.0L655.1,630.0L655.1,630.0L655.3,630.0L655.3,630.0L655.5,630.0L655.5,630.0L655.7,630.0L655.8,630.0L656.0,630.0L656.1,630.0L656.2,630.0L656.4,630.0L656.7,630.0L657.0,630.0L657.3,630.0L657.7,630.0L658.0,630.0L658.3,630.0L658.6,630.0L658.9,630.0L659.2,630.0L659.5,630.0L659.9,630.0L660.2,630.0L660.5,630.0L660.8,630.0L661.1,630.0L661.4,630.0L661.7,630.0L662.1,630.0L662.4,630.0L662.7,630.0L663.0,629.9L663.3,629.9L663.6,629.9L663.9,629.9L664.3,629.9L664.6,629.9L664.9,629.9L665.2,629.9L665.5,629.9L665.8,629.9L666.1,629.9L666.5,629.9L666.8,629.9L667.1,629.9L667.4,629.9L667.7,629.9L668.0,629.9L668.3,629.9L668.6,629.9L668.7,629.8L668.8,629.8L669.0,629.8L669.0,629.8L669.2,629.8L669.3,629.8L669.4,629.8L669.6,629.8L669.7,629.8L669.9,629.8L669.9,629.8L670.1,629.8L670.2,629.7L670.3,629.7L670.5,629.7L670.7,629.7L670.8,629.7L670.8,629.7L670.9,629.7L671.0,629.6L671.1,629.6L671.2,629.6L671.2,629.6L671.3,629.6L671.4,629.5L671.4,629.5L671.5,629.5L671.5,629.4L671.6,629.4L671.7,629.4L671.8,629.3L671.8,629.3L671.9,629.3L672.0,629.2L672.1,629.1L672.1,629.0L672.3,628.8L672.3,628.8L672.4,628.6L672.4,628.5L672.5,628.3L672.5,628.3L672.7,628.0L672.7,627.8L672.8,627.5L673.0,627.0L673.1,626.7L673.1,626.5L673.2,626.1L673.2,625.8L673.4,625.1L673.4,625.0L673.4,624.9L673.5,624.2L673.6,623.6L673.7,623.2L673.7,623.1L673.8,622.3L673.8,622.0L674.0,621.2L674.0,620.9L674.1,620.4L674.1,620.2L674.2,619.1L674.3,618.8L674.3,618.6L674.4,618.1L674.5,617.4L674.5,617.3L674.6,616.7L674.7,616.6L674.7,616.4L674.8,616.1L674.9,616.0L675.1,616.1L675.2,616.4L675.2,616.6L675.3,616.7L675.4,617.3L675.4,617.4L675.5,618.1L675.6,618.6L675.6,618.8L675.7,619.1L675.8,620.2L675.8,620.4L675.9,620.9L675.9,621.2L676.0,622.0L676.1,622.3L676.2,623.1L676.2,623.2L676.3,623.6L676.4,624.2L676.5,624.9L676.5,625.0L676.5,625.1L676.6,625.8L676.7,626.1L676.8,626.5L676.8,626.7L676.9,627.0L677.1,627.5L677.1,627.8L677.2,628.0L677.3,628.3L677.4,628.3L677.5,628.5L677.5,628.6L677.6,628.8L677.6,628.8L677.8,629.0L677.8,629.1L677.9,629.2L678.0,629.3L678.1,629.3L678.1,629.3L678.2,629.4L678.2,629.4L678.3,629.4L678.4,629.5L678.5,629.5L678.5,629.5L678.6,629.6L678.7,629.6L678.7,629.6L678.8,629.6L678.9,629.6L679.0,629.7L679.0,629.7L679.1,629.7L679.3,629.7L679.6,629.7L679.7,629.7L679.8,629.8L680.0,629.8L680.0,629.8L680.2,629.8L680.3,629.8L680.4,629.8L680.6,629.8L680.7,629.8L680.9,629.8L680.9,629.8L681.1,629.8L681.2,629.8L681.3,629.9L681.5,629.9L681.9,629.9L682.2,629.9L682.5,629.9L682.8,629.9L683.1,629.9L683.4,629.9L683.7,629.9L684.1,629.9L684.4,629.9L684.7,629.9L685.0,629.9L685.3,629.9L685.6,629.9L685.9,629.9L686.3,629.9L686.6,629.9L686.9,630.0L687.2,630.0L687.5,630.0L687.8,630.0L688.1,629.9L688.5,629.9L688.8,629.9L689.1,629.9L689.4,629.9L689.7,629.8L690.0,629.8L690.3,629.7L690.7,629.7L691.0,629.6L691.3,629.6L691.6,629.5L691.9,629.4L692.2,629.4L692.6,629.3L692.9,629.2L693.2,629.1L693.5,629.1L693.8,629.0L694.1,628.9L694.4,628.8L694.8,628.7L695.1,628.7L695.4,628.6L695.7,628.5L696.0,628.5L696.3,628.4L696.6,628.3L697.0,628.3L697.3,628.2L697.6,628.2L697.9,628.1L698.2,628.1L698.5,628.1L698.8,628.0L699.2,628.0L699.5,628.0L699.8,628.0L700.1,628.0L700.4,628.0L700.7,628.0L701.0,628.0L701.4,628.0L701.7,627.9L702.0,627.9L702.3,627.9L702.6,627.9L702.9,627.8L703.2,627.8L703.6,627.8L703.9,627.7L704.2,627.7L704.5,627.7L704.8,627.6L705.1,627.6L705.4,627.5L705.8,627.5L706.1,627.4L706.4,627.4L706.7,627.3L707.0,627.3L707.3,627.2L707.6,627.2L708.0,627.1L708.3,627.0L708.6,627.0L708.9,626.9L709.2,626.9L709.5,626.9L709.8,626.8L710.2,626.8L710.5,626.7L710.8,626.7L711.1,626.6L711.4,626.6L711.7,626.6L712.0,626.6L712.4,626.5L712.7,626.5L713.0,626.5L713.3,626.5L713.6,626.5L713.9,626.5L714.2,626.5L714.6,626.5L714.9,626.5L715.2,626.5L715.5,626.6L715.8,626.6L716.1,626.7L716.4,626.7L716.8,626.8L717.1,626.9L717.4,627.0L717.7,627.0L718.0,627.1L718.3,627.2L718.6,627.3L719.0,627.4L719.3,627.5L719.6,627.6L719.9,627.6L720.2,627.7L720.4,627.7L720.5,627.7L720.7,627.8L720.8,627.8L720.9,627.8L721.1,627.8L721.2,627.8L721.3,627.8L721.5,627.8L721.5,627.8L721.8,627.8L721.8,627.8L722.0,627.8L722.1,627.8L722.2,627.8L722.4,627.8L722.6,627.7L722.7,627.7L722.9,627.7L723.0,627.7L723.1,627.7L723.3,627.7L723.4,627.6L723.5,627.6L723.7,627.5L723.7,627.5L724.0,627.4L724.0,627.3L724.2,627.2L724.3,627.0L724.4,626.9L724.6,626.4L724.8,625.9L724.9,625.6L725.1,625.2L725.2,624.4L725.3,624.3L725.5,623.3L725.6,623.0L725.7,622.1L725.9,621.2L725.9,620.9L726.2,619.7L726.2,619.5L726.4,618.6L726.5,618.1L726.6,617.9L726.8,617.6L727.0,618.0L727.1,618.3L727.3,618.8L727.4,619.8L727.5,620.0L727.7,621.3L727.8,621.7L727.9,622.6L728.1,623.5L728.1,623.9L728.4,625.0L728.4,625.2L728.6,626.0L728.7,626.5L728.8,626.8L729.0,627.4L729.2,627.9L729.3,628.1L729.5,628.3L729.6,628.5L729.7,628.6L729.9,628.8L730.0,628.8L730.1,629.0L730.3,629.0L730.3,629.1L730.6,629.2L730.6,629.2L730.8,629.3L730.9,629.3L731.0,629.3L731.2,629.4L731.4,629.5L731.5,629.5L731.7,629.5L731.9,629.6L731.9,629.6L732.1,629.6L732.2,629.6L732.3,629.7L732.5,629.7L732.5,629.7L732.8,629.8L732.8,629.8L733.0,629.8L733.1,629.8L733.2,629.8L733.4,629.8L733.7,629.9L734.1,629.9L734.4,629.9L734.7,629.9L735.0,629.9L735.3,629.9L735.6,629.9L735.9,630.0L736.3,630.0L736.6,630.0L736.9,630.0L737.2,630.0L737.5,630.0L737.8,630.1L738.1,630.1L738.5,630.1L738.8,630.1L739.1,630.1L739.4,630.2L739.7,630.2L740.0,630.2L740.3,630.3L740.7,630.3L741.0,630.3L741.3,630.4L741.6,630.4L741.9,630.4L742.2,630.4L742.5,630.5L742.9,630.5L743.2,630.5L743.5,630.6L743.8,630.6L744.1,630.6L744.4,630.7L744.7,630.7L745.1,630.7L745.4,630.8L745.7,630.8L746.0,630.8L746.3,630.8L746.6,630.9L746.9,630.9L747.3,630.9L747.6,630.9L747.9,630.9L748.2,630.9L748.5,631.0L748.8,631.0L749.1,631.0L749.5,631.0L749.8,631.0L750.1,631.0L750.4,631.0" fill="none" stroke="#3a3a3a" stroke-width="4.8" stroke-linejoin="round" stroke-linecap="round"/>
<circle cx="462.7" cy="621.1" r="1.75" fill="#e8e8e8" stroke="#3a3a3a" stroke-width="1.2"/>
<circle cx="463.0" cy="617.5" r="1.75" fill="#e8e8e8" stroke="#3a3a3a" stroke-width="1.2"/>
<circle cx="463.2" cy="615.0" r="1.75" fill="#e8e8e8" stroke="#3a3a3a" stroke-width="1.2"/>
<circle cx="463.4" cy="612.0" r="1.75" fill="#e8e8e8" stroke="#3a3a3a" stroke-width="1.2"/>
<circle cx="463.5" cy="608.5" r="1.75" fill="#e8e8e8" stroke="#3a3a3a" stroke-width="1.2"/>
<circle cx="463.7" cy="604.4" r="1.75" fill="#e8e8e8" stroke="#3a3a3a" stroke-width="1.2"/>
<circle cx="463.8" cy="599.7" r="1.75" fill="#e8e8e8" stroke="#3a3a3a" stroke-width="1.2"/>
<circle cx="463.9" cy="597.1" r="1.75" fill="#e8e8e8" stroke="#3a3a3a" stroke-width="1.2"/>
<circle cx="464.0" cy="594.4" r="1.75" fill="#e8e8e8" stroke="#3a3a3a" stroke-width="1.2"/>
<circle cx="464.1" cy="586.9" r="1.8" fill="#f4f4f4" stroke="#3a3a3a" stroke-width="1.05"/>
<circle cx="464.3" cy="580.1" r="1.8" fill="#f4f4f4" stroke="#3a3a3a" stroke-width="1.05"/>
<circle cx="464.5" cy="572.8" r="1.8" fill="#f4f4f4" stroke="#3a3a3a" stroke-width="1.05"/>
<circle cx="464.6" cy="565.3" r="1.8" fill="#f4f4f4" stroke="#3a3a3a" stroke-width="1.05"/>
<circle cx="464.8" cy="557.7" r="1.8" fill="#f4f4f4" stroke="#3a3a3a" stroke-width="1.05"/>
<circle cx="464.9" cy="550.3" r="1.8" fill="#f4f4f4" stroke="#3a3a3a" stroke-width="1.05"/>
<circle cx="465.1" cy="543.7" r="1.8" fill="#f4f4f4" stroke="#3a3a3a" stroke-width="1.05"/>
<circle cx="465.2" cy="538.4" r="1.8" fill="#f4f4f4" stroke="#3a3a3a" stroke-width="1.05"/>
<circle cx="465.6" cy="533.7" r="1.8" fill="#f4f4f4" stroke="#3a3a3a" stroke-width="1.05"/>
<circle cx="465.9" cy="538.5" r="1.8" fill="#f4f4f4" stroke="#3a3a3a" stroke-width="1.05"/>
<circle cx="466.0" cy="543.8" r="1.8" fill="#f4f4f4" stroke="#3a3a3a" stroke-width="1.05"/>
<circle cx="466.2" cy="550.5" r="1.8" fill="#f4f4f4" stroke="#3a3a3a" stroke-width="1.05"/>
<circle cx="466.3" cy="557.8" r="1.8" fill="#f4f4f4" stroke="#3a3a3a" stroke-width="1.05"/>
<circle cx="466.5" cy="565.5" r="1.8" fill="#f4f4f4" stroke="#3a3a3a" stroke-width="1.05"/>
<circle cx="466.7" cy="573.1" r="1.8" fill="#f4f4f4" stroke="#3a3a3a" stroke-width="1.05"/>
<circle cx="466.8" cy="580.4" r="1.8" fill="#f4f4f4" stroke="#3a3a3a" stroke-width="1.05"/>
<circle cx="467.0" cy="587.3" r="1.8" fill="#f4f4f4" stroke="#3a3a3a" stroke-width="1.05"/>
<circle cx="467.1" cy="594.7" r="1.75" fill="#e8e8e8" stroke="#3a3a3a" stroke-width="1.2"/>
<circle cx="467.2" cy="597.5" r="1.75" fill="#e8e8e8" stroke="#3a3a3a" stroke-width="1.2"/>
<circle cx="467.3" cy="600.0" r="1.75" fill="#e8e8e8" stroke="#3a3a3a" stroke-width="1.2"/>
<circle cx="467.4" cy="604.8" r="1.75" fill="#e8e8e8" stroke="#3a3a3a" stroke-width="1.2"/>
<circle cx="467.6" cy="608.9" r="1.75" fill="#e8e8e8" stroke="#3a3a3a" stroke-width="1.2"/>
<circle cx="467.7" cy="610.8" r="1.75" fill="#e8e8e8" stroke="#3a3a3a" stroke-width="1.2"/>
<circle cx="467.8" cy="612.5" r="1.75" fill="#e8e8e8" stroke="#3a3a3a" stroke-width="1.2"/>
<circle cx="467.9" cy="615.5" r="1.75" fill="#e8e8e8" stroke="#3a3a3a" stroke-width="1.2"/>
<circle cx="468.1" cy="618.0" r="1.75" fill="#e8e8e8" stroke="#3a3a3a" stroke-width="1.2"/>
<circle cx="468.4" cy="621.7" r="1.75" fill="#e8e8e8" stroke="#3a3a3a" stroke-width="1.2"/>
<circle cx="574.8" cy="624.0" r="1.8" fill="#f4f4f4" stroke="#3a3a3a" stroke-width="1.05"/>
<circle cx="575.2" cy="619.4" r="1.8" fill="#f4f4f4" stroke="#3a3a3a" stroke-width="1.05"/>
<circle cx="575.5" cy="614.4" r="1.8" fill="#f4f4f4" stroke="#3a3a3a" stroke-width="1.05"/>
<circle cx="576.7" cy="619.2" r="1.8" fill="#f4f4f4" stroke="#3a3a3a" stroke-width="1.05"/>
<circle cx="577.1" cy="624.1" r="1.8" fill="#f4f4f4" stroke="#3a3a3a" stroke-width="1.05"/>
<circle cx="587.2" cy="623.7" r="1.75" fill="#e8e8e8" stroke="#3a3a3a" stroke-width="1.2"/>
<circle cx="587.5" cy="621.2" r="1.75" fill="#e8e8e8" stroke="#3a3a3a" stroke-width="1.2"/>
<circle cx="587.8" cy="619.3" r="1.75" fill="#e8e8e8" stroke="#3a3a3a" stroke-width="1.2"/>
<circle cx="589.4" cy="620.8" r="1.75" fill="#e8e8e8" stroke="#3a3a3a" stroke-width="1.2"/>
<circle cx="589.7" cy="623.3" r="1.75" fill="#e8e8e8" stroke="#3a3a3a" stroke-width="1.2"/>
<circle cx="594.5" cy="626.5" r="1.8" fill="#f4f4f4" stroke="#3a3a3a" stroke-width="1.05"/>
<circle cx="595.0" cy="621.5" r="1.8" fill="#f4f4f4" stroke="#3a3a3a" stroke-width="1.05"/>
<circle cx="595.2" cy="615.7" r="1.8" fill="#f4f4f4" stroke="#3a3a3a" stroke-width="1.05"/>
<circle cx="595.4" cy="609.4" r="1.8" fill="#f4f4f4" stroke="#3a3a3a" stroke-width="1.05"/>
<circle cx="595.6" cy="601.4" r="1.8" fill="#f4f4f4" stroke="#3a3a3a" stroke-width="1.05"/>
<circle cx="595.7" cy="595.4" r="1.8" fill="#f4f4f4" stroke="#3a3a3a" stroke-width="1.05"/>
<circle cx="595.8" cy="589.2" r="1.8" fill="#f4f4f4" stroke="#3a3a3a" stroke-width="1.05"/>
<circle cx="596.0" cy="583.1" r="1.8" fill="#f4f4f4" stroke="#3a3a3a" stroke-width="1.05"/>
<circle cx="596.1" cy="577.8" r="1.8" fill="#f4f4f4" stroke="#3a3a3a" stroke-width="1.05"/>
<circle cx="596.3" cy="572.8" r="1.8" fill="#f4f4f4" stroke="#3a3a3a" stroke-width="1.05"/>
<circle cx="596.6" cy="577.8" r="1.8" fill="#f4f4f4" stroke="#3a3a3a" stroke-width="1.05"/>
<circle cx="596.7" cy="583.1" r="1.8" fill="#f4f4f4" stroke="#3a3a3a" stroke-width="1.05"/>
<circle cx="596.8" cy="589.2" r="1.8" fill="#f4f4f4" stroke="#3a3a3a" stroke-width="1.05"/>
<circle cx="597.0" cy="595.5" r="1.8" fill="#f4f4f4" stroke="#3a3a3a" stroke-width="1.05"/>
<circle cx="597.1" cy="601.5" r="1.8" fill="#f4f4f4" stroke="#3a3a3a" stroke-width="1.05"/>
<circle cx="597.2" cy="607.0" r="1.8" fill="#f4f4f4" stroke="#3a3a3a" stroke-width="1.05"/>
<circle cx="597.4" cy="611.7" r="1.8" fill="#f4f4f4" stroke="#3a3a3a" stroke-width="1.05"/>
<circle cx="597.6" cy="619.0" r="1.8" fill="#f4f4f4" stroke="#3a3a3a" stroke-width="1.05"/>
<circle cx="597.9" cy="624.1" r="1.8" fill="#f4f4f4" stroke="#3a3a3a" stroke-width="1.05"/>
<circle cx="647.8" cy="628.4" r="1.8" fill="#f4f4f4" stroke="#3a3a3a" stroke-width="1.05"/>
<circle cx="649.1" cy="623.7" r="1.8" fill="#f4f4f4" stroke="#3a3a3a" stroke-width="1.05"/>
<circle cx="651.5" cy="627.7" r="1.8" fill="#f4f4f4" stroke="#3a3a3a" stroke-width="1.05"/>
<circle cx="673.2" cy="624.5" r="1.8" fill="#f4f4f4" stroke="#3a3a3a" stroke-width="1.05"/>
<circle cx="673.8" cy="618.3" r="1.8" fill="#f4f4f4" stroke="#3a3a3a" stroke-width="1.05"/>
<circle cx="674.1" cy="613.7" r="1.8" fill="#f4f4f4" stroke="#3a3a3a" stroke-width="1.05"/>
<circle cx="674.4" cy="608.5" r="1.8" fill="#f4f4f4" stroke="#3a3a3a" stroke-width="1.05"/>
<circle cx="674.7" cy="603.2" r="1.8" fill="#f4f4f4" stroke="#3a3a3a" stroke-width="1.05"/>
<circle cx="675.5" cy="608.5" r="1.8" fill="#f4f4f4" stroke="#3a3a3a" stroke-width="1.05"/>
<circle cx="675.8" cy="613.7" r="1.8" fill="#f4f4f4" stroke="#3a3a3a" stroke-width="1.05"/>
<circle cx="676.1" cy="618.3" r="1.8" fill="#f4f4f4" stroke="#3a3a3a" stroke-width="1.05"/>
<circle cx="676.5" cy="623.2" r="1.8" fill="#f4f4f4" stroke="#3a3a3a" stroke-width="1.05"/>
<circle cx="725.5" cy="623.3" r="1.75" fill="#e8e8e8" stroke="#3a3a3a" stroke-width="1.2"/>
<circle cx="726.2" cy="619.7" r="1.75" fill="#e8e8e8" stroke="#3a3a3a" stroke-width="1.2"/>
<circle cx="727.7" cy="621.3" r="1.75" fill="#e8e8e8" stroke="#3a3a3a" stroke-width="1.2"/>
<circle cx="728.4" cy="625.0" r="1.75" fill="#e8e8e8" stroke="#3a3a3a" stroke-width="1.2"/>
<path d="M443.9,630.9L444.2,630.9L444.5,630.9L444.8,630.9L445.1,630.9L445.4,630.8L445.7,630.8L446.1,630.8L446.4,630.7L446.7,630.7L447.0,630.7L447.3,630.6L447.6,630.6L447.9,630.5L448.3,630.4L448.6,630.4L448.9,630.3L449.2,630.2L449.5,630.2L449.8,630.1L450.1,630.0L450.5,629.9L450.8,629.9L451.1,629.8L451.4,629.7L451.7,629.6L452.0,629.5L452.3,629.5L452.7,629.4L453.0,629.3L453.3,629.2L453.6,629.1L453.9,629.0L454.2,629.0L454.5,628.9L454.9,628.8L455.2,628.7L455.5,628.6L455.8,628.6L456.1,628.5L456.4,628.4L456.8,628.3L457.1,628.3L457.4,628.2L457.7,628.1L458.0,628.0L458.3,627.9L458.5,627.9L458.6,627.8L458.7,627.8L459.0,627.8L459.2,627.7L459.3,627.7L459.4,627.6L459.6,627.5L459.7,627.5L459.9,627.4L460.1,627.3L460.2,627.3L460.4,627.2L460.5,627.1L460.6,627.1L460.8,626.9L461.0,626.8L461.1,626.7L461.2,626.6L461.3,626.5L461.5,626.2L461.5,626.1L461.6,626.0L461.8,625.7L461.9,625.3L462.0,625.1L462.1,624.8L462.3,624.2L462.4,623.4L462.5,622.9L462.6,622.4L462.7,621.1L462.9,619.5L463.0,618.5L463.0,617.5L463.2,615.0L463.4,612.0L463.4,610.3L463.5,608.5L463.7,604.4L463.8,599.7L463.9,597.1L464.0,594.4L464.1,588.5L464.3,582.2L464.4,578.9L464.5,575.6L464.6,568.7L464.8,561.9L464.8,558.6L464.9,555.5L465.1,549.7L465.2,545.2L465.3,543.4L465.4,542.2L465.6,541.2L465.7,542.2L465.8,543.5L465.9,545.2L466.0,549.9L466.2,555.6L466.3,558.8L466.3,562.1L466.5,568.9L466.7,575.8L466.7,579.2L466.8,582.5L467.0,588.8L467.1,594.7L467.2,597.5L467.3,600.0L467.4,604.8L467.6,608.9L467.7,610.8L467.8,612.5L467.9,615.5L468.1,618.0L468.1,619.0L468.2,620.0L468.4,621.7L468.5,623.0L468.6,623.5L468.7,624.0L468.9,624.8L469.0,625.5L469.1,625.7L469.2,626.0L469.3,626.4L469.5,626.7L469.6,626.9L469.6,627.0L469.8,627.2L470.0,627.4L470.0,627.5L470.1,627.5L470.3,627.7L470.5,627.8L470.6,627.9L470.7,628.0L470.9,628.1L471.0,628.1L471.2,628.2L471.4,628.3L471.5,628.4L471.7,628.4L471.8,628.5L471.9,628.5L472.2,628.6L472.4,628.7L472.5,628.7L472.6,628.7L472.8,628.8L473.1,628.9L473.4,628.9L473.7,629.0L474.0,629.1L474.4,629.2L474.7,629.2L475.0,629.3L475.3,629.4L475.6,629.4L475.9,629.5L476.2,629.5L476.6,629.6L476.9,629.7L477.2,629.7L477.5,629.8L477.8,629.8L478.1,629.9L478.4,629.9L478.8,630.0L479.1,630.0L479.4,630.1L479.7,630.1L480.0,630.1L480.3,630.2L480.6,630.2L481.0,630.2L481.3,630.3L481.6,630.3L481.9,630.3L482.2,630.3L482.5,630.3L482.8,630.4L483.2,630.4L483.5,630.4L483.8,630.4L484.1,630.4L484.4,630.4L484.7,630.4L485.0,630.4L485.4,630.4L485.7,630.4L486.0,630.4L486.3,630.4L486.6,630.4L486.9,630.4L487.2,630.4L487.6,630.4L487.9,630.4L488.2,630.4L488.5,630.4L488.8,630.4L489.1,630.4L489.4,630.4L489.8,630.4L490.1,630.5L490.4,630.5L490.7,630.5L491.0,630.5L491.3,630.5L491.6,630.5L492.0,630.5L492.3,630.5L492.6,630.5L492.9,630.5L493.2,630.5L493.5,630.5L493.8,630.5L494.2,630.5L494.5,630.5L494.8,630.5L495.1,630.5L495.4,630.5L495.7,630.5L496.1,630.5L496.4,630.5L496.7,630.5L497.0,630.6L497.3,630.6L497.6,630.6L497.9,630.6L498.3,630.6L498.6,630.6L498.9,630.6L499.2,630.6L499.5,630.6L499.8,630.6L500.1,630.6L500.5,630.6L500.8,630.6L501.1,630.6L501.4,630.6L501.7,630.6L502.0,630.6L502.3,630.6L502.7,630.6L503.0,630.7L503.3,630.7L503.6,630.7L503.9,630.7L504.2,630.7L504.5,630.7L504.9,630.7L505.2,630.7L505.5,630.7L505.8,630.7L506.1,630.7L506.4,630.7L506.7,630.7L507.1,630.7L507.4,630.7L507.7,630.7L508.0,630.7L508.3,630.7L508.6,630.8L508.9,630.8L509.3,630.8L509.6,630.8L509.9,630.8L510.2,630.8L510.5,630.8L510.8,630.8L511.1,630.8L511.5,630.8L511.8,630.8L512.1,630.8L512.4,630.8L512.7,630.8L513.0,630.8L513.3,630.8L513.7,630.8L514.0,630.8L514.3,630.8L514.6,630.9L514.9,630.9L515.2,630.9L515.5,630.9L515.9,630.9L516.2,630.9L516.5,630.9L516.8,630.9L517.1,630.9L517.4,630.9L517.7,630.9L518.1,630.9L518.4,630.9L518.7,630.9L519.0,630.9L519.3,630.9L519.6,630.9L519.9,630.9L520.3,630.9L520.6,630.9L520.9,630.9L521.2,630.9L521.5,630.9L521.8,630.9L522.1,630.9L522.5,630.9L522.8,630.9L523.1,630.9L523.4,630.9L523.7,631.0L524.0,631.0L524.3,631.0L524.7,631.0L525.0,631.0L525.3,631.0L525.6,631.0L525.9,631.0L526.2,631.0L526.5,631.0L526.9,631.0L527.2,631.0L527.5,631.0L527.8,631.0L528.1,631.0L528.4,631.0L528.7,631.0L529.1,631.0L529.4,631.0L529.7,631.0L530.0,631.0L530.3,631.0L530.6,631.0L530.9,631.0L531.3,631.0L531.6,631.0L531.9,631.0L532.2,630.9L532.5,630.9L532.8,630.9L533.1,630.9L533.5,630.9L533.8,630.9L534.1,630.9L534.4,630.9L534.7,630.9L535.0,630.8L535.4,630.8L535.7,630.8L535.8,630.8L536.0,630.8L536.1,630.8L536.3,630.8L536.5,630.8L536.6,630.8L536.8,630.8L536.9,630.7L537.1,630.7L537.2,630.7L537.4,630.7L537.6,630.7L537.7,630.7L537.9,630.7L538.0,630.7L538.2,630.7L538.3,630.7L538.5,630.6L538.7,630.6L538.8,630.6L539.0,630.6L539.1,630.6L539.3,630.6L539.4,630.6L539.6,630.6L539.8,630.5L539.9,630.5L540.1,630.5L540.2,630.5L540.4,630.5L540.5,630.5L540.7,630.4L540.9,630.4L541.0,630.4L541.2,630.3L541.3,630.3L541.5,630.2L541.6,630.2L541.8,630.1L542.0,630.0L542.1,629.9L542.3,629.8L542.4,629.7L542.6,629.6L542.7,629.4L542.9,629.3L543.1,629.1L543.2,628.9L543.4,628.7L543.5,628.5L543.7,628.2L543.8,628.0L544.0,627.8L544.2,627.5L544.3,627.3L544.5,627.1L544.6,626.9L544.8,626.7L544.9,626.6L545.1,626.5L545.3,626.5L545.4,626.5L545.6,626.6L545.7,626.7L545.9,626.9L546.0,627.1L546.2,627.3L546.4,627.5L546.5,627.7L546.7,628.0L546.8,628.2L547.0,628.4L547.1,628.6L547.3,628.8L547.5,629.0L547.6,629.2L547.8,629.3L547.9,629.5L548.1,629.6L548.2,629.7L548.4,629.8L548.6,629.9L548.7,630.0L548.9,630.0L549.0,630.1L549.2,630.1L549.3,630.2L549.5,630.2L549.7,630.2L549.8,630.2L550.0,630.2L550.1,630.2L550.3,630.3L550.4,630.3L550.6,630.3L550.8,630.3L550.9,630.3L551.1,630.3L551.2,630.3L551.4,630.3L551.5,630.2L551.7,630.2L551.9,630.2L552.0,630.2L552.2,630.2L552.3,630.2L552.5,630.2L552.6,630.2L552.8,630.2L553.0,630.2L553.1,630.2L553.3,630.2L553.4,630.2L553.6,630.2L553.7,630.2L553.9,630.1L554.1,630.1L554.2,630.1L554.4,630.1L554.5,630.1L554.7,630.1L554.8,630.1L555.2,630.1L555.5,630.1L555.8,630.0L556.1,630.0L556.4,630.0L556.7,630.0L557.0,629.9L557.4,629.9L557.7,629.9L558.0,629.9L558.3,629.9L558.6,629.8L558.9,629.8L559.2,629.8L559.6,629.8L559.9,629.7L560.2,629.7L560.5,629.7L560.8,629.7L560.8,629.7L561.0,629.7L561.1,629.7L561.3,629.7L561.4,629.6L561.5,629.6L561.8,629.6L562.0,629.6L562.1,629.6L562.3,629.6L562.4,629.6L562.5,629.6L562.7,629.6L562.8,629.6L563.0,629.5L563.3,629.5L563.3,629.5L563.5,629.5L563.6,629.5L563.8,629.5L564.0,629.5L564.0,629.5L564.3,629.5L564.5,629.4L564.6,629.4L564.8,629.4L564.9,629.4L565.0,629.4L565.2,629.3L565.3,629.3L565.5,629.2L565.8,629.2L565.8,629.1L566.0,629.0L566.2,629.0L566.3,628.9L566.5,628.8L566.5,628.8L566.8,628.6L567.0,628.4L567.1,628.4L567.3,628.2L567.4,628.2L567.5,628.1L567.7,628.0L567.8,628.0L568.0,627.9L568.3,628.0L568.4,628.0L568.6,628.1L568.7,628.1L568.8,628.2L569.0,628.3L569.1,628.4L569.3,628.6L569.6,628.7L569.6,628.8L569.8,628.9L569.9,628.9L570.1,629.0L570.2,629.1L570.3,629.1L570.6,629.2L570.8,629.2L570.9,629.3L571.1,629.3L571.2,629.3L571.3,629.3L571.3,629.3L571.5,629.3L571.6,629.3L571.7,629.3L571.8,629.3L572.0,629.3L572.1,629.3L572.1,629.3L572.3,629.3L572.3,629.3L572.3,629.3L572.4,629.3L572.4,629.3L572.5,629.3L572.6,629.3L572.6,629.3L572.6,629.3L572.8,629.3L572.8,629.3L572.9,629.3L572.9,629.3L573.0,629.3L573.1,629.3L573.1,629.2L573.2,629.2L573.3,629.2L573.3,629.2L573.4,629.2L573.5,629.1L573.5,629.1L573.6,629.0L573.6,629.0L573.7,628.9L573.8,628.9L573.8,628.8L573.9,628.8L573.9,628.7L574.0,628.5L574.1,628.4L574.1,628.2L574.2,628.1L574.3,627.8L574.3,627.6L574.4,627.4L574.5,626.9L574.5,626.8L574.6,626.4L574.6,626.2L574.7,626.0L574.7,625.4L574.8,625.2L574.8,625.0L574.8,624.7L574.9,624.5L574.9,624.2L575.0,623.7L575.0,623.4L575.0,623.2L575.1,622.6L575.1,622.3L575.2,622.0L575.2,621.1L575.3,620.8L575.3,620.2L575.4,619.9L575.4,619.6L575.4,619.3L575.5,618.7L575.5,618.5L575.6,618.0L575.6,617.8L575.7,617.5L575.8,617.0L575.8,616.9L575.9,616.7L575.9,616.7L576.0,616.8L576.0,616.9L576.1,617.1L576.1,617.4L576.2,617.6L576.2,618.0L576.3,618.2L576.3,618.5L576.4,619.3L576.4,619.6L576.5,620.5L576.5,620.8L576.6,621.7L576.7,622.0L576.7,622.3L576.8,622.9L576.8,623.2L576.9,623.7L576.9,624.0L576.9,624.3L577.0,625.0L577.0,625.2L577.1,625.9L577.2,626.1L577.3,626.6L577.3,626.8L577.3,627.0L577.4,627.3L577.4,627.4L577.5,627.7L577.5,627.8L577.5,627.9L577.6,628.2L577.7,628.3L577.8,628.5L577.8,628.6L577.9,628.7L577.9,628.8L578.0,628.8L578.0,628.9L578.0,629.0L578.1,629.0L578.1,629.1L578.2,629.1L578.3,629.2L578.3,629.2L578.4,629.2L578.4,629.3L578.5,629.3L578.5,629.3L578.6,629.3L578.6,629.3L578.7,629.4L578.7,629.4L578.8,629.4L578.8,629.4L578.9,629.4L578.9,629.4L579.0,629.4L579.1,629.4L579.1,629.4L579.2,629.5L579.2,629.5L579.3,629.5L579.3,629.5L579.4,629.5L579.4,629.5L579.4,629.5L579.5,629.5L579.6,629.5L579.6,629.5L579.7,629.5L579.8,629.5L579.8,629.5L579.9,629.5L580.0,629.5L580.0,629.5L580.2,629.5L580.3,629.5L580.3,629.5L580.4,629.5L580.5,629.6L580.5,629.6L580.6,629.6L580.7,629.6L580.8,629.6L580.9,629.6L580.9,629.6L581.0,629.6L581.2,629.6L581.3,629.6L581.3,629.6L581.4,629.6L581.5,629.6L581.6,629.6L581.7,629.6L581.8,629.6L581.9,629.6L581.9,629.6L582.0,629.6L582.1,629.6L582.2,629.6L582.3,629.6L582.5,629.6L582.5,629.6L582.8,629.5L582.8,629.5L583.0,629.5L583.1,629.5L583.2,629.5L583.4,629.5L583.5,629.5L583.6,629.5L583.8,629.5L583.9,629.5L584.1,629.5L584.3,629.4L584.4,629.4L584.5,629.4L584.7,629.3L584.7,629.3L585.0,629.3L585.0,629.2L585.2,629.2L585.3,629.1L585.4,629.0L585.6,628.9L585.7,628.8L585.8,628.6L586.0,628.4L586.1,628.2L586.3,627.7L586.5,627.0L586.6,626.6L586.7,626.1L586.9,625.2L586.9,625.0L587.2,623.7L587.2,623.4L587.4,622.3L587.5,621.2L587.6,620.8L587.8,619.3L587.9,619.1L588.0,618.0L588.2,617.4L588.3,617.1L588.5,616.7L588.7,617.1L588.8,617.4L588.9,618.0L589.1,619.1L589.1,619.3L589.4,620.8L589.4,621.2L589.6,622.3L589.7,623.3L589.8,623.7L590.0,625.0L590.1,625.1L590.2,626.0L590.4,626.6L590.5,626.9L590.7,627.6L590.9,628.1L591.0,628.3L591.1,628.5L591.3,628.7L591.3,628.7L591.6,628.9L591.6,629.0L591.8,629.0L591.9,629.1L592.0,629.1L592.1,629.1L592.2,629.1L592.2,629.1L592.3,629.1L592.4,629.2L592.4,629.2L592.5,629.2L592.6,629.2L592.7,629.2L592.7,629.2L592.8,629.2L592.8,629.2L592.9,629.1L592.9,629.1L593.1,629.1L593.1,629.1L593.1,629.1L593.2,629.1L593.2,629.1L593.3,629.1L593.4,629.1L593.5,629.0L593.5,629.0L593.5,629.0L593.6,629.0L593.7,629.0L593.7,628.9L593.8,628.9L593.8,628.9L593.8,628.9L593.9,628.8L594.0,628.8L594.0,628.7L594.1,628.6L594.1,628.6L594.2,628.5L594.2,628.4L594.3,628.2L594.4,628.2L594.4,628.0L594.5,627.9L594.5,627.7L594.6,627.4L594.6,627.1L594.7,626.8L594.8,626.4L594.8,626.3L594.8,625.9L594.9,625.7L594.9,625.1L595.0,624.8L595.1,623.6L595.1,623.4L595.2,621.6L595.3,619.5L595.4,619.2L595.4,618.3L595.5,617.1L595.5,616.4L595.6,614.3L595.6,613.2L595.7,611.4L595.8,609.9L595.8,608.4L595.9,606.5L596.0,605.5L596.0,604.2L596.1,603.6L596.1,603.0L596.2,601.5L596.2,601.4L596.3,600.8L596.5,601.4L596.5,601.5L596.6,603.1L596.6,603.6L596.7,604.2L596.7,605.5L596.8,606.6L596.8,608.4L596.9,609.9L597.0,611.4L597.1,613.3L597.1,614.4L597.2,616.4L597.2,617.1L597.3,618.4L597.3,619.3L597.4,619.6L597.5,621.7L597.6,623.5L597.6,623.7L597.7,624.9L597.8,625.2L597.9,626.0L597.9,626.4L597.9,626.5L598.0,626.9L598.0,627.2L598.1,627.5L598.2,627.8L598.2,628.0L598.3,628.3L598.4,628.4L598.5,628.6L598.5,628.6L598.5,628.7L598.6,628.8L598.7,628.9L598.7,628.9L598.9,629.0L598.9,629.1L599.0,629.1L599.0,629.1L599.1,629.2L599.2,629.2L599.2,629.2L599.3,629.3L599.4,629.3L599.5,629.3L599.5,629.3L599.6,629.4L599.6,629.4L599.7,629.4L599.8,629.4L599.9,629.4L599.9,629.4L600.0,629.5L600.0,629.5L600.1,629.5L600.2,629.5L600.3,629.5L600.4,629.5L600.4,629.5L600.7,629.6L601.1,629.6L601.4,629.6L601.7,629.7L602.0,629.7L602.3,629.7L602.6,629.7L602.9,629.7L603.3,629.7L603.6,629.7L603.9,629.8L604.2,629.8L604.5,629.8L604.8,629.8L605.1,629.8L605.5,629.8L605.7,629.8L605.8,629.8L605.9,629.8L606.1,629.8L606.1,629.8L606.3,629.8L606.4,629.8L606.6,629.8L606.7,629.8L606.8,629.8L607.0,629.8L607.0,629.8L607.2,629.8L607.3,629.8L607.4,629.8L607.7,629.8L607.9,629.7L608.0,629.7L608.1,629.7L608.3,629.7L608.3,629.7L608.5,629.7L608.6,629.7L608.8,629.6L608.9,629.6L609.0,629.6L609.2,629.5L609.2,629.5L609.4,629.4L609.5,629.3L609.6,629.2L609.9,629.0L610.1,628.6L610.2,628.5L610.3,628.2L610.5,627.8L610.5,627.7L610.7,627.2L610.8,627.0L611.0,626.5L611.1,626.0L611.2,625.8L611.4,625.1L611.4,625.0L611.6,624.5L611.7,624.2L611.8,624.1L612.1,623.9L612.3,624.1L612.4,624.2L612.5,624.5L612.7,625.0L612.7,625.1L612.9,625.8L613.0,626.0L613.2,626.5L613.3,627.0L613.4,627.2L613.6,627.8L613.6,627.8L613.8,628.3L614.0,628.5L614.0,628.7L614.3,629.0L614.5,629.2L614.6,629.3L614.7,629.4L614.9,629.5L614.9,629.5L615.1,629.6L615.2,629.6L615.4,629.7L615.5,629.7L615.6,629.7L615.8,629.8L615.8,629.8L616.0,629.8L616.2,629.8L616.2,629.8L616.5,629.8L616.7,629.8L616.8,629.8L616.9,629.8L617.1,629.8L617.1,629.8L617.3,629.9L617.4,629.9L617.6,629.9L617.6,629.9L617.7,629.9L617.8,629.9L617.8,629.9L618.0,629.9L618.0,629.9L618.1,629.9L618.2,629.9L618.4,629.9L618.4,629.9L618.6,629.9L618.7,629.9L618.9,629.9L619.0,629.9L619.1,629.9L619.3,629.9L619.4,629.9L619.6,629.9L619.9,629.9L619.9,629.9L620.1,629.9L620.2,629.9L620.4,629.9L620.6,629.9L620.6,629.9L620.9,629.9L621.1,629.8L621.2,629.8L621.4,629.8L621.5,629.8L621.6,629.8L621.8,629.7L621.9,629.7L622.1,629.6L622.4,629.5L622.4,629.5L622.6,629.4L622.8,629.3L622.9,629.2L623.1,629.1L623.1,629.0L623.4,628.8L623.6,628.6L623.7,628.5L623.9,628.4L624.0,628.3L624.1,628.2L624.3,628.0L624.4,628.0L624.6,628.0L624.9,628.0L625.0,628.0L625.1,628.2L625.3,628.3L625.4,628.4L625.6,628.5L625.6,628.6L625.9,628.8L626.1,629.1L626.2,629.1L626.4,629.2L626.5,629.3L626.7,629.4L626.8,629.5L626.9,629.5L627.2,629.7L627.4,629.7L627.5,629.8L627.7,629.8L627.8,629.8L627.9,629.8L628.1,629.9L628.2,629.9L628.4,629.9L628.7,629.9L628.7,629.9L628.9,629.9L629.0,629.9L629.2,629.9L629.4,629.9L629.4,629.9L629.7,629.9L629.9,629.9L630.0,629.9L630.2,629.9L630.3,629.9L630.4,629.9L630.6,629.9L630.7,629.9L630.9,630.0L631.2,630.0L631.2,630.0L631.4,630.0L631.6,630.0L631.7,630.0L631.9,630.0L631.9,630.0L632.2,630.0L632.5,630.0L632.8,630.0L633.1,630.0L633.4,630.0L633.8,630.0L634.1,630.0L634.4,630.0L634.7,630.0L635.0,630.0L635.3,630.0L635.6,630.0L636.0,630.0L636.3,630.0L636.6,630.0L636.9,630.0L637.2,630.0L637.5,630.0L637.8,630.0L638.2,630.0L638.5,630.0L638.8,630.0L639.1,630.0L639.4,630.0L639.7,630.0L640.0,630.0L640.4,630.0L640.7,630.0L641.0,630.0L641.3,630.0L641.6,630.0L641.9,630.0L642.2,630.0L642.6,630.0L642.9,630.0L643.2,630.0L643.4,630.0L643.5,630.0L643.6,630.0L643.8,630.0L643.8,630.0L644.1,630.0L644.1,630.0L644.3,630.0L644.3,630.0L644.4,630.0L644.5,630.0L644.7,630.0L644.7,630.0L644.8,630.0L644.9,630.0L645.0,630.0L645.1,630.0L645.2,630.0L645.3,630.0L645.4,630.0L645.5,629.9L645.6,629.9L645.6,629.9L645.7,629.9L645.8,629.9L646.0,629.9L646.1,629.9L646.2,629.9L646.3,629.9L646.3,629.9L646.4,629.9L646.5,629.9L646.6,629.9L646.6,629.9L646.7,629.9L646.8,629.9L646.9,629.9L647.0,629.9L647.2,629.9L647.3,629.9L647.3,629.8L647.4,629.8L647.5,629.8L647.6,629.8L647.7,629.7L647.8,629.7L647.9,629.7L648.0,629.6L648.1,629.6L648.2,629.5L648.3,629.4L648.3,629.4L648.5,629.3L648.5,629.2L648.7,629.1L648.7,629.0L648.8,628.8L648.9,628.8L649.0,628.6L649.1,628.5L649.2,628.5L649.2,628.4L649.4,628.2L649.4,628.2L649.5,628.1L649.6,628.1L649.6,628.0L649.8,628.0L650.0,628.0L650.0,628.1L650.1,628.1L650.2,628.2L650.2,628.2L650.4,628.4L650.4,628.5L650.5,628.5L650.5,628.6L650.7,628.8L650.7,628.8L650.9,629.0L650.9,629.1L651.0,629.2L651.1,629.3L651.3,629.4L651.3,629.4L651.4,629.5L651.5,629.6L651.6,629.6L651.7,629.7L651.8,629.7L651.9,629.7L652.0,629.8L652.1,629.8L652.2,629.8L652.2,629.8L652.3,629.9L652.4,629.9L652.6,629.9L652.7,629.9L652.8,629.9L652.9,629.9L652.9,629.9L653.0,629.9L653.1,629.9L653.2,629.9L653.3,629.9L653.3,629.9L653.4,629.9L653.5,629.9L653.6,629.9L653.8,629.9L653.9,629.9L653.9,629.9L654.0,629.9L654.1,629.9L654.2,629.9L654.3,629.9L654.4,629.9L654.5,630.0L654.6,630.0L654.7,630.0L654.8,630.0L654.9,630.0L654.9,630.0L655.1,630.0L655.1,630.0L655.3,630.0L655.3,630.0L655.5,630.0L655.5,630.0L655.7,630.0L655.8,630.0L656.0,630.0L656.1,630.0L656.2,630.0L656.4,630.0L656.7,630.0L657.0,630.0L657.3,630.0L657.7,630.0L658.0,630.0L658.3,630.0L658.6,630.0L658.9,630.0L659.2,630.0L659.5,630.0L659.9,630.0L660.2,630.0L660.5,630.0L660.8,630.0L661.1,630.0L661.4,630.0L661.7,630.0L662.1,630.0L662.4,630.0L662.7,630.0L663.0,629.9L663.3,629.9L663.6,629.9L663.9,629.9L664.3,629.9L664.6,629.9L664.9,629.9L665.2,629.9L665.5,629.9L665.8,629.9L666.1,629.9L666.5,629.9L666.8,629.9L667.1,629.9L667.4,629.9L667.7,629.9L668.0,629.9L668.3,629.9L668.6,629.9L668.7,629.8L668.8,629.8L669.0,629.8L669.0,629.8L669.2,629.8L669.3,629.8L669.4,629.8L669.6,629.8L669.7,629.8L669.9,629.8L669.9,629.8L670.1,629.8L670.2,629.7L670.3,629.7L670.5,629.7L670.7,629.7L670.8,629.7L670.8,629.7L670.9,629.7L671.0,629.6L671.1,629.6L671.2,629.6L671.2,629.6L671.3,629.6L671.4,629.5L671.4,629.5L671.5,629.5L671.5,629.4L671.6,629.4L671.7,629.4L671.8,629.3L671.8,629.3L671.9,629.3L672.0,629.2L672.1,629.1L672.1,629.0L672.3,628.8L672.3,628.8L672.4,628.6L672.4,628.5L672.5,628.3L672.5,628.3L672.7,628.0L672.7,627.8L672.8,627.5L673.0,627.0L673.1,626.7L673.1,626.5L673.2,626.1L673.2,625.8L673.4,625.1L673.4,625.0L673.4,624.9L673.5,624.2L673.6,623.6L673.7,623.2L673.7,623.1L673.8,622.3L673.8,622.0L674.0,621.2L674.0,620.9L674.1,620.4L674.1,620.2L674.2,619.1L674.3,618.8L674.3,618.6L674.4,618.1L674.5,617.4L674.5,617.3L674.6,616.7L674.7,616.6L674.7,616.4L674.8,616.1L674.9,616.0L675.1,616.1L675.2,616.4L675.2,616.6L675.3,616.7L675.4,617.3L675.4,617.4L675.5,618.1L675.6,618.6L675.6,618.8L675.7,619.1L675.8,620.2L675.8,620.4L675.9,620.9L675.9,621.2L676.0,622.0L676.1,622.3L676.2,623.1L676.2,623.2L676.3,623.6L676.4,624.2L676.5,624.9L676.5,625.0L676.5,625.1L676.6,625.8L676.7,626.1L676.8,626.5L676.8,626.7L676.9,627.0L677.1,627.5L677.1,627.8L677.2,628.0L677.3,628.3L677.4,628.3L677.5,628.5L677.5,628.6L677.6,628.8L677.6,628.8L677.8,629.0L677.8,629.1L677.9,629.2L678.0,629.3L678.1,629.3L678.1,629.3L678.2,629.4L678.2,629.4L678.3,629.4L678.4,629.5L678.5,629.5L678.5,629.5L678.6,629.6L678.7,629.6L678.7,629.6L678.8,629.6L678.9,629.6L679.0,629.7L679.0,629.7L679.1,629.7L679.3,629.7L679.6,629.7L679.7,629.7L679.8,629.8L680.0,629.8L680.0,629.8L680.2,629.8L680.3,629.8L680.4,629.8L680.6,629.8L680.7,629.8L680.9,629.8L680.9,629.8L681.1,629.8L681.2,629.8L681.3,629.9L681.5,629.9L681.9,629.9L682.2,629.9L682.5,629.9L682.8,629.9L683.1,629.9L683.4,629.9L683.7,629.9L684.1,629.9L684.4,629.9L684.7,629.9L685.0,629.9L685.3,629.9L685.6,629.9L685.9,629.9L686.3,629.9L686.6,629.9L686.9,630.0L687.2,630.0L687.5,630.0L687.8,630.0L688.1,629.9L688.5,629.9L688.8,629.9L689.1,629.9L689.4,629.9L689.7,629.8L690.0,629.8L690.3,629.7L690.7,629.7L691.0,629.6L691.3,629.6L691.6,629.5L691.9,629.4L692.2,629.4L692.6,629.3L692.9,629.2L693.2,629.1L693.5,629.1L693.8,629.0L694.1,628.9L694.4,628.8L694.8,628.7L695.1,628.7L695.4,628.6L695.7,628.5L696.0,628.5L696.3,628.4L696.6,628.3L697.0,628.3L697.3,628.2L697.6,628.2L697.9,628.1L698.2,628.1L698.5,628.1L698.8,628.0L699.2,628.0L699.5,628.0L699.8,628.0L700.1,628.0L700.4,628.0L700.7,628.0L701.0,628.0L701.4,628.0L701.7,627.9L702.0,627.9L702.3,627.9L702.6,627.9L702.9,627.8L703.2,627.8L703.6,627.8L703.9,627.7L704.2,627.7L704.5,627.7L704.8,627.6L705.1,627.6L705.4,627.5L705.8,627.5L706.1,627.4L706.4,627.4L706.7,627.3L707.0,627.3L707.3,627.2L707.6,627.2L708.0,627.1L708.3,627.0L708.6,627.0L708.9,626.9L709.2,626.9L709.5,626.9L709.8,626.8L710.2,626.8L710.5,626.7L710.8,626.7L711.1,626.6L711.4,626.6L711.7,626.6L712.0,626.6L712.4,626.5L712.7,626.5L713.0,626.5L713.3,626.5L713.6,626.5L713.9,626.5L714.2,626.5L714.6,626.5L714.9,626.5L715.2,626.5L715.5,626.6L715.8,626.6L716.1,626.7L716.4,626.7L716.8,626.8L717.1,626.9L717.4,627.0L717.7,627.0L718.0,627.1L718.3,627.2L718.6,627.3L719.0,627.4L719.3,627.5L719.6,627.6L719.9,627.6L720.2,627.7L720.4,627.7L720.5,627.7L720.7,627.8L720.8,627.8L720.9,627.8L721.1,627.8L721.2,627.8L721.3,627.8L721.5,627.8L721.5,627.8L721.8,627.8L721.8,627.8L722.0,627.8L722.1,627.8L722.2,627.8L722.4,627.8L722.6,627.7L722.7,627.7L722.9,627.7L723.0,627.7L723.1,627.7L723.3,627.7L723.4,627.6L723.5,627.6L723.7,627.5L723.7,627.5L724.0,627.4L724.0,627.3L724.2,627.2L724.3,627.0L724.4,626.9L724.6,626.4L724.8,625.9L724.9,625.6L725.1,625.2L725.2,624.4L725.3,624.3L725.5,623.3L725.6,623.0L725.7,622.1L725.9,621.2L725.9,620.9L726.2,619.7L726.2,619.5L726.4,618.6L726.5,618.1L726.6,617.9L726.8,617.6L727.0,618.0L727.1,618.3L727.3,618.8L727.4,619.8L727.5,620.0L727.7,621.3L727.8,621.7L727.9,622.6L728.1,623.5L728.1,623.9L728.4,625.0L728.4,625.2L728.6,626.0L728.7,626.5L728.8,626.8L729.0,627.4L729.2,627.9L729.3,628.1L729.5,628.3L729.6,628.5L729.7,628.6L729.9,628.8L730.0,628.8L730.1,629.0L730.3,629.0L730.3,629.1L730.6,629.2L730.6,629.2L730.8,629.3L730.9,629.3L731.0,629.3L731.2,629.4L731.4,629.5L731.5,629.5L731.7,629.5L731.9,629.6L731.9,629.6L732.1,629.6L732.2,629.6L732.3,629.7L732.5,629.7L732.5,629.7L732.8,629.8L732.8,629.8L733.0,629.8L733.1,629.8L733.2,629.8L733.4,629.8L733.7,629.9L734.1,629.9L734.4,629.9L734.7,629.9L735.0,629.9L735.3,629.9L735.6,629.9L735.9,630.0L736.3,630.0L736.6,630.0L736.9,630.0L737.2,630.0L737.5,630.0L737.8,630.1L738.1,630.1L738.5,630.1L738.8,630.1L739.1,630.1L739.4,630.2L739.7,630.2L740.0,630.2L740.3,630.3L740.7,630.3L741.0,630.3L741.3,630.4L741.6,630.4L741.9,630.4L742.2,630.4L742.5,630.5L742.9,630.5L743.2,630.5L743.5,630.6L743.8,630.6L744.1,630.6L744.4,630.7L744.7,630.7L745.1,630.7L745.4,630.8L745.7,630.8L746.0,630.8L746.3,630.8L746.6,630.9L746.9,630.9L747.3,630.9L747.6,630.9L747.9,630.9L748.2,630.9L748.5,631.0L748.8,631.0L749.1,631.0L749.5,631.0L749.8,631.0L750.1,631.0L750.4,631.0" fill="none" stroke="#e94b4c" stroke-width="1.5" stroke-linejoin="round"/>
<path d="M443.9,656.5L444.2,656.6L444.5,656.4L444.8,656.8L445.1,656.7L445.4,656.6L445.7,656.5L446.1,656.5L446.4,656.7L446.7,656.7L447.0,656.5L447.3,656.7L447.6,656.8L447.9,656.6L448.3,656.6L448.6,656.6L448.9,656.8L449.2,656.6L449.5,656.8L449.8,656.8L450.1,656.6L450.5,656.6L450.8,656.5L451.1,656.7L451.4,656.4L451.7,656.5L452.0,656.6L452.3,656.8L452.7,656.6L453.0,656.7L453.3,656.5L453.6,656.5L453.9,656.8L454.2,656.4L454.5,656.7L454.9,656.5L455.2,656.5L455.5,656.4L455.8,656.8L456.1,656.7L456.4,656.4L456.8,656.8L457.1,656.6L457.4,656.7L457.7,656.5L458.0,656.6L458.3,656.6L458.6,654.3L459.0,656.5L459.3,656.5L459.6,656.4L459.9,656.6L460.2,656.4L460.5,656.5L460.8,656.5L461.2,656.6L461.5,656.8L461.8,656.6L462.1,656.6L462.4,656.6L462.7,656.6L463.0,656.6L463.4,656.8L463.7,656.6L464.0,656.5L464.3,656.4L464.6,655.8L464.9,652.8L465.2,651.8L465.6,655.1L465.9,659.9L466.2,661.6L466.5,658.9L466.8,657.2L467.1,656.8L467.4,656.7L467.8,656.7L468.1,656.6L468.4,656.7L468.7,656.8L469.0,656.4L469.3,656.8L469.6,656.4L470.0,656.4L470.3,656.7L470.6,656.5L470.9,656.6L471.2,656.8L471.5,656.4L471.8,656.4L472.2,656.4L472.5,656.7L472.8,656.6L473.1,656.5L473.4,656.5L473.7,656.7L474.0,656.6L474.4,656.4L474.7,656.6L475.0,656.6L475.3,656.5L475.6,658.3L475.9,656.7L476.2,656.6L476.6,656.7L476.9,656.5L477.2,656.8L477.5,656.4L477.8,656.8L478.1,656.6L478.4,656.7L478.8,656.8L479.1,656.5L479.4,656.6L479.7,656.5L480.0,656.5L480.3,656.6L480.6,656.6L481.0,655.7L481.3,656.6L481.6,656.7L481.9,656.4L482.2,656.7L482.5,656.7L482.8,656.7L483.2,656.6L483.5,656.8L483.8,656.8L484.1,656.8L484.4,656.6L484.7,656.4L485.0,656.5L485.4,656.4L485.7,656.5L486.0,656.5L486.3,656.5L486.6,656.5L486.9,656.4L487.2,656.8L487.6,656.7L487.9,656.5L488.2,656.4L488.5,656.7L488.8,656.7L489.1,656.5L489.4,656.6L489.8,656.8L490.1,656.8L490.4,656.7L490.7,656.7L491.0,656.7L491.3,656.8L491.6,656.6L492.0,656.7L492.3,656.5L492.6,656.7L492.9,656.8L493.2,656.6L493.5,656.5L493.8,656.4L494.2,656.6L494.5,656.6L494.8,656.8L495.1,656.5L495.4,656.8L495.7,656.8L496.1,656.5L496.4,656.5L496.7,656.8L497.0,656.7L497.3,656.5L497.6,656.8L497.9,656.7L498.3,656.6L498.6,656.5L498.9,656.5L499.2,656.4L499.5,656.4L499.8,656.8L500.1,656.8L500.5,656.7L500.8,656.8L501.1,656.7L501.4,656.7L501.7,656.6L502.0,656.5L502.3,656.6L502.7,656.5L503.0,656.5L503.3,656.7L503.6,656.5L503.9,656.6L504.2,656.8L504.5,656.8L504.9,656.5L505.2,656.7L505.5,656.6L505.8,656.7L506.1,656.7L506.4,656.7L506.7,656.8L507.1,656.7L507.4,656.6L507.7,656.7L508.0,656.5L508.3,656.8L508.6,656.4L508.9,656.5L509.3,656.7L509.6,656.8L509.9,656.5L510.2,656.8L510.5,656.8L510.8,656.7L511.1,656.6L511.5,656.5L511.8,656.7L512.1,656.6L512.4,656.5L512.7,656.4L513.0,656.8L513.3,656.4L513.7,656.7L514.0,656.4L514.3,656.7L514.6,656.4L514.9,656.4L515.2,656.5L515.5,656.8L515.9,656.7L516.2,656.6L516.5,656.4L516.8,656.8L517.1,656.8L517.4,656.7L517.7,656.7L518.1,656.5L518.4,656.8L518.7,656.5L519.0,656.6L519.3,656.7L519.6,656.7L519.9,656.6L520.3,656.5L520.6,656.8L520.9,656.7L521.2,656.8L521.5,656.4L521.8,656.8L522.1,656.8L522.5,656.4L522.8,656.6L523.1,656.5L523.4,656.7L523.7,656.8L524.0,656.6L524.3,656.8L524.7,656.7L525.0,656.7L525.3,656.7L525.6,656.5L525.9,656.5L526.2,656.8L526.5,656.5L526.9,656.5L527.2,656.8L527.5,656.7L527.8,656.4L528.1,656.7L528.4,656.7L528.7,656.5L529.1,656.6L529.4,656.6L529.7,656.7L530.0,656.7L530.3,656.5L530.6,656.5L530.9,656.5L531.3,656.5L531.6,656.7L531.9,656.5L532.2,656.8L532.5,656.4L532.8,656.7L533.1,656.8L533.5,656.4L533.8,656.7L534.1,656.4L534.4,656.6L534.7,656.6L535.0,656.4L535.4,656.7L535.7,656.4L536.0,656.6L536.3,656.6L536.6,656.6L536.9,656.6L537.2,656.6L537.6,656.4L537.9,656.7L538.2,656.4L538.5,656.5L538.8,656.5L539.1,656.5L539.4,656.7L539.8,656.8L540.1,656.5L540.4,656.6L540.7,656.5L541.0,656.5L541.3,656.4L541.6,656.6L542.0,656.5L542.3,656.6L542.6,656.7L542.9,656.4L543.2,656.7L543.5,656.6L543.8,656.3L544.2,656.3L544.5,655.5L544.8,655.2L545.1,655.7L545.4,656.3L545.7,656.7L546.0,656.4L546.4,656.4L546.7,656.8L547.0,656.7L547.3,656.7L547.6,656.8L547.9,654.3L548.2,656.5L548.6,656.6L548.9,656.7L549.2,656.7L549.5,656.6L549.8,656.4L550.1,656.4L550.4,656.7L550.8,656.5L551.1,656.6L551.4,656.7L551.7,656.8L552.0,656.7L552.3,656.6L552.6,656.5L553.0,656.6L553.3,656.5L553.6,656.5L553.9,656.7L554.2,656.6L554.5,656.5L554.8,656.7L555.2,656.8L555.5,656.5L555.8,656.5L556.1,656.5L556.4,656.6L556.7,656.5L557.0,656.5L557.4,656.7L557.7,656.7L558.0,656.4L558.3,658.2L558.6,656.4L558.9,656.6L559.2,656.5L559.6,656.6L559.9,656.6L560.2,656.5L560.5,656.7L560.8,658.9L561.1,656.6L561.4,656.6L561.8,656.5L562.1,656.0L562.4,656.7L562.7,656.6L563.0,656.6L563.3,656.6L563.6,656.6L564.0,656.4L564.3,656.4L564.6,656.7L564.9,656.8L565.2,656.7L565.5,656.6L565.8,656.4L566.2,656.8L566.5,656.7L566.8,656.6L567.1,656.8L567.4,656.7L567.7,656.5L568.0,656.4L568.4,656.7L568.7,656.5L569.0,656.6L569.3,656.5L569.6,656.6L569.9,656.4L570.2,656.4L570.6,656.7L570.9,656.7L571.2,656.4L571.5,656.5L571.8,656.6L572.1,656.8L572.4,656.7L572.8,656.8L573.1,656.5L573.4,656.7L573.7,656.8L574.0,656.7L574.3,656.7L574.7,656.7L575.0,656.3L575.3,655.7L575.6,653.5L575.9,655.6L576.2,658.4L576.5,658.0L576.9,656.6L577.2,656.6L577.5,656.3L577.8,654.5L578.1,654.1L578.4,656.9L578.7,658.7L579.1,657.0L579.4,656.6L579.7,656.6L580.0,656.8L580.3,656.7L580.6,656.5L580.9,656.8L581.3,656.7L581.6,656.6L581.9,656.5L582.2,656.6L582.5,656.7L582.8,656.8L583.1,656.7L583.5,656.7L583.8,656.7L584.1,656.4L584.4,656.5L584.7,656.8L585.0,656.7L585.3,656.6L585.7,656.7L586.0,656.4L586.3,656.6L586.6,656.5L586.9,656.7L587.2,656.7L587.5,656.8L587.9,656.6L588.2,656.7L588.5,656.5L588.8,656.6L589.1,656.5L589.4,656.6L589.7,656.6L590.1,656.7L590.4,656.5L590.7,656.6L591.0,656.3L591.3,656.6L591.6,656.6L591.9,656.5L592.3,656.5L592.6,656.8L592.9,656.7L593.2,656.4L593.5,656.7L593.8,656.6L594.1,656.5L594.5,656.6L594.8,656.6L595.1,656.8L595.4,656.4L595.7,651.8L596.0,642.6L596.3,650.7L596.7,659.8L597.0,659.3L597.3,656.8L597.6,656.6L597.9,656.6L598.2,656.6L598.5,656.6L598.9,656.5L599.2,656.6L599.5,656.6L599.8,656.5L600.1,656.6L600.4,656.4L600.7,656.4L601.1,656.5L601.4,656.4L601.7,656.5L602.0,656.7L602.3,656.4L602.6,656.6L602.9,656.5L603.3,656.6L603.6,656.4L603.9,656.8L604.2,656.7L604.5,656.6L604.8,656.7L605.1,656.7L605.5,656.7L605.8,656.7L606.1,656.7L606.4,656.4L606.7,656.5L607.0,656.3L607.3,656.6L607.7,656.8L608.0,656.4L608.3,656.7L608.6,656.6L608.9,656.7L609.2,656.7L609.5,656.7L609.9,656.8L610.2,656.4L610.5,656.5L610.8,656.4L611.1,656.2L611.4,655.0L611.7,654.5L612.1,655.5L612.4,656.3L612.7,656.7L613.0,656.6L613.3,656.5L613.6,656.6L614.0,656.5L614.3,656.7L614.6,656.6L614.9,656.8L615.2,656.5L615.5,656.7L615.8,656.6L616.2,656.7L616.5,656.5L616.8,656.5L617.1,656.5L617.4,656.6L617.7,656.8L618.0,656.6L618.4,656.7L618.7,656.6L619.0,656.8L619.3,656.7L619.6,656.8L619.9,656.8L620.2,656.4L620.6,656.5L620.9,656.6L621.2,656.6L621.5,656.8L621.8,656.6L622.1,656.5L622.4,656.5L622.8,656.6L623.1,656.6L623.4,656.6L623.7,656.4L624.0,656.6L624.3,656.4L624.6,656.5L625.0,656.7L625.3,656.6L625.6,656.5L625.9,656.6L626.2,656.4L626.5,656.5L626.8,656.5L627.2,656.5L627.5,656.8L627.8,656.8L628.1,656.8L628.4,656.6L628.7,656.6L629.0,656.7L629.4,656.5L629.7,656.7L630.0,656.4L630.3,656.4L630.6,656.4L630.9,656.8L631.2,656.7L631.6,656.7L631.9,656.5L632.2,656.6L632.5,656.6L632.8,656.7L633.1,656.4L633.4,656.7L633.8,656.7L634.1,656.7L634.4,656.4L634.7,656.8L635.0,656.7L635.3,656.6L635.6,656.6L636.0,656.6L636.3,656.6L636.6,656.6L636.9,656.5L637.2,656.5L637.5,656.5L637.8,656.5L638.2,656.5L638.5,656.7L638.8,656.5L639.1,656.6L639.4,656.4L639.7,656.7L640.0,656.4L640.4,656.5L640.7,656.5L641.0,656.6L641.3,656.7L641.6,656.5L641.9,656.5L642.2,656.7L642.6,656.7L642.9,656.8L643.2,656.6L643.5,656.5L643.8,656.6L644.1,656.4L644.4,656.7L644.8,656.6L645.1,656.5L645.4,656.5L645.7,656.6L646.0,656.5L646.3,656.6L646.6,656.6L647.0,656.5L647.3,656.4L647.6,656.7L647.9,656.6L648.2,656.5L648.5,656.6L648.8,656.6L649.2,655.0L649.5,651.8L649.8,654.1L650.1,656.3L650.4,656.7L650.7,656.7L651.0,656.8L651.4,656.5L651.7,656.6L652.0,656.7L652.3,656.7L652.6,656.6L652.9,656.7L653.3,656.4L653.6,656.5L653.9,656.6L654.2,656.5L654.5,656.4L654.8,656.7L655.1,656.6L655.5,656.4L655.8,656.7L656.1,656.8L656.4,656.8L656.7,656.7L657.0,656.6L657.3,656.6L657.7,656.7L658.0,656.7L658.3,656.7L658.6,656.7L658.9,656.5L659.2,656.6L659.5,656.5L659.9,656.5L660.2,656.4L660.5,656.7L660.8,656.5L661.1,656.6L661.4,656.5L661.7,656.4L662.1,656.4L662.4,656.4L662.7,656.5L663.0,656.4L663.3,656.5L663.6,656.7L663.9,656.6L664.3,656.6L664.6,656.5L664.9,656.8L665.2,656.7L665.5,656.4L665.8,656.7L666.1,656.6L666.5,656.5L666.8,656.4L667.1,656.5L667.4,656.6L667.7,656.5L668.0,656.7L668.3,656.6L668.7,656.7L669.0,656.6L669.3,656.4L669.6,656.7L669.9,656.7L670.2,656.6L670.5,656.7L670.9,656.5L671.2,656.5L671.5,656.8L671.8,656.5L672.1,656.8L672.4,656.6L672.7,656.7L673.1,656.7L673.4,656.7L673.7,656.6L674.0,656.6L674.3,654.0L674.6,648.7L674.9,653.1L675.3,658.1L675.6,658.0L675.9,656.8L676.2,656.8L676.5,656.5L676.8,656.8L677.1,656.7L677.5,656.6L677.8,656.5L678.1,656.7L678.4,656.6L678.7,656.8L679.0,656.8L679.3,656.4L679.7,656.4L680.0,656.5L680.3,656.7L680.6,656.6L680.9,656.8L681.2,656.8L681.5,656.4L681.9,656.5L682.2,656.4L682.5,656.7L682.8,656.5L683.1,656.4L683.4,656.6L683.7,656.6L684.1,656.7L684.4,656.5L684.7,656.7L685.0,656.5L685.3,656.5L685.6,656.8L685.9,656.6L686.3,656.6L686.6,656.4L686.9,656.6L687.2,656.5L687.5,656.7L687.8,656.7L688.1,656.7L688.5,656.7L688.8,656.5L689.1,656.8L689.4,656.7L689.7,656.6L690.0,656.8L690.3,656.7L690.7,656.5L691.0,656.7L691.3,656.7L691.6,656.6L691.9,656.7L692.2,656.6L692.6,656.7L692.9,656.5L693.2,656.6L693.5,656.4L693.8,656.5L694.1,656.4L694.4,656.6L694.8,656.5L695.1,656.8L695.4,656.6L695.7,656.8L696.0,656.6L696.3,656.5L696.6,656.5L697.0,656.6L697.3,656.8L697.6,656.5L697.9,656.8L698.2,656.5L698.5,656.5L698.8,656.8L699.2,656.5L699.5,656.4L699.8,656.6L700.1,656.7L700.4,656.6L700.7,656.5L701.0,656.5L701.4,656.8L701.7,656.8L702.0,656.7L702.3,656.7L702.6,655.8L702.9,656.5L703.2,656.6L703.6,656.5L703.9,656.5L704.2,656.5L704.5,656.6L704.8,656.6L705.1,656.5L705.4,656.6L705.8,656.5L706.1,656.6L706.4,656.6L706.7,656.5L707.0,656.6L707.3,656.7L707.6,656.5L708.0,656.6L708.3,656.6L708.6,656.7L708.9,656.4L709.2,656.7L709.5,656.5L709.8,656.4L710.2,656.6L710.5,656.6L710.8,656.4L711.1,656.6L711.4,656.5L711.7,656.7L712.0,656.8L712.4,656.4L712.7,656.6L713.0,656.4L713.3,656.7L713.6,656.8L713.9,656.6L714.2,656.6L714.6,656.7L714.9,656.5L715.2,656.6L715.5,656.5L715.8,656.7L716.1,656.6L716.4,656.6L716.8,656.5L717.1,656.5L717.4,656.6L717.7,656.7L718.0,656.4L718.3,656.5L718.6,656.4L719.0,656.7L719.3,656.4L719.6,656.4L719.9,656.4L720.2,656.6L720.5,656.5L720.8,656.6L721.2,656.5L721.5,656.5L721.8,656.7L722.1,656.7L722.4,656.5L722.7,656.6L723.0,656.4L723.4,656.6L723.7,656.6L724.0,656.5L724.3,656.6L724.6,656.5L724.9,656.6L725.2,656.7L725.6,656.5L725.9,656.3L726.2,655.5L726.5,655.2L726.8,656.0L727.1,657.1L727.4,657.4L727.8,657.0L728.1,656.7L728.4,656.6L728.7,656.5L729.0,656.7L729.3,656.5L729.6,656.8L730.0,656.7L730.3,656.8L730.6,656.4L730.9,656.6L731.2,656.7L731.5,656.5L731.9,656.7L732.2,656.7L732.5,656.6L732.8,656.6L733.1,656.4L733.4,656.8L733.7,656.8L734.1,656.5L734.4,656.7L734.7,656.4L735.0,656.7L735.3,656.4L735.6,656.8L735.9,656.6L736.3,656.6L736.6,656.6L736.9,656.4L737.2,656.6L737.5,656.6L737.8,656.4L738.1,656.4L738.5,656.6L738.8,656.8L739.1,656.4L739.4,656.4L739.7,656.6L740.0,656.8L740.3,656.5L740.7,656.4L741.0,656.6L741.3,656.4L741.6,656.6L741.9,656.7L742.2,656.7L742.5,656.4L742.9,656.6L743.2,656.7L743.5,656.4L743.8,656.7L744.1,656.7L744.4,656.8L744.7,656.4L745.1,656.8L745.4,656.4L745.7,656.6L746.0,656.4L746.3,656.7L746.6,656.6L746.9,656.5L747.3,656.7L747.6,656.7L747.9,656.6L748.2,656.7L748.5,656.8L748.8,656.7L749.1,656.4L749.5,656.6L749.8,656.5L750.1,656.8L750.4,656.7" fill="none" stroke="#4ea1ec" stroke-width="1.2" stroke-linejoin="round"/>
<path d="M436.00,513.40 L750.40,513.40 L750.40,662.40 L436.00,662.40 Z" fill="none" stroke="#3a3a3a" stroke-width="1.3"/>
<line x1="436.00" y1="662.40" x2="436.00" y2="666.90" stroke="#3a3a3a" stroke-width="1.3"/>
<text x="436.00" y="682.70" font-size="11.80" fill="#231f20" text-anchor="middle" font-weight="normal"  textLength="6.60" lengthAdjust="spacingAndGlyphs">0</text>
<line x1="514.60" y1="662.40" x2="514.60" y2="666.90" stroke="#3a3a3a" stroke-width="1.3"/>
<text x="514.60" y="682.70" font-size="11.80" fill="#231f20" text-anchor="middle" font-weight="normal"  textLength="6.60" lengthAdjust="spacingAndGlyphs">5</text>
<line x1="593.20" y1="662.40" x2="593.20" y2="666.90" stroke="#3a3a3a" stroke-width="1.3"/>
<text x="593.20" y="682.70" font-size="11.80" fill="#231f20" text-anchor="middle" font-weight="normal"  textLength="13.20" lengthAdjust="spacingAndGlyphs">10</text>
<line x1="671.80" y1="662.40" x2="671.80" y2="666.90" stroke="#3a3a3a" stroke-width="1.3"/>
<text x="671.80" y="682.70" font-size="11.80" fill="#231f20" text-anchor="middle" font-weight="normal"  textLength="13.20" lengthAdjust="spacingAndGlyphs">15</text>
<line x1="750.40" y1="662.40" x2="750.40" y2="666.90" stroke="#3a3a3a" stroke-width="1.3"/>
<text x="750.40" y="682.70" font-size="11.80" fill="#231f20" text-anchor="middle" font-weight="normal"  textLength="13.20" lengthAdjust="spacingAndGlyphs">20</text>
<text transform="translate(427.3,587) rotate(-90)" font-size="12.8" fill="#231f20" text-anchor="middle" textLength="88" lengthAdjust="spacingAndGlyphs">Intensity (a.u.)</text>
<text transform="translate(480.4,541) rotate(-90)" font-size="12.5" fill="#231f20" text-anchor="middle" textLength="41.5" lengthAdjust="spacingAndGlyphs">(0002)</text>
<text x="593.2" y="702.8" font-size="12.8" fill="#231f20" text-anchor="middle" textLength="51.5" lengthAdjust="spacingAndGlyphs">2<tspan font-style="italic">θ</tspan> (deg)</text>
<circle cx="617" cy="530.3" r="2" fill="#fff" stroke="#3b3b3b" stroke-width="1"/>
<text x="629.20" y="534.90" font-size="12.80" fill="#231f20" text-anchor="start" font-weight="normal"  textLength="111.00" lengthAdjust="spacingAndGlyphs">Experimental data</text>
<line x1="611.4" y1="545.6" x2="623" y2="545.6" stroke="#e64a4a" stroke-width="1.8"/>
<text x="629.20" y="550.20" font-size="12.80" fill="#231f20" text-anchor="start" font-weight="normal"  textLength="96.70" lengthAdjust="spacingAndGlyphs">Calculated data</text>
<line x1="611.4" y1="561.6" x2="623" y2="561.6" stroke="#4ea1ec" stroke-width="1.6"/>
<text x="629.20" y="566.20" font-size="12.80" fill="#231f20" text-anchor="start" font-weight="normal"  textLength="62.70" lengthAdjust="spacingAndGlyphs">Difference</text>
</svg></body></html>
